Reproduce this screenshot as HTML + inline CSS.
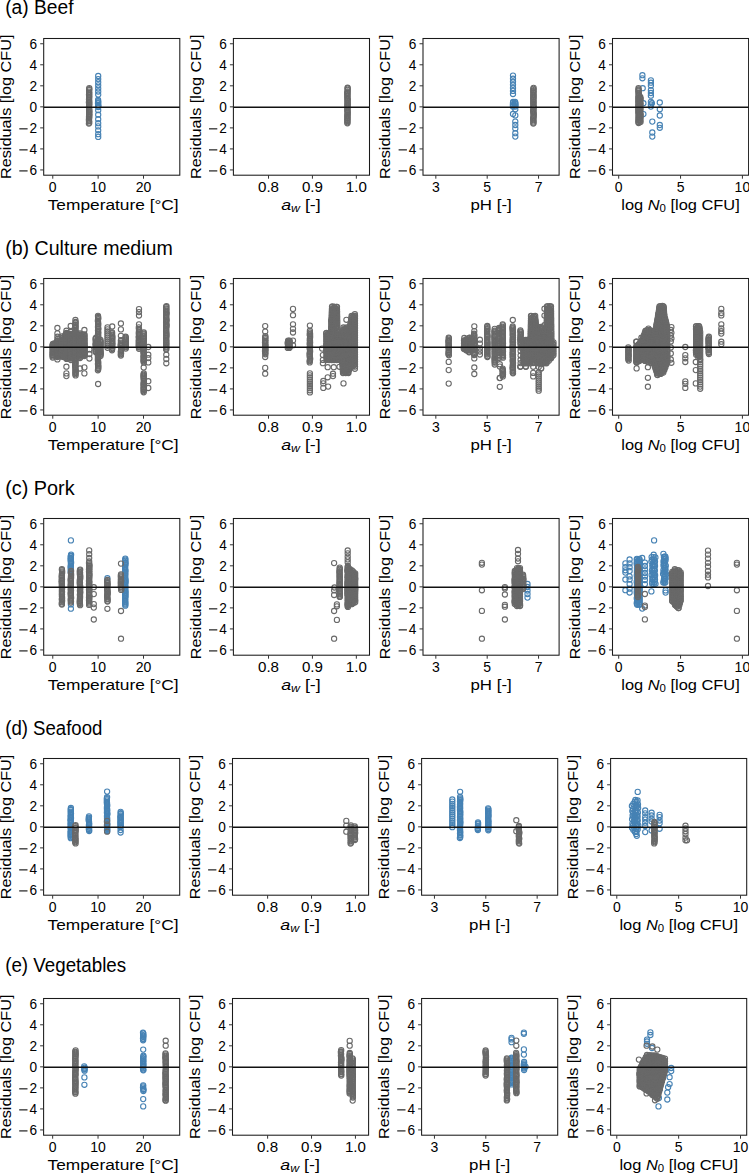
<!DOCTYPE html><html><head><meta charset="utf-8"><style>html,body{margin:0;padding:0;background:#fff;}svg{display:block;}text{font-family:"Liberation Sans",sans-serif;fill:#000;}circle{r:2.6px;stroke-width:1.1px;}</style></head><body>
<svg width="749" height="1173" viewBox="0 0 749 1173">
<rect x="0" y="0" width="749" height="1173" fill="#fff"/>
<text x="5.2" y="14.4" font-size="20" textLength="68.3" lengthAdjust="spacingAndGlyphs">(a) Beef</text>
<text x="5.2" y="254.6" font-size="20" textLength="167.6" lengthAdjust="spacingAndGlyphs">(b) Culture medium</text>
<text x="5.2" y="494.6" font-size="20" textLength="69.4" lengthAdjust="spacingAndGlyphs">(c) Pork</text>
<text x="5.2" y="734.6" font-size="20" textLength="97.2" lengthAdjust="spacingAndGlyphs">(d) Seafood</text>
<text x="5.2" y="972.0" font-size="20" textLength="121.0" lengthAdjust="spacingAndGlyphs">(e) Vegetables</text>
<g fill="none" stroke="#4682b4" stroke-width="1.1">
<circle r="2.6" cx="98.1" cy="100.0"/>
<circle r="2.6" cx="98.1" cy="101.2"/>
<circle r="2.6" cx="98.3" cy="102.4"/>
<circle r="2.6" cx="98.0" cy="103.2"/>
<circle r="2.6" cx="98.1" cy="104.9"/>
<circle r="2.6" cx="98.4" cy="105.7"/>
<circle r="2.6" cx="98.2" cy="107.0"/>
<circle r="2.6" cx="98.2" cy="76.0"/>
<circle r="2.6" cx="98.2" cy="79.1"/>
<circle r="2.6" cx="98.2" cy="82.2"/>
<circle r="2.6" cx="98.2" cy="85.3"/>
<circle r="2.6" cx="98.2" cy="88.4"/>
<circle r="2.6" cx="98.2" cy="91.5"/>
<circle r="2.6" cx="98.2" cy="94.6"/>
<circle r="2.6" cx="98.2" cy="110.2"/>
<circle r="2.6" cx="98.2" cy="114.7"/>
<circle r="2.6" cx="98.2" cy="119.2"/>
<circle r="2.6" cx="98.2" cy="123.2"/>
<circle r="2.6" cx="98.2" cy="126.4"/>
<circle r="2.6" cx="98.2" cy="130.3"/>
<circle r="2.6" cx="98.2" cy="134.2"/>
<circle r="2.6" cx="98.2" cy="136.9"/>
</g>
<g fill="none" stroke="#696969" stroke-width="1.1">
<circle r="2.6" cx="89.3" cy="88.1"/>
<circle r="2.6" cx="89.2" cy="89.2"/>
<circle r="2.6" cx="89.2" cy="90.1"/>
<circle r="2.6" cx="89.1" cy="91.6"/>
<circle r="2.6" cx="89.2" cy="92.7"/>
<circle r="2.6" cx="89.2" cy="93.4"/>
<circle r="2.6" cx="89.0" cy="94.8"/>
<circle r="2.6" cx="89.3" cy="95.6"/>
<circle r="2.6" cx="89.2" cy="97.0"/>
<circle r="2.6" cx="89.2" cy="98.3"/>
<circle r="2.6" cx="89.0" cy="99.4"/>
<circle r="2.6" cx="89.1" cy="100.5"/>
<circle r="2.6" cx="89.3" cy="101.7"/>
<circle r="2.6" cx="88.9" cy="102.3"/>
<circle r="2.6" cx="89.3" cy="103.5"/>
<circle r="2.6" cx="89.2" cy="104.7"/>
<circle r="2.6" cx="89.1" cy="105.7"/>
<circle r="2.6" cx="89.0" cy="106.9"/>
<circle r="2.6" cx="89.1" cy="108.1"/>
<circle r="2.6" cx="89.2" cy="109.4"/>
<circle r="2.6" cx="89.3" cy="110.5"/>
<circle r="2.6" cx="89.2" cy="111.7"/>
<circle r="2.6" cx="89.3" cy="112.3"/>
<circle r="2.6" cx="89.3" cy="113.9"/>
<circle r="2.6" cx="89.2" cy="114.8"/>
<circle r="2.6" cx="89.3" cy="115.7"/>
<circle r="2.6" cx="89.0" cy="117.0"/>
<circle r="2.6" cx="89.3" cy="117.8"/>
<circle r="2.6" cx="88.9" cy="119.5"/>
<circle r="2.6" cx="89.1" cy="120.5"/>
<circle r="2.6" cx="89.0" cy="121.2"/>
<circle r="2.6" cx="89.3" cy="122.7"/>
<circle r="2.6" cx="88.9" cy="123.6"/>
</g>
<line x1="43.7" y1="107.25" x2="179.8" y2="107.25" stroke="#111" stroke-width="1.6"/>
<rect x="43.7" y="38.5" width="136.1" height="136.7" fill="none" stroke="#1a1a1a" stroke-width="1.05"/>
<line x1="40.2" y1="169.94" x2="43.7" y2="169.94" stroke="#333" stroke-width="1.0"/>
<text x="37.1" y="174.74" font-size="14" text-anchor="end" textLength="7.6" lengthAdjust="spacingAndGlyphs">6</text>
<rect x="19.3" y="170.39" width="8.3" height="1.05" fill="#000"/>
<line x1="40.2" y1="148.91" x2="43.7" y2="148.91" stroke="#333" stroke-width="1.0"/>
<text x="37.1" y="153.71" font-size="14" text-anchor="end" textLength="7.6" lengthAdjust="spacingAndGlyphs">4</text>
<rect x="19.3" y="149.36" width="8.3" height="1.05" fill="#000"/>
<line x1="40.2" y1="127.88" x2="43.7" y2="127.88" stroke="#333" stroke-width="1.0"/>
<text x="37.1" y="132.68" font-size="14" text-anchor="end" textLength="7.6" lengthAdjust="spacingAndGlyphs">2</text>
<rect x="19.3" y="128.33" width="8.3" height="1.05" fill="#000"/>
<line x1="40.2" y1="106.85" x2="43.7" y2="106.85" stroke="#333" stroke-width="1.0"/>
<text x="37.1" y="111.65" font-size="14" text-anchor="end" textLength="7.6" lengthAdjust="spacingAndGlyphs">0</text>
<line x1="40.2" y1="85.82" x2="43.7" y2="85.82" stroke="#333" stroke-width="1.0"/>
<text x="37.1" y="90.62" font-size="14" text-anchor="end" textLength="7.6" lengthAdjust="spacingAndGlyphs">2</text>
<line x1="40.2" y1="64.79" x2="43.7" y2="64.79" stroke="#333" stroke-width="1.0"/>
<text x="37.1" y="69.59" font-size="14" text-anchor="end" textLength="7.6" lengthAdjust="spacingAndGlyphs">4</text>
<line x1="40.2" y1="43.76" x2="43.7" y2="43.76" stroke="#333" stroke-width="1.0"/>
<text x="37.1" y="48.56" font-size="14" text-anchor="end" textLength="7.6" lengthAdjust="spacingAndGlyphs">6</text>
<line x1="52.77" y1="175.2" x2="52.77" y2="178.7" stroke="#333" stroke-width="1.0"/>
<text x="52.77" y="192.0" font-size="14" text-anchor="middle" textLength="7.8" lengthAdjust="spacingAndGlyphs">0</text>
<line x1="98.14" y1="175.2" x2="98.14" y2="178.7" stroke="#333" stroke-width="1.0"/>
<text x="98.14" y="192.0" font-size="14" text-anchor="middle" textLength="15.6" lengthAdjust="spacingAndGlyphs">10</text>
<line x1="143.51" y1="175.2" x2="143.51" y2="178.7" stroke="#333" stroke-width="1.0"/>
<text x="143.51" y="192.0" font-size="14" text-anchor="middle" textLength="15.6" lengthAdjust="spacingAndGlyphs">20</text>
<text transform="translate(11.0,106.8) rotate(-90)" font-size="15.2" text-anchor="middle" textLength="144.5" lengthAdjust="spacingAndGlyphs">Residuals [log CFU]</text>
<text x="113.2" y="209.8" font-size="15.2" text-anchor="middle" textLength="131" lengthAdjust="spacingAndGlyphs">Temperature [°C]</text>
<g fill="none" stroke="#696969" stroke-width="1.1">
<circle r="2.6" cx="347.6" cy="87.7"/>
<circle r="2.6" cx="347.6" cy="88.5"/>
<circle r="2.6" cx="347.7" cy="89.8"/>
<circle r="2.6" cx="347.5" cy="91.3"/>
<circle r="2.6" cx="347.4" cy="92.4"/>
<circle r="2.6" cx="347.5" cy="93.0"/>
<circle r="2.6" cx="347.3" cy="94.1"/>
<circle r="2.6" cx="347.6" cy="95.4"/>
<circle r="2.6" cx="347.3" cy="96.4"/>
<circle r="2.6" cx="347.4" cy="97.9"/>
<circle r="2.6" cx="347.7" cy="99.1"/>
<circle r="2.6" cx="347.5" cy="99.9"/>
<circle r="2.6" cx="347.6" cy="101.1"/>
<circle r="2.6" cx="347.5" cy="102.2"/>
<circle r="2.6" cx="347.7" cy="103.3"/>
<circle r="2.6" cx="347.5" cy="104.4"/>
<circle r="2.6" cx="347.4" cy="105.6"/>
<circle r="2.6" cx="347.7" cy="106.5"/>
<circle r="2.6" cx="347.5" cy="107.7"/>
<circle r="2.6" cx="347.5" cy="108.5"/>
<circle r="2.6" cx="347.3" cy="110.0"/>
<circle r="2.6" cx="347.6" cy="111.1"/>
<circle r="2.6" cx="347.6" cy="111.9"/>
<circle r="2.6" cx="347.6" cy="113.3"/>
<circle r="2.6" cx="347.6" cy="114.3"/>
<circle r="2.6" cx="347.3" cy="115.7"/>
<circle r="2.6" cx="347.6" cy="116.4"/>
<circle r="2.6" cx="347.4" cy="118.0"/>
<circle r="2.6" cx="347.5" cy="118.8"/>
<circle r="2.6" cx="347.4" cy="119.9"/>
<circle r="2.6" cx="347.4" cy="121.0"/>
<circle r="2.6" cx="347.4" cy="122.2"/>
<circle r="2.6" cx="347.4" cy="123.3"/>
</g>
<line x1="233.4" y1="107.25" x2="369.5" y2="107.25" stroke="#111" stroke-width="1.6"/>
<rect x="233.4" y="38.5" width="136.1" height="136.7" fill="none" stroke="#1a1a1a" stroke-width="1.05"/>
<line x1="229.9" y1="169.94" x2="233.4" y2="169.94" stroke="#333" stroke-width="1.0"/>
<text x="226.8" y="174.74" font-size="14" text-anchor="end" textLength="7.6" lengthAdjust="spacingAndGlyphs">6</text>
<rect x="209.0" y="170.39" width="8.3" height="1.05" fill="#000"/>
<line x1="229.9" y1="148.91" x2="233.4" y2="148.91" stroke="#333" stroke-width="1.0"/>
<text x="226.8" y="153.71" font-size="14" text-anchor="end" textLength="7.6" lengthAdjust="spacingAndGlyphs">4</text>
<rect x="209.0" y="149.36" width="8.3" height="1.05" fill="#000"/>
<line x1="229.9" y1="127.88" x2="233.4" y2="127.88" stroke="#333" stroke-width="1.0"/>
<text x="226.8" y="132.68" font-size="14" text-anchor="end" textLength="7.6" lengthAdjust="spacingAndGlyphs">2</text>
<rect x="209.0" y="128.33" width="8.3" height="1.05" fill="#000"/>
<line x1="229.9" y1="106.85" x2="233.4" y2="106.85" stroke="#333" stroke-width="1.0"/>
<text x="226.8" y="111.65" font-size="14" text-anchor="end" textLength="7.6" lengthAdjust="spacingAndGlyphs">0</text>
<line x1="229.9" y1="85.82" x2="233.4" y2="85.82" stroke="#333" stroke-width="1.0"/>
<text x="226.8" y="90.62" font-size="14" text-anchor="end" textLength="7.6" lengthAdjust="spacingAndGlyphs">2</text>
<line x1="229.9" y1="64.79" x2="233.4" y2="64.79" stroke="#333" stroke-width="1.0"/>
<text x="226.8" y="69.59" font-size="14" text-anchor="end" textLength="7.6" lengthAdjust="spacingAndGlyphs">4</text>
<line x1="229.9" y1="43.76" x2="233.4" y2="43.76" stroke="#333" stroke-width="1.0"/>
<text x="226.8" y="48.56" font-size="14" text-anchor="end" textLength="7.6" lengthAdjust="spacingAndGlyphs">6</text>
<line x1="268.52" y1="175.2" x2="268.52" y2="178.7" stroke="#333" stroke-width="1.0"/>
<text x="268.52" y="192.0" font-size="14" text-anchor="middle" textLength="21.0" lengthAdjust="spacingAndGlyphs">0.8</text>
<line x1="312.43" y1="175.2" x2="312.43" y2="178.7" stroke="#333" stroke-width="1.0"/>
<text x="312.43" y="192.0" font-size="14" text-anchor="middle" textLength="21.0" lengthAdjust="spacingAndGlyphs">0.9</text>
<line x1="356.33" y1="175.2" x2="356.33" y2="178.7" stroke="#333" stroke-width="1.0"/>
<text x="356.33" y="192.0" font-size="14" text-anchor="middle" textLength="21.0" lengthAdjust="spacingAndGlyphs">1.0</text>
<text transform="translate(200.7,106.8) rotate(-90)" font-size="15.2" text-anchor="middle" textLength="144.5" lengthAdjust="spacingAndGlyphs">Residuals [log CFU]</text>
<text x="300.9" y="209.8" font-size="15.2" text-anchor="middle" textLength="39.5" lengthAdjust="spacingAndGlyphs"><tspan font-style="italic">a</tspan><tspan font-style="italic" font-size="10.6" dy="2.6">w</tspan><tspan dy="-2.6"> [-]</tspan></text>
<g fill="none" stroke="#4682b4" stroke-width="1.1">
<circle r="2.6" cx="513.1" cy="102.0"/>
<circle r="2.6" cx="513.0" cy="102.8"/>
<circle r="2.6" cx="512.9" cy="104.4"/>
<circle r="2.6" cx="513.2" cy="105.2"/>
<circle r="2.6" cx="512.9" cy="106.5"/>
<circle r="2.6" cx="515.1" cy="102.0"/>
<circle r="2.6" cx="515.4" cy="103.1"/>
<circle r="2.6" cx="515.2" cy="104.0"/>
<circle r="2.6" cx="515.5" cy="105.3"/>
<circle r="2.6" cx="515.3" cy="106.5"/>
<circle r="2.6" cx="513.0" cy="75.6"/>
<circle r="2.6" cx="513.0" cy="78.7"/>
<circle r="2.6" cx="513.0" cy="81.7"/>
<circle r="2.6" cx="513.0" cy="84.8"/>
<circle r="2.6" cx="513.0" cy="87.9"/>
<circle r="2.6" cx="513.0" cy="90.9"/>
<circle r="2.6" cx="513.0" cy="94.0"/>
<circle r="2.6" cx="513.0" cy="114.0"/>
<circle r="2.6" cx="515.3" cy="109.3"/>
<circle r="2.6" cx="515.3" cy="115.4"/>
<circle r="2.6" cx="515.3" cy="121.6"/>
<circle r="2.6" cx="515.3" cy="125.0"/>
<circle r="2.6" cx="515.3" cy="128.4"/>
<circle r="2.6" cx="515.3" cy="133.2"/>
<circle r="2.6" cx="515.3" cy="136.6"/>
</g>
<g fill="none" stroke="#696969" stroke-width="1.1">
<circle r="2.6" cx="533.6" cy="87.9"/>
<circle r="2.6" cx="533.3" cy="88.8"/>
<circle r="2.6" cx="533.6" cy="90.2"/>
<circle r="2.6" cx="533.3" cy="91.2"/>
<circle r="2.6" cx="533.4" cy="92.1"/>
<circle r="2.6" cx="533.6" cy="93.3"/>
<circle r="2.6" cx="533.2" cy="94.8"/>
<circle r="2.6" cx="533.6" cy="95.6"/>
<circle r="2.6" cx="533.6" cy="96.9"/>
<circle r="2.6" cx="533.2" cy="97.8"/>
<circle r="2.6" cx="533.5" cy="98.9"/>
<circle r="2.6" cx="533.3" cy="100.0"/>
<circle r="2.6" cx="533.4" cy="101.2"/>
<circle r="2.6" cx="533.6" cy="102.3"/>
<circle r="2.6" cx="533.2" cy="103.3"/>
<circle r="2.6" cx="533.6" cy="104.9"/>
<circle r="2.6" cx="533.4" cy="106.0"/>
<circle r="2.6" cx="533.6" cy="107.1"/>
<circle r="2.6" cx="533.5" cy="107.8"/>
<circle r="2.6" cx="533.5" cy="109.3"/>
<circle r="2.6" cx="533.3" cy="110.2"/>
<circle r="2.6" cx="533.3" cy="111.2"/>
<circle r="2.6" cx="533.4" cy="112.2"/>
<circle r="2.6" cx="533.6" cy="113.4"/>
<circle r="2.6" cx="533.6" cy="114.4"/>
<circle r="2.6" cx="533.6" cy="115.9"/>
<circle r="2.6" cx="533.6" cy="117.1"/>
<circle r="2.6" cx="533.2" cy="118.1"/>
<circle r="2.6" cx="533.2" cy="119.3"/>
<circle r="2.6" cx="533.5" cy="120.1"/>
<circle r="2.6" cx="533.4" cy="121.4"/>
<circle r="2.6" cx="533.5" cy="122.7"/>
<circle r="2.6" cx="533.3" cy="123.6"/>
</g>
<line x1="423.0" y1="107.25" x2="559.1" y2="107.25" stroke="#111" stroke-width="1.6"/>
<rect x="423.0" y="38.5" width="136.1" height="136.7" fill="none" stroke="#1a1a1a" stroke-width="1.05"/>
<line x1="419.5" y1="169.94" x2="423.0" y2="169.94" stroke="#333" stroke-width="1.0"/>
<text x="416.4" y="174.74" font-size="14" text-anchor="end" textLength="7.6" lengthAdjust="spacingAndGlyphs">6</text>
<rect x="398.6" y="170.39" width="8.3" height="1.05" fill="#000"/>
<line x1="419.5" y1="148.91" x2="423.0" y2="148.91" stroke="#333" stroke-width="1.0"/>
<text x="416.4" y="153.71" font-size="14" text-anchor="end" textLength="7.6" lengthAdjust="spacingAndGlyphs">4</text>
<rect x="398.6" y="149.36" width="8.3" height="1.05" fill="#000"/>
<line x1="419.5" y1="127.88" x2="423.0" y2="127.88" stroke="#333" stroke-width="1.0"/>
<text x="416.4" y="132.68" font-size="14" text-anchor="end" textLength="7.6" lengthAdjust="spacingAndGlyphs">2</text>
<rect x="398.6" y="128.33" width="8.3" height="1.05" fill="#000"/>
<line x1="419.5" y1="106.85" x2="423.0" y2="106.85" stroke="#333" stroke-width="1.0"/>
<text x="416.4" y="111.65" font-size="14" text-anchor="end" textLength="7.6" lengthAdjust="spacingAndGlyphs">0</text>
<line x1="419.5" y1="85.82" x2="423.0" y2="85.82" stroke="#333" stroke-width="1.0"/>
<text x="416.4" y="90.62" font-size="14" text-anchor="end" textLength="7.6" lengthAdjust="spacingAndGlyphs">2</text>
<line x1="419.5" y1="64.79" x2="423.0" y2="64.79" stroke="#333" stroke-width="1.0"/>
<text x="416.4" y="69.59" font-size="14" text-anchor="end" textLength="7.6" lengthAdjust="spacingAndGlyphs">4</text>
<line x1="419.5" y1="43.76" x2="423.0" y2="43.76" stroke="#333" stroke-width="1.0"/>
<text x="416.4" y="48.56" font-size="14" text-anchor="end" textLength="7.6" lengthAdjust="spacingAndGlyphs">6</text>
<line x1="435.84" y1="175.2" x2="435.84" y2="178.7" stroke="#333" stroke-width="1.0"/>
<text x="435.84" y="192.0" font-size="14" text-anchor="middle" textLength="7.8" lengthAdjust="spacingAndGlyphs">3</text>
<line x1="487.20" y1="175.2" x2="487.20" y2="178.7" stroke="#333" stroke-width="1.0"/>
<text x="487.20" y="192.0" font-size="14" text-anchor="middle" textLength="7.8" lengthAdjust="spacingAndGlyphs">5</text>
<line x1="538.56" y1="175.2" x2="538.56" y2="178.7" stroke="#333" stroke-width="1.0"/>
<text x="538.56" y="192.0" font-size="14" text-anchor="middle" textLength="7.8" lengthAdjust="spacingAndGlyphs">7</text>
<text transform="translate(390.3,106.8) rotate(-90)" font-size="15.2" text-anchor="middle" textLength="144.5" lengthAdjust="spacingAndGlyphs">Residuals [log CFU]</text>
<text x="491.1" y="209.8" font-size="15.2" text-anchor="middle" textLength="41.2" lengthAdjust="spacingAndGlyphs">pH [-]</text>
<g fill="none" stroke="#4682b4" stroke-width="1.1">
<circle r="2.6" cx="642.4" cy="75.2"/>
<circle r="2.6" cx="642.4" cy="78.3"/>
<circle r="2.6" cx="642.7" cy="88.2"/>
<circle r="2.6" cx="643.4" cy="103.2"/>
<circle r="2.6" cx="643.4" cy="114.1"/>
<circle r="2.6" cx="650.9" cy="80.3"/>
<circle r="2.6" cx="650.9" cy="82.7"/>
<circle r="2.6" cx="650.9" cy="85.5"/>
<circle r="2.6" cx="650.9" cy="90.2"/>
<circle r="2.6" cx="650.9" cy="93.0"/>
<circle r="2.6" cx="650.9" cy="95.7"/>
<circle r="2.6" cx="650.9" cy="101.8"/>
<circle r="2.6" cx="650.9" cy="104.6"/>
<circle r="2.6" cx="651.9" cy="103.2"/>
<circle r="2.6" cx="650.9" cy="106.6"/>
<circle r="2.6" cx="659.8" cy="102.5"/>
<circle r="2.6" cx="659.8" cy="109.3"/>
<circle r="2.6" cx="659.8" cy="115.5"/>
<circle r="2.6" cx="652.3" cy="121.6"/>
<circle r="2.6" cx="659.8" cy="125.0"/>
<circle r="2.6" cx="659.8" cy="127.8"/>
<circle r="2.6" cx="652.3" cy="132.5"/>
<circle r="2.6" cx="652.3" cy="136.6"/>
</g>
<g fill="none" stroke="#696969" stroke-width="1.1">
<circle r="2.6" cx="638.5" cy="88.2"/>
<circle r="2.6" cx="638.6" cy="89.5"/>
<circle r="2.6" cx="638.5" cy="90.5"/>
<circle r="2.6" cx="638.6" cy="91.3"/>
<circle r="2.6" cx="638.4" cy="92.7"/>
<circle r="2.6" cx="638.8" cy="93.8"/>
<circle r="2.6" cx="638.8" cy="94.9"/>
<circle r="2.6" cx="638.7" cy="95.5"/>
<circle r="2.6" cx="638.4" cy="97.1"/>
<circle r="2.6" cx="638.5" cy="97.9"/>
<circle r="2.6" cx="638.6" cy="99.1"/>
<circle r="2.6" cx="638.7" cy="100.1"/>
<circle r="2.6" cx="638.4" cy="101.0"/>
<circle r="2.6" cx="638.4" cy="102.1"/>
<circle r="2.6" cx="638.8" cy="103.2"/>
<circle r="2.6" cx="638.4" cy="104.7"/>
<circle r="2.6" cx="638.5" cy="105.6"/>
<circle r="2.6" cx="638.5" cy="106.6"/>
<circle r="2.6" cx="638.6" cy="107.9"/>
<circle r="2.6" cx="638.4" cy="108.8"/>
<circle r="2.6" cx="638.4" cy="109.8"/>
<circle r="2.6" cx="638.7" cy="111.1"/>
<circle r="2.6" cx="638.4" cy="112.1"/>
<circle r="2.6" cx="638.5" cy="113.0"/>
<circle r="2.6" cx="638.7" cy="114.4"/>
<circle r="2.6" cx="638.8" cy="115.3"/>
<circle r="2.6" cx="638.6" cy="116.5"/>
<circle r="2.6" cx="638.6" cy="117.5"/>
<circle r="2.6" cx="638.6" cy="118.8"/>
<circle r="2.6" cx="638.6" cy="119.9"/>
<circle r="2.6" cx="638.6" cy="120.7"/>
<circle r="2.6" cx="638.4" cy="122.0"/>
<circle r="2.6" cx="638.6" cy="123.0"/>
<circle r="2.6" cx="640.3" cy="97.0"/>
<circle r="2.6" cx="640.5" cy="98.3"/>
<circle r="2.6" cx="640.5" cy="99.1"/>
<circle r="2.6" cx="640.2" cy="100.4"/>
<circle r="2.6" cx="640.1" cy="101.3"/>
<circle r="2.6" cx="640.4" cy="102.6"/>
<circle r="2.6" cx="640.4" cy="103.8"/>
<circle r="2.6" cx="640.4" cy="104.7"/>
<circle r="2.6" cx="640.1" cy="105.7"/>
<circle r="2.6" cx="640.1" cy="106.8"/>
<circle r="2.6" cx="640.4" cy="107.7"/>
<circle r="2.6" cx="640.1" cy="108.7"/>
<circle r="2.6" cx="640.5" cy="109.8"/>
<circle r="2.6" cx="640.1" cy="110.9"/>
<circle r="2.6" cx="640.1" cy="112.4"/>
<circle r="2.6" cx="640.4" cy="113.5"/>
<circle r="2.6" cx="640.5" cy="114.6"/>
<circle r="2.6" cx="640.4" cy="115.5"/>
<circle r="2.6" cx="640.4" cy="116.3"/>
<circle r="2.6" cx="640.4" cy="117.7"/>
<circle r="2.6" cx="640.4" cy="118.5"/>
<circle r="2.6" cx="640.1" cy="120.1"/>
<circle r="2.6" cx="640.3" cy="120.8"/>
<circle r="2.6" cx="640.5" cy="122.0"/>
</g>
<line x1="612.5" y1="107.25" x2="748.6" y2="107.25" stroke="#111" stroke-width="1.6"/>
<rect x="612.5" y="38.5" width="136.1" height="136.7" fill="none" stroke="#1a1a1a" stroke-width="1.05"/>
<line x1="609.0" y1="169.94" x2="612.5" y2="169.94" stroke="#333" stroke-width="1.0"/>
<text x="605.9" y="174.74" font-size="14" text-anchor="end" textLength="7.6" lengthAdjust="spacingAndGlyphs">6</text>
<rect x="588.1" y="170.39" width="8.3" height="1.05" fill="#000"/>
<line x1="609.0" y1="148.91" x2="612.5" y2="148.91" stroke="#333" stroke-width="1.0"/>
<text x="605.9" y="153.71" font-size="14" text-anchor="end" textLength="7.6" lengthAdjust="spacingAndGlyphs">4</text>
<rect x="588.1" y="149.36" width="8.3" height="1.05" fill="#000"/>
<line x1="609.0" y1="127.88" x2="612.5" y2="127.88" stroke="#333" stroke-width="1.0"/>
<text x="605.9" y="132.68" font-size="14" text-anchor="end" textLength="7.6" lengthAdjust="spacingAndGlyphs">2</text>
<rect x="588.1" y="128.33" width="8.3" height="1.05" fill="#000"/>
<line x1="609.0" y1="106.85" x2="612.5" y2="106.85" stroke="#333" stroke-width="1.0"/>
<text x="605.9" y="111.65" font-size="14" text-anchor="end" textLength="7.6" lengthAdjust="spacingAndGlyphs">0</text>
<line x1="609.0" y1="85.82" x2="612.5" y2="85.82" stroke="#333" stroke-width="1.0"/>
<text x="605.9" y="90.62" font-size="14" text-anchor="end" textLength="7.6" lengthAdjust="spacingAndGlyphs">2</text>
<line x1="609.0" y1="64.79" x2="612.5" y2="64.79" stroke="#333" stroke-width="1.0"/>
<text x="605.9" y="69.59" font-size="14" text-anchor="end" textLength="7.6" lengthAdjust="spacingAndGlyphs">4</text>
<line x1="609.0" y1="43.76" x2="612.5" y2="43.76" stroke="#333" stroke-width="1.0"/>
<text x="605.9" y="48.56" font-size="14" text-anchor="end" textLength="7.6" lengthAdjust="spacingAndGlyphs">6</text>
<line x1="618.69" y1="175.2" x2="618.69" y2="178.7" stroke="#333" stroke-width="1.0"/>
<text x="618.69" y="192.0" font-size="14" text-anchor="middle" textLength="7.8" lengthAdjust="spacingAndGlyphs">0</text>
<line x1="680.55" y1="175.2" x2="680.55" y2="178.7" stroke="#333" stroke-width="1.0"/>
<text x="680.55" y="192.0" font-size="14" text-anchor="middle" textLength="7.8" lengthAdjust="spacingAndGlyphs">5</text>
<line x1="742.41" y1="175.2" x2="742.41" y2="178.7" stroke="#333" stroke-width="1.0"/>
<text x="742.41" y="192.0" font-size="14" text-anchor="middle" textLength="15.6" lengthAdjust="spacingAndGlyphs">10</text>
<text transform="translate(579.8,106.8) rotate(-90)" font-size="15.2" text-anchor="middle" textLength="144.5" lengthAdjust="spacingAndGlyphs">Residuals [log CFU]</text>
<text x="680.5" y="209.8" font-size="15.2" text-anchor="middle" textLength="118.5" lengthAdjust="spacingAndGlyphs">log <tspan font-style="italic">N</tspan><tspan font-size="10.6" dy="2.6">0</tspan><tspan dy="-2.6"> [log CFU]</tspan></text>
<g fill="none" stroke="#696969" stroke-width="1.1">
<circle r="2.6" cx="65.3" cy="334.9"/>
<circle r="2.6" cx="67.3" cy="335.3"/>
<circle r="2.6" cx="69.7" cy="335.1"/>
<circle r="2.6" cx="71.4" cy="335.1"/>
<circle r="2.6" cx="73.4" cy="335.1"/>
<circle r="2.6" cx="75.2" cy="335.2"/>
<circle r="2.6" cx="77.9" cy="335.1"/>
<circle r="2.6" cx="79.7" cy="334.9"/>
<circle r="2.6" cx="81.7" cy="335.4"/>
<circle r="2.6" cx="83.6" cy="335.2"/>
<circle r="2.6" cx="66.5" cy="336.5"/>
<circle r="2.6" cx="68.8" cy="336.1"/>
<circle r="2.6" cx="70.2" cy="336.6"/>
<circle r="2.6" cx="72.8" cy="336.4"/>
<circle r="2.6" cx="74.5" cy="336.6"/>
<circle r="2.6" cx="76.2" cy="336.2"/>
<circle r="2.6" cx="78.3" cy="336.5"/>
<circle r="2.6" cx="80.4" cy="336.2"/>
<circle r="2.6" cx="82.7" cy="336.8"/>
<circle r="2.6" cx="65.3" cy="337.8"/>
<circle r="2.6" cx="67.4" cy="337.9"/>
<circle r="2.6" cx="69.6" cy="337.4"/>
<circle r="2.6" cx="71.3" cy="337.2"/>
<circle r="2.6" cx="73.5" cy="337.5"/>
<circle r="2.6" cx="75.2" cy="337.5"/>
<circle r="2.6" cx="77.4" cy="337.8"/>
<circle r="2.6" cx="79.2" cy="338.0"/>
<circle r="2.6" cx="81.5" cy="337.7"/>
<circle r="2.6" cx="83.5" cy="337.9"/>
<circle r="2.6" cx="64.8" cy="338.8"/>
<circle r="2.6" cx="66.5" cy="339.0"/>
<circle r="2.6" cx="68.8" cy="338.7"/>
<circle r="2.6" cx="70.7" cy="339.2"/>
<circle r="2.6" cx="72.5" cy="338.6"/>
<circle r="2.6" cx="74.3" cy="339.0"/>
<circle r="2.6" cx="76.6" cy="339.2"/>
<circle r="2.6" cx="78.8" cy="338.6"/>
<circle r="2.6" cx="80.3" cy="338.6"/>
<circle r="2.6" cx="82.2" cy="339.0"/>
<circle r="2.6" cx="63.8" cy="340.3"/>
<circle r="2.6" cx="65.3" cy="340.3"/>
<circle r="2.6" cx="67.4" cy="339.9"/>
<circle r="2.6" cx="69.7" cy="339.7"/>
<circle r="2.6" cx="71.2" cy="340.3"/>
<circle r="2.6" cx="73.3" cy="339.9"/>
<circle r="2.6" cx="75.6" cy="340.1"/>
<circle r="2.6" cx="77.1" cy="339.9"/>
<circle r="2.6" cx="79.4" cy="340.0"/>
<circle r="2.6" cx="81.3" cy="340.1"/>
<circle r="2.6" cx="83.9" cy="339.9"/>
<circle r="2.6" cx="62.5" cy="340.9"/>
<circle r="2.6" cx="64.3" cy="341.3"/>
<circle r="2.6" cx="66.2" cy="341.5"/>
<circle r="2.6" cx="68.8" cy="340.9"/>
<circle r="2.6" cx="70.9" cy="341.1"/>
<circle r="2.6" cx="72.7" cy="341.4"/>
<circle r="2.6" cx="74.3" cy="341.3"/>
<circle r="2.6" cx="76.6" cy="341.4"/>
<circle r="2.6" cx="78.3" cy="341.4"/>
<circle r="2.6" cx="80.9" cy="341.3"/>
<circle r="2.6" cx="82.5" cy="340.9"/>
<circle r="2.6" cx="61.5" cy="342.3"/>
<circle r="2.6" cx="63.7" cy="342.5"/>
<circle r="2.6" cx="65.6" cy="342.1"/>
<circle r="2.6" cx="67.6" cy="342.5"/>
<circle r="2.6" cx="69.2" cy="342.7"/>
<circle r="2.6" cx="71.6" cy="342.1"/>
<circle r="2.6" cx="73.8" cy="342.1"/>
<circle r="2.6" cx="75.4" cy="342.6"/>
<circle r="2.6" cx="77.6" cy="342.4"/>
<circle r="2.6" cx="79.6" cy="342.4"/>
<circle r="2.6" cx="81.3" cy="342.1"/>
<circle r="2.6" cx="83.2" cy="342.6"/>
<circle r="2.6" cx="54.7" cy="343.6"/>
<circle r="2.6" cx="56.7" cy="343.5"/>
<circle r="2.6" cx="58.3" cy="343.5"/>
<circle r="2.6" cx="60.8" cy="343.2"/>
<circle r="2.6" cx="62.5" cy="343.4"/>
<circle r="2.6" cx="64.7" cy="343.5"/>
<circle r="2.6" cx="66.4" cy="343.5"/>
<circle r="2.6" cx="68.5" cy="343.8"/>
<circle r="2.6" cx="70.4" cy="343.9"/>
<circle r="2.6" cx="72.2" cy="343.4"/>
<circle r="2.6" cx="74.2" cy="343.3"/>
<circle r="2.6" cx="76.7" cy="343.8"/>
<circle r="2.6" cx="78.2" cy="343.4"/>
<circle r="2.6" cx="80.4" cy="343.8"/>
<circle r="2.6" cx="82.8" cy="343.8"/>
<circle r="2.6" cx="55.6" cy="344.5"/>
<circle r="2.6" cx="57.4" cy="344.6"/>
<circle r="2.6" cx="59.5" cy="344.9"/>
<circle r="2.6" cx="61.3" cy="344.6"/>
<circle r="2.6" cx="63.7" cy="344.4"/>
<circle r="2.6" cx="65.7" cy="345.1"/>
<circle r="2.6" cx="67.9" cy="344.7"/>
<circle r="2.6" cx="69.5" cy="344.9"/>
<circle r="2.6" cx="71.6" cy="345.2"/>
<circle r="2.6" cx="73.6" cy="344.6"/>
<circle r="2.6" cx="75.8" cy="344.8"/>
<circle r="2.6" cx="77.6" cy="345.0"/>
<circle r="2.6" cx="79.1" cy="345.0"/>
<circle r="2.6" cx="81.6" cy="344.8"/>
<circle r="2.6" cx="83.5" cy="344.8"/>
<circle r="2.6" cx="54.3" cy="346.0"/>
<circle r="2.6" cx="56.1" cy="346.0"/>
<circle r="2.6" cx="58.6" cy="346.0"/>
<circle r="2.6" cx="60.6" cy="346.4"/>
<circle r="2.6" cx="62.8" cy="345.7"/>
<circle r="2.6" cx="64.7" cy="346.1"/>
<circle r="2.6" cx="66.1" cy="345.9"/>
<circle r="2.6" cx="68.3" cy="345.7"/>
<circle r="2.6" cx="70.5" cy="346.3"/>
<circle r="2.6" cx="72.4" cy="346.3"/>
<circle r="2.6" cx="74.7" cy="345.7"/>
<circle r="2.6" cx="76.8" cy="346.1"/>
<circle r="2.6" cx="78.8" cy="346.2"/>
<circle r="2.6" cx="80.7" cy="345.9"/>
<circle r="2.6" cx="82.7" cy="346.3"/>
<circle r="2.6" cx="55.8" cy="347.1"/>
<circle r="2.6" cx="57.7" cy="347.2"/>
<circle r="2.6" cx="59.2" cy="346.8"/>
<circle r="2.6" cx="61.2" cy="347.0"/>
<circle r="2.6" cx="63.2" cy="347.2"/>
<circle r="2.6" cx="65.7" cy="347.2"/>
<circle r="2.6" cx="67.4" cy="347.3"/>
<circle r="2.6" cx="69.3" cy="347.2"/>
<circle r="2.6" cx="71.7" cy="347.1"/>
<circle r="2.6" cx="73.2" cy="347.5"/>
<circle r="2.6" cx="75.7" cy="347.1"/>
<circle r="2.6" cx="77.4" cy="347.2"/>
<circle r="2.6" cx="79.6" cy="347.0"/>
<circle r="2.6" cx="81.1" cy="347.0"/>
<circle r="2.6" cx="83.7" cy="346.9"/>
<circle r="2.6" cx="54.5" cy="348.2"/>
<circle r="2.6" cx="56.3" cy="348.1"/>
<circle r="2.6" cx="58.4" cy="348.1"/>
<circle r="2.6" cx="60.1" cy="348.1"/>
<circle r="2.6" cx="62.2" cy="348.4"/>
<circle r="2.6" cx="64.1" cy="348.0"/>
<circle r="2.6" cx="66.5" cy="348.3"/>
<circle r="2.6" cx="68.7" cy="348.0"/>
<circle r="2.6" cx="70.4" cy="348.3"/>
<circle r="2.6" cx="72.1" cy="348.8"/>
<circle r="2.6" cx="74.3" cy="348.1"/>
<circle r="2.6" cx="76.5" cy="348.1"/>
<circle r="2.6" cx="78.6" cy="348.3"/>
<circle r="2.6" cx="80.2" cy="348.0"/>
<circle r="2.6" cx="82.7" cy="348.2"/>
<circle r="2.6" cx="55.7" cy="349.6"/>
<circle r="2.6" cx="57.8" cy="349.4"/>
<circle r="2.6" cx="59.3" cy="349.4"/>
<circle r="2.6" cx="61.8" cy="349.7"/>
<circle r="2.6" cx="63.4" cy="349.3"/>
<circle r="2.6" cx="65.6" cy="350.0"/>
<circle r="2.6" cx="67.6" cy="349.2"/>
<circle r="2.6" cx="69.1" cy="349.3"/>
<circle r="2.6" cx="71.2" cy="349.2"/>
<circle r="2.6" cx="73.1" cy="349.7"/>
<circle r="2.6" cx="75.8" cy="349.4"/>
<circle r="2.6" cx="77.9" cy="349.6"/>
<circle r="2.6" cx="79.7" cy="349.9"/>
<circle r="2.6" cx="81.9" cy="349.2"/>
<circle r="2.6" cx="83.3" cy="349.7"/>
<circle r="2.6" cx="54.9" cy="350.5"/>
<circle r="2.6" cx="56.3" cy="351.1"/>
<circle r="2.6" cx="58.2" cy="350.7"/>
<circle r="2.6" cx="60.4" cy="350.9"/>
<circle r="2.6" cx="62.8" cy="350.5"/>
<circle r="2.6" cx="64.7" cy="351.0"/>
<circle r="2.6" cx="66.8" cy="350.8"/>
<circle r="2.6" cx="68.8" cy="350.7"/>
<circle r="2.6" cx="70.4" cy="350.6"/>
<circle r="2.6" cx="72.7" cy="350.8"/>
<circle r="2.6" cx="74.3" cy="350.5"/>
<circle r="2.6" cx="76.7" cy="350.9"/>
<circle r="2.6" cx="78.7" cy="350.7"/>
<circle r="2.6" cx="80.5" cy="350.5"/>
<circle r="2.6" cx="82.7" cy="350.4"/>
<circle r="2.6" cx="55.5" cy="352.2"/>
<circle r="2.6" cx="57.6" cy="351.7"/>
<circle r="2.6" cx="59.3" cy="352.3"/>
<circle r="2.6" cx="61.6" cy="352.3"/>
<circle r="2.6" cx="63.8" cy="352.0"/>
<circle r="2.6" cx="65.8" cy="352.2"/>
<circle r="2.6" cx="67.4" cy="351.9"/>
<circle r="2.6" cx="69.2" cy="351.9"/>
<circle r="2.6" cx="71.9" cy="351.7"/>
<circle r="2.6" cx="73.6" cy="351.7"/>
<circle r="2.6" cx="75.2" cy="352.1"/>
<circle r="2.6" cx="77.3" cy="351.6"/>
<circle r="2.6" cx="79.2" cy="352.1"/>
<circle r="2.6" cx="81.6" cy="351.6"/>
<circle r="2.6" cx="83.3" cy="352.4"/>
<circle r="2.6" cx="54.3" cy="353.2"/>
<circle r="2.6" cx="56.4" cy="353.4"/>
<circle r="2.6" cx="58.6" cy="353.4"/>
<circle r="2.6" cx="60.5" cy="353.0"/>
<circle r="2.6" cx="62.2" cy="352.9"/>
<circle r="2.6" cx="64.8" cy="352.9"/>
<circle r="2.6" cx="66.1" cy="353.6"/>
<circle r="2.6" cx="68.3" cy="353.5"/>
<circle r="2.6" cx="70.2" cy="353.2"/>
<circle r="2.6" cx="72.3" cy="353.5"/>
<circle r="2.6" cx="74.6" cy="353.3"/>
<circle r="2.6" cx="76.7" cy="353.5"/>
<circle r="2.6" cx="78.4" cy="353.3"/>
<circle r="2.6" cx="80.5" cy="352.9"/>
<circle r="2.6" cx="82.8" cy="353.3"/>
<circle r="2.6" cx="55.8" cy="354.2"/>
<circle r="2.6" cx="57.5" cy="354.4"/>
<circle r="2.6" cx="59.7" cy="354.1"/>
<circle r="2.6" cx="61.4" cy="354.4"/>
<circle r="2.6" cx="63.2" cy="354.4"/>
<circle r="2.6" cx="65.7" cy="354.3"/>
<circle r="2.6" cx="67.6" cy="354.5"/>
<circle r="2.6" cx="69.3" cy="354.3"/>
<circle r="2.6" cx="71.9" cy="354.3"/>
<circle r="2.6" cx="73.4" cy="354.1"/>
<circle r="2.6" cx="75.3" cy="354.1"/>
<circle r="2.6" cx="77.8" cy="354.6"/>
<circle r="2.6" cx="79.8" cy="354.8"/>
<circle r="2.6" cx="81.6" cy="354.7"/>
<circle r="2.6" cx="83.5" cy="354.3"/>
<circle r="2.6" cx="56.9" cy="355.9"/>
<circle r="2.6" cx="58.9" cy="355.6"/>
<circle r="2.6" cx="60.7" cy="355.5"/>
<circle r="2.6" cx="62.9" cy="355.9"/>
<circle r="2.6" cx="64.3" cy="355.9"/>
<circle r="2.6" cx="66.2" cy="355.3"/>
<circle r="2.6" cx="68.7" cy="355.4"/>
<circle r="2.6" cx="70.5" cy="355.7"/>
<circle r="2.6" cx="72.1" cy="355.8"/>
<circle r="2.6" cx="74.3" cy="355.5"/>
<circle r="2.6" cx="76.4" cy="355.8"/>
<circle r="2.6" cx="78.7" cy="355.4"/>
<circle r="2.6" cx="63.2" cy="356.6"/>
<circle r="2.6" cx="65.4" cy="356.5"/>
<circle r="2.6" cx="67.2" cy="357.0"/>
<circle r="2.6" cx="69.7" cy="357.2"/>
<circle r="2.6" cx="54.5" cy="343.5"/>
<circle r="2.6" cx="57.0" cy="343.0"/>
<circle r="2.6" cx="59.5" cy="342.5"/>
<circle r="2.6" cx="62.0" cy="342.0"/>
<circle r="2.6" cx="63.3" cy="339.3"/>
<circle r="2.6" cx="64.7" cy="336.7"/>
<circle r="2.6" cx="66.0" cy="334.0"/>
<circle r="2.6" cx="68.3" cy="334.1"/>
<circle r="2.6" cx="70.6" cy="334.1"/>
<circle r="2.6" cx="72.9" cy="334.2"/>
<circle r="2.6" cx="75.2" cy="334.2"/>
<circle r="2.6" cx="77.6" cy="334.3"/>
<circle r="2.6" cx="79.9" cy="334.4"/>
<circle r="2.6" cx="82.2" cy="334.4"/>
<circle r="2.6" cx="84.5" cy="334.5"/>
<circle r="2.6" cx="84.5" cy="337.1"/>
<circle r="2.6" cx="84.5" cy="339.6"/>
<circle r="2.6" cx="84.5" cy="342.2"/>
<circle r="2.6" cx="84.5" cy="344.8"/>
<circle r="2.6" cx="84.5" cy="347.3"/>
<circle r="2.6" cx="84.5" cy="349.9"/>
<circle r="2.6" cx="84.5" cy="352.4"/>
<circle r="2.6" cx="84.5" cy="355.0"/>
<circle r="2.6" cx="82.2" cy="355.3"/>
<circle r="2.6" cx="79.9" cy="355.6"/>
<circle r="2.6" cx="77.6" cy="355.9"/>
<circle r="2.6" cx="75.2" cy="356.2"/>
<circle r="2.6" cx="72.9" cy="356.6"/>
<circle r="2.6" cx="70.6" cy="356.9"/>
<circle r="2.6" cx="68.3" cy="357.2"/>
<circle r="2.6" cx="66.0" cy="357.5"/>
<circle r="2.6" cx="63.7" cy="357.1"/>
<circle r="2.6" cx="61.4" cy="356.7"/>
<circle r="2.6" cx="59.1" cy="356.3"/>
<circle r="2.6" cx="56.8" cy="355.9"/>
<circle r="2.6" cx="54.5" cy="355.5"/>
<circle r="2.6" cx="54.5" cy="353.1"/>
<circle r="2.6" cx="54.5" cy="350.7"/>
<circle r="2.6" cx="54.5" cy="348.3"/>
<circle r="2.6" cx="54.5" cy="345.9"/>
<circle r="2.6" cx="52.9" cy="343.8"/>
<circle r="2.6" cx="52.6" cy="345.1"/>
<circle r="2.6" cx="52.6" cy="345.7"/>
<circle r="2.6" cx="52.7" cy="347.0"/>
<circle r="2.6" cx="52.6" cy="348.1"/>
<circle r="2.6" cx="52.6" cy="349.3"/>
<circle r="2.6" cx="52.9" cy="350.1"/>
<circle r="2.6" cx="52.6" cy="351.4"/>
<circle r="2.6" cx="52.9" cy="352.1"/>
<circle r="2.6" cx="52.5" cy="353.1"/>
<circle r="2.6" cx="52.7" cy="354.4"/>
<circle r="2.6" cx="52.5" cy="355.3"/>
<circle r="2.6" cx="52.8" cy="356.4"/>
<circle r="2.6" cx="52.7" cy="357.6"/>
<circle r="2.6" cx="57.6" cy="339.0"/>
<circle r="2.6" cx="57.6" cy="340.3"/>
<circle r="2.6" cx="57.2" cy="341.0"/>
<circle r="2.6" cx="57.4" cy="342.1"/>
<circle r="2.6" cx="57.2" cy="343.4"/>
<circle r="2.6" cx="57.2" cy="344.7"/>
<circle r="2.6" cx="57.3" cy="345.6"/>
<circle r="2.6" cx="57.4" cy="347.1"/>
<circle r="2.6" cx="57.2" cy="347.9"/>
<circle r="2.6" cx="57.5" cy="349.1"/>
<circle r="2.6" cx="57.6" cy="350.4"/>
<circle r="2.6" cx="57.3" cy="351.6"/>
<circle r="2.6" cx="57.5" cy="352.3"/>
<circle r="2.6" cx="57.4" cy="353.8"/>
<circle r="2.6" cx="57.4" cy="354.9"/>
<circle r="2.6" cx="57.2" cy="355.7"/>
<circle r="2.6" cx="57.2" cy="357.0"/>
<circle r="2.6" cx="62.0" cy="336.5"/>
<circle r="2.6" cx="62.1" cy="337.8"/>
<circle r="2.6" cx="62.0" cy="338.6"/>
<circle r="2.6" cx="62.1" cy="340.0"/>
<circle r="2.6" cx="61.9" cy="340.8"/>
<circle r="2.6" cx="61.7" cy="341.9"/>
<circle r="2.6" cx="62.0" cy="342.7"/>
<circle r="2.6" cx="61.9" cy="344.3"/>
<circle r="2.6" cx="61.8" cy="345.0"/>
<circle r="2.6" cx="62.1" cy="346.1"/>
<circle r="2.6" cx="62.1" cy="347.2"/>
<circle r="2.6" cx="61.8" cy="348.0"/>
<circle r="2.6" cx="61.9" cy="349.3"/>
<circle r="2.6" cx="62.1" cy="350.6"/>
<circle r="2.6" cx="62.0" cy="351.7"/>
<circle r="2.6" cx="61.9" cy="352.2"/>
<circle r="2.6" cx="61.9" cy="353.6"/>
<circle r="2.6" cx="66.4" cy="333.0"/>
<circle r="2.6" cx="66.5" cy="333.9"/>
<circle r="2.6" cx="66.2" cy="335.4"/>
<circle r="2.6" cx="66.3" cy="336.3"/>
<circle r="2.6" cx="66.6" cy="337.3"/>
<circle r="2.6" cx="66.5" cy="338.7"/>
<circle r="2.6" cx="66.6" cy="339.3"/>
<circle r="2.6" cx="66.3" cy="340.4"/>
<circle r="2.6" cx="66.3" cy="341.8"/>
<circle r="2.6" cx="66.6" cy="342.6"/>
<circle r="2.6" cx="66.3" cy="344.1"/>
<circle r="2.6" cx="66.3" cy="344.8"/>
<circle r="2.6" cx="66.3" cy="345.7"/>
<circle r="2.6" cx="66.2" cy="347.3"/>
<circle r="2.6" cx="66.2" cy="347.9"/>
<circle r="2.6" cx="66.4" cy="348.9"/>
<circle r="2.6" cx="66.6" cy="350.4"/>
<circle r="2.6" cx="66.6" cy="351.4"/>
<circle r="2.6" cx="66.3" cy="352.1"/>
<circle r="2.6" cx="66.2" cy="353.8"/>
<circle r="2.6" cx="66.4" cy="354.4"/>
<circle r="2.6" cx="66.4" cy="355.5"/>
<circle r="2.6" cx="66.3" cy="356.5"/>
<circle r="2.6" cx="66.2" cy="358.1"/>
<circle r="2.6" cx="66.6" cy="358.9"/>
<circle r="2.6" cx="70.5" cy="334.0"/>
<circle r="2.6" cx="70.8" cy="335.4"/>
<circle r="2.6" cx="70.5" cy="336.3"/>
<circle r="2.6" cx="70.8" cy="337.0"/>
<circle r="2.6" cx="70.5" cy="338.1"/>
<circle r="2.6" cx="70.9" cy="339.6"/>
<circle r="2.6" cx="70.9" cy="340.2"/>
<circle r="2.6" cx="70.6" cy="341.6"/>
<circle r="2.6" cx="70.6" cy="342.4"/>
<circle r="2.6" cx="70.6" cy="344.0"/>
<circle r="2.6" cx="70.5" cy="344.6"/>
<circle r="2.6" cx="70.6" cy="345.7"/>
<circle r="2.6" cx="70.5" cy="347.2"/>
<circle r="2.6" cx="70.9" cy="347.9"/>
<circle r="2.6" cx="70.9" cy="349.5"/>
<circle r="2.6" cx="70.6" cy="350.1"/>
<circle r="2.6" cx="70.7" cy="351.6"/>
<circle r="2.6" cx="70.6" cy="352.5"/>
<circle r="2.6" cx="70.6" cy="353.2"/>
<circle r="2.6" cx="70.8" cy="354.7"/>
<circle r="2.6" cx="70.7" cy="355.7"/>
<circle r="2.6" cx="70.7" cy="356.8"/>
<circle r="2.6" cx="70.9" cy="357.9"/>
<circle r="2.6" cx="70.7" cy="358.7"/>
<circle r="2.6" cx="70.9" cy="360.0"/>
<circle r="2.6" cx="75.6" cy="322.0"/>
<circle r="2.6" cx="75.6" cy="322.9"/>
<circle r="2.6" cx="75.2" cy="324.4"/>
<circle r="2.6" cx="75.3" cy="325.1"/>
<circle r="2.6" cx="75.6" cy="326.1"/>
<circle r="2.6" cx="75.6" cy="327.4"/>
<circle r="2.6" cx="75.2" cy="328.3"/>
<circle r="2.6" cx="75.5" cy="329.9"/>
<circle r="2.6" cx="75.5" cy="331.0"/>
<circle r="2.6" cx="75.5" cy="331.8"/>
<circle r="2.6" cx="75.4" cy="332.7"/>
<circle r="2.6" cx="75.2" cy="334.0"/>
<circle r="2.6" cx="75.3" cy="335.1"/>
<circle r="2.6" cx="75.3" cy="336.2"/>
<circle r="2.6" cx="75.3" cy="337.1"/>
<circle r="2.6" cx="75.6" cy="338.4"/>
<circle r="2.6" cx="75.6" cy="339.7"/>
<circle r="2.6" cx="75.3" cy="340.7"/>
<circle r="2.6" cx="75.3" cy="341.9"/>
<circle r="2.6" cx="75.4" cy="342.5"/>
<circle r="2.6" cx="75.3" cy="343.9"/>
<circle r="2.6" cx="75.3" cy="345.0"/>
<circle r="2.6" cx="75.4" cy="346.3"/>
<circle r="2.6" cx="75.4" cy="347.1"/>
<circle r="2.6" cx="75.6" cy="348.4"/>
<circle r="2.6" cx="75.4" cy="349.3"/>
<circle r="2.6" cx="75.2" cy="350.4"/>
<circle r="2.6" cx="75.6" cy="351.4"/>
<circle r="2.6" cx="75.2" cy="352.7"/>
<circle r="2.6" cx="75.3" cy="353.8"/>
<circle r="2.6" cx="75.3" cy="355.0"/>
<circle r="2.6" cx="75.4" cy="355.6"/>
<circle r="2.6" cx="75.4" cy="357.1"/>
<circle r="2.6" cx="75.5" cy="358.2"/>
<circle r="2.6" cx="75.3" cy="359.0"/>
<circle r="2.6" cx="75.3" cy="360.1"/>
<circle r="2.6" cx="75.5" cy="361.2"/>
<circle r="2.6" cx="75.4" cy="362.5"/>
<circle r="2.6" cx="75.3" cy="363.2"/>
<circle r="2.6" cx="75.5" cy="364.4"/>
<circle r="2.6" cx="75.2" cy="365.4"/>
<circle r="2.6" cx="75.3" cy="366.6"/>
<circle r="2.6" cx="75.4" cy="367.5"/>
<circle r="2.6" cx="75.4" cy="369.1"/>
<circle r="2.6" cx="75.6" cy="370.1"/>
<circle r="2.6" cx="75.6" cy="371.2"/>
<circle r="2.6" cx="75.5" cy="372.1"/>
<circle r="2.6" cx="75.6" cy="373.0"/>
<circle r="2.6" cx="75.4" cy="374.2"/>
<circle r="2.6" cx="75.6" cy="375.4"/>
<circle r="2.6" cx="79.9" cy="340.0"/>
<circle r="2.6" cx="80.2" cy="340.9"/>
<circle r="2.6" cx="79.8" cy="342.3"/>
<circle r="2.6" cx="79.9" cy="343.1"/>
<circle r="2.6" cx="80.2" cy="344.2"/>
<circle r="2.6" cx="79.9" cy="345.4"/>
<circle r="2.6" cx="80.0" cy="346.7"/>
<circle r="2.6" cx="80.1" cy="347.8"/>
<circle r="2.6" cx="80.0" cy="349.1"/>
<circle r="2.6" cx="80.2" cy="349.9"/>
<circle r="2.6" cx="79.8" cy="351.4"/>
<circle r="2.6" cx="80.1" cy="352.3"/>
<circle r="2.6" cx="79.8" cy="353.8"/>
<circle r="2.6" cx="80.0" cy="354.3"/>
<circle r="2.6" cx="80.2" cy="355.7"/>
<circle r="2.6" cx="79.9" cy="357.1"/>
<circle r="2.6" cx="80.0" cy="358.0"/>
<circle r="2.6" cx="84.4" cy="338.0"/>
<circle r="2.6" cx="84.3" cy="339.4"/>
<circle r="2.6" cx="84.2" cy="340.2"/>
<circle r="2.6" cx="84.2" cy="341.5"/>
<circle r="2.6" cx="84.4" cy="342.8"/>
<circle r="2.6" cx="84.2" cy="343.7"/>
<circle r="2.6" cx="84.4" cy="344.6"/>
<circle r="2.6" cx="84.4" cy="346.1"/>
<circle r="2.6" cx="84.6" cy="346.9"/>
<circle r="2.6" cx="84.4" cy="348.2"/>
<circle r="2.6" cx="84.3" cy="349.1"/>
<circle r="2.6" cx="84.2" cy="350.6"/>
<circle r="2.6" cx="84.5" cy="351.5"/>
<circle r="2.6" cx="84.5" cy="352.5"/>
<circle r="2.6" cx="84.6" cy="354.0"/>
<circle r="2.6" cx="84.3" cy="355.0"/>
<circle r="2.6" cx="84.2" cy="356.0"/>
<circle r="2.6" cx="95.8" cy="338.0"/>
<circle r="2.6" cx="95.6" cy="339.0"/>
<circle r="2.6" cx="95.7" cy="340.4"/>
<circle r="2.6" cx="96.0" cy="341.4"/>
<circle r="2.6" cx="96.0" cy="342.1"/>
<circle r="2.6" cx="95.7" cy="343.3"/>
<circle r="2.6" cx="95.6" cy="344.3"/>
<circle r="2.6" cx="95.7" cy="345.5"/>
<circle r="2.6" cx="96.0" cy="346.8"/>
<circle r="2.6" cx="95.8" cy="347.4"/>
<circle r="2.6" cx="95.6" cy="348.7"/>
<circle r="2.6" cx="95.7" cy="349.7"/>
<circle r="2.6" cx="95.7" cy="351.0"/>
<circle r="2.6" cx="95.6" cy="352.0"/>
<circle r="2.6" cx="98.0" cy="315.9"/>
<circle r="2.6" cx="98.1" cy="317.0"/>
<circle r="2.6" cx="98.2" cy="318.0"/>
<circle r="2.6" cx="98.2" cy="319.1"/>
<circle r="2.6" cx="97.9" cy="320.4"/>
<circle r="2.6" cx="98.0" cy="321.6"/>
<circle r="2.6" cx="98.1" cy="322.6"/>
<circle r="2.6" cx="98.1" cy="323.7"/>
<circle r="2.6" cx="98.2" cy="324.5"/>
<circle r="2.6" cx="98.1" cy="326.1"/>
<circle r="2.6" cx="98.0" cy="327.0"/>
<circle r="2.6" cx="98.2" cy="328.4"/>
<circle r="2.6" cx="98.3" cy="329.1"/>
<circle r="2.6" cx="98.0" cy="330.6"/>
<circle r="2.6" cx="98.1" cy="331.7"/>
<circle r="2.6" cx="98.2" cy="332.4"/>
<circle r="2.6" cx="98.2" cy="333.6"/>
<circle r="2.6" cx="97.9" cy="334.8"/>
<circle r="2.6" cx="98.3" cy="335.9"/>
<circle r="2.6" cx="98.1" cy="337.0"/>
<circle r="2.6" cx="98.1" cy="338.3"/>
<circle r="2.6" cx="98.1" cy="339.2"/>
<circle r="2.6" cx="98.0" cy="340.5"/>
<circle r="2.6" cx="98.2" cy="341.2"/>
<circle r="2.6" cx="98.0" cy="342.6"/>
<circle r="2.6" cx="98.3" cy="343.9"/>
<circle r="2.6" cx="98.3" cy="344.8"/>
<circle r="2.6" cx="98.2" cy="346.1"/>
<circle r="2.6" cx="97.9" cy="346.9"/>
<circle r="2.6" cx="98.2" cy="348.2"/>
<circle r="2.6" cx="98.1" cy="349.1"/>
<circle r="2.6" cx="98.0" cy="350.4"/>
<circle r="2.6" cx="98.1" cy="351.5"/>
<circle r="2.6" cx="97.9" cy="352.5"/>
<circle r="2.6" cx="98.0" cy="353.7"/>
<circle r="2.6" cx="97.9" cy="354.9"/>
<circle r="2.6" cx="97.9" cy="355.8"/>
<circle r="2.6" cx="98.1" cy="356.9"/>
<circle r="2.6" cx="97.9" cy="357.9"/>
<circle r="2.6" cx="98.0" cy="359.2"/>
<circle r="2.6" cx="97.9" cy="360.3"/>
<circle r="2.6" cx="98.1" cy="361.2"/>
<circle r="2.6" cx="98.3" cy="362.8"/>
<circle r="2.6" cx="98.0" cy="363.6"/>
<circle r="2.6" cx="98.0" cy="364.5"/>
<circle r="2.6" cx="98.3" cy="365.7"/>
<circle r="2.6" cx="98.3" cy="366.7"/>
<circle r="2.6" cx="98.1" cy="368.1"/>
<circle r="2.6" cx="98.3" cy="369.0"/>
<circle r="2.6" cx="97.9" cy="370.3"/>
<circle r="2.6" cx="100.5" cy="340.0"/>
<circle r="2.6" cx="100.3" cy="341.1"/>
<circle r="2.6" cx="100.7" cy="342.0"/>
<circle r="2.6" cx="100.6" cy="343.4"/>
<circle r="2.6" cx="100.3" cy="344.5"/>
<circle r="2.6" cx="100.6" cy="345.5"/>
<circle r="2.6" cx="100.5" cy="346.2"/>
<circle r="2.6" cx="100.4" cy="347.8"/>
<circle r="2.6" cx="100.3" cy="348.7"/>
<circle r="2.6" cx="100.4" cy="349.7"/>
<circle r="2.6" cx="100.4" cy="350.7"/>
<circle r="2.6" cx="100.6" cy="352.0"/>
<circle r="2.6" cx="100.6" cy="352.8"/>
<circle r="2.6" cx="100.7" cy="353.8"/>
<circle r="2.6" cx="100.5" cy="354.8"/>
<circle r="2.6" cx="100.5" cy="356.0"/>
<circle r="2.6" cx="112.1" cy="332.4"/>
<circle r="2.6" cx="112.0" cy="333.2"/>
<circle r="2.6" cx="112.1" cy="334.7"/>
<circle r="2.6" cx="112.2" cy="335.9"/>
<circle r="2.6" cx="112.4" cy="337.1"/>
<circle r="2.6" cx="112.1" cy="338.1"/>
<circle r="2.6" cx="112.2" cy="338.8"/>
<circle r="2.6" cx="112.4" cy="340.4"/>
<circle r="2.6" cx="112.0" cy="341.2"/>
<circle r="2.6" cx="112.3" cy="342.8"/>
<circle r="2.6" cx="112.3" cy="343.6"/>
<circle r="2.6" cx="112.2" cy="344.5"/>
<circle r="2.6" cx="112.3" cy="345.9"/>
<circle r="2.6" cx="112.0" cy="346.7"/>
<circle r="2.6" cx="112.4" cy="348.1"/>
<circle r="2.6" cx="112.0" cy="349.0"/>
<circle r="2.6" cx="112.0" cy="350.3"/>
<circle r="2.6" cx="121.0" cy="340.1"/>
<circle r="2.6" cx="120.9" cy="341.1"/>
<circle r="2.6" cx="121.0" cy="342.6"/>
<circle r="2.6" cx="121.0" cy="343.3"/>
<circle r="2.6" cx="120.8" cy="344.2"/>
<circle r="2.6" cx="120.7" cy="345.7"/>
<circle r="2.6" cx="120.9" cy="346.4"/>
<circle r="2.6" cx="121.1" cy="347.7"/>
<circle r="2.6" cx="121.1" cy="348.7"/>
<circle r="2.6" cx="121.1" cy="349.9"/>
<circle r="2.6" cx="121.0" cy="351.1"/>
<circle r="2.6" cx="120.8" cy="352.1"/>
<circle r="2.6" cx="121.1" cy="353.3"/>
<circle r="2.6" cx="120.8" cy="354.3"/>
<circle r="2.6" cx="120.9" cy="355.5"/>
<circle r="2.6" cx="125.6" cy="336.7"/>
<circle r="2.6" cx="125.8" cy="337.7"/>
<circle r="2.6" cx="125.8" cy="338.9"/>
<circle r="2.6" cx="125.6" cy="339.8"/>
<circle r="2.6" cx="125.7" cy="340.7"/>
<circle r="2.6" cx="125.8" cy="341.9"/>
<circle r="2.6" cx="125.9" cy="343.1"/>
<circle r="2.6" cx="125.9" cy="344.3"/>
<circle r="2.6" cx="125.8" cy="345.5"/>
<circle r="2.6" cx="125.7" cy="346.4"/>
<circle r="2.6" cx="125.9" cy="347.3"/>
<circle r="2.6" cx="125.8" cy="348.6"/>
<circle r="2.6" cx="138.8" cy="327.4"/>
<circle r="2.6" cx="139.0" cy="328.8"/>
<circle r="2.6" cx="139.0" cy="329.7"/>
<circle r="2.6" cx="139.2" cy="330.6"/>
<circle r="2.6" cx="138.9" cy="331.7"/>
<circle r="2.6" cx="138.8" cy="333.3"/>
<circle r="2.6" cx="139.0" cy="334.2"/>
<circle r="2.6" cx="139.2" cy="335.1"/>
<circle r="2.6" cx="138.8" cy="336.4"/>
<circle r="2.6" cx="138.8" cy="337.5"/>
<circle r="2.6" cx="139.2" cy="338.8"/>
<circle r="2.6" cx="138.8" cy="340.0"/>
<circle r="2.6" cx="138.9" cy="341.0"/>
<circle r="2.6" cx="138.9" cy="342.0"/>
<circle r="2.6" cx="138.8" cy="343.1"/>
<circle r="2.6" cx="138.8" cy="344.4"/>
<circle r="2.6" cx="138.8" cy="345.7"/>
<circle r="2.6" cx="138.8" cy="346.8"/>
<circle r="2.6" cx="139.1" cy="347.4"/>
<circle r="2.6" cx="139.0" cy="348.8"/>
<circle r="2.6" cx="143.8" cy="332.5"/>
<circle r="2.6" cx="143.8" cy="333.6"/>
<circle r="2.6" cx="143.8" cy="334.5"/>
<circle r="2.6" cx="143.9" cy="335.8"/>
<circle r="2.6" cx="143.5" cy="336.6"/>
<circle r="2.6" cx="143.9" cy="338.1"/>
<circle r="2.6" cx="143.8" cy="339.1"/>
<circle r="2.6" cx="143.6" cy="340.3"/>
<circle r="2.6" cx="143.8" cy="341.3"/>
<circle r="2.6" cx="143.6" cy="342.2"/>
<circle r="2.6" cx="143.6" cy="343.7"/>
<circle r="2.6" cx="143.6" cy="344.7"/>
<circle r="2.6" cx="143.8" cy="345.7"/>
<circle r="2.6" cx="143.9" cy="347.0"/>
<circle r="2.6" cx="143.6" cy="348.0"/>
<circle r="2.6" cx="143.5" cy="349.0"/>
<circle r="2.6" cx="143.7" cy="350.1"/>
<circle r="2.6" cx="143.6" cy="351.4"/>
<circle r="2.6" cx="143.5" cy="352.2"/>
<circle r="2.6" cx="143.7" cy="353.3"/>
<circle r="2.6" cx="143.9" cy="354.5"/>
<circle r="2.6" cx="143.6" cy="355.8"/>
<circle r="2.6" cx="143.5" cy="356.8"/>
<circle r="2.6" cx="143.8" cy="358.1"/>
<circle r="2.6" cx="143.8" cy="359.0"/>
<circle r="2.6" cx="143.6" cy="360.0"/>
<circle r="2.6" cx="143.5" cy="361.1"/>
<circle r="2.6" cx="143.8" cy="362.4"/>
<circle r="2.6" cx="143.8" cy="373.5"/>
<circle r="2.6" cx="143.5" cy="374.7"/>
<circle r="2.6" cx="143.7" cy="375.9"/>
<circle r="2.6" cx="143.7" cy="376.7"/>
<circle r="2.6" cx="143.6" cy="377.9"/>
<circle r="2.6" cx="143.8" cy="379.0"/>
<circle r="2.6" cx="143.9" cy="380.3"/>
<circle r="2.6" cx="143.9" cy="381.1"/>
<circle r="2.6" cx="143.8" cy="382.5"/>
<circle r="2.6" cx="143.5" cy="383.7"/>
<circle r="2.6" cx="143.9" cy="384.7"/>
<circle r="2.6" cx="143.7" cy="385.4"/>
<circle r="2.6" cx="143.6" cy="387.0"/>
<circle r="2.6" cx="143.9" cy="388.1"/>
<circle r="2.6" cx="143.5" cy="388.9"/>
<circle r="2.6" cx="143.9" cy="389.9"/>
<circle r="2.6" cx="143.6" cy="391.1"/>
<circle r="2.6" cx="143.7" cy="392.3"/>
<circle r="2.6" cx="166.5" cy="306.1"/>
<circle r="2.6" cx="166.1" cy="307.0"/>
<circle r="2.6" cx="166.2" cy="308.5"/>
<circle r="2.6" cx="166.5" cy="309.3"/>
<circle r="2.6" cx="166.1" cy="310.3"/>
<circle r="2.6" cx="166.2" cy="311.8"/>
<circle r="2.6" cx="166.5" cy="312.5"/>
<circle r="2.6" cx="166.5" cy="313.6"/>
<circle r="2.6" cx="166.2" cy="314.7"/>
<circle r="2.6" cx="166.3" cy="315.7"/>
<circle r="2.6" cx="166.2" cy="317.0"/>
<circle r="2.6" cx="166.2" cy="318.1"/>
<circle r="2.6" cx="166.5" cy="319.4"/>
<circle r="2.6" cx="166.5" cy="320.4"/>
<circle r="2.6" cx="166.2" cy="321.1"/>
<circle r="2.6" cx="166.1" cy="322.2"/>
<circle r="2.6" cx="166.5" cy="323.8"/>
<circle r="2.6" cx="166.3" cy="324.8"/>
<circle r="2.6" cx="166.3" cy="325.4"/>
<circle r="2.6" cx="166.5" cy="326.5"/>
<circle r="2.6" cx="166.2" cy="327.7"/>
<circle r="2.6" cx="166.2" cy="329.2"/>
<circle r="2.6" cx="166.2" cy="330.3"/>
<circle r="2.6" cx="166.1" cy="331.2"/>
<circle r="2.6" cx="166.2" cy="332.4"/>
<circle r="2.6" cx="166.4" cy="333.2"/>
<circle r="2.6" cx="166.2" cy="334.4"/>
<circle r="2.6" cx="166.3" cy="335.2"/>
<circle r="2.6" cx="166.5" cy="336.3"/>
<circle r="2.6" cx="166.1" cy="337.5"/>
<circle r="2.6" cx="166.1" cy="338.6"/>
<circle r="2.6" cx="166.3" cy="339.7"/>
<circle r="2.6" cx="166.2" cy="340.8"/>
<circle r="2.6" cx="166.3" cy="341.9"/>
<circle r="2.6" cx="166.3" cy="343.2"/>
<circle r="2.6" cx="166.3" cy="344.3"/>
<circle r="2.6" cx="166.1" cy="345.0"/>
<circle r="2.6" cx="166.3" cy="346.5"/>
<circle r="2.6" cx="166.3" cy="347.4"/>
<circle r="2.6" cx="166.2" cy="348.7"/>
<circle r="2.6" cx="166.2" cy="349.6"/>
<circle r="2.6" cx="57.4" cy="328.0"/>
<circle r="2.6" cx="57.4" cy="333.4"/>
<circle r="2.6" cx="57.4" cy="336.7"/>
<circle r="2.6" cx="57.4" cy="359.4"/>
<circle r="2.6" cx="66.4" cy="330.7"/>
<circle r="2.6" cx="66.4" cy="366.7"/>
<circle r="2.6" cx="66.4" cy="373.4"/>
<circle r="2.6" cx="66.4" cy="376.1"/>
<circle r="2.6" cx="70.7" cy="326.0"/>
<circle r="2.6" cx="70.7" cy="332.0"/>
<circle r="2.6" cx="75.4" cy="320.0"/>
<circle r="2.6" cx="80.0" cy="333.4"/>
<circle r="2.6" cx="80.0" cy="337.0"/>
<circle r="2.6" cx="80.0" cy="368.5"/>
<circle r="2.6" cx="84.4" cy="330.0"/>
<circle r="2.6" cx="84.4" cy="335.4"/>
<circle r="2.6" cx="84.4" cy="367.4"/>
<circle r="2.6" cx="84.4" cy="373.4"/>
<circle r="2.6" cx="89.4" cy="349.4"/>
<circle r="2.6" cx="89.4" cy="354.0"/>
<circle r="2.6" cx="89.4" cy="358.5"/>
<circle r="2.6" cx="98.1" cy="384.0"/>
<circle r="2.6" cx="107.5" cy="327.3"/>
<circle r="2.6" cx="107.5" cy="329.4"/>
<circle r="2.6" cx="107.5" cy="331.4"/>
<circle r="2.6" cx="107.5" cy="333.4"/>
<circle r="2.6" cx="107.5" cy="335.5"/>
<circle r="2.6" cx="107.5" cy="337.6"/>
<circle r="2.6" cx="107.5" cy="339.6"/>
<circle r="2.6" cx="107.5" cy="341.7"/>
<circle r="2.6" cx="107.5" cy="343.7"/>
<circle r="2.6" cx="107.5" cy="345.8"/>
<circle r="2.6" cx="107.5" cy="347.8"/>
<circle r="2.6" cx="112.2" cy="326.5"/>
<circle r="2.6" cx="120.9" cy="323.5"/>
<circle r="2.6" cx="120.9" cy="329.4"/>
<circle r="2.6" cx="120.9" cy="335.8"/>
<circle r="2.6" cx="139.0" cy="309.1"/>
<circle r="2.6" cx="139.0" cy="312.1"/>
<circle r="2.6" cx="139.0" cy="315.5"/>
<circle r="2.6" cx="139.0" cy="324.4"/>
<circle r="2.6" cx="143.7" cy="367.5"/>
<circle r="2.6" cx="148.3" cy="347.0"/>
<circle r="2.6" cx="148.3" cy="354.7"/>
<circle r="2.6" cx="148.3" cy="358.1"/>
<circle r="2.6" cx="148.3" cy="362.4"/>
<circle r="2.6" cx="148.3" cy="381.2"/>
<circle r="2.6" cx="148.3" cy="388.0"/>
<circle r="2.6" cx="166.3" cy="354.7"/>
<circle r="2.6" cx="166.3" cy="359.0"/>
<circle r="2.6" cx="166.3" cy="363.3"/>
</g>
<line x1="43.7" y1="347.25" x2="179.8" y2="347.25" stroke="#111" stroke-width="1.6"/>
<rect x="43.7" y="278.5" width="136.1" height="136.7" fill="none" stroke="#1a1a1a" stroke-width="1.05"/>
<line x1="40.2" y1="409.94" x2="43.7" y2="409.94" stroke="#333" stroke-width="1.0"/>
<text x="37.1" y="414.74" font-size="14" text-anchor="end" textLength="7.6" lengthAdjust="spacingAndGlyphs">6</text>
<rect x="19.3" y="410.39" width="8.3" height="1.05" fill="#000"/>
<line x1="40.2" y1="388.91" x2="43.7" y2="388.91" stroke="#333" stroke-width="1.0"/>
<text x="37.1" y="393.71" font-size="14" text-anchor="end" textLength="7.6" lengthAdjust="spacingAndGlyphs">4</text>
<rect x="19.3" y="389.36" width="8.3" height="1.05" fill="#000"/>
<line x1="40.2" y1="367.88" x2="43.7" y2="367.88" stroke="#333" stroke-width="1.0"/>
<text x="37.1" y="372.68" font-size="14" text-anchor="end" textLength="7.6" lengthAdjust="spacingAndGlyphs">2</text>
<rect x="19.3" y="368.33" width="8.3" height="1.05" fill="#000"/>
<line x1="40.2" y1="346.85" x2="43.7" y2="346.85" stroke="#333" stroke-width="1.0"/>
<text x="37.1" y="351.65" font-size="14" text-anchor="end" textLength="7.6" lengthAdjust="spacingAndGlyphs">0</text>
<line x1="40.2" y1="325.82" x2="43.7" y2="325.82" stroke="#333" stroke-width="1.0"/>
<text x="37.1" y="330.62" font-size="14" text-anchor="end" textLength="7.6" lengthAdjust="spacingAndGlyphs">2</text>
<line x1="40.2" y1="304.79" x2="43.7" y2="304.79" stroke="#333" stroke-width="1.0"/>
<text x="37.1" y="309.59" font-size="14" text-anchor="end" textLength="7.6" lengthAdjust="spacingAndGlyphs">4</text>
<line x1="40.2" y1="283.76" x2="43.7" y2="283.76" stroke="#333" stroke-width="1.0"/>
<text x="37.1" y="288.56" font-size="14" text-anchor="end" textLength="7.6" lengthAdjust="spacingAndGlyphs">6</text>
<line x1="52.77" y1="415.2" x2="52.77" y2="418.7" stroke="#333" stroke-width="1.0"/>
<text x="52.77" y="432.0" font-size="14" text-anchor="middle" textLength="7.8" lengthAdjust="spacingAndGlyphs">0</text>
<line x1="98.14" y1="415.2" x2="98.14" y2="418.7" stroke="#333" stroke-width="1.0"/>
<text x="98.14" y="432.0" font-size="14" text-anchor="middle" textLength="15.6" lengthAdjust="spacingAndGlyphs">10</text>
<line x1="143.51" y1="415.2" x2="143.51" y2="418.7" stroke="#333" stroke-width="1.0"/>
<text x="143.51" y="432.0" font-size="14" text-anchor="middle" textLength="15.6" lengthAdjust="spacingAndGlyphs">20</text>
<text transform="translate(11.0,346.9) rotate(-90)" font-size="15.2" text-anchor="middle" textLength="144.5" lengthAdjust="spacingAndGlyphs">Residuals [log CFU]</text>
<text x="113.2" y="449.8" font-size="15.2" text-anchor="middle" textLength="131" lengthAdjust="spacingAndGlyphs">Temperature [°C]</text>
<g fill="none" stroke="#696969" stroke-width="1.1">
<circle r="2.6" cx="332.4" cy="306.4"/>
<circle r="2.6" cx="334.5" cy="306.8"/>
<circle r="2.6" cx="336.5" cy="306.8"/>
<circle r="2.6" cx="333.5" cy="308.2"/>
<circle r="2.6" cx="335.2" cy="308.4"/>
<circle r="2.6" cx="332.2" cy="309.5"/>
<circle r="2.6" cx="334.2" cy="309.4"/>
<circle r="2.6" cx="336.3" cy="308.9"/>
<circle r="2.6" cx="333.5" cy="310.7"/>
<circle r="2.6" cx="335.8" cy="310.7"/>
<circle r="2.6" cx="332.9" cy="311.2"/>
<circle r="2.6" cx="334.4" cy="311.3"/>
<circle r="2.6" cx="336.7" cy="311.6"/>
<circle r="2.6" cx="333.7" cy="313.0"/>
<circle r="2.6" cx="335.9" cy="312.9"/>
<circle r="2.6" cx="332.8" cy="314.0"/>
<circle r="2.6" cx="334.2" cy="314.3"/>
<circle r="2.6" cx="336.2" cy="313.7"/>
<circle r="2.6" cx="333.8" cy="315.0"/>
<circle r="2.6" cx="335.6" cy="314.8"/>
<circle r="2.6" cx="332.3" cy="316.6"/>
<circle r="2.6" cx="334.1" cy="316.4"/>
<circle r="2.6" cx="336.8" cy="316.2"/>
<circle r="2.6" cx="352.7" cy="316.6"/>
<circle r="2.6" cx="354.6" cy="316.6"/>
<circle r="2.6" cx="333.7" cy="317.2"/>
<circle r="2.6" cx="335.3" cy="317.6"/>
<circle r="2.6" cx="351.9" cy="317.4"/>
<circle r="2.6" cx="353.6" cy="317.3"/>
<circle r="2.6" cx="332.8" cy="318.8"/>
<circle r="2.6" cx="334.5" cy="318.9"/>
<circle r="2.6" cx="336.2" cy="319.0"/>
<circle r="2.6" cx="352.7" cy="319.1"/>
<circle r="2.6" cx="354.3" cy="318.6"/>
<circle r="2.6" cx="331.2" cy="320.3"/>
<circle r="2.6" cx="333.5" cy="319.9"/>
<circle r="2.6" cx="335.5" cy="320.2"/>
<circle r="2.6" cx="351.4" cy="319.9"/>
<circle r="2.6" cx="353.7" cy="320.2"/>
<circle r="2.6" cx="332.3" cy="320.9"/>
<circle r="2.6" cx="334.8" cy="321.4"/>
<circle r="2.6" cx="336.6" cy="321.1"/>
<circle r="2.6" cx="352.9" cy="321.1"/>
<circle r="2.6" cx="354.3" cy="320.9"/>
<circle r="2.6" cx="331.4" cy="322.5"/>
<circle r="2.6" cx="333.4" cy="322.8"/>
<circle r="2.6" cx="335.6" cy="322.4"/>
<circle r="2.6" cx="351.6" cy="322.5"/>
<circle r="2.6" cx="353.6" cy="322.4"/>
<circle r="2.6" cx="332.5" cy="323.6"/>
<circle r="2.6" cx="334.8" cy="323.4"/>
<circle r="2.6" cx="336.7" cy="323.4"/>
<circle r="2.6" cx="352.8" cy="323.3"/>
<circle r="2.6" cx="354.5" cy="323.6"/>
<circle r="2.6" cx="331.7" cy="324.6"/>
<circle r="2.6" cx="333.3" cy="324.5"/>
<circle r="2.6" cx="335.5" cy="324.9"/>
<circle r="2.6" cx="351.1" cy="324.5"/>
<circle r="2.6" cx="353.3" cy="325.2"/>
<circle r="2.6" cx="332.5" cy="326.1"/>
<circle r="2.6" cx="334.3" cy="326.1"/>
<circle r="2.6" cx="336.8" cy="326.1"/>
<circle r="2.6" cx="350.1" cy="326.0"/>
<circle r="2.6" cx="352.5" cy="325.6"/>
<circle r="2.6" cx="354.7" cy="325.9"/>
<circle r="2.6" cx="331.3" cy="327.3"/>
<circle r="2.6" cx="333.6" cy="327.2"/>
<circle r="2.6" cx="335.8" cy="327.2"/>
<circle r="2.6" cx="351.4" cy="326.9"/>
<circle r="2.6" cx="353.5" cy="327.1"/>
<circle r="2.6" cx="332.5" cy="328.3"/>
<circle r="2.6" cx="334.1" cy="328.0"/>
<circle r="2.6" cx="336.2" cy="328.1"/>
<circle r="2.6" cx="344.8" cy="328.5"/>
<circle r="2.6" cx="346.3" cy="328.6"/>
<circle r="2.6" cx="348.6" cy="328.0"/>
<circle r="2.6" cx="350.7" cy="328.2"/>
<circle r="2.6" cx="352.9" cy="328.1"/>
<circle r="2.6" cx="354.3" cy="328.2"/>
<circle r="2.6" cx="331.8" cy="329.9"/>
<circle r="2.6" cx="333.6" cy="329.3"/>
<circle r="2.6" cx="335.4" cy="329.8"/>
<circle r="2.6" cx="343.1" cy="329.9"/>
<circle r="2.6" cx="345.8" cy="329.9"/>
<circle r="2.6" cx="347.7" cy="329.7"/>
<circle r="2.6" cx="349.9" cy="329.4"/>
<circle r="2.6" cx="351.3" cy="329.3"/>
<circle r="2.6" cx="353.2" cy="329.8"/>
<circle r="2.6" cx="332.2" cy="331.0"/>
<circle r="2.6" cx="334.4" cy="331.1"/>
<circle r="2.6" cx="336.7" cy="330.9"/>
<circle r="2.6" cx="344.8" cy="330.4"/>
<circle r="2.6" cx="346.3" cy="330.7"/>
<circle r="2.6" cx="348.4" cy="330.9"/>
<circle r="2.6" cx="350.8" cy="331.0"/>
<circle r="2.6" cx="352.8" cy="331.0"/>
<circle r="2.6" cx="354.4" cy="330.8"/>
<circle r="2.6" cx="331.7" cy="332.3"/>
<circle r="2.6" cx="333.4" cy="331.9"/>
<circle r="2.6" cx="335.6" cy="331.8"/>
<circle r="2.6" cx="343.8" cy="331.6"/>
<circle r="2.6" cx="345.6" cy="332.0"/>
<circle r="2.6" cx="347.3" cy="332.1"/>
<circle r="2.6" cx="349.5" cy="332.4"/>
<circle r="2.6" cx="351.8" cy="332.1"/>
<circle r="2.6" cx="353.8" cy="332.3"/>
<circle r="2.6" cx="326.2" cy="333.5"/>
<circle r="2.6" cx="328.8" cy="333.6"/>
<circle r="2.6" cx="330.7" cy="333.1"/>
<circle r="2.6" cx="332.3" cy="333.3"/>
<circle r="2.6" cx="334.3" cy="333.4"/>
<circle r="2.6" cx="336.6" cy="333.5"/>
<circle r="2.6" cx="344.4" cy="333.0"/>
<circle r="2.6" cx="346.8" cy="333.3"/>
<circle r="2.6" cx="348.4" cy="333.2"/>
<circle r="2.6" cx="350.4" cy="333.3"/>
<circle r="2.6" cx="352.5" cy="333.0"/>
<circle r="2.6" cx="354.9" cy="333.5"/>
<circle r="2.6" cx="327.7" cy="334.2"/>
<circle r="2.6" cx="329.3" cy="334.6"/>
<circle r="2.6" cx="331.8" cy="334.5"/>
<circle r="2.6" cx="333.3" cy="334.6"/>
<circle r="2.6" cx="335.5" cy="334.3"/>
<circle r="2.6" cx="337.6" cy="334.4"/>
<circle r="2.6" cx="339.6" cy="334.6"/>
<circle r="2.6" cx="341.9" cy="334.1"/>
<circle r="2.6" cx="343.6" cy="334.8"/>
<circle r="2.6" cx="345.6" cy="334.5"/>
<circle r="2.6" cx="347.8" cy="334.0"/>
<circle r="2.6" cx="349.7" cy="334.5"/>
<circle r="2.6" cx="351.6" cy="334.2"/>
<circle r="2.6" cx="353.6" cy="334.1"/>
<circle r="2.6" cx="326.5" cy="335.4"/>
<circle r="2.6" cx="328.8" cy="335.8"/>
<circle r="2.6" cx="330.5" cy="335.8"/>
<circle r="2.6" cx="332.4" cy="335.6"/>
<circle r="2.6" cx="334.2" cy="335.9"/>
<circle r="2.6" cx="336.7" cy="335.8"/>
<circle r="2.6" cx="338.2" cy="335.9"/>
<circle r="2.6" cx="340.1" cy="335.7"/>
<circle r="2.6" cx="342.5" cy="335.2"/>
<circle r="2.6" cx="344.4" cy="335.9"/>
<circle r="2.6" cx="346.6" cy="335.5"/>
<circle r="2.6" cx="348.8" cy="335.5"/>
<circle r="2.6" cx="350.8" cy="335.5"/>
<circle r="2.6" cx="352.2" cy="336.0"/>
<circle r="2.6" cx="354.2" cy="335.4"/>
<circle r="2.6" cx="327.7" cy="336.5"/>
<circle r="2.6" cx="329.5" cy="337.1"/>
<circle r="2.6" cx="331.6" cy="336.7"/>
<circle r="2.6" cx="333.7" cy="337.1"/>
<circle r="2.6" cx="335.6" cy="336.9"/>
<circle r="2.6" cx="337.4" cy="336.7"/>
<circle r="2.6" cx="339.9" cy="337.2"/>
<circle r="2.6" cx="341.1" cy="336.6"/>
<circle r="2.6" cx="343.3" cy="337.0"/>
<circle r="2.6" cx="345.3" cy="336.5"/>
<circle r="2.6" cx="347.7" cy="336.5"/>
<circle r="2.6" cx="349.9" cy="336.8"/>
<circle r="2.6" cx="351.8" cy="337.1"/>
<circle r="2.6" cx="353.3" cy="337.0"/>
<circle r="2.6" cx="326.4" cy="337.8"/>
<circle r="2.6" cx="328.1" cy="338.2"/>
<circle r="2.6" cx="330.5" cy="337.8"/>
<circle r="2.6" cx="332.8" cy="337.8"/>
<circle r="2.6" cx="334.5" cy="337.7"/>
<circle r="2.6" cx="336.4" cy="338.3"/>
<circle r="2.6" cx="338.5" cy="337.7"/>
<circle r="2.6" cx="340.3" cy="338.1"/>
<circle r="2.6" cx="342.3" cy="338.3"/>
<circle r="2.6" cx="344.1" cy="338.3"/>
<circle r="2.6" cx="346.6" cy="338.3"/>
<circle r="2.6" cx="348.4" cy="337.7"/>
<circle r="2.6" cx="350.2" cy="338.1"/>
<circle r="2.6" cx="352.1" cy="337.7"/>
<circle r="2.6" cx="354.7" cy="338.3"/>
<circle r="2.6" cx="327.8" cy="339.5"/>
<circle r="2.6" cx="329.5" cy="339.5"/>
<circle r="2.6" cx="331.7" cy="339.2"/>
<circle r="2.6" cx="333.4" cy="338.8"/>
<circle r="2.6" cx="335.2" cy="339.0"/>
<circle r="2.6" cx="337.5" cy="338.9"/>
<circle r="2.6" cx="339.9" cy="339.3"/>
<circle r="2.6" cx="341.7" cy="339.5"/>
<circle r="2.6" cx="343.3" cy="339.5"/>
<circle r="2.6" cx="345.9" cy="339.0"/>
<circle r="2.6" cx="347.2" cy="339.4"/>
<circle r="2.6" cx="349.8" cy="339.4"/>
<circle r="2.6" cx="351.4" cy="339.3"/>
<circle r="2.6" cx="353.2" cy="339.0"/>
<circle r="2.6" cx="326.4" cy="340.6"/>
<circle r="2.6" cx="328.2" cy="340.7"/>
<circle r="2.6" cx="330.1" cy="340.8"/>
<circle r="2.6" cx="332.3" cy="340.7"/>
<circle r="2.6" cx="334.8" cy="340.8"/>
<circle r="2.6" cx="336.5" cy="340.6"/>
<circle r="2.6" cx="338.3" cy="340.7"/>
<circle r="2.6" cx="340.2" cy="340.7"/>
<circle r="2.6" cx="342.6" cy="340.0"/>
<circle r="2.6" cx="344.9" cy="340.3"/>
<circle r="2.6" cx="346.2" cy="340.2"/>
<circle r="2.6" cx="348.1" cy="340.2"/>
<circle r="2.6" cx="350.7" cy="340.8"/>
<circle r="2.6" cx="352.6" cy="340.7"/>
<circle r="2.6" cx="354.8" cy="340.6"/>
<circle r="2.6" cx="327.4" cy="341.4"/>
<circle r="2.6" cx="329.2" cy="341.6"/>
<circle r="2.6" cx="331.3" cy="341.8"/>
<circle r="2.6" cx="333.4" cy="341.7"/>
<circle r="2.6" cx="335.5" cy="341.7"/>
<circle r="2.6" cx="337.2" cy="341.4"/>
<circle r="2.6" cx="339.7" cy="341.4"/>
<circle r="2.6" cx="341.6" cy="342.0"/>
<circle r="2.6" cx="343.4" cy="342.0"/>
<circle r="2.6" cx="345.6" cy="342.0"/>
<circle r="2.6" cx="347.5" cy="341.8"/>
<circle r="2.6" cx="349.6" cy="341.4"/>
<circle r="2.6" cx="351.5" cy="341.7"/>
<circle r="2.6" cx="353.5" cy="341.7"/>
<circle r="2.6" cx="326.8" cy="343.0"/>
<circle r="2.6" cx="328.7" cy="342.5"/>
<circle r="2.6" cx="330.7" cy="342.9"/>
<circle r="2.6" cx="332.9" cy="342.4"/>
<circle r="2.6" cx="334.2" cy="343.2"/>
<circle r="2.6" cx="336.4" cy="343.0"/>
<circle r="2.6" cx="338.6" cy="342.7"/>
<circle r="2.6" cx="340.5" cy="342.8"/>
<circle r="2.6" cx="342.9" cy="342.8"/>
<circle r="2.6" cx="344.7" cy="342.6"/>
<circle r="2.6" cx="346.7" cy="342.9"/>
<circle r="2.6" cx="348.7" cy="343.1"/>
<circle r="2.6" cx="350.2" cy="343.2"/>
<circle r="2.6" cx="352.6" cy="342.6"/>
<circle r="2.6" cx="354.5" cy="342.5"/>
<circle r="2.6" cx="327.3" cy="344.3"/>
<circle r="2.6" cx="329.7" cy="344.3"/>
<circle r="2.6" cx="331.2" cy="343.7"/>
<circle r="2.6" cx="333.4" cy="344.0"/>
<circle r="2.6" cx="335.7" cy="343.8"/>
<circle r="2.6" cx="337.7" cy="344.1"/>
<circle r="2.6" cx="339.3" cy="344.2"/>
<circle r="2.6" cx="341.2" cy="344.1"/>
<circle r="2.6" cx="343.3" cy="343.6"/>
<circle r="2.6" cx="345.5" cy="344.0"/>
<circle r="2.6" cx="347.6" cy="343.9"/>
<circle r="2.6" cx="349.8" cy="344.2"/>
<circle r="2.6" cx="351.2" cy="343.6"/>
<circle r="2.6" cx="353.9" cy="343.9"/>
<circle r="2.6" cx="326.2" cy="344.9"/>
<circle r="2.6" cx="328.7" cy="344.9"/>
<circle r="2.6" cx="330.4" cy="345.3"/>
<circle r="2.6" cx="332.4" cy="345.3"/>
<circle r="2.6" cx="334.9" cy="345.4"/>
<circle r="2.6" cx="336.6" cy="345.3"/>
<circle r="2.6" cx="338.3" cy="345.3"/>
<circle r="2.6" cx="340.6" cy="345.3"/>
<circle r="2.6" cx="342.5" cy="345.4"/>
<circle r="2.6" cx="344.3" cy="345.4"/>
<circle r="2.6" cx="346.9" cy="344.8"/>
<circle r="2.6" cx="348.3" cy="345.6"/>
<circle r="2.6" cx="350.2" cy="345.5"/>
<circle r="2.6" cx="352.6" cy="344.9"/>
<circle r="2.6" cx="354.6" cy="344.8"/>
<circle r="2.6" cx="327.8" cy="346.2"/>
<circle r="2.6" cx="329.8" cy="346.7"/>
<circle r="2.6" cx="331.2" cy="346.3"/>
<circle r="2.6" cx="333.2" cy="346.6"/>
<circle r="2.6" cx="335.2" cy="346.1"/>
<circle r="2.6" cx="337.2" cy="346.7"/>
<circle r="2.6" cx="339.3" cy="346.3"/>
<circle r="2.6" cx="341.5" cy="346.4"/>
<circle r="2.6" cx="343.4" cy="346.8"/>
<circle r="2.6" cx="345.4" cy="346.4"/>
<circle r="2.6" cx="347.8" cy="346.2"/>
<circle r="2.6" cx="349.2" cy="346.7"/>
<circle r="2.6" cx="351.4" cy="346.7"/>
<circle r="2.6" cx="353.8" cy="346.3"/>
<circle r="2.6" cx="326.4" cy="347.3"/>
<circle r="2.6" cx="328.8" cy="347.6"/>
<circle r="2.6" cx="330.4" cy="347.3"/>
<circle r="2.6" cx="332.3" cy="347.9"/>
<circle r="2.6" cx="334.2" cy="347.6"/>
<circle r="2.6" cx="336.6" cy="347.6"/>
<circle r="2.6" cx="338.5" cy="347.5"/>
<circle r="2.6" cx="340.3" cy="347.9"/>
<circle r="2.6" cx="342.8" cy="347.7"/>
<circle r="2.6" cx="344.3" cy="347.9"/>
<circle r="2.6" cx="346.3" cy="347.3"/>
<circle r="2.6" cx="348.6" cy="347.9"/>
<circle r="2.6" cx="350.6" cy="347.3"/>
<circle r="2.6" cx="352.9" cy="347.3"/>
<circle r="2.6" cx="354.4" cy="348.0"/>
<circle r="2.6" cx="327.7" cy="349.0"/>
<circle r="2.6" cx="329.2" cy="349.1"/>
<circle r="2.6" cx="331.4" cy="348.4"/>
<circle r="2.6" cx="333.7" cy="349.1"/>
<circle r="2.6" cx="335.1" cy="348.8"/>
<circle r="2.6" cx="337.8" cy="348.7"/>
<circle r="2.6" cx="339.3" cy="349.0"/>
<circle r="2.6" cx="341.5" cy="349.2"/>
<circle r="2.6" cx="343.8" cy="349.1"/>
<circle r="2.6" cx="345.7" cy="348.6"/>
<circle r="2.6" cx="347.6" cy="348.9"/>
<circle r="2.6" cx="349.5" cy="348.9"/>
<circle r="2.6" cx="351.3" cy="348.6"/>
<circle r="2.6" cx="353.8" cy="348.7"/>
<circle r="2.6" cx="326.2" cy="350.4"/>
<circle r="2.6" cx="328.5" cy="350.1"/>
<circle r="2.6" cx="330.4" cy="349.7"/>
<circle r="2.6" cx="332.4" cy="350.3"/>
<circle r="2.6" cx="334.3" cy="350.3"/>
<circle r="2.6" cx="336.3" cy="350.3"/>
<circle r="2.6" cx="338.2" cy="350.0"/>
<circle r="2.6" cx="340.2" cy="349.7"/>
<circle r="2.6" cx="342.5" cy="349.9"/>
<circle r="2.6" cx="344.5" cy="349.8"/>
<circle r="2.6" cx="346.3" cy="349.9"/>
<circle r="2.6" cx="348.8" cy="349.7"/>
<circle r="2.6" cx="350.4" cy="350.3"/>
<circle r="2.6" cx="352.6" cy="349.8"/>
<circle r="2.6" cx="354.9" cy="349.7"/>
<circle r="2.6" cx="327.2" cy="350.8"/>
<circle r="2.6" cx="329.5" cy="351.5"/>
<circle r="2.6" cx="331.3" cy="351.0"/>
<circle r="2.6" cx="333.7" cy="350.9"/>
<circle r="2.6" cx="335.1" cy="351.3"/>
<circle r="2.6" cx="337.2" cy="351.2"/>
<circle r="2.6" cx="339.2" cy="351.3"/>
<circle r="2.6" cx="341.8" cy="351.2"/>
<circle r="2.6" cx="343.3" cy="351.3"/>
<circle r="2.6" cx="345.7" cy="350.8"/>
<circle r="2.6" cx="347.3" cy="351.1"/>
<circle r="2.6" cx="349.5" cy="351.0"/>
<circle r="2.6" cx="351.6" cy="351.0"/>
<circle r="2.6" cx="353.8" cy="351.1"/>
<circle r="2.6" cx="326.3" cy="352.1"/>
<circle r="2.6" cx="328.2" cy="352.2"/>
<circle r="2.6" cx="330.8" cy="352.3"/>
<circle r="2.6" cx="332.5" cy="352.8"/>
<circle r="2.6" cx="334.9" cy="352.6"/>
<circle r="2.6" cx="336.3" cy="352.3"/>
<circle r="2.6" cx="338.5" cy="352.2"/>
<circle r="2.6" cx="340.4" cy="352.2"/>
<circle r="2.6" cx="342.3" cy="352.6"/>
<circle r="2.6" cx="344.6" cy="352.4"/>
<circle r="2.6" cx="346.5" cy="352.5"/>
<circle r="2.6" cx="348.6" cy="352.0"/>
<circle r="2.6" cx="350.8" cy="352.4"/>
<circle r="2.6" cx="352.4" cy="352.8"/>
<circle r="2.6" cx="354.7" cy="352.3"/>
<circle r="2.6" cx="327.1" cy="353.5"/>
<circle r="2.6" cx="329.5" cy="353.5"/>
<circle r="2.6" cx="331.2" cy="353.7"/>
<circle r="2.6" cx="333.3" cy="353.8"/>
<circle r="2.6" cx="335.5" cy="353.4"/>
<circle r="2.6" cx="337.8" cy="353.6"/>
<circle r="2.6" cx="339.2" cy="353.4"/>
<circle r="2.6" cx="341.1" cy="353.5"/>
<circle r="2.6" cx="343.8" cy="354.0"/>
<circle r="2.6" cx="345.6" cy="353.3"/>
<circle r="2.6" cx="347.3" cy="353.4"/>
<circle r="2.6" cx="349.4" cy="353.7"/>
<circle r="2.6" cx="351.1" cy="353.6"/>
<circle r="2.6" cx="353.4" cy="353.7"/>
<circle r="2.6" cx="326.8" cy="354.7"/>
<circle r="2.6" cx="328.6" cy="354.6"/>
<circle r="2.6" cx="330.5" cy="354.9"/>
<circle r="2.6" cx="332.1" cy="354.8"/>
<circle r="2.6" cx="334.5" cy="354.5"/>
<circle r="2.6" cx="336.3" cy="355.1"/>
<circle r="2.6" cx="338.4" cy="354.6"/>
<circle r="2.6" cx="340.3" cy="354.8"/>
<circle r="2.6" cx="342.4" cy="354.7"/>
<circle r="2.6" cx="344.4" cy="354.6"/>
<circle r="2.6" cx="346.5" cy="354.9"/>
<circle r="2.6" cx="348.2" cy="354.9"/>
<circle r="2.6" cx="350.3" cy="355.2"/>
<circle r="2.6" cx="352.9" cy="354.5"/>
<circle r="2.6" cx="354.7" cy="354.7"/>
<circle r="2.6" cx="327.2" cy="356.3"/>
<circle r="2.6" cx="329.8" cy="356.2"/>
<circle r="2.6" cx="331.6" cy="356.4"/>
<circle r="2.6" cx="333.5" cy="356.1"/>
<circle r="2.6" cx="335.6" cy="356.3"/>
<circle r="2.6" cx="337.8" cy="355.8"/>
<circle r="2.6" cx="339.3" cy="356.0"/>
<circle r="2.6" cx="341.6" cy="355.9"/>
<circle r="2.6" cx="343.8" cy="356.3"/>
<circle r="2.6" cx="345.6" cy="356.0"/>
<circle r="2.6" cx="347.7" cy="355.8"/>
<circle r="2.6" cx="349.7" cy="355.7"/>
<circle r="2.6" cx="351.8" cy="356.1"/>
<circle r="2.6" cx="353.3" cy="355.8"/>
<circle r="2.6" cx="326.6" cy="357.2"/>
<circle r="2.6" cx="328.7" cy="356.9"/>
<circle r="2.6" cx="330.8" cy="357.1"/>
<circle r="2.6" cx="332.5" cy="357.4"/>
<circle r="2.6" cx="334.6" cy="357.2"/>
<circle r="2.6" cx="336.3" cy="357.2"/>
<circle r="2.6" cx="338.1" cy="357.0"/>
<circle r="2.6" cx="340.8" cy="356.9"/>
<circle r="2.6" cx="342.2" cy="357.5"/>
<circle r="2.6" cx="344.4" cy="357.2"/>
<circle r="2.6" cx="346.6" cy="357.4"/>
<circle r="2.6" cx="348.4" cy="357.4"/>
<circle r="2.6" cx="350.1" cy="357.5"/>
<circle r="2.6" cx="352.3" cy="357.3"/>
<circle r="2.6" cx="354.3" cy="357.4"/>
<circle r="2.6" cx="327.4" cy="358.5"/>
<circle r="2.6" cx="329.4" cy="358.7"/>
<circle r="2.6" cx="331.7" cy="358.2"/>
<circle r="2.6" cx="333.7" cy="358.8"/>
<circle r="2.6" cx="335.3" cy="358.2"/>
<circle r="2.6" cx="337.8" cy="358.8"/>
<circle r="2.6" cx="339.2" cy="358.6"/>
<circle r="2.6" cx="341.8" cy="358.2"/>
<circle r="2.6" cx="343.7" cy="358.2"/>
<circle r="2.6" cx="345.7" cy="358.4"/>
<circle r="2.6" cx="347.5" cy="358.1"/>
<circle r="2.6" cx="349.6" cy="358.6"/>
<circle r="2.6" cx="351.3" cy="358.0"/>
<circle r="2.6" cx="353.2" cy="358.2"/>
<circle r="2.6" cx="326.9" cy="359.8"/>
<circle r="2.6" cx="328.8" cy="359.8"/>
<circle r="2.6" cx="330.2" cy="359.5"/>
<circle r="2.6" cx="332.9" cy="359.9"/>
<circle r="2.6" cx="334.9" cy="359.9"/>
<circle r="2.6" cx="336.7" cy="359.8"/>
<circle r="2.6" cx="338.8" cy="359.5"/>
<circle r="2.6" cx="340.1" cy="359.4"/>
<circle r="2.6" cx="342.1" cy="359.4"/>
<circle r="2.6" cx="344.6" cy="359.4"/>
<circle r="2.6" cx="346.3" cy="359.3"/>
<circle r="2.6" cx="348.4" cy="359.6"/>
<circle r="2.6" cx="350.6" cy="360.0"/>
<circle r="2.6" cx="352.2" cy="359.4"/>
<circle r="2.6" cx="354.2" cy="359.9"/>
<circle r="2.6" cx="343.6" cy="360.9"/>
<circle r="2.6" cx="345.8" cy="360.4"/>
<circle r="2.6" cx="347.8" cy="360.7"/>
<circle r="2.6" cx="349.6" cy="360.7"/>
<circle r="2.6" cx="351.7" cy="360.6"/>
<circle r="2.6" cx="353.3" cy="360.6"/>
<circle r="2.6" cx="342.7" cy="362.0"/>
<circle r="2.6" cx="344.2" cy="361.9"/>
<circle r="2.6" cx="346.6" cy="361.9"/>
<circle r="2.6" cx="348.6" cy="362.3"/>
<circle r="2.6" cx="350.6" cy="362.2"/>
<circle r="2.6" cx="352.3" cy="362.3"/>
<circle r="2.6" cx="354.9" cy="362.0"/>
<circle r="2.6" cx="343.1" cy="362.9"/>
<circle r="2.6" cx="345.7" cy="363.5"/>
<circle r="2.6" cx="347.7" cy="363.2"/>
<circle r="2.6" cx="349.5" cy="362.9"/>
<circle r="2.6" cx="351.6" cy="363.6"/>
<circle r="2.6" cx="353.3" cy="363.3"/>
<circle r="2.6" cx="342.8" cy="364.5"/>
<circle r="2.6" cx="344.4" cy="364.2"/>
<circle r="2.6" cx="346.7" cy="364.7"/>
<circle r="2.6" cx="348.8" cy="364.3"/>
<circle r="2.6" cx="350.7" cy="364.6"/>
<circle r="2.6" cx="352.4" cy="364.6"/>
<circle r="2.6" cx="354.4" cy="364.2"/>
<circle r="2.6" cx="343.1" cy="365.8"/>
<circle r="2.6" cx="345.7" cy="365.2"/>
<circle r="2.6" cx="347.1" cy="365.5"/>
<circle r="2.6" cx="349.3" cy="365.8"/>
<circle r="2.6" cx="351.3" cy="365.7"/>
<circle r="2.6" cx="353.5" cy="365.5"/>
<circle r="2.6" cx="344.8" cy="366.7"/>
<circle r="2.6" cx="346.5" cy="366.9"/>
<circle r="2.6" cx="348.4" cy="366.5"/>
<circle r="2.6" cx="343.9" cy="368.2"/>
<circle r="2.6" cx="345.5" cy="368.0"/>
<circle r="2.6" cx="347.6" cy="367.8"/>
<circle r="2.6" cx="349.2" cy="368.0"/>
<circle r="2.6" cx="344.8" cy="368.9"/>
<circle r="2.6" cx="346.9" cy="369.1"/>
<circle r="2.6" cx="348.9" cy="369.4"/>
<circle r="2.6" cx="343.3" cy="370.2"/>
<circle r="2.6" cx="345.8" cy="370.8"/>
<circle r="2.6" cx="347.7" cy="370.5"/>
<circle r="2.6" cx="344.5" cy="371.8"/>
<circle r="2.6" cx="346.8" cy="371.9"/>
<circle r="2.6" cx="348.3" cy="371.9"/>
<circle r="2.6" cx="343.9" cy="372.9"/>
<circle r="2.6" cx="345.1" cy="372.6"/>
<circle r="2.6" cx="347.6" cy="372.7"/>
<circle r="2.6" cx="326.5" cy="333.0"/>
<circle r="2.6" cx="331.0" cy="333.0"/>
<circle r="2.6" cx="331.1" cy="330.6"/>
<circle r="2.6" cx="331.2" cy="328.2"/>
<circle r="2.6" cx="331.3" cy="325.9"/>
<circle r="2.6" cx="331.4" cy="323.5"/>
<circle r="2.6" cx="331.5" cy="321.1"/>
<circle r="2.6" cx="331.5" cy="318.7"/>
<circle r="2.6" cx="331.6" cy="316.3"/>
<circle r="2.6" cx="331.7" cy="313.9"/>
<circle r="2.6" cx="331.8" cy="311.6"/>
<circle r="2.6" cx="331.9" cy="309.2"/>
<circle r="2.6" cx="332.0" cy="306.8"/>
<circle r="2.6" cx="334.5" cy="306.8"/>
<circle r="2.6" cx="337.0" cy="306.8"/>
<circle r="2.6" cx="337.0" cy="309.3"/>
<circle r="2.6" cx="337.1" cy="311.7"/>
<circle r="2.6" cx="337.1" cy="314.2"/>
<circle r="2.6" cx="337.2" cy="316.7"/>
<circle r="2.6" cx="337.2" cy="319.2"/>
<circle r="2.6" cx="337.3" cy="321.6"/>
<circle r="2.6" cx="337.3" cy="324.1"/>
<circle r="2.6" cx="337.4" cy="326.6"/>
<circle r="2.6" cx="337.4" cy="329.1"/>
<circle r="2.6" cx="337.5" cy="331.5"/>
<circle r="2.6" cx="337.5" cy="334.0"/>
<circle r="2.6" cx="340.1" cy="334.0"/>
<circle r="2.6" cx="342.7" cy="334.0"/>
<circle r="2.6" cx="343.1" cy="330.8"/>
<circle r="2.6" cx="343.5" cy="327.5"/>
<circle r="2.6" cx="346.8" cy="327.5"/>
<circle r="2.6" cx="350.0" cy="327.5"/>
<circle r="2.6" cx="350.3" cy="325.2"/>
<circle r="2.6" cx="350.6" cy="322.9"/>
<circle r="2.6" cx="351.0" cy="320.6"/>
<circle r="2.6" cx="351.3" cy="318.3"/>
<circle r="2.6" cx="351.6" cy="316.0"/>
<circle r="2.6" cx="355.0" cy="316.0"/>
<circle r="2.6" cx="355.0" cy="318.4"/>
<circle r="2.6" cx="355.0" cy="320.8"/>
<circle r="2.6" cx="355.0" cy="323.2"/>
<circle r="2.6" cx="355.0" cy="325.6"/>
<circle r="2.6" cx="355.0" cy="328.0"/>
<circle r="2.6" cx="355.0" cy="330.4"/>
<circle r="2.6" cx="355.0" cy="332.8"/>
<circle r="2.6" cx="355.0" cy="335.2"/>
<circle r="2.6" cx="355.0" cy="337.6"/>
<circle r="2.6" cx="355.0" cy="340.0"/>
<circle r="2.6" cx="355.0" cy="342.5"/>
<circle r="2.6" cx="355.0" cy="344.9"/>
<circle r="2.6" cx="355.0" cy="347.3"/>
<circle r="2.6" cx="355.0" cy="349.7"/>
<circle r="2.6" cx="355.0" cy="352.1"/>
<circle r="2.6" cx="355.0" cy="354.5"/>
<circle r="2.6" cx="355.0" cy="356.9"/>
<circle r="2.6" cx="355.0" cy="359.3"/>
<circle r="2.6" cx="355.0" cy="361.7"/>
<circle r="2.6" cx="355.0" cy="364.1"/>
<circle r="2.6" cx="355.0" cy="366.5"/>
<circle r="2.6" cx="352.5" cy="366.5"/>
<circle r="2.6" cx="350.0" cy="366.5"/>
<circle r="2.6" cx="349.2" cy="369.8"/>
<circle r="2.6" cx="348.4" cy="373.0"/>
<circle r="2.6" cx="345.7" cy="373.0"/>
<circle r="2.6" cx="343.0" cy="373.0"/>
<circle r="2.6" cx="342.8" cy="370.4"/>
<circle r="2.6" cx="342.6" cy="367.8"/>
<circle r="2.6" cx="342.4" cy="365.2"/>
<circle r="2.6" cx="342.2" cy="362.6"/>
<circle r="2.6" cx="342.0" cy="360.0"/>
<circle r="2.6" cx="339.4" cy="360.0"/>
<circle r="2.6" cx="336.8" cy="360.0"/>
<circle r="2.6" cx="334.2" cy="360.0"/>
<circle r="2.6" cx="331.7" cy="360.0"/>
<circle r="2.6" cx="329.1" cy="360.0"/>
<circle r="2.6" cx="326.5" cy="360.0"/>
<circle r="2.6" cx="326.5" cy="357.5"/>
<circle r="2.6" cx="326.5" cy="355.1"/>
<circle r="2.6" cx="326.5" cy="352.6"/>
<circle r="2.6" cx="326.5" cy="350.2"/>
<circle r="2.6" cx="326.5" cy="347.7"/>
<circle r="2.6" cx="326.5" cy="345.3"/>
<circle r="2.6" cx="326.5" cy="342.8"/>
<circle r="2.6" cx="326.5" cy="340.4"/>
<circle r="2.6" cx="326.5" cy="337.9"/>
<circle r="2.6" cx="326.5" cy="335.5"/>
<circle r="2.6" cx="265.4" cy="336.1"/>
<circle r="2.6" cx="265.3" cy="337.3"/>
<circle r="2.6" cx="265.2" cy="338.0"/>
<circle r="2.6" cx="265.4" cy="339.4"/>
<circle r="2.6" cx="265.1" cy="340.6"/>
<circle r="2.6" cx="265.4" cy="341.5"/>
<circle r="2.6" cx="265.0" cy="342.3"/>
<circle r="2.6" cx="265.3" cy="343.4"/>
<circle r="2.6" cx="265.3" cy="344.6"/>
<circle r="2.6" cx="265.4" cy="345.9"/>
<circle r="2.6" cx="265.3" cy="346.5"/>
<circle r="2.6" cx="265.3" cy="348.1"/>
<circle r="2.6" cx="265.4" cy="349.2"/>
<circle r="2.6" cx="265.4" cy="350.1"/>
<circle r="2.6" cx="265.0" cy="351.1"/>
<circle r="2.6" cx="265.4" cy="352.0"/>
<circle r="2.6" cx="265.2" cy="353.1"/>
<circle r="2.6" cx="265.4" cy="354.3"/>
<circle r="2.6" cx="288.1" cy="340.6"/>
<circle r="2.6" cx="288.0" cy="341.8"/>
<circle r="2.6" cx="287.8" cy="342.7"/>
<circle r="2.6" cx="287.8" cy="343.5"/>
<circle r="2.6" cx="288.0" cy="344.8"/>
<circle r="2.6" cx="288.1" cy="345.6"/>
<circle r="2.6" cx="287.9" cy="346.6"/>
<circle r="2.6" cx="287.8" cy="347.9"/>
<circle r="2.6" cx="289.5" cy="340.6"/>
<circle r="2.6" cx="289.7" cy="341.4"/>
<circle r="2.6" cx="289.7" cy="342.6"/>
<circle r="2.6" cx="289.4" cy="343.7"/>
<circle r="2.6" cx="289.4" cy="345.0"/>
<circle r="2.6" cx="289.6" cy="345.8"/>
<circle r="2.6" cx="289.6" cy="347.2"/>
<circle r="2.6" cx="289.3" cy="347.9"/>
<circle r="2.6" cx="309.9" cy="332.5"/>
<circle r="2.6" cx="310.1" cy="333.9"/>
<circle r="2.6" cx="309.7" cy="334.6"/>
<circle r="2.6" cx="310.0" cy="335.7"/>
<circle r="2.6" cx="310.1" cy="336.7"/>
<circle r="2.6" cx="310.0" cy="337.9"/>
<circle r="2.6" cx="309.8" cy="339.3"/>
<circle r="2.6" cx="310.0" cy="340.3"/>
<circle r="2.6" cx="309.9" cy="341.2"/>
<circle r="2.6" cx="310.1" cy="342.5"/>
<circle r="2.6" cx="309.7" cy="343.4"/>
<circle r="2.6" cx="309.9" cy="344.7"/>
<circle r="2.6" cx="310.1" cy="345.8"/>
<circle r="2.6" cx="309.9" cy="346.7"/>
<circle r="2.6" cx="309.7" cy="348.0"/>
<circle r="2.6" cx="309.9" cy="349.1"/>
<circle r="2.6" cx="310.0" cy="350.1"/>
<circle r="2.6" cx="310.1" cy="351.6"/>
<circle r="2.6" cx="309.8" cy="352.3"/>
<circle r="2.6" cx="309.7" cy="353.8"/>
<circle r="2.6" cx="309.7" cy="354.4"/>
<circle r="2.6" cx="309.9" cy="356.0"/>
<circle r="2.6" cx="309.7" cy="356.8"/>
<circle r="2.6" cx="310.1" cy="358.2"/>
<circle r="2.6" cx="310.1" cy="359.2"/>
<circle r="2.6" cx="309.8" cy="360.2"/>
<circle r="2.6" cx="309.8" cy="361.1"/>
<circle r="2.6" cx="309.7" cy="362.4"/>
<circle r="2.6" cx="265.2" cy="326.1"/>
<circle r="2.6" cx="265.2" cy="331.6"/>
<circle r="2.6" cx="265.2" cy="357.0"/>
<circle r="2.6" cx="265.2" cy="367.9"/>
<circle r="2.6" cx="265.2" cy="373.7"/>
<circle r="2.6" cx="293.0" cy="308.9"/>
<circle r="2.6" cx="293.0" cy="315.2"/>
<circle r="2.6" cx="293.0" cy="324.3"/>
<circle r="2.6" cx="293.0" cy="328.8"/>
<circle r="2.6" cx="293.0" cy="332.5"/>
<circle r="2.6" cx="293.0" cy="340.6"/>
<circle r="2.6" cx="293.0" cy="345.2"/>
<circle r="2.6" cx="309.9" cy="325.6"/>
<circle r="2.6" cx="309.9" cy="330.7"/>
<circle r="2.6" cx="309.9" cy="373.3"/>
<circle r="2.6" cx="309.9" cy="375.4"/>
<circle r="2.6" cx="309.9" cy="377.5"/>
<circle r="2.6" cx="309.9" cy="379.7"/>
<circle r="2.6" cx="309.9" cy="381.8"/>
<circle r="2.6" cx="309.9" cy="383.9"/>
<circle r="2.6" cx="309.9" cy="386.0"/>
<circle r="2.6" cx="309.9" cy="388.2"/>
<circle r="2.6" cx="309.9" cy="390.3"/>
<circle r="2.6" cx="309.9" cy="392.4"/>
<circle r="2.6" cx="322.1" cy="348.6"/>
<circle r="2.6" cx="322.9" cy="355.1"/>
<circle r="2.6" cx="322.9" cy="359.9"/>
<circle r="2.6" cx="322.9" cy="363.2"/>
<circle r="2.6" cx="327.7" cy="367.2"/>
<circle r="2.6" cx="333.8" cy="367.2"/>
<circle r="2.6" cx="339.5" cy="366.8"/>
<circle r="2.6" cx="333.0" cy="373.7"/>
<circle r="2.6" cx="333.0" cy="376.1"/>
<circle r="2.6" cx="327.7" cy="377.3"/>
<circle r="2.6" cx="323.3" cy="381.0"/>
<circle r="2.6" cx="323.3" cy="383.4"/>
<circle r="2.6" cx="323.3" cy="387.9"/>
<circle r="2.6" cx="328.1" cy="386.6"/>
<circle r="2.6" cx="343.5" cy="383.4"/>
<circle r="2.6" cx="346.4" cy="319.8"/>
<circle r="2.6" cx="354.9" cy="368.8"/>
<circle r="2.6" cx="354.9" cy="314.2"/>
<circle r="2.6" cx="354.9" cy="317.5"/>
<circle r="2.6" cx="354.9" cy="321.0"/>
</g>
<line x1="233.4" y1="347.25" x2="369.5" y2="347.25" stroke="#111" stroke-width="1.6"/>
<rect x="233.4" y="278.5" width="136.1" height="136.7" fill="none" stroke="#1a1a1a" stroke-width="1.05"/>
<line x1="229.9" y1="409.94" x2="233.4" y2="409.94" stroke="#333" stroke-width="1.0"/>
<text x="226.8" y="414.74" font-size="14" text-anchor="end" textLength="7.6" lengthAdjust="spacingAndGlyphs">6</text>
<rect x="209.0" y="410.39" width="8.3" height="1.05" fill="#000"/>
<line x1="229.9" y1="388.91" x2="233.4" y2="388.91" stroke="#333" stroke-width="1.0"/>
<text x="226.8" y="393.71" font-size="14" text-anchor="end" textLength="7.6" lengthAdjust="spacingAndGlyphs">4</text>
<rect x="209.0" y="389.36" width="8.3" height="1.05" fill="#000"/>
<line x1="229.9" y1="367.88" x2="233.4" y2="367.88" stroke="#333" stroke-width="1.0"/>
<text x="226.8" y="372.68" font-size="14" text-anchor="end" textLength="7.6" lengthAdjust="spacingAndGlyphs">2</text>
<rect x="209.0" y="368.33" width="8.3" height="1.05" fill="#000"/>
<line x1="229.9" y1="346.85" x2="233.4" y2="346.85" stroke="#333" stroke-width="1.0"/>
<text x="226.8" y="351.65" font-size="14" text-anchor="end" textLength="7.6" lengthAdjust="spacingAndGlyphs">0</text>
<line x1="229.9" y1="325.82" x2="233.4" y2="325.82" stroke="#333" stroke-width="1.0"/>
<text x="226.8" y="330.62" font-size="14" text-anchor="end" textLength="7.6" lengthAdjust="spacingAndGlyphs">2</text>
<line x1="229.9" y1="304.79" x2="233.4" y2="304.79" stroke="#333" stroke-width="1.0"/>
<text x="226.8" y="309.59" font-size="14" text-anchor="end" textLength="7.6" lengthAdjust="spacingAndGlyphs">4</text>
<line x1="229.9" y1="283.76" x2="233.4" y2="283.76" stroke="#333" stroke-width="1.0"/>
<text x="226.8" y="288.56" font-size="14" text-anchor="end" textLength="7.6" lengthAdjust="spacingAndGlyphs">6</text>
<line x1="268.52" y1="415.2" x2="268.52" y2="418.7" stroke="#333" stroke-width="1.0"/>
<text x="268.52" y="432.0" font-size="14" text-anchor="middle" textLength="21.0" lengthAdjust="spacingAndGlyphs">0.8</text>
<line x1="312.43" y1="415.2" x2="312.43" y2="418.7" stroke="#333" stroke-width="1.0"/>
<text x="312.43" y="432.0" font-size="14" text-anchor="middle" textLength="21.0" lengthAdjust="spacingAndGlyphs">0.9</text>
<line x1="356.33" y1="415.2" x2="356.33" y2="418.7" stroke="#333" stroke-width="1.0"/>
<text x="356.33" y="432.0" font-size="14" text-anchor="middle" textLength="21.0" lengthAdjust="spacingAndGlyphs">1.0</text>
<text transform="translate(200.7,346.9) rotate(-90)" font-size="15.2" text-anchor="middle" textLength="144.5" lengthAdjust="spacingAndGlyphs">Residuals [log CFU]</text>
<text x="300.9" y="449.8" font-size="15.2" text-anchor="middle" textLength="39.5" lengthAdjust="spacingAndGlyphs"><tspan font-style="italic">a</tspan><tspan font-style="italic" font-size="10.6" dy="2.6">w</tspan><tspan dy="-2.6"> [-]</tspan></text>
<g fill="none" stroke="#696969" stroke-width="1.1">
<circle r="2.6" cx="469.9" cy="337.6"/>
<circle r="2.6" cx="466.6" cy="339.5"/>
<circle r="2.6" cx="469.3" cy="339.5"/>
<circle r="2.6" cx="470.9" cy="339.2"/>
<circle r="2.6" cx="466.0" cy="340.6"/>
<circle r="2.6" cx="467.8" cy="340.4"/>
<circle r="2.6" cx="470.0" cy="340.7"/>
<circle r="2.6" cx="464.9" cy="341.2"/>
<circle r="2.6" cx="466.9" cy="341.9"/>
<circle r="2.6" cx="468.7" cy="341.7"/>
<circle r="2.6" cx="470.7" cy="341.4"/>
<circle r="2.6" cx="464.1" cy="342.5"/>
<circle r="2.6" cx="466.0" cy="342.9"/>
<circle r="2.6" cx="467.9" cy="343.0"/>
<circle r="2.6" cx="470.3" cy="342.6"/>
<circle r="2.6" cx="465.2" cy="344.2"/>
<circle r="2.6" cx="467.1" cy="344.1"/>
<circle r="2.6" cx="469.1" cy="344.2"/>
<circle r="2.6" cx="471.2" cy="343.8"/>
<circle r="2.6" cx="464.1" cy="345.4"/>
<circle r="2.6" cx="466.0" cy="345.5"/>
<circle r="2.6" cx="467.9" cy="345.2"/>
<circle r="2.6" cx="470.1" cy="345.3"/>
<circle r="2.6" cx="464.7" cy="346.5"/>
<circle r="2.6" cx="466.7" cy="346.4"/>
<circle r="2.6" cx="469.0" cy="346.6"/>
<circle r="2.6" cx="471.3" cy="346.8"/>
<circle r="2.6" cx="463.8" cy="347.9"/>
<circle r="2.6" cx="466.0" cy="347.6"/>
<circle r="2.6" cx="467.6" cy="347.9"/>
<circle r="2.6" cx="469.8" cy="347.4"/>
<circle r="2.6" cx="464.8" cy="348.6"/>
<circle r="2.6" cx="466.8" cy="348.6"/>
<circle r="2.6" cx="469.0" cy="348.7"/>
<circle r="2.6" cx="471.2" cy="349.1"/>
<circle r="2.6" cx="466.3" cy="349.9"/>
<circle r="2.6" cx="468.1" cy="350.2"/>
<circle r="2.6" cx="470.2" cy="349.9"/>
<circle r="2.6" cx="468.8" cy="351.4"/>
<circle r="2.6" cx="464.0" cy="340.5"/>
<circle r="2.6" cx="466.6" cy="339.2"/>
<circle r="2.6" cx="469.1" cy="338.0"/>
<circle r="2.6" cx="472.0" cy="338.0"/>
<circle r="2.6" cx="472.0" cy="340.4"/>
<circle r="2.6" cx="472.0" cy="342.8"/>
<circle r="2.6" cx="472.0" cy="345.2"/>
<circle r="2.6" cx="472.0" cy="347.6"/>
<circle r="2.6" cx="472.0" cy="350.0"/>
<circle r="2.6" cx="469.1" cy="352.3"/>
<circle r="2.6" cx="466.6" cy="350.6"/>
<circle r="2.6" cx="464.0" cy="349.0"/>
<circle r="2.6" cx="464.0" cy="346.2"/>
<circle r="2.6" cx="464.0" cy="343.3"/>
<circle r="2.6" cx="547.6" cy="306.4"/>
<circle r="2.6" cx="549.6" cy="306.2"/>
<circle r="2.6" cx="548.7" cy="308.0"/>
<circle r="2.6" cx="550.9" cy="307.4"/>
<circle r="2.6" cx="547.7" cy="309.1"/>
<circle r="2.6" cx="549.2" cy="309.0"/>
<circle r="2.6" cx="548.3" cy="309.9"/>
<circle r="2.6" cx="550.1" cy="309.9"/>
<circle r="2.6" cx="547.8" cy="311.4"/>
<circle r="2.6" cx="549.7" cy="311.7"/>
<circle r="2.6" cx="548.2" cy="312.8"/>
<circle r="2.6" cx="550.8" cy="312.6"/>
<circle r="2.6" cx="547.4" cy="313.4"/>
<circle r="2.6" cx="549.5" cy="313.6"/>
<circle r="2.6" cx="548.3" cy="315.0"/>
<circle r="2.6" cx="550.6" cy="314.7"/>
<circle r="2.6" cx="531.2" cy="316.1"/>
<circle r="2.6" cx="533.7" cy="316.2"/>
<circle r="2.6" cx="547.6" cy="316.4"/>
<circle r="2.6" cx="549.7" cy="316.1"/>
<circle r="2.6" cx="532.7" cy="317.4"/>
<circle r="2.6" cx="534.4" cy="317.0"/>
<circle r="2.6" cx="548.4" cy="317.5"/>
<circle r="2.6" cx="550.7" cy="317.1"/>
<circle r="2.6" cx="531.5" cy="318.2"/>
<circle r="2.6" cx="533.6" cy="318.5"/>
<circle r="2.6" cx="547.7" cy="318.8"/>
<circle r="2.6" cx="549.1" cy="318.9"/>
<circle r="2.6" cx="532.2" cy="320.1"/>
<circle r="2.6" cx="534.9" cy="319.5"/>
<circle r="2.6" cx="548.3" cy="319.4"/>
<circle r="2.6" cx="550.8" cy="319.9"/>
<circle r="2.6" cx="531.9" cy="321.1"/>
<circle r="2.6" cx="533.4" cy="321.1"/>
<circle r="2.6" cx="535.4" cy="320.8"/>
<circle r="2.6" cx="547.4" cy="321.1"/>
<circle r="2.6" cx="549.4" cy="320.9"/>
<circle r="2.6" cx="532.6" cy="322.3"/>
<circle r="2.6" cx="534.5" cy="322.0"/>
<circle r="2.6" cx="548.5" cy="322.1"/>
<circle r="2.6" cx="550.7" cy="321.8"/>
<circle r="2.6" cx="531.2" cy="322.9"/>
<circle r="2.6" cx="533.4" cy="323.6"/>
<circle r="2.6" cx="535.6" cy="323.4"/>
<circle r="2.6" cx="547.8" cy="323.6"/>
<circle r="2.6" cx="549.3" cy="323.1"/>
<circle r="2.6" cx="532.5" cy="324.3"/>
<circle r="2.6" cx="534.6" cy="324.2"/>
<circle r="2.6" cx="548.4" cy="324.7"/>
<circle r="2.6" cx="550.3" cy="324.2"/>
<circle r="2.6" cx="531.7" cy="325.5"/>
<circle r="2.6" cx="533.8" cy="325.8"/>
<circle r="2.6" cx="535.8" cy="325.7"/>
<circle r="2.6" cx="547.5" cy="325.5"/>
<circle r="2.6" cx="549.1" cy="326.1"/>
<circle r="2.6" cx="532.3" cy="326.6"/>
<circle r="2.6" cx="534.8" cy="326.9"/>
<circle r="2.6" cx="548.6" cy="327.2"/>
<circle r="2.6" cx="550.7" cy="326.7"/>
<circle r="2.6" cx="531.3" cy="328.2"/>
<circle r="2.6" cx="533.6" cy="327.9"/>
<circle r="2.6" cx="535.3" cy="328.1"/>
<circle r="2.6" cx="537.1" cy="328.3"/>
<circle r="2.6" cx="539.6" cy="327.8"/>
<circle r="2.6" cx="541.6" cy="328.2"/>
<circle r="2.6" cx="547.2" cy="328.0"/>
<circle r="2.6" cx="549.7" cy="328.1"/>
<circle r="2.6" cx="532.7" cy="329.1"/>
<circle r="2.6" cx="534.9" cy="329.4"/>
<circle r="2.6" cx="536.5" cy="328.9"/>
<circle r="2.6" cx="538.4" cy="328.9"/>
<circle r="2.6" cx="540.5" cy="329.0"/>
<circle r="2.6" cx="548.3" cy="329.1"/>
<circle r="2.6" cx="550.2" cy="329.1"/>
<circle r="2.6" cx="531.5" cy="330.2"/>
<circle r="2.6" cx="533.5" cy="330.9"/>
<circle r="2.6" cx="535.7" cy="330.9"/>
<circle r="2.6" cx="537.2" cy="330.6"/>
<circle r="2.6" cx="539.3" cy="330.8"/>
<circle r="2.6" cx="541.5" cy="330.7"/>
<circle r="2.6" cx="547.7" cy="330.2"/>
<circle r="2.6" cx="549.2" cy="330.7"/>
<circle r="2.6" cx="532.8" cy="331.6"/>
<circle r="2.6" cx="534.1" cy="331.3"/>
<circle r="2.6" cx="536.7" cy="331.9"/>
<circle r="2.6" cx="538.4" cy="331.8"/>
<circle r="2.6" cx="540.7" cy="331.3"/>
<circle r="2.6" cx="542.7" cy="332.1"/>
<circle r="2.6" cx="544.8" cy="332.0"/>
<circle r="2.6" cx="546.5" cy="331.8"/>
<circle r="2.6" cx="548.2" cy="331.9"/>
<circle r="2.6" cx="550.6" cy="331.6"/>
<circle r="2.6" cx="531.1" cy="332.6"/>
<circle r="2.6" cx="533.4" cy="333.2"/>
<circle r="2.6" cx="535.5" cy="333.2"/>
<circle r="2.6" cx="537.2" cy="332.7"/>
<circle r="2.6" cx="539.3" cy="332.7"/>
<circle r="2.6" cx="541.7" cy="332.8"/>
<circle r="2.6" cx="543.4" cy="333.0"/>
<circle r="2.6" cx="545.5" cy="333.2"/>
<circle r="2.6" cx="547.7" cy="333.2"/>
<circle r="2.6" cx="549.4" cy="332.8"/>
<circle r="2.6" cx="532.5" cy="334.5"/>
<circle r="2.6" cx="534.9" cy="334.2"/>
<circle r="2.6" cx="536.5" cy="333.8"/>
<circle r="2.6" cx="538.8" cy="334.2"/>
<circle r="2.6" cx="540.4" cy="333.8"/>
<circle r="2.6" cx="542.5" cy="334.3"/>
<circle r="2.6" cx="544.3" cy="333.9"/>
<circle r="2.6" cx="546.5" cy="334.1"/>
<circle r="2.6" cx="548.1" cy="333.8"/>
<circle r="2.6" cx="550.4" cy="334.3"/>
<circle r="2.6" cx="531.4" cy="334.9"/>
<circle r="2.6" cx="533.3" cy="335.1"/>
<circle r="2.6" cx="535.7" cy="335.1"/>
<circle r="2.6" cx="537.9" cy="335.1"/>
<circle r="2.6" cx="539.2" cy="334.9"/>
<circle r="2.6" cx="541.5" cy="335.3"/>
<circle r="2.6" cx="543.7" cy="335.4"/>
<circle r="2.6" cx="545.5" cy="334.9"/>
<circle r="2.6" cx="547.8" cy="335.1"/>
<circle r="2.6" cx="549.3" cy="335.0"/>
<circle r="2.6" cx="532.6" cy="336.6"/>
<circle r="2.6" cx="534.4" cy="336.3"/>
<circle r="2.6" cx="536.1" cy="336.6"/>
<circle r="2.6" cx="538.7" cy="336.2"/>
<circle r="2.6" cx="540.3" cy="336.7"/>
<circle r="2.6" cx="542.7" cy="336.2"/>
<circle r="2.6" cx="544.9" cy="336.7"/>
<circle r="2.6" cx="546.7" cy="336.4"/>
<circle r="2.6" cx="548.9" cy="336.5"/>
<circle r="2.6" cx="550.6" cy="336.9"/>
<circle r="2.6" cx="531.8" cy="337.4"/>
<circle r="2.6" cx="533.2" cy="337.5"/>
<circle r="2.6" cx="535.2" cy="338.0"/>
<circle r="2.6" cx="537.5" cy="337.7"/>
<circle r="2.6" cx="539.4" cy="337.7"/>
<circle r="2.6" cx="541.4" cy="337.9"/>
<circle r="2.6" cx="543.4" cy="338.0"/>
<circle r="2.6" cx="545.8" cy="338.0"/>
<circle r="2.6" cx="547.7" cy="337.4"/>
<circle r="2.6" cx="549.4" cy="338.0"/>
<circle r="2.6" cx="532.4" cy="339.0"/>
<circle r="2.6" cx="534.3" cy="339.2"/>
<circle r="2.6" cx="536.4" cy="338.8"/>
<circle r="2.6" cx="538.8" cy="338.6"/>
<circle r="2.6" cx="540.1" cy="338.8"/>
<circle r="2.6" cx="542.5" cy="338.6"/>
<circle r="2.6" cx="544.4" cy="339.1"/>
<circle r="2.6" cx="546.8" cy="339.2"/>
<circle r="2.6" cx="548.7" cy="338.6"/>
<circle r="2.6" cx="550.4" cy="338.9"/>
<circle r="2.6" cx="523.1" cy="340.3"/>
<circle r="2.6" cx="525.3" cy="340.3"/>
<circle r="2.6" cx="527.6" cy="339.9"/>
<circle r="2.6" cx="529.4" cy="340.1"/>
<circle r="2.6" cx="531.3" cy="339.7"/>
<circle r="2.6" cx="533.4" cy="339.9"/>
<circle r="2.6" cx="535.3" cy="340.3"/>
<circle r="2.6" cx="537.7" cy="340.0"/>
<circle r="2.6" cx="539.1" cy="340.3"/>
<circle r="2.6" cx="541.3" cy="339.8"/>
<circle r="2.6" cx="543.7" cy="340.4"/>
<circle r="2.6" cx="545.3" cy="340.1"/>
<circle r="2.6" cx="547.8" cy="340.1"/>
<circle r="2.6" cx="549.4" cy="339.8"/>
<circle r="2.6" cx="524.1" cy="341.6"/>
<circle r="2.6" cx="526.7" cy="341.0"/>
<circle r="2.6" cx="528.6" cy="341.1"/>
<circle r="2.6" cx="530.7" cy="341.2"/>
<circle r="2.6" cx="532.7" cy="341.3"/>
<circle r="2.6" cx="534.2" cy="341.4"/>
<circle r="2.6" cx="536.6" cy="340.9"/>
<circle r="2.6" cx="538.1" cy="341.1"/>
<circle r="2.6" cx="540.7" cy="341.7"/>
<circle r="2.6" cx="542.5" cy="341.6"/>
<circle r="2.6" cx="544.7" cy="341.1"/>
<circle r="2.6" cx="546.5" cy="341.6"/>
<circle r="2.6" cx="548.5" cy="341.3"/>
<circle r="2.6" cx="550.7" cy="341.0"/>
<circle r="2.6" cx="523.5" cy="342.5"/>
<circle r="2.6" cx="525.6" cy="342.7"/>
<circle r="2.6" cx="527.3" cy="342.5"/>
<circle r="2.6" cx="529.5" cy="342.2"/>
<circle r="2.6" cx="531.7" cy="342.9"/>
<circle r="2.6" cx="533.5" cy="342.4"/>
<circle r="2.6" cx="535.4" cy="342.5"/>
<circle r="2.6" cx="537.4" cy="342.3"/>
<circle r="2.6" cx="539.9" cy="342.4"/>
<circle r="2.6" cx="541.3" cy="342.6"/>
<circle r="2.6" cx="543.1" cy="342.4"/>
<circle r="2.6" cx="545.5" cy="342.8"/>
<circle r="2.6" cx="547.3" cy="342.1"/>
<circle r="2.6" cx="549.9" cy="342.1"/>
<circle r="2.6" cx="551.4" cy="342.5"/>
<circle r="2.6" cx="524.9" cy="343.6"/>
<circle r="2.6" cx="526.3" cy="343.5"/>
<circle r="2.6" cx="528.4" cy="343.4"/>
<circle r="2.6" cx="530.8" cy="343.7"/>
<circle r="2.6" cx="532.7" cy="343.5"/>
<circle r="2.6" cx="534.6" cy="344.0"/>
<circle r="2.6" cx="536.3" cy="344.1"/>
<circle r="2.6" cx="538.3" cy="343.9"/>
<circle r="2.6" cx="540.9" cy="343.7"/>
<circle r="2.6" cx="542.8" cy="343.6"/>
<circle r="2.6" cx="544.4" cy="344.0"/>
<circle r="2.6" cx="546.6" cy="343.3"/>
<circle r="2.6" cx="548.2" cy="343.7"/>
<circle r="2.6" cx="550.4" cy="343.3"/>
<circle r="2.6" cx="552.8" cy="343.6"/>
<circle r="2.6" cx="523.8" cy="344.8"/>
<circle r="2.6" cx="525.2" cy="344.8"/>
<circle r="2.6" cx="527.8" cy="345.2"/>
<circle r="2.6" cx="529.6" cy="344.7"/>
<circle r="2.6" cx="531.5" cy="344.7"/>
<circle r="2.6" cx="533.4" cy="344.5"/>
<circle r="2.6" cx="535.1" cy="345.2"/>
<circle r="2.6" cx="537.7" cy="344.7"/>
<circle r="2.6" cx="539.6" cy="344.5"/>
<circle r="2.6" cx="541.8" cy="345.0"/>
<circle r="2.6" cx="543.7" cy="344.8"/>
<circle r="2.6" cx="545.4" cy="345.2"/>
<circle r="2.6" cx="547.4" cy="344.6"/>
<circle r="2.6" cx="549.2" cy="345.2"/>
<circle r="2.6" cx="551.3" cy="344.6"/>
<circle r="2.6" cx="524.6" cy="345.8"/>
<circle r="2.6" cx="526.4" cy="346.3"/>
<circle r="2.6" cx="528.3" cy="346.0"/>
<circle r="2.6" cx="530.8" cy="346.4"/>
<circle r="2.6" cx="532.8" cy="345.7"/>
<circle r="2.6" cx="534.9" cy="346.1"/>
<circle r="2.6" cx="536.2" cy="346.5"/>
<circle r="2.6" cx="538.2" cy="346.5"/>
<circle r="2.6" cx="540.1" cy="345.8"/>
<circle r="2.6" cx="542.5" cy="346.2"/>
<circle r="2.6" cx="544.6" cy="346.4"/>
<circle r="2.6" cx="546.2" cy="346.3"/>
<circle r="2.6" cx="548.4" cy="346.5"/>
<circle r="2.6" cx="550.6" cy="346.3"/>
<circle r="2.6" cx="552.2" cy="346.4"/>
<circle r="2.6" cx="523.3" cy="347.1"/>
<circle r="2.6" cx="525.4" cy="347.5"/>
<circle r="2.6" cx="527.4" cy="347.3"/>
<circle r="2.6" cx="529.6" cy="347.1"/>
<circle r="2.6" cx="531.2" cy="347.2"/>
<circle r="2.6" cx="533.7" cy="347.4"/>
<circle r="2.6" cx="535.3" cy="347.4"/>
<circle r="2.6" cx="537.8" cy="347.5"/>
<circle r="2.6" cx="539.2" cy="346.9"/>
<circle r="2.6" cx="541.9" cy="347.5"/>
<circle r="2.6" cx="543.3" cy="347.5"/>
<circle r="2.6" cx="545.6" cy="347.4"/>
<circle r="2.6" cx="547.4" cy="347.4"/>
<circle r="2.6" cx="549.4" cy="347.2"/>
<circle r="2.6" cx="551.4" cy="347.5"/>
<circle r="2.6" cx="524.8" cy="348.3"/>
<circle r="2.6" cx="526.2" cy="348.3"/>
<circle r="2.6" cx="528.7" cy="348.4"/>
<circle r="2.6" cx="530.1" cy="348.8"/>
<circle r="2.6" cx="532.4" cy="348.2"/>
<circle r="2.6" cx="534.7" cy="348.5"/>
<circle r="2.6" cx="536.8" cy="348.8"/>
<circle r="2.6" cx="538.8" cy="348.8"/>
<circle r="2.6" cx="540.4" cy="348.7"/>
<circle r="2.6" cx="542.5" cy="348.6"/>
<circle r="2.6" cx="544.3" cy="348.6"/>
<circle r="2.6" cx="546.2" cy="348.8"/>
<circle r="2.6" cx="548.2" cy="348.6"/>
<circle r="2.6" cx="550.8" cy="348.8"/>
<circle r="2.6" cx="552.8" cy="348.4"/>
<circle r="2.6" cx="523.2" cy="350.1"/>
<circle r="2.6" cx="525.3" cy="350.0"/>
<circle r="2.6" cx="527.4" cy="349.7"/>
<circle r="2.6" cx="529.5" cy="349.7"/>
<circle r="2.6" cx="531.7" cy="349.8"/>
<circle r="2.6" cx="533.2" cy="349.7"/>
<circle r="2.6" cx="535.2" cy="350.0"/>
<circle r="2.6" cx="537.2" cy="349.6"/>
<circle r="2.6" cx="539.6" cy="349.6"/>
<circle r="2.6" cx="541.8" cy="349.9"/>
<circle r="2.6" cx="543.4" cy="349.6"/>
<circle r="2.6" cx="545.7" cy="349.7"/>
<circle r="2.6" cx="547.6" cy="349.6"/>
<circle r="2.6" cx="549.6" cy="349.8"/>
<circle r="2.6" cx="551.8" cy="349.6"/>
<circle r="2.6" cx="524.7" cy="350.7"/>
<circle r="2.6" cx="526.3" cy="350.7"/>
<circle r="2.6" cx="528.8" cy="350.6"/>
<circle r="2.6" cx="530.3" cy="350.9"/>
<circle r="2.6" cx="532.7" cy="351.0"/>
<circle r="2.6" cx="534.2" cy="350.8"/>
<circle r="2.6" cx="536.7" cy="350.6"/>
<circle r="2.6" cx="538.2" cy="351.2"/>
<circle r="2.6" cx="540.1" cy="350.6"/>
<circle r="2.6" cx="542.3" cy="351.2"/>
<circle r="2.6" cx="544.4" cy="350.8"/>
<circle r="2.6" cx="546.5" cy="351.2"/>
<circle r="2.6" cx="548.1" cy="350.7"/>
<circle r="2.6" cx="550.4" cy="351.0"/>
<circle r="2.6" cx="552.2" cy="350.8"/>
<circle r="2.6" cx="523.6" cy="351.8"/>
<circle r="2.6" cx="525.4" cy="351.7"/>
<circle r="2.6" cx="527.8" cy="351.7"/>
<circle r="2.6" cx="529.2" cy="352.2"/>
<circle r="2.6" cx="531.3" cy="352.2"/>
<circle r="2.6" cx="533.4" cy="352.5"/>
<circle r="2.6" cx="535.6" cy="352.0"/>
<circle r="2.6" cx="537.2" cy="352.1"/>
<circle r="2.6" cx="539.7" cy="352.3"/>
<circle r="2.6" cx="541.7" cy="352.1"/>
<circle r="2.6" cx="543.8" cy="352.0"/>
<circle r="2.6" cx="545.5" cy="352.5"/>
<circle r="2.6" cx="547.7" cy="352.1"/>
<circle r="2.6" cx="549.7" cy="352.3"/>
<circle r="2.6" cx="551.3" cy="352.0"/>
<circle r="2.6" cx="524.7" cy="353.2"/>
<circle r="2.6" cx="526.4" cy="353.3"/>
<circle r="2.6" cx="528.2" cy="353.1"/>
<circle r="2.6" cx="536.9" cy="353.1"/>
<circle r="2.6" cx="538.7" cy="352.9"/>
<circle r="2.6" cx="540.3" cy="353.3"/>
<circle r="2.6" cx="542.4" cy="353.7"/>
<circle r="2.6" cx="544.9" cy="353.1"/>
<circle r="2.6" cx="546.2" cy="353.6"/>
<circle r="2.6" cx="548.7" cy="353.3"/>
<circle r="2.6" cx="550.1" cy="352.9"/>
<circle r="2.6" cx="552.7" cy="353.4"/>
<circle r="2.6" cx="523.5" cy="354.4"/>
<circle r="2.6" cx="525.3" cy="354.4"/>
<circle r="2.6" cx="527.4" cy="354.6"/>
<circle r="2.6" cx="529.4" cy="354.4"/>
<circle r="2.6" cx="537.3" cy="354.6"/>
<circle r="2.6" cx="539.8" cy="354.2"/>
<circle r="2.6" cx="541.7" cy="354.6"/>
<circle r="2.6" cx="543.3" cy="354.2"/>
<circle r="2.6" cx="545.8" cy="354.2"/>
<circle r="2.6" cx="547.2" cy="354.2"/>
<circle r="2.6" cx="549.8" cy="354.4"/>
<circle r="2.6" cx="551.1" cy="354.3"/>
<circle r="2.6" cx="524.5" cy="355.7"/>
<circle r="2.6" cx="526.2" cy="356.0"/>
<circle r="2.6" cx="528.7" cy="355.5"/>
<circle r="2.6" cx="536.4" cy="355.5"/>
<circle r="2.6" cx="538.1" cy="355.8"/>
<circle r="2.6" cx="540.3" cy="355.8"/>
<circle r="2.6" cx="542.8" cy="355.6"/>
<circle r="2.6" cx="544.3" cy="355.6"/>
<circle r="2.6" cx="546.5" cy="355.3"/>
<circle r="2.6" cx="548.4" cy="355.6"/>
<circle r="2.6" cx="550.2" cy="356.0"/>
<circle r="2.6" cx="552.7" cy="355.7"/>
<circle r="2.6" cx="523.2" cy="357.1"/>
<circle r="2.6" cx="525.4" cy="357.2"/>
<circle r="2.6" cx="527.6" cy="356.7"/>
<circle r="2.6" cx="529.7" cy="357.0"/>
<circle r="2.6" cx="537.4" cy="357.1"/>
<circle r="2.6" cx="539.4" cy="356.6"/>
<circle r="2.6" cx="541.1" cy="357.0"/>
<circle r="2.6" cx="543.3" cy="356.6"/>
<circle r="2.6" cx="545.1" cy="357.1"/>
<circle r="2.6" cx="547.3" cy="357.2"/>
<circle r="2.6" cx="549.8" cy="357.2"/>
<circle r="2.6" cx="551.3" cy="357.3"/>
<circle r="2.6" cx="524.6" cy="358.4"/>
<circle r="2.6" cx="526.8" cy="358.0"/>
<circle r="2.6" cx="528.4" cy="358.4"/>
<circle r="2.6" cx="536.3" cy="357.8"/>
<circle r="2.6" cx="538.1" cy="358.1"/>
<circle r="2.6" cx="540.3" cy="358.5"/>
<circle r="2.6" cx="542.1" cy="358.0"/>
<circle r="2.6" cx="544.7" cy="358.2"/>
<circle r="2.6" cx="546.8" cy="358.2"/>
<circle r="2.6" cx="548.8" cy="358.5"/>
<circle r="2.6" cx="550.8" cy="358.2"/>
<circle r="2.6" cx="523.4" cy="359.3"/>
<circle r="2.6" cx="525.3" cy="359.1"/>
<circle r="2.6" cx="527.5" cy="359.3"/>
<circle r="2.6" cx="529.4" cy="359.0"/>
<circle r="2.6" cx="537.9" cy="359.2"/>
<circle r="2.6" cx="539.5" cy="359.2"/>
<circle r="2.6" cx="541.5" cy="359.5"/>
<circle r="2.6" cx="543.9" cy="359.4"/>
<circle r="2.6" cx="545.9" cy="359.2"/>
<circle r="2.6" cx="524.5" cy="360.4"/>
<circle r="2.6" cx="526.9" cy="360.2"/>
<circle r="2.6" cx="528.3" cy="360.7"/>
<circle r="2.6" cx="536.3" cy="360.2"/>
<circle r="2.6" cx="538.4" cy="360.5"/>
<circle r="2.6" cx="540.5" cy="360.3"/>
<circle r="2.6" cx="542.4" cy="360.3"/>
<circle r="2.6" cx="544.2" cy="360.5"/>
<circle r="2.6" cx="546.3" cy="360.3"/>
<circle r="2.6" cx="523.8" cy="362.0"/>
<circle r="2.6" cx="525.4" cy="361.7"/>
<circle r="2.6" cx="527.2" cy="361.3"/>
<circle r="2.6" cx="529.5" cy="362.1"/>
<circle r="2.6" cx="537.2" cy="361.7"/>
<circle r="2.6" cx="539.7" cy="361.3"/>
<circle r="2.6" cx="541.6" cy="361.5"/>
<circle r="2.6" cx="543.7" cy="362.0"/>
<circle r="2.6" cx="545.8" cy="361.9"/>
<circle r="2.6" cx="524.2" cy="363.0"/>
<circle r="2.6" cx="526.5" cy="362.7"/>
<circle r="2.6" cx="528.3" cy="362.9"/>
<circle r="2.6" cx="536.4" cy="362.8"/>
<circle r="2.6" cx="538.9" cy="362.7"/>
<circle r="2.6" cx="540.8" cy="362.6"/>
<circle r="2.6" cx="542.7" cy="362.9"/>
<circle r="2.6" cx="544.4" cy="362.9"/>
<circle r="2.6" cx="546.2" cy="362.7"/>
<circle r="2.6" cx="523.5" cy="340.0"/>
<circle r="2.6" cx="525.8" cy="339.9"/>
<circle r="2.6" cx="528.2" cy="339.9"/>
<circle r="2.6" cx="530.5" cy="339.8"/>
<circle r="2.6" cx="530.5" cy="337.4"/>
<circle r="2.6" cx="530.6" cy="335.0"/>
<circle r="2.6" cx="530.6" cy="332.7"/>
<circle r="2.6" cx="530.7" cy="330.3"/>
<circle r="2.6" cx="530.8" cy="327.9"/>
<circle r="2.6" cx="530.8" cy="325.5"/>
<circle r="2.6" cx="530.9" cy="323.1"/>
<circle r="2.6" cx="530.9" cy="320.8"/>
<circle r="2.6" cx="531.0" cy="318.4"/>
<circle r="2.6" cx="531.0" cy="316.0"/>
<circle r="2.6" cx="535.2" cy="316.0"/>
<circle r="2.6" cx="535.4" cy="318.8"/>
<circle r="2.6" cx="535.6" cy="321.5"/>
<circle r="2.6" cx="535.8" cy="324.2"/>
<circle r="2.6" cx="536.0" cy="327.0"/>
<circle r="2.6" cx="538.5" cy="327.0"/>
<circle r="2.6" cx="541.0" cy="327.0"/>
<circle r="2.6" cx="543.0" cy="331.0"/>
<circle r="2.6" cx="546.5" cy="331.0"/>
<circle r="2.6" cx="546.5" cy="328.6"/>
<circle r="2.6" cx="546.6" cy="326.1"/>
<circle r="2.6" cx="546.6" cy="323.6"/>
<circle r="2.6" cx="546.7" cy="321.2"/>
<circle r="2.6" cx="546.8" cy="318.8"/>
<circle r="2.6" cx="546.8" cy="316.3"/>
<circle r="2.6" cx="546.9" cy="313.9"/>
<circle r="2.6" cx="546.9" cy="311.4"/>
<circle r="2.6" cx="547.0" cy="308.9"/>
<circle r="2.6" cx="547.0" cy="306.5"/>
<circle r="2.6" cx="551.0" cy="306.5"/>
<circle r="2.6" cx="551.0" cy="308.9"/>
<circle r="2.6" cx="551.1" cy="311.3"/>
<circle r="2.6" cx="551.1" cy="313.7"/>
<circle r="2.6" cx="551.1" cy="316.0"/>
<circle r="2.6" cx="551.2" cy="318.4"/>
<circle r="2.6" cx="551.2" cy="320.8"/>
<circle r="2.6" cx="551.2" cy="323.2"/>
<circle r="2.6" cx="551.3" cy="325.6"/>
<circle r="2.6" cx="551.3" cy="328.0"/>
<circle r="2.6" cx="551.3" cy="330.4"/>
<circle r="2.6" cx="551.4" cy="332.8"/>
<circle r="2.6" cx="551.4" cy="335.1"/>
<circle r="2.6" cx="551.4" cy="337.5"/>
<circle r="2.6" cx="551.5" cy="339.9"/>
<circle r="2.6" cx="551.5" cy="342.3"/>
<circle r="2.6" cx="553.5" cy="342.3"/>
<circle r="2.6" cx="553.5" cy="344.8"/>
<circle r="2.6" cx="553.5" cy="347.4"/>
<circle r="2.6" cx="553.5" cy="349.9"/>
<circle r="2.6" cx="553.5" cy="352.5"/>
<circle r="2.6" cx="553.5" cy="355.0"/>
<circle r="2.6" cx="551.0" cy="358.3"/>
<circle r="2.6" cx="547.2" cy="358.3"/>
<circle r="2.6" cx="546.9" cy="360.8"/>
<circle r="2.6" cx="546.5" cy="363.3"/>
<circle r="2.6" cx="544.0" cy="363.3"/>
<circle r="2.6" cx="541.5" cy="363.3"/>
<circle r="2.6" cx="539.0" cy="363.3"/>
<circle r="2.6" cx="536.5" cy="363.3"/>
<circle r="2.6" cx="536.2" cy="360.7"/>
<circle r="2.6" cx="536.0" cy="358.1"/>
<circle r="2.6" cx="535.8" cy="355.5"/>
<circle r="2.6" cx="535.5" cy="352.9"/>
<circle r="2.6" cx="533.0" cy="352.9"/>
<circle r="2.6" cx="530.5" cy="352.9"/>
<circle r="2.6" cx="530.4" cy="355.5"/>
<circle r="2.6" cx="530.2" cy="358.1"/>
<circle r="2.6" cx="530.1" cy="360.8"/>
<circle r="2.6" cx="530.0" cy="363.4"/>
<circle r="2.6" cx="526.8" cy="363.4"/>
<circle r="2.6" cx="523.5" cy="363.4"/>
<circle r="2.6" cx="523.5" cy="361.1"/>
<circle r="2.6" cx="523.5" cy="358.7"/>
<circle r="2.6" cx="523.5" cy="356.4"/>
<circle r="2.6" cx="523.5" cy="354.0"/>
<circle r="2.6" cx="523.5" cy="351.7"/>
<circle r="2.6" cx="523.5" cy="349.4"/>
<circle r="2.6" cx="523.5" cy="347.0"/>
<circle r="2.6" cx="523.5" cy="344.7"/>
<circle r="2.6" cx="523.5" cy="342.3"/>
<circle r="2.6" cx="448.7" cy="337.6"/>
<circle r="2.6" cx="448.9" cy="338.5"/>
<circle r="2.6" cx="448.8" cy="339.9"/>
<circle r="2.6" cx="448.5" cy="341.0"/>
<circle r="2.6" cx="448.5" cy="341.7"/>
<circle r="2.6" cx="448.7" cy="343.4"/>
<circle r="2.6" cx="448.6" cy="344.5"/>
<circle r="2.6" cx="448.8" cy="345.3"/>
<circle r="2.6" cx="448.7" cy="346.7"/>
<circle r="2.6" cx="448.6" cy="347.5"/>
<circle r="2.6" cx="448.9" cy="348.5"/>
<circle r="2.6" cx="448.7" cy="350.0"/>
<circle r="2.6" cx="448.9" cy="350.7"/>
<circle r="2.6" cx="448.8" cy="352.0"/>
<circle r="2.6" cx="448.5" cy="353.0"/>
<circle r="2.6" cx="448.5" cy="354.3"/>
<circle r="2.6" cx="448.9" cy="355.3"/>
<circle r="2.6" cx="474.1" cy="333.7"/>
<circle r="2.6" cx="474.1" cy="334.7"/>
<circle r="2.6" cx="474.4" cy="335.8"/>
<circle r="2.6" cx="474.1" cy="336.8"/>
<circle r="2.6" cx="474.1" cy="337.9"/>
<circle r="2.6" cx="474.2" cy="339.3"/>
<circle r="2.6" cx="474.4" cy="340.6"/>
<circle r="2.6" cx="474.5" cy="341.6"/>
<circle r="2.6" cx="474.2" cy="343.0"/>
<circle r="2.6" cx="474.4" cy="344.0"/>
<circle r="2.6" cx="474.4" cy="344.7"/>
<circle r="2.6" cx="474.4" cy="345.8"/>
<circle r="2.6" cx="474.4" cy="347.4"/>
<circle r="2.6" cx="474.4" cy="348.4"/>
<circle r="2.6" cx="474.1" cy="349.3"/>
<circle r="2.6" cx="474.2" cy="350.4"/>
<circle r="2.6" cx="474.5" cy="351.8"/>
<circle r="2.6" cx="474.2" cy="353.0"/>
<circle r="2.6" cx="474.5" cy="354.1"/>
<circle r="2.6" cx="474.1" cy="355.0"/>
<circle r="2.6" cx="487.3" cy="326.0"/>
<circle r="2.6" cx="487.1" cy="326.9"/>
<circle r="2.6" cx="487.4" cy="328.2"/>
<circle r="2.6" cx="487.2" cy="329.1"/>
<circle r="2.6" cx="487.3" cy="330.4"/>
<circle r="2.6" cx="487.1" cy="331.3"/>
<circle r="2.6" cx="487.2" cy="332.4"/>
<circle r="2.6" cx="487.1" cy="334.0"/>
<circle r="2.6" cx="487.4" cy="335.0"/>
<circle r="2.6" cx="487.5" cy="336.2"/>
<circle r="2.6" cx="487.2" cy="336.8"/>
<circle r="2.6" cx="487.4" cy="338.4"/>
<circle r="2.6" cx="487.1" cy="339.5"/>
<circle r="2.6" cx="487.2" cy="340.6"/>
<circle r="2.6" cx="487.3" cy="341.7"/>
<circle r="2.6" cx="487.3" cy="342.5"/>
<circle r="2.6" cx="487.5" cy="343.4"/>
<circle r="2.6" cx="487.4" cy="345.0"/>
<circle r="2.6" cx="487.4" cy="346.0"/>
<circle r="2.6" cx="487.2" cy="347.0"/>
<circle r="2.6" cx="487.5" cy="348.2"/>
<circle r="2.6" cx="487.4" cy="349.5"/>
<circle r="2.6" cx="487.2" cy="350.2"/>
<circle r="2.6" cx="487.3" cy="351.3"/>
<circle r="2.6" cx="487.4" cy="352.8"/>
<circle r="2.6" cx="487.3" cy="353.7"/>
<circle r="2.6" cx="487.2" cy="354.6"/>
<circle r="2.6" cx="487.5" cy="356.2"/>
<circle r="2.6" cx="487.4" cy="357.0"/>
<circle r="2.6" cx="494.8" cy="330.6"/>
<circle r="2.6" cx="494.5" cy="331.5"/>
<circle r="2.6" cx="494.5" cy="332.5"/>
<circle r="2.6" cx="494.9" cy="333.7"/>
<circle r="2.6" cx="494.6" cy="335.1"/>
<circle r="2.6" cx="494.5" cy="335.9"/>
<circle r="2.6" cx="494.5" cy="336.9"/>
<circle r="2.6" cx="494.5" cy="338.3"/>
<circle r="2.6" cx="494.8" cy="339.3"/>
<circle r="2.6" cx="494.5" cy="340.3"/>
<circle r="2.6" cx="494.6" cy="341.8"/>
<circle r="2.6" cx="494.6" cy="342.9"/>
<circle r="2.6" cx="494.5" cy="344.0"/>
<circle r="2.6" cx="494.9" cy="344.9"/>
<circle r="2.6" cx="494.8" cy="346.0"/>
<circle r="2.6" cx="494.5" cy="347.0"/>
<circle r="2.6" cx="494.7" cy="348.3"/>
<circle r="2.6" cx="494.7" cy="349.1"/>
<circle r="2.6" cx="494.6" cy="350.5"/>
<circle r="2.6" cx="494.9" cy="351.8"/>
<circle r="2.6" cx="494.6" cy="352.7"/>
<circle r="2.6" cx="494.8" cy="354.0"/>
<circle r="2.6" cx="494.8" cy="355.0"/>
<circle r="2.6" cx="494.8" cy="356.0"/>
<circle r="2.6" cx="494.9" cy="357.2"/>
<circle r="2.6" cx="494.5" cy="358.2"/>
<circle r="2.6" cx="494.7" cy="359.6"/>
<circle r="2.6" cx="494.8" cy="360.7"/>
<circle r="2.6" cx="494.6" cy="361.8"/>
<circle r="2.6" cx="494.9" cy="362.7"/>
<circle r="2.6" cx="499.1" cy="328.0"/>
<circle r="2.6" cx="498.8" cy="329.1"/>
<circle r="2.6" cx="498.9" cy="330.0"/>
<circle r="2.6" cx="498.9" cy="331.2"/>
<circle r="2.6" cx="499.2" cy="332.5"/>
<circle r="2.6" cx="499.1" cy="333.6"/>
<circle r="2.6" cx="499.1" cy="334.4"/>
<circle r="2.6" cx="499.1" cy="335.8"/>
<circle r="2.6" cx="499.1" cy="336.8"/>
<circle r="2.6" cx="499.1" cy="338.0"/>
<circle r="2.6" cx="499.2" cy="339.1"/>
<circle r="2.6" cx="499.0" cy="340.4"/>
<circle r="2.6" cx="499.1" cy="341.3"/>
<circle r="2.6" cx="499.2" cy="342.5"/>
<circle r="2.6" cx="499.0" cy="343.8"/>
<circle r="2.6" cx="498.8" cy="344.8"/>
<circle r="2.6" cx="499.1" cy="346.0"/>
<circle r="2.6" cx="498.8" cy="346.6"/>
<circle r="2.6" cx="499.1" cy="348.2"/>
<circle r="2.6" cx="499.0" cy="349.2"/>
<circle r="2.6" cx="499.0" cy="350.1"/>
<circle r="2.6" cx="499.1" cy="351.6"/>
<circle r="2.6" cx="498.9" cy="352.2"/>
<circle r="2.6" cx="499.2" cy="353.3"/>
<circle r="2.6" cx="499.2" cy="354.9"/>
<circle r="2.6" cx="498.9" cy="355.7"/>
<circle r="2.6" cx="498.9" cy="356.6"/>
<circle r="2.6" cx="498.9" cy="358.0"/>
<circle r="2.6" cx="502.7" cy="324.4"/>
<circle r="2.6" cx="502.9" cy="325.4"/>
<circle r="2.6" cx="502.7" cy="326.8"/>
<circle r="2.6" cx="502.7" cy="327.9"/>
<circle r="2.6" cx="502.9" cy="328.7"/>
<circle r="2.6" cx="502.6" cy="329.7"/>
<circle r="2.6" cx="502.8" cy="331.4"/>
<circle r="2.6" cx="502.9" cy="332.1"/>
<circle r="2.6" cx="502.7" cy="333.5"/>
<circle r="2.6" cx="502.6" cy="334.6"/>
<circle r="2.6" cx="502.8" cy="335.7"/>
<circle r="2.6" cx="502.6" cy="336.5"/>
<circle r="2.6" cx="502.7" cy="337.5"/>
<circle r="2.6" cx="502.9" cy="338.6"/>
<circle r="2.6" cx="502.7" cy="340.2"/>
<circle r="2.6" cx="502.8" cy="341.2"/>
<circle r="2.6" cx="502.9" cy="342.2"/>
<circle r="2.6" cx="503.0" cy="343.3"/>
<circle r="2.6" cx="502.9" cy="344.2"/>
<circle r="2.6" cx="502.6" cy="345.5"/>
<circle r="2.6" cx="503.0" cy="346.4"/>
<circle r="2.6" cx="502.8" cy="347.8"/>
<circle r="2.6" cx="503.0" cy="348.8"/>
<circle r="2.6" cx="502.7" cy="350.0"/>
<circle r="2.6" cx="503.0" cy="351.3"/>
<circle r="2.6" cx="502.9" cy="352.3"/>
<circle r="2.6" cx="502.7" cy="353.4"/>
<circle r="2.6" cx="502.9" cy="354.7"/>
<circle r="2.6" cx="503.0" cy="355.3"/>
<circle r="2.6" cx="502.6" cy="356.5"/>
<circle r="2.6" cx="503.0" cy="357.7"/>
<circle r="2.6" cx="502.7" cy="368.6"/>
<circle r="2.6" cx="502.6" cy="369.7"/>
<circle r="2.6" cx="502.8" cy="370.8"/>
<circle r="2.6" cx="503.0" cy="372.1"/>
<circle r="2.6" cx="502.9" cy="373.3"/>
<circle r="2.6" cx="503.0" cy="374.1"/>
<circle r="2.6" cx="502.7" cy="375.1"/>
<circle r="2.6" cx="502.8" cy="376.4"/>
<circle r="2.6" cx="512.7" cy="326.5"/>
<circle r="2.6" cx="512.6" cy="327.6"/>
<circle r="2.6" cx="512.6" cy="328.5"/>
<circle r="2.6" cx="512.7" cy="329.7"/>
<circle r="2.6" cx="512.7" cy="331.0"/>
<circle r="2.6" cx="512.9" cy="331.8"/>
<circle r="2.6" cx="513.0" cy="332.8"/>
<circle r="2.6" cx="512.6" cy="334.1"/>
<circle r="2.6" cx="513.0" cy="335.3"/>
<circle r="2.6" cx="512.8" cy="336.2"/>
<circle r="2.6" cx="513.0" cy="337.4"/>
<circle r="2.6" cx="512.6" cy="338.8"/>
<circle r="2.6" cx="513.0" cy="339.5"/>
<circle r="2.6" cx="512.8" cy="340.6"/>
<circle r="2.6" cx="512.6" cy="341.8"/>
<circle r="2.6" cx="513.0" cy="342.5"/>
<circle r="2.6" cx="512.8" cy="343.9"/>
<circle r="2.6" cx="512.9" cy="345.0"/>
<circle r="2.6" cx="512.6" cy="346.3"/>
<circle r="2.6" cx="512.6" cy="347.3"/>
<circle r="2.6" cx="513.0" cy="348.3"/>
<circle r="2.6" cx="512.7" cy="349.3"/>
<circle r="2.6" cx="512.9" cy="350.7"/>
<circle r="2.6" cx="512.8" cy="351.8"/>
<circle r="2.6" cx="512.9" cy="352.5"/>
<circle r="2.6" cx="512.6" cy="353.7"/>
<circle r="2.6" cx="513.0" cy="354.6"/>
<circle r="2.6" cx="512.6" cy="356.0"/>
<circle r="2.6" cx="512.9" cy="357.1"/>
<circle r="2.6" cx="513.0" cy="357.8"/>
<circle r="2.6" cx="512.8" cy="359.0"/>
<circle r="2.6" cx="512.8" cy="360.4"/>
<circle r="2.6" cx="512.8" cy="361.2"/>
<circle r="2.6" cx="513.0" cy="362.5"/>
<circle r="2.6" cx="513.0" cy="363.7"/>
<circle r="2.6" cx="512.8" cy="364.8"/>
<circle r="2.6" cx="513.0" cy="365.6"/>
<circle r="2.6" cx="512.7" cy="367.0"/>
<circle r="2.6" cx="512.7" cy="368.0"/>
<circle r="2.6" cx="512.8" cy="368.7"/>
<circle r="2.6" cx="512.8" cy="370.3"/>
<circle r="2.6" cx="513.0" cy="371.3"/>
<circle r="2.6" cx="512.7" cy="372.4"/>
<circle r="2.6" cx="513.0" cy="373.3"/>
<circle r="2.6" cx="520.4" cy="330.4"/>
<circle r="2.6" cx="520.4" cy="331.5"/>
<circle r="2.6" cx="520.8" cy="332.5"/>
<circle r="2.6" cx="520.8" cy="333.8"/>
<circle r="2.6" cx="520.6" cy="334.7"/>
<circle r="2.6" cx="520.6" cy="335.5"/>
<circle r="2.6" cx="520.5" cy="337.1"/>
<circle r="2.6" cx="520.5" cy="338.1"/>
<circle r="2.6" cx="520.4" cy="339.1"/>
<circle r="2.6" cx="520.4" cy="340.3"/>
<circle r="2.6" cx="520.6" cy="340.8"/>
<circle r="2.6" cx="520.7" cy="342.3"/>
<circle r="2.6" cx="520.7" cy="343.2"/>
<circle r="2.6" cx="520.5" cy="344.3"/>
<circle r="2.6" cx="448.7" cy="361.9"/>
<circle r="2.6" cx="448.7" cy="370.1"/>
<circle r="2.6" cx="448.7" cy="383.6"/>
<circle r="2.6" cx="464.3" cy="338.0"/>
<circle r="2.6" cx="474.3" cy="326.3"/>
<circle r="2.6" cx="474.3" cy="331.1"/>
<circle r="2.6" cx="474.3" cy="358.4"/>
<circle r="2.6" cx="474.3" cy="367.5"/>
<circle r="2.6" cx="474.3" cy="374.0"/>
<circle r="2.6" cx="479.9" cy="339.7"/>
<circle r="2.6" cx="479.9" cy="343.6"/>
<circle r="2.6" cx="479.9" cy="348.4"/>
<circle r="2.6" cx="479.9" cy="351.5"/>
<circle r="2.6" cx="479.9" cy="354.5"/>
<circle r="2.6" cx="494.7" cy="328.9"/>
<circle r="2.6" cx="494.7" cy="364.5"/>
<circle r="2.6" cx="499.8" cy="364.2"/>
<circle r="2.6" cx="499.8" cy="378.1"/>
<circle r="2.6" cx="499.8" cy="386.8"/>
<circle r="2.6" cx="499.8" cy="366.6"/>
<circle r="2.6" cx="499.8" cy="377.9"/>
<circle r="2.6" cx="502.5" cy="370.6"/>
<circle r="2.6" cx="502.5" cy="374.0"/>
<circle r="2.6" cx="512.8" cy="320.0"/>
<circle r="2.6" cx="520.6" cy="347.5"/>
<circle r="2.6" cx="520.6" cy="351.0"/>
<circle r="2.6" cx="520.6" cy="355.4"/>
<circle r="2.6" cx="520.6" cy="359.7"/>
<circle r="2.6" cx="520.6" cy="363.1"/>
<circle r="2.6" cx="520.6" cy="366.5"/>
<circle r="2.6" cx="533.1" cy="355.4"/>
<circle r="2.6" cx="533.1" cy="359.7"/>
<circle r="2.6" cx="533.1" cy="363.0"/>
<circle r="2.6" cx="525.9" cy="366.5"/>
<circle r="2.6" cx="541.2" cy="368.2"/>
<circle r="2.6" cx="538.7" cy="372.5"/>
<circle r="2.6" cx="538.7" cy="374.5"/>
<circle r="2.6" cx="538.7" cy="376.5"/>
<circle r="2.6" cx="538.7" cy="378.6"/>
<circle r="2.6" cx="538.7" cy="380.6"/>
<circle r="2.6" cx="538.7" cy="382.6"/>
<circle r="2.6" cx="538.7" cy="384.6"/>
<circle r="2.6" cx="538.7" cy="386.7"/>
<circle r="2.6" cx="538.7" cy="388.7"/>
<circle r="2.6" cx="538.7" cy="390.7"/>
<circle r="2.6" cx="538.7" cy="367.0"/>
<circle r="2.6" cx="520.2" cy="366.8"/>
<circle r="2.6" cx="525.8" cy="366.8"/>
<circle r="2.6" cx="533.2" cy="366.8"/>
<circle r="2.6" cx="533.2" cy="372.9"/>
<circle r="2.6" cx="533.2" cy="376.4"/>
<circle r="2.6" cx="541.0" cy="368.6"/>
<circle r="2.6" cx="548.8" cy="360.8"/>
<circle r="2.6" cx="544.5" cy="308.7"/>
<circle r="2.6" cx="544.5" cy="315.6"/>
<circle r="2.6" cx="544.5" cy="325.2"/>
</g>
<line x1="423.0" y1="347.25" x2="559.1" y2="347.25" stroke="#111" stroke-width="1.6"/>
<rect x="423.0" y="278.5" width="136.1" height="136.7" fill="none" stroke="#1a1a1a" stroke-width="1.05"/>
<line x1="419.5" y1="409.94" x2="423.0" y2="409.94" stroke="#333" stroke-width="1.0"/>
<text x="416.4" y="414.74" font-size="14" text-anchor="end" textLength="7.6" lengthAdjust="spacingAndGlyphs">6</text>
<rect x="398.6" y="410.39" width="8.3" height="1.05" fill="#000"/>
<line x1="419.5" y1="388.91" x2="423.0" y2="388.91" stroke="#333" stroke-width="1.0"/>
<text x="416.4" y="393.71" font-size="14" text-anchor="end" textLength="7.6" lengthAdjust="spacingAndGlyphs">4</text>
<rect x="398.6" y="389.36" width="8.3" height="1.05" fill="#000"/>
<line x1="419.5" y1="367.88" x2="423.0" y2="367.88" stroke="#333" stroke-width="1.0"/>
<text x="416.4" y="372.68" font-size="14" text-anchor="end" textLength="7.6" lengthAdjust="spacingAndGlyphs">2</text>
<rect x="398.6" y="368.33" width="8.3" height="1.05" fill="#000"/>
<line x1="419.5" y1="346.85" x2="423.0" y2="346.85" stroke="#333" stroke-width="1.0"/>
<text x="416.4" y="351.65" font-size="14" text-anchor="end" textLength="7.6" lengthAdjust="spacingAndGlyphs">0</text>
<line x1="419.5" y1="325.82" x2="423.0" y2="325.82" stroke="#333" stroke-width="1.0"/>
<text x="416.4" y="330.62" font-size="14" text-anchor="end" textLength="7.6" lengthAdjust="spacingAndGlyphs">2</text>
<line x1="419.5" y1="304.79" x2="423.0" y2="304.79" stroke="#333" stroke-width="1.0"/>
<text x="416.4" y="309.59" font-size="14" text-anchor="end" textLength="7.6" lengthAdjust="spacingAndGlyphs">4</text>
<line x1="419.5" y1="283.76" x2="423.0" y2="283.76" stroke="#333" stroke-width="1.0"/>
<text x="416.4" y="288.56" font-size="14" text-anchor="end" textLength="7.6" lengthAdjust="spacingAndGlyphs">6</text>
<line x1="435.84" y1="415.2" x2="435.84" y2="418.7" stroke="#333" stroke-width="1.0"/>
<text x="435.84" y="432.0" font-size="14" text-anchor="middle" textLength="7.8" lengthAdjust="spacingAndGlyphs">3</text>
<line x1="487.20" y1="415.2" x2="487.20" y2="418.7" stroke="#333" stroke-width="1.0"/>
<text x="487.20" y="432.0" font-size="14" text-anchor="middle" textLength="7.8" lengthAdjust="spacingAndGlyphs">5</text>
<line x1="538.56" y1="415.2" x2="538.56" y2="418.7" stroke="#333" stroke-width="1.0"/>
<text x="538.56" y="432.0" font-size="14" text-anchor="middle" textLength="7.8" lengthAdjust="spacingAndGlyphs">7</text>
<text transform="translate(390.3,346.9) rotate(-90)" font-size="15.2" text-anchor="middle" textLength="144.5" lengthAdjust="spacingAndGlyphs">Residuals [log CFU]</text>
<text x="491.1" y="449.8" font-size="15.2" text-anchor="middle" textLength="41.2" lengthAdjust="spacingAndGlyphs">pH [-]</text>
<g fill="none" stroke="#696969" stroke-width="1.1">
<circle r="2.6" cx="660.5" cy="306.2"/>
<circle r="2.6" cx="662.4" cy="306.0"/>
<circle r="2.6" cx="659.4" cy="307.6"/>
<circle r="2.6" cx="661.7" cy="307.5"/>
<circle r="2.6" cx="663.7" cy="307.5"/>
<circle r="2.6" cx="660.8" cy="308.4"/>
<circle r="2.6" cx="662.8" cy="309.1"/>
<circle r="2.6" cx="659.7" cy="310.1"/>
<circle r="2.6" cx="662.0" cy="309.7"/>
<circle r="2.6" cx="663.3" cy="310.0"/>
<circle r="2.6" cx="660.8" cy="311.2"/>
<circle r="2.6" cx="662.6" cy="311.1"/>
<circle r="2.6" cx="659.6" cy="312.7"/>
<circle r="2.6" cx="661.3" cy="312.5"/>
<circle r="2.6" cx="663.3" cy="312.7"/>
<circle r="2.6" cx="658.4" cy="313.8"/>
<circle r="2.6" cx="660.5" cy="313.7"/>
<circle r="2.6" cx="662.6" cy="314.0"/>
<circle r="2.6" cx="659.6" cy="314.8"/>
<circle r="2.6" cx="661.6" cy="314.6"/>
<circle r="2.6" cx="664.0" cy="314.7"/>
<circle r="2.6" cx="658.3" cy="315.8"/>
<circle r="2.6" cx="660.8" cy="316.3"/>
<circle r="2.6" cx="662.7" cy="316.4"/>
<circle r="2.6" cx="659.4" cy="317.5"/>
<circle r="2.6" cx="661.8" cy="317.0"/>
<circle r="2.6" cx="663.3" cy="317.1"/>
<circle r="2.6" cx="658.5" cy="318.4"/>
<circle r="2.6" cx="660.8" cy="318.2"/>
<circle r="2.6" cx="662.4" cy="318.3"/>
<circle r="2.6" cx="664.3" cy="318.4"/>
<circle r="2.6" cx="657.7" cy="319.4"/>
<circle r="2.6" cx="659.3" cy="319.8"/>
<circle r="2.6" cx="661.3" cy="319.9"/>
<circle r="2.6" cx="663.7" cy="319.4"/>
<circle r="2.6" cx="658.2" cy="321.1"/>
<circle r="2.6" cx="660.2" cy="321.0"/>
<circle r="2.6" cx="662.6" cy="321.0"/>
<circle r="2.6" cx="664.4" cy="321.0"/>
<circle r="2.6" cx="657.4" cy="322.1"/>
<circle r="2.6" cx="660.0" cy="322.1"/>
<circle r="2.6" cx="661.3" cy="321.8"/>
<circle r="2.6" cx="663.5" cy="322.3"/>
<circle r="2.6" cx="665.8" cy="321.9"/>
<circle r="2.6" cx="658.7" cy="323.1"/>
<circle r="2.6" cx="660.6" cy="323.1"/>
<circle r="2.6" cx="663.0" cy="323.1"/>
<circle r="2.6" cx="664.5" cy="323.3"/>
<circle r="2.6" cx="657.4" cy="324.1"/>
<circle r="2.6" cx="659.6" cy="324.7"/>
<circle r="2.6" cx="661.5" cy="324.2"/>
<circle r="2.6" cx="663.4" cy="324.5"/>
<circle r="2.6" cx="665.4" cy="324.4"/>
<circle r="2.6" cx="656.6" cy="325.2"/>
<circle r="2.6" cx="658.5" cy="325.9"/>
<circle r="2.6" cx="660.4" cy="325.8"/>
<circle r="2.6" cx="662.3" cy="325.6"/>
<circle r="2.6" cx="664.5" cy="325.7"/>
<circle r="2.6" cx="666.2" cy="325.3"/>
<circle r="2.6" cx="657.5" cy="327.1"/>
<circle r="2.6" cx="659.6" cy="327.1"/>
<circle r="2.6" cx="661.6" cy="327.2"/>
<circle r="2.6" cx="663.3" cy="327.1"/>
<circle r="2.6" cx="665.4" cy="326.6"/>
<circle r="2.6" cx="656.6" cy="327.9"/>
<circle r="2.6" cx="659.0" cy="328.3"/>
<circle r="2.6" cx="660.8" cy="327.8"/>
<circle r="2.6" cx="662.4" cy="328.0"/>
<circle r="2.6" cx="664.5" cy="327.8"/>
<circle r="2.6" cx="666.4" cy="327.8"/>
<circle r="2.6" cx="657.4" cy="328.9"/>
<circle r="2.6" cx="659.4" cy="329.6"/>
<circle r="2.6" cx="661.9" cy="329.3"/>
<circle r="2.6" cx="664.0" cy="329.6"/>
<circle r="2.6" cx="665.3" cy="328.8"/>
<circle r="2.6" cx="646.5" cy="330.4"/>
<circle r="2.6" cx="649.0" cy="330.0"/>
<circle r="2.6" cx="650.8" cy="330.6"/>
<circle r="2.6" cx="656.4" cy="330.6"/>
<circle r="2.6" cx="658.9" cy="330.1"/>
<circle r="2.6" cx="660.7" cy="330.4"/>
<circle r="2.6" cx="662.8" cy="330.1"/>
<circle r="2.6" cx="664.7" cy="330.0"/>
<circle r="2.6" cx="666.2" cy="330.3"/>
<circle r="2.6" cx="645.5" cy="331.5"/>
<circle r="2.6" cx="647.4" cy="332.0"/>
<circle r="2.6" cx="649.5" cy="331.6"/>
<circle r="2.6" cx="651.5" cy="331.9"/>
<circle r="2.6" cx="655.3" cy="331.9"/>
<circle r="2.6" cx="657.4" cy="331.9"/>
<circle r="2.6" cx="659.5" cy="331.7"/>
<circle r="2.6" cx="661.4" cy="331.9"/>
<circle r="2.6" cx="663.4" cy="331.8"/>
<circle r="2.6" cx="665.7" cy="331.9"/>
<circle r="2.6" cx="647.0" cy="333.0"/>
<circle r="2.6" cx="648.3" cy="333.1"/>
<circle r="2.6" cx="650.3" cy="333.0"/>
<circle r="2.6" cx="652.9" cy="332.5"/>
<circle r="2.6" cx="654.2" cy="333.0"/>
<circle r="2.6" cx="656.5" cy="332.9"/>
<circle r="2.6" cx="658.9" cy="333.2"/>
<circle r="2.6" cx="660.6" cy="333.1"/>
<circle r="2.6" cx="662.9" cy="333.0"/>
<circle r="2.6" cx="664.5" cy="333.1"/>
<circle r="2.6" cx="666.5" cy="333.1"/>
<circle r="2.6" cx="645.5" cy="334.0"/>
<circle r="2.6" cx="647.2" cy="333.7"/>
<circle r="2.6" cx="649.9" cy="334.0"/>
<circle r="2.6" cx="651.8" cy="334.0"/>
<circle r="2.6" cx="653.8" cy="334.0"/>
<circle r="2.6" cx="655.3" cy="333.9"/>
<circle r="2.6" cx="657.7" cy="333.7"/>
<circle r="2.6" cx="660.0" cy="333.6"/>
<circle r="2.6" cx="661.7" cy="334.3"/>
<circle r="2.6" cx="663.8" cy="333.7"/>
<circle r="2.6" cx="665.3" cy="334.2"/>
<circle r="2.6" cx="644.5" cy="334.9"/>
<circle r="2.6" cx="646.3" cy="335.3"/>
<circle r="2.6" cx="648.2" cy="335.0"/>
<circle r="2.6" cx="651.0" cy="335.0"/>
<circle r="2.6" cx="652.9" cy="334.8"/>
<circle r="2.6" cx="654.4" cy="334.8"/>
<circle r="2.6" cx="656.8" cy="335.3"/>
<circle r="2.6" cx="658.8" cy="335.5"/>
<circle r="2.6" cx="660.8" cy="334.9"/>
<circle r="2.6" cx="662.6" cy="334.8"/>
<circle r="2.6" cx="664.8" cy="335.1"/>
<circle r="2.6" cx="666.6" cy="335.5"/>
<circle r="2.6" cx="644.0" cy="336.5"/>
<circle r="2.6" cx="645.5" cy="336.7"/>
<circle r="2.6" cx="647.9" cy="336.2"/>
<circle r="2.6" cx="649.6" cy="336.8"/>
<circle r="2.6" cx="652.0" cy="336.7"/>
<circle r="2.6" cx="653.6" cy="336.1"/>
<circle r="2.6" cx="655.9" cy="336.2"/>
<circle r="2.6" cx="657.7" cy="336.3"/>
<circle r="2.6" cx="659.9" cy="336.3"/>
<circle r="2.6" cx="661.5" cy="336.7"/>
<circle r="2.6" cx="663.8" cy="336.8"/>
<circle r="2.6" cx="665.3" cy="336.1"/>
<circle r="2.6" cx="644.7" cy="337.6"/>
<circle r="2.6" cx="646.9" cy="337.6"/>
<circle r="2.6" cx="648.2" cy="337.6"/>
<circle r="2.6" cx="650.4" cy="337.8"/>
<circle r="2.6" cx="652.8" cy="337.9"/>
<circle r="2.6" cx="654.3" cy="337.7"/>
<circle r="2.6" cx="656.4" cy="338.0"/>
<circle r="2.6" cx="658.3" cy="337.7"/>
<circle r="2.6" cx="660.8" cy="337.4"/>
<circle r="2.6" cx="662.7" cy="337.3"/>
<circle r="2.6" cx="664.2" cy="337.4"/>
<circle r="2.6" cx="666.3" cy="337.6"/>
<circle r="2.6" cx="643.7" cy="339.1"/>
<circle r="2.6" cx="645.4" cy="338.8"/>
<circle r="2.6" cx="647.8" cy="338.7"/>
<circle r="2.6" cx="649.4" cy="338.7"/>
<circle r="2.6" cx="651.9" cy="338.7"/>
<circle r="2.6" cx="653.8" cy="338.5"/>
<circle r="2.6" cx="655.4" cy="338.6"/>
<circle r="2.6" cx="657.4" cy="338.5"/>
<circle r="2.6" cx="659.5" cy="339.1"/>
<circle r="2.6" cx="661.7" cy="339.2"/>
<circle r="2.6" cx="663.5" cy="338.6"/>
<circle r="2.6" cx="665.4" cy="338.8"/>
<circle r="2.6" cx="642.3" cy="340.2"/>
<circle r="2.6" cx="644.5" cy="339.6"/>
<circle r="2.6" cx="646.6" cy="339.9"/>
<circle r="2.6" cx="648.4" cy="339.8"/>
<circle r="2.6" cx="650.7" cy="340.4"/>
<circle r="2.6" cx="652.7" cy="339.8"/>
<circle r="2.6" cx="654.2" cy="339.9"/>
<circle r="2.6" cx="656.4" cy="339.9"/>
<circle r="2.6" cx="658.6" cy="339.8"/>
<circle r="2.6" cx="660.3" cy="340.3"/>
<circle r="2.6" cx="663.0" cy="340.2"/>
<circle r="2.6" cx="664.9" cy="340.1"/>
<circle r="2.6" cx="666.8" cy="340.0"/>
<circle r="2.6" cx="641.7" cy="341.5"/>
<circle r="2.6" cx="643.8" cy="341.4"/>
<circle r="2.6" cx="645.7" cy="341.1"/>
<circle r="2.6" cx="647.8" cy="341.5"/>
<circle r="2.6" cx="649.4" cy="340.9"/>
<circle r="2.6" cx="651.2" cy="341.0"/>
<circle r="2.6" cx="653.3" cy="341.0"/>
<circle r="2.6" cx="655.3" cy="341.1"/>
<circle r="2.6" cx="657.3" cy="341.6"/>
<circle r="2.6" cx="659.3" cy="340.8"/>
<circle r="2.6" cx="661.9" cy="341.1"/>
<circle r="2.6" cx="663.8" cy="341.1"/>
<circle r="2.6" cx="665.2" cy="340.8"/>
<circle r="2.6" cx="640.9" cy="342.0"/>
<circle r="2.6" cx="642.6" cy="342.2"/>
<circle r="2.6" cx="644.7" cy="342.3"/>
<circle r="2.6" cx="646.8" cy="342.2"/>
<circle r="2.6" cx="648.6" cy="342.8"/>
<circle r="2.6" cx="650.6" cy="342.8"/>
<circle r="2.6" cx="652.2" cy="342.7"/>
<circle r="2.6" cx="654.5" cy="342.8"/>
<circle r="2.6" cx="656.8" cy="342.2"/>
<circle r="2.6" cx="658.8" cy="342.1"/>
<circle r="2.6" cx="660.6" cy="342.6"/>
<circle r="2.6" cx="662.3" cy="342.0"/>
<circle r="2.6" cx="664.9" cy="342.2"/>
<circle r="2.6" cx="666.8" cy="342.4"/>
<circle r="2.6" cx="639.4" cy="343.9"/>
<circle r="2.6" cx="641.5" cy="343.4"/>
<circle r="2.6" cx="643.9" cy="344.0"/>
<circle r="2.6" cx="645.5" cy="344.0"/>
<circle r="2.6" cx="647.3" cy="343.8"/>
<circle r="2.6" cx="649.7" cy="343.4"/>
<circle r="2.6" cx="651.5" cy="343.5"/>
<circle r="2.6" cx="653.7" cy="343.5"/>
<circle r="2.6" cx="655.5" cy="343.7"/>
<circle r="2.6" cx="657.5" cy="343.3"/>
<circle r="2.6" cx="659.6" cy="343.9"/>
<circle r="2.6" cx="661.4" cy="343.4"/>
<circle r="2.6" cx="663.9" cy="343.3"/>
<circle r="2.6" cx="666.0" cy="343.4"/>
<circle r="2.6" cx="638.4" cy="345.0"/>
<circle r="2.6" cx="640.9" cy="344.8"/>
<circle r="2.6" cx="642.4" cy="344.5"/>
<circle r="2.6" cx="644.2" cy="345.0"/>
<circle r="2.6" cx="646.8" cy="344.7"/>
<circle r="2.6" cx="648.6" cy="345.0"/>
<circle r="2.6" cx="650.8" cy="344.9"/>
<circle r="2.6" cx="652.9" cy="344.6"/>
<circle r="2.6" cx="655.0" cy="344.9"/>
<circle r="2.6" cx="656.5" cy="344.9"/>
<circle r="2.6" cx="658.4" cy="344.7"/>
<circle r="2.6" cx="660.9" cy="345.0"/>
<circle r="2.6" cx="662.7" cy="345.0"/>
<circle r="2.6" cx="664.9" cy="344.7"/>
<circle r="2.6" cx="666.3" cy="345.2"/>
<circle r="2.6" cx="637.2" cy="346.0"/>
<circle r="2.6" cx="639.3" cy="346.0"/>
<circle r="2.6" cx="641.8" cy="345.6"/>
<circle r="2.6" cx="643.6" cy="345.9"/>
<circle r="2.6" cx="645.7" cy="346.3"/>
<circle r="2.6" cx="647.7" cy="345.6"/>
<circle r="2.6" cx="649.5" cy="346.0"/>
<circle r="2.6" cx="651.3" cy="346.3"/>
<circle r="2.6" cx="653.5" cy="345.9"/>
<circle r="2.6" cx="655.4" cy="346.0"/>
<circle r="2.6" cx="657.8" cy="345.7"/>
<circle r="2.6" cx="659.6" cy="345.8"/>
<circle r="2.6" cx="661.2" cy="345.9"/>
<circle r="2.6" cx="663.7" cy="346.1"/>
<circle r="2.6" cx="666.0" cy="346.2"/>
<circle r="2.6" cx="636.9" cy="347.4"/>
<circle r="2.6" cx="638.7" cy="347.5"/>
<circle r="2.6" cx="640.9" cy="347.4"/>
<circle r="2.6" cx="642.5" cy="347.0"/>
<circle r="2.6" cx="644.9" cy="346.8"/>
<circle r="2.6" cx="646.5" cy="347.5"/>
<circle r="2.6" cx="648.4" cy="347.2"/>
<circle r="2.6" cx="650.5" cy="347.3"/>
<circle r="2.6" cx="652.9" cy="346.8"/>
<circle r="2.6" cx="654.5" cy="347.5"/>
<circle r="2.6" cx="656.5" cy="347.6"/>
<circle r="2.6" cx="658.4" cy="347.2"/>
<circle r="2.6" cx="660.3" cy="347.5"/>
<circle r="2.6" cx="662.6" cy="347.5"/>
<circle r="2.6" cx="664.8" cy="347.0"/>
<circle r="2.6" cx="666.9" cy="346.9"/>
<circle r="2.6" cx="637.9" cy="348.6"/>
<circle r="2.6" cx="639.4" cy="348.5"/>
<circle r="2.6" cx="641.5" cy="348.4"/>
<circle r="2.6" cx="644.0" cy="348.4"/>
<circle r="2.6" cx="645.7" cy="348.0"/>
<circle r="2.6" cx="647.2" cy="348.4"/>
<circle r="2.6" cx="649.5" cy="348.7"/>
<circle r="2.6" cx="651.7" cy="348.7"/>
<circle r="2.6" cx="653.7" cy="348.7"/>
<circle r="2.6" cx="655.5" cy="348.0"/>
<circle r="2.6" cx="657.8" cy="348.5"/>
<circle r="2.6" cx="659.4" cy="348.2"/>
<circle r="2.6" cx="661.6" cy="348.7"/>
<circle r="2.6" cx="663.7" cy="348.3"/>
<circle r="2.6" cx="665.7" cy="348.3"/>
<circle r="2.6" cx="636.5" cy="349.3"/>
<circle r="2.6" cx="638.8" cy="349.2"/>
<circle r="2.6" cx="640.6" cy="349.3"/>
<circle r="2.6" cx="642.3" cy="349.8"/>
<circle r="2.6" cx="644.9" cy="349.6"/>
<circle r="2.6" cx="647.0" cy="349.8"/>
<circle r="2.6" cx="648.6" cy="349.7"/>
<circle r="2.6" cx="650.2" cy="349.3"/>
<circle r="2.6" cx="652.8" cy="349.5"/>
<circle r="2.6" cx="655.0" cy="349.4"/>
<circle r="2.6" cx="656.4" cy="349.4"/>
<circle r="2.6" cx="658.9" cy="349.6"/>
<circle r="2.6" cx="660.4" cy="349.3"/>
<circle r="2.6" cx="662.7" cy="349.2"/>
<circle r="2.6" cx="664.9" cy="349.3"/>
<circle r="2.6" cx="666.8" cy="349.9"/>
<circle r="2.6" cx="637.4" cy="350.9"/>
<circle r="2.6" cx="639.7" cy="350.8"/>
<circle r="2.6" cx="641.5" cy="351.1"/>
<circle r="2.6" cx="643.4" cy="350.9"/>
<circle r="2.6" cx="645.2" cy="350.9"/>
<circle r="2.6" cx="648.0" cy="350.7"/>
<circle r="2.6" cx="649.8" cy="350.7"/>
<circle r="2.6" cx="651.5" cy="350.7"/>
<circle r="2.6" cx="653.9" cy="350.7"/>
<circle r="2.6" cx="655.2" cy="350.8"/>
<circle r="2.6" cx="657.7" cy="350.9"/>
<circle r="2.6" cx="659.6" cy="350.6"/>
<circle r="2.6" cx="661.8" cy="350.6"/>
<circle r="2.6" cx="663.4" cy="350.5"/>
<circle r="2.6" cx="665.2" cy="350.6"/>
<circle r="2.6" cx="636.7" cy="351.9"/>
<circle r="2.6" cx="638.6" cy="351.8"/>
<circle r="2.6" cx="640.4" cy="352.1"/>
<circle r="2.6" cx="643.0" cy="351.7"/>
<circle r="2.6" cx="644.8" cy="352.4"/>
<circle r="2.6" cx="646.6" cy="352.3"/>
<circle r="2.6" cx="648.3" cy="352.2"/>
<circle r="2.6" cx="650.3" cy="351.8"/>
<circle r="2.6" cx="652.3" cy="351.6"/>
<circle r="2.6" cx="654.8" cy="351.9"/>
<circle r="2.6" cx="656.5" cy="352.2"/>
<circle r="2.6" cx="658.4" cy="352.3"/>
<circle r="2.6" cx="660.3" cy="352.4"/>
<circle r="2.6" cx="662.9" cy="352.0"/>
<circle r="2.6" cx="664.9" cy="352.3"/>
<circle r="2.6" cx="667.0" cy="351.8"/>
<circle r="2.6" cx="637.5" cy="353.0"/>
<circle r="2.6" cx="639.6" cy="353.2"/>
<circle r="2.6" cx="641.9" cy="353.1"/>
<circle r="2.6" cx="643.6" cy="353.0"/>
<circle r="2.6" cx="645.6" cy="352.8"/>
<circle r="2.6" cx="647.6" cy="353.3"/>
<circle r="2.6" cx="649.7" cy="353.5"/>
<circle r="2.6" cx="651.6" cy="353.0"/>
<circle r="2.6" cx="654.0" cy="353.1"/>
<circle r="2.6" cx="655.4" cy="353.2"/>
<circle r="2.6" cx="657.8" cy="353.0"/>
<circle r="2.6" cx="659.4" cy="352.9"/>
<circle r="2.6" cx="661.6" cy="353.1"/>
<circle r="2.6" cx="663.8" cy="352.9"/>
<circle r="2.6" cx="665.7" cy="352.9"/>
<circle r="2.6" cx="636.4" cy="354.1"/>
<circle r="2.6" cx="638.7" cy="354.6"/>
<circle r="2.6" cx="640.5" cy="354.7"/>
<circle r="2.6" cx="642.8" cy="354.7"/>
<circle r="2.6" cx="644.7" cy="354.4"/>
<circle r="2.6" cx="646.5" cy="354.6"/>
<circle r="2.6" cx="648.4" cy="354.2"/>
<circle r="2.6" cx="651.0" cy="354.7"/>
<circle r="2.6" cx="652.7" cy="354.7"/>
<circle r="2.6" cx="654.2" cy="354.6"/>
<circle r="2.6" cx="656.7" cy="354.2"/>
<circle r="2.6" cx="658.4" cy="354.5"/>
<circle r="2.6" cx="660.9" cy="354.6"/>
<circle r="2.6" cx="662.2" cy="354.5"/>
<circle r="2.6" cx="664.5" cy="354.2"/>
<circle r="2.6" cx="666.2" cy="354.5"/>
<circle r="2.6" cx="637.4" cy="355.5"/>
<circle r="2.6" cx="639.6" cy="355.9"/>
<circle r="2.6" cx="641.4" cy="355.7"/>
<circle r="2.6" cx="643.7" cy="355.8"/>
<circle r="2.6" cx="645.9" cy="355.4"/>
<circle r="2.6" cx="647.9" cy="355.3"/>
<circle r="2.6" cx="649.6" cy="355.8"/>
<circle r="2.6" cx="651.9" cy="355.5"/>
<circle r="2.6" cx="653.7" cy="355.8"/>
<circle r="2.6" cx="655.2" cy="355.8"/>
<circle r="2.6" cx="657.9" cy="355.3"/>
<circle r="2.6" cx="659.5" cy="355.5"/>
<circle r="2.6" cx="662.0" cy="356.0"/>
<circle r="2.6" cx="663.3" cy="355.5"/>
<circle r="2.6" cx="665.3" cy="355.2"/>
<circle r="2.6" cx="636.4" cy="357.1"/>
<circle r="2.6" cx="638.9" cy="356.6"/>
<circle r="2.6" cx="640.7" cy="356.9"/>
<circle r="2.6" cx="642.6" cy="357.1"/>
<circle r="2.6" cx="644.3" cy="356.6"/>
<circle r="2.6" cx="646.3" cy="357.1"/>
<circle r="2.6" cx="648.8" cy="356.8"/>
<circle r="2.6" cx="650.3" cy="357.1"/>
<circle r="2.6" cx="652.8" cy="357.1"/>
<circle r="2.6" cx="655.0" cy="356.9"/>
<circle r="2.6" cx="656.6" cy="357.0"/>
<circle r="2.6" cx="658.3" cy="357.1"/>
<circle r="2.6" cx="660.4" cy="356.8"/>
<circle r="2.6" cx="662.9" cy="356.4"/>
<circle r="2.6" cx="664.5" cy="357.1"/>
<circle r="2.6" cx="666.5" cy="357.1"/>
<circle r="2.6" cx="637.8" cy="357.8"/>
<circle r="2.6" cx="639.6" cy="357.9"/>
<circle r="2.6" cx="641.7" cy="358.2"/>
<circle r="2.6" cx="643.6" cy="357.7"/>
<circle r="2.6" cx="645.9" cy="357.7"/>
<circle r="2.6" cx="647.7" cy="358.3"/>
<circle r="2.6" cx="649.6" cy="357.6"/>
<circle r="2.6" cx="651.6" cy="357.7"/>
<circle r="2.6" cx="653.3" cy="357.8"/>
<circle r="2.6" cx="655.3" cy="358.1"/>
<circle r="2.6" cx="657.8" cy="358.0"/>
<circle r="2.6" cx="660.0" cy="357.7"/>
<circle r="2.6" cx="661.5" cy="357.9"/>
<circle r="2.6" cx="663.6" cy="358.1"/>
<circle r="2.6" cx="665.4" cy="357.9"/>
<circle r="2.6" cx="636.5" cy="359.1"/>
<circle r="2.6" cx="638.2" cy="359.4"/>
<circle r="2.6" cx="640.2" cy="359.1"/>
<circle r="2.6" cx="642.4" cy="359.1"/>
<circle r="2.6" cx="644.8" cy="359.4"/>
<circle r="2.6" cx="646.9" cy="359.3"/>
<circle r="2.6" cx="648.4" cy="358.8"/>
<circle r="2.6" cx="650.3" cy="359.5"/>
<circle r="2.6" cx="652.5" cy="359.1"/>
<circle r="2.6" cx="654.5" cy="359.1"/>
<circle r="2.6" cx="656.4" cy="359.0"/>
<circle r="2.6" cx="658.6" cy="359.2"/>
<circle r="2.6" cx="660.2" cy="358.9"/>
<circle r="2.6" cx="662.2" cy="359.2"/>
<circle r="2.6" cx="664.7" cy="359.5"/>
<circle r="2.6" cx="666.5" cy="359.3"/>
<circle r="2.6" cx="637.8" cy="360.4"/>
<circle r="2.6" cx="639.6" cy="360.1"/>
<circle r="2.6" cx="645.7" cy="360.6"/>
<circle r="2.6" cx="647.4" cy="360.5"/>
<circle r="2.6" cx="649.4" cy="360.1"/>
<circle r="2.6" cx="651.5" cy="360.4"/>
<circle r="2.6" cx="653.5" cy="360.2"/>
<circle r="2.6" cx="656.0" cy="360.6"/>
<circle r="2.6" cx="657.4" cy="360.1"/>
<circle r="2.6" cx="659.8" cy="360.7"/>
<circle r="2.6" cx="661.8" cy="360.5"/>
<circle r="2.6" cx="664.0" cy="360.6"/>
<circle r="2.6" cx="665.3" cy="360.4"/>
<circle r="2.6" cx="636.5" cy="361.7"/>
<circle r="2.6" cx="648.3" cy="361.7"/>
<circle r="2.6" cx="650.8" cy="361.4"/>
<circle r="2.6" cx="652.7" cy="361.5"/>
<circle r="2.6" cx="654.7" cy="361.6"/>
<circle r="2.6" cx="657.0" cy="361.6"/>
<circle r="2.6" cx="658.2" cy="361.3"/>
<circle r="2.6" cx="660.8" cy="361.3"/>
<circle r="2.6" cx="662.8" cy="361.6"/>
<circle r="2.6" cx="664.5" cy="361.5"/>
<circle r="2.6" cx="666.9" cy="361.6"/>
<circle r="2.6" cx="651.5" cy="362.8"/>
<circle r="2.6" cx="653.7" cy="362.8"/>
<circle r="2.6" cx="655.8" cy="362.7"/>
<circle r="2.6" cx="657.4" cy="362.5"/>
<circle r="2.6" cx="659.6" cy="362.5"/>
<circle r="2.6" cx="661.4" cy="362.5"/>
<circle r="2.6" cx="663.5" cy="363.1"/>
<circle r="2.6" cx="665.6" cy="362.6"/>
<circle r="2.6" cx="654.6" cy="364.0"/>
<circle r="2.6" cx="656.2" cy="364.2"/>
<circle r="2.6" cx="658.6" cy="364.4"/>
<circle r="2.6" cx="660.7" cy="363.8"/>
<circle r="2.6" cx="663.0" cy="363.7"/>
<circle r="2.6" cx="664.3" cy="363.7"/>
<circle r="2.6" cx="666.3" cy="363.7"/>
<circle r="2.6" cx="655.9" cy="364.9"/>
<circle r="2.6" cx="657.6" cy="364.9"/>
<circle r="2.6" cx="659.4" cy="364.9"/>
<circle r="2.6" cx="661.5" cy="365.0"/>
<circle r="2.6" cx="663.8" cy="365.6"/>
<circle r="2.6" cx="665.4" cy="365.2"/>
<circle r="2.6" cx="656.7" cy="366.8"/>
<circle r="2.6" cx="658.3" cy="366.5"/>
<circle r="2.6" cx="660.5" cy="366.4"/>
<circle r="2.6" cx="662.8" cy="366.6"/>
<circle r="2.6" cx="664.5" cy="366.7"/>
<circle r="2.6" cx="655.7" cy="367.4"/>
<circle r="2.6" cx="657.4" cy="367.4"/>
<circle r="2.6" cx="659.8" cy="367.9"/>
<circle r="2.6" cx="661.3" cy="367.7"/>
<circle r="2.6" cx="663.3" cy="367.2"/>
<circle r="2.6" cx="656.7" cy="368.8"/>
<circle r="2.6" cx="658.5" cy="368.7"/>
<circle r="2.6" cx="660.6" cy="368.7"/>
<circle r="2.6" cx="662.4" cy="369.1"/>
<circle r="2.6" cx="664.3" cy="368.9"/>
<circle r="2.6" cx="657.3" cy="369.9"/>
<circle r="2.6" cx="659.2" cy="369.7"/>
<circle r="2.6" cx="661.7" cy="369.6"/>
<circle r="2.6" cx="663.5" cy="370.1"/>
<circle r="2.6" cx="656.7" cy="370.9"/>
<circle r="2.6" cx="658.5" cy="371.1"/>
<circle r="2.6" cx="660.8" cy="371.5"/>
<circle r="2.6" cx="662.7" cy="371.4"/>
<circle r="2.6" cx="657.5" cy="372.8"/>
<circle r="2.6" cx="659.8" cy="372.7"/>
<circle r="2.6" cx="661.3" cy="372.6"/>
<circle r="2.6" cx="658.7" cy="373.8"/>
<circle r="2.6" cx="660.9" cy="373.4"/>
<circle r="2.6" cx="657.3" cy="374.8"/>
<circle r="2.6" cx="636.6" cy="346.4"/>
<circle r="2.6" cx="638.5" cy="344.3"/>
<circle r="2.6" cx="640.3" cy="342.1"/>
<circle r="2.6" cx="642.2" cy="340.0"/>
<circle r="2.6" cx="643.0" cy="337.8"/>
<circle r="2.6" cx="643.9" cy="335.5"/>
<circle r="2.6" cx="644.7" cy="333.2"/>
<circle r="2.6" cx="645.5" cy="331.0"/>
<circle r="2.6" cx="648.5" cy="328.6"/>
<circle r="2.6" cx="651.5" cy="331.0"/>
<circle r="2.6" cx="655.0" cy="333.0"/>
<circle r="2.6" cx="655.4" cy="330.6"/>
<circle r="2.6" cx="655.9" cy="328.1"/>
<circle r="2.6" cx="656.3" cy="325.7"/>
<circle r="2.6" cx="656.7" cy="323.3"/>
<circle r="2.6" cx="657.1" cy="320.9"/>
<circle r="2.6" cx="657.6" cy="318.4"/>
<circle r="2.6" cx="658.0" cy="316.0"/>
<circle r="2.6" cx="658.4" cy="313.6"/>
<circle r="2.6" cx="658.8" cy="311.2"/>
<circle r="2.6" cx="659.1" cy="308.8"/>
<circle r="2.6" cx="659.5" cy="306.4"/>
<circle r="2.6" cx="663.5" cy="306.4"/>
<circle r="2.6" cx="663.8" cy="308.8"/>
<circle r="2.6" cx="664.0" cy="311.2"/>
<circle r="2.6" cx="664.2" cy="313.6"/>
<circle r="2.6" cx="664.5" cy="316.0"/>
<circle r="2.6" cx="665.1" cy="318.5"/>
<circle r="2.6" cx="665.8" cy="321.0"/>
<circle r="2.6" cx="666.4" cy="323.5"/>
<circle r="2.6" cx="667.0" cy="326.0"/>
<circle r="2.6" cx="667.0" cy="328.4"/>
<circle r="2.6" cx="667.1" cy="330.8"/>
<circle r="2.6" cx="667.1" cy="333.2"/>
<circle r="2.6" cx="667.1" cy="335.6"/>
<circle r="2.6" cx="667.2" cy="338.0"/>
<circle r="2.6" cx="667.2" cy="340.4"/>
<circle r="2.6" cx="667.2" cy="342.8"/>
<circle r="2.6" cx="667.3" cy="345.2"/>
<circle r="2.6" cx="667.3" cy="347.6"/>
<circle r="2.6" cx="667.3" cy="350.0"/>
<circle r="2.6" cx="667.4" cy="352.4"/>
<circle r="2.6" cx="667.4" cy="354.8"/>
<circle r="2.6" cx="667.4" cy="357.2"/>
<circle r="2.6" cx="667.5" cy="359.6"/>
<circle r="2.6" cx="667.5" cy="362.0"/>
<circle r="2.6" cx="666.5" cy="364.6"/>
<circle r="2.6" cx="665.4" cy="367.3"/>
<circle r="2.6" cx="664.3" cy="370.0"/>
<circle r="2.6" cx="663.3" cy="372.6"/>
<circle r="2.6" cx="660.5" cy="373.9"/>
<circle r="2.6" cx="657.6" cy="375.1"/>
<circle r="2.6" cx="656.9" cy="372.9"/>
<circle r="2.6" cx="656.2" cy="370.7"/>
<circle r="2.6" cx="655.4" cy="368.4"/>
<circle r="2.6" cx="654.7" cy="366.2"/>
<circle r="2.6" cx="654.0" cy="364.0"/>
<circle r="2.6" cx="651.0" cy="363.0"/>
<circle r="2.6" cx="647.9" cy="362.0"/>
<circle r="2.6" cx="645.0" cy="360.9"/>
<circle r="2.6" cx="642.2" cy="359.7"/>
<circle r="2.6" cx="639.4" cy="360.9"/>
<circle r="2.6" cx="636.6" cy="362.0"/>
<circle r="2.6" cx="636.6" cy="359.4"/>
<circle r="2.6" cx="636.6" cy="356.8"/>
<circle r="2.6" cx="636.6" cy="354.2"/>
<circle r="2.6" cx="636.6" cy="351.6"/>
<circle r="2.6" cx="636.6" cy="349.0"/>
<circle r="2.6" cx="696.0" cy="326.6"/>
<circle r="2.6" cx="698.5" cy="326.2"/>
<circle r="2.6" cx="697.4" cy="327.5"/>
<circle r="2.6" cx="699.5" cy="327.4"/>
<circle r="2.6" cx="696.0" cy="329.0"/>
<circle r="2.6" cx="698.0" cy="328.3"/>
<circle r="2.6" cx="697.4" cy="329.9"/>
<circle r="2.6" cx="699.5" cy="329.6"/>
<circle r="2.6" cx="696.5" cy="331.3"/>
<circle r="2.6" cx="698.3" cy="330.6"/>
<circle r="2.6" cx="697.4" cy="332.1"/>
<circle r="2.6" cx="698.9" cy="332.1"/>
<circle r="2.6" cx="696.6" cy="333.3"/>
<circle r="2.6" cx="698.2" cy="333.7"/>
<circle r="2.6" cx="697.4" cy="334.5"/>
<circle r="2.6" cx="699.1" cy="334.6"/>
<circle r="2.6" cx="696.2" cy="336.0"/>
<circle r="2.6" cx="698.3" cy="335.5"/>
<circle r="2.6" cx="697.5" cy="337.2"/>
<circle r="2.6" cx="699.2" cy="336.7"/>
<circle r="2.6" cx="696.2" cy="338.5"/>
<circle r="2.6" cx="698.0" cy="338.1"/>
<circle r="2.6" cx="697.4" cy="339.6"/>
<circle r="2.6" cx="699.5" cy="339.3"/>
<circle r="2.6" cx="696.4" cy="340.4"/>
<circle r="2.6" cx="697.8" cy="340.8"/>
<circle r="2.6" cx="697.0" cy="342.1"/>
<circle r="2.6" cx="699.1" cy="341.7"/>
<circle r="2.6" cx="696.5" cy="342.6"/>
<circle r="2.6" cx="698.6" cy="342.9"/>
<circle r="2.6" cx="696.8" cy="344.1"/>
<circle r="2.6" cx="698.9" cy="344.0"/>
<circle r="2.6" cx="696.2" cy="345.4"/>
<circle r="2.6" cx="698.0" cy="345.8"/>
<circle r="2.6" cx="696.9" cy="346.3"/>
<circle r="2.6" cx="699.0" cy="346.2"/>
<circle r="2.6" cx="696.5" cy="347.5"/>
<circle r="2.6" cx="697.8" cy="347.9"/>
<circle r="2.6" cx="697.1" cy="348.7"/>
<circle r="2.6" cx="699.2" cy="348.7"/>
<circle r="2.6" cx="695.9" cy="350.2"/>
<circle r="2.6" cx="698.0" cy="350.1"/>
<circle r="2.6" cx="697.2" cy="351.8"/>
<circle r="2.6" cx="699.3" cy="351.5"/>
<circle r="2.6" cx="696.0" cy="352.6"/>
<circle r="2.6" cx="698.0" cy="352.9"/>
<circle r="2.6" cx="697.5" cy="354.1"/>
<circle r="2.6" cx="699.1" cy="354.0"/>
<circle r="2.6" cx="698.0" cy="355.2"/>
<circle r="2.6" cx="699.6" cy="355.9"/>
<circle r="2.6" cx="696.2" cy="326.2"/>
<circle r="2.6" cx="699.0" cy="326.2"/>
<circle r="2.6" cx="699.6" cy="329.1"/>
<circle r="2.6" cx="700.2" cy="332.0"/>
<circle r="2.6" cx="700.2" cy="334.5"/>
<circle r="2.6" cx="700.2" cy="336.9"/>
<circle r="2.6" cx="700.2" cy="339.4"/>
<circle r="2.6" cx="700.2" cy="341.8"/>
<circle r="2.6" cx="700.2" cy="344.3"/>
<circle r="2.6" cx="700.2" cy="346.7"/>
<circle r="2.6" cx="700.2" cy="349.2"/>
<circle r="2.6" cx="700.2" cy="351.6"/>
<circle r="2.6" cx="700.2" cy="354.1"/>
<circle r="2.6" cx="700.2" cy="356.5"/>
<circle r="2.6" cx="700.2" cy="359.0"/>
<circle r="2.6" cx="698.2" cy="356.9"/>
<circle r="2.6" cx="696.2" cy="354.8"/>
<circle r="2.6" cx="696.2" cy="352.4"/>
<circle r="2.6" cx="696.2" cy="350.0"/>
<circle r="2.6" cx="696.2" cy="347.6"/>
<circle r="2.6" cx="696.2" cy="345.3"/>
<circle r="2.6" cx="696.2" cy="342.9"/>
<circle r="2.6" cx="696.2" cy="340.5"/>
<circle r="2.6" cx="696.2" cy="338.1"/>
<circle r="2.6" cx="696.2" cy="335.7"/>
<circle r="2.6" cx="696.2" cy="333.4"/>
<circle r="2.6" cx="696.2" cy="331.0"/>
<circle r="2.6" cx="696.2" cy="328.6"/>
<circle r="2.6" cx="628.3" cy="347.3"/>
<circle r="2.6" cx="628.5" cy="348.7"/>
<circle r="2.6" cx="628.7" cy="349.7"/>
<circle r="2.6" cx="628.3" cy="350.8"/>
<circle r="2.6" cx="628.4" cy="351.6"/>
<circle r="2.6" cx="628.6" cy="353.0"/>
<circle r="2.6" cx="628.3" cy="353.7"/>
<circle r="2.6" cx="628.7" cy="355.2"/>
<circle r="2.6" cx="628.4" cy="355.8"/>
<circle r="2.6" cx="628.5" cy="357.0"/>
<circle r="2.6" cx="628.4" cy="358.0"/>
<circle r="2.6" cx="628.3" cy="359.2"/>
<circle r="2.6" cx="628.7" cy="360.5"/>
<circle r="2.6" cx="636.4" cy="345.8"/>
<circle r="2.6" cx="636.7" cy="347.2"/>
<circle r="2.6" cx="636.5" cy="348.0"/>
<circle r="2.6" cx="636.5" cy="349.1"/>
<circle r="2.6" cx="636.4" cy="350.4"/>
<circle r="2.6" cx="636.6" cy="351.5"/>
<circle r="2.6" cx="636.8" cy="352.4"/>
<circle r="2.6" cx="636.7" cy="353.6"/>
<circle r="2.6" cx="636.7" cy="355.0"/>
<circle r="2.6" cx="636.6" cy="356.0"/>
<circle r="2.6" cx="636.7" cy="357.1"/>
<circle r="2.6" cx="636.6" cy="358.0"/>
<circle r="2.6" cx="636.6" cy="359.6"/>
<circle r="2.6" cx="636.7" cy="360.5"/>
<circle r="2.6" cx="636.5" cy="361.8"/>
<circle r="2.6" cx="636.7" cy="362.8"/>
<circle r="2.6" cx="708.9" cy="336.7"/>
<circle r="2.6" cx="708.6" cy="337.9"/>
<circle r="2.6" cx="708.6" cy="339.2"/>
<circle r="2.6" cx="708.5" cy="340.0"/>
<circle r="2.6" cx="708.7" cy="341.1"/>
<circle r="2.6" cx="708.6" cy="342.4"/>
<circle r="2.6" cx="708.6" cy="342.9"/>
<circle r="2.6" cx="708.8" cy="344.2"/>
<circle r="2.6" cx="708.8" cy="345.2"/>
<circle r="2.6" cx="708.5" cy="346.6"/>
<circle r="2.6" cx="708.5" cy="347.8"/>
<circle r="2.6" cx="708.5" cy="348.4"/>
<circle r="2.6" cx="708.9" cy="349.9"/>
<circle r="2.6" cx="708.7" cy="350.6"/>
<circle r="2.6" cx="708.8" cy="352.1"/>
<circle r="2.6" cx="708.7" cy="352.8"/>
<circle r="2.6" cx="708.9" cy="354.0"/>
<circle r="2.6" cx="636.6" cy="341.7"/>
<circle r="2.6" cx="636.6" cy="368.4"/>
<circle r="2.6" cx="670.8" cy="330.0"/>
<circle r="2.6" cx="670.8" cy="335.6"/>
<circle r="2.6" cx="670.8" cy="341.5"/>
<circle r="2.6" cx="670.8" cy="347.5"/>
<circle r="2.6" cx="670.8" cy="353.5"/>
<circle r="2.6" cx="670.8" cy="359.5"/>
<circle r="2.6" cx="647.9" cy="367.2"/>
<circle r="2.6" cx="647.9" cy="377.8"/>
<circle r="2.6" cx="647.9" cy="386.7"/>
<circle r="2.6" cx="671.4" cy="327.1"/>
<circle r="2.6" cx="671.4" cy="332.8"/>
<circle r="2.6" cx="671.4" cy="338.5"/>
<circle r="2.6" cx="671.4" cy="362.8"/>
<circle r="2.6" cx="641.4" cy="337.7"/>
<circle r="2.6" cx="636.2" cy="341.7"/>
<circle r="2.6" cx="685.3" cy="347.0"/>
<circle r="2.6" cx="685.3" cy="355.1"/>
<circle r="2.6" cx="685.3" cy="358.3"/>
<circle r="2.6" cx="685.3" cy="362.0"/>
<circle r="2.6" cx="685.3" cy="381.4"/>
<circle r="2.6" cx="685.3" cy="383.8"/>
<circle r="2.6" cx="685.3" cy="387.9"/>
<circle r="2.6" cx="700.2" cy="360.0"/>
<circle r="2.6" cx="700.2" cy="362.2"/>
<circle r="2.6" cx="700.2" cy="364.4"/>
<circle r="2.6" cx="700.2" cy="366.6"/>
<circle r="2.6" cx="700.2" cy="368.9"/>
<circle r="2.6" cx="700.2" cy="371.1"/>
<circle r="2.6" cx="700.2" cy="373.3"/>
<circle r="2.6" cx="700.2" cy="375.5"/>
<circle r="2.6" cx="700.2" cy="377.7"/>
<circle r="2.6" cx="700.2" cy="379.9"/>
<circle r="2.6" cx="700.2" cy="382.2"/>
<circle r="2.6" cx="700.2" cy="384.4"/>
<circle r="2.6" cx="700.2" cy="386.6"/>
<circle r="2.6" cx="700.2" cy="388.8"/>
<circle r="2.6" cx="695.8" cy="362.0"/>
<circle r="2.6" cx="695.8" cy="370.1"/>
<circle r="2.6" cx="695.8" cy="383.4"/>
<circle r="2.6" cx="721.3" cy="308.9"/>
<circle r="2.6" cx="721.3" cy="313.0"/>
<circle r="2.6" cx="721.3" cy="315.4"/>
<circle r="2.6" cx="721.3" cy="324.3"/>
<circle r="2.6" cx="721.3" cy="328.4"/>
<circle r="2.6" cx="721.3" cy="331.2"/>
<circle r="2.6" cx="721.3" cy="333.6"/>
<circle r="2.6" cx="721.3" cy="341.7"/>
<circle r="2.6" cx="721.3" cy="344.2"/>
</g>
<line x1="612.5" y1="347.25" x2="748.6" y2="347.25" stroke="#111" stroke-width="1.6"/>
<rect x="612.5" y="278.5" width="136.1" height="136.7" fill="none" stroke="#1a1a1a" stroke-width="1.05"/>
<line x1="609.0" y1="409.94" x2="612.5" y2="409.94" stroke="#333" stroke-width="1.0"/>
<text x="605.9" y="414.74" font-size="14" text-anchor="end" textLength="7.6" lengthAdjust="spacingAndGlyphs">6</text>
<rect x="588.1" y="410.39" width="8.3" height="1.05" fill="#000"/>
<line x1="609.0" y1="388.91" x2="612.5" y2="388.91" stroke="#333" stroke-width="1.0"/>
<text x="605.9" y="393.71" font-size="14" text-anchor="end" textLength="7.6" lengthAdjust="spacingAndGlyphs">4</text>
<rect x="588.1" y="389.36" width="8.3" height="1.05" fill="#000"/>
<line x1="609.0" y1="367.88" x2="612.5" y2="367.88" stroke="#333" stroke-width="1.0"/>
<text x="605.9" y="372.68" font-size="14" text-anchor="end" textLength="7.6" lengthAdjust="spacingAndGlyphs">2</text>
<rect x="588.1" y="368.33" width="8.3" height="1.05" fill="#000"/>
<line x1="609.0" y1="346.85" x2="612.5" y2="346.85" stroke="#333" stroke-width="1.0"/>
<text x="605.9" y="351.65" font-size="14" text-anchor="end" textLength="7.6" lengthAdjust="spacingAndGlyphs">0</text>
<line x1="609.0" y1="325.82" x2="612.5" y2="325.82" stroke="#333" stroke-width="1.0"/>
<text x="605.9" y="330.62" font-size="14" text-anchor="end" textLength="7.6" lengthAdjust="spacingAndGlyphs">2</text>
<line x1="609.0" y1="304.79" x2="612.5" y2="304.79" stroke="#333" stroke-width="1.0"/>
<text x="605.9" y="309.59" font-size="14" text-anchor="end" textLength="7.6" lengthAdjust="spacingAndGlyphs">4</text>
<line x1="609.0" y1="283.76" x2="612.5" y2="283.76" stroke="#333" stroke-width="1.0"/>
<text x="605.9" y="288.56" font-size="14" text-anchor="end" textLength="7.6" lengthAdjust="spacingAndGlyphs">6</text>
<line x1="618.69" y1="415.2" x2="618.69" y2="418.7" stroke="#333" stroke-width="1.0"/>
<text x="618.69" y="432.0" font-size="14" text-anchor="middle" textLength="7.8" lengthAdjust="spacingAndGlyphs">0</text>
<line x1="680.55" y1="415.2" x2="680.55" y2="418.7" stroke="#333" stroke-width="1.0"/>
<text x="680.55" y="432.0" font-size="14" text-anchor="middle" textLength="7.8" lengthAdjust="spacingAndGlyphs">5</text>
<line x1="742.41" y1="415.2" x2="742.41" y2="418.7" stroke="#333" stroke-width="1.0"/>
<text x="742.41" y="432.0" font-size="14" text-anchor="middle" textLength="15.6" lengthAdjust="spacingAndGlyphs">10</text>
<text transform="translate(579.8,346.9) rotate(-90)" font-size="15.2" text-anchor="middle" textLength="144.5" lengthAdjust="spacingAndGlyphs">Residuals [log CFU]</text>
<text x="680.5" y="449.8" font-size="15.2" text-anchor="middle" textLength="118.5" lengthAdjust="spacingAndGlyphs">log <tspan font-style="italic">N</tspan><tspan font-size="10.6" dy="2.6">0</tspan><tspan dy="-2.6"> [log CFU]</tspan></text>
<g fill="none" stroke="#4682b4" stroke-width="1.1">
<circle r="2.6" cx="71.1" cy="554.6"/>
<circle r="2.6" cx="70.9" cy="555.7"/>
<circle r="2.6" cx="70.8" cy="556.5"/>
<circle r="2.6" cx="70.7" cy="558.0"/>
<circle r="2.6" cx="70.9" cy="558.8"/>
<circle r="2.6" cx="70.7" cy="559.7"/>
<circle r="2.6" cx="70.7" cy="561.3"/>
<circle r="2.6" cx="71.1" cy="562.2"/>
<circle r="2.6" cx="71.0" cy="563.3"/>
<circle r="2.6" cx="70.9" cy="564.1"/>
<circle r="2.6" cx="70.9" cy="565.5"/>
<circle r="2.6" cx="70.7" cy="566.6"/>
<circle r="2.6" cx="70.8" cy="567.7"/>
<circle r="2.6" cx="70.8" cy="568.9"/>
<circle r="2.6" cx="70.9" cy="570.1"/>
<circle r="2.6" cx="70.9" cy="571.1"/>
<circle r="2.6" cx="70.8" cy="572.0"/>
<circle r="2.6" cx="125.3" cy="558.6"/>
<circle r="2.6" cx="125.3" cy="559.6"/>
<circle r="2.6" cx="125.2" cy="560.7"/>
<circle r="2.6" cx="125.5" cy="562.2"/>
<circle r="2.6" cx="125.3" cy="563.0"/>
<circle r="2.6" cx="125.4" cy="564.3"/>
<circle r="2.6" cx="125.3" cy="565.1"/>
<circle r="2.6" cx="125.1" cy="566.4"/>
<circle r="2.6" cx="125.1" cy="567.3"/>
<circle r="2.6" cx="125.1" cy="568.5"/>
<circle r="2.6" cx="125.1" cy="569.5"/>
<circle r="2.6" cx="125.5" cy="570.6"/>
<circle r="2.6" cx="125.2" cy="571.6"/>
<circle r="2.6" cx="125.2" cy="573.0"/>
<circle r="2.6" cx="125.3" cy="573.8"/>
<circle r="2.6" cx="125.2" cy="575.1"/>
<circle r="2.6" cx="125.1" cy="576.0"/>
<circle r="2.6" cx="125.2" cy="577.1"/>
<circle r="2.6" cx="125.2" cy="578.4"/>
<circle r="2.6" cx="125.4" cy="579.4"/>
<circle r="2.6" cx="125.4" cy="580.4"/>
<circle r="2.6" cx="125.5" cy="581.8"/>
<circle r="2.6" cx="125.4" cy="582.8"/>
<circle r="2.6" cx="125.2" cy="583.9"/>
<circle r="2.6" cx="125.1" cy="585.1"/>
<circle r="2.6" cx="125.1" cy="585.9"/>
<circle r="2.6" cx="125.5" cy="587.1"/>
<circle r="2.6" cx="125.1" cy="588.3"/>
<circle r="2.6" cx="125.1" cy="589.5"/>
<circle r="2.6" cx="125.3" cy="590.2"/>
<circle r="2.6" cx="125.4" cy="591.2"/>
<circle r="2.6" cx="125.5" cy="592.7"/>
<circle r="2.6" cx="125.3" cy="593.7"/>
<circle r="2.6" cx="125.2" cy="594.6"/>
<circle r="2.6" cx="125.5" cy="595.9"/>
<circle r="2.6" cx="125.3" cy="596.7"/>
<circle r="2.6" cx="125.2" cy="598.1"/>
<circle r="2.6" cx="125.2" cy="599.3"/>
<circle r="2.6" cx="125.2" cy="600.1"/>
<circle r="2.6" cx="125.1" cy="601.6"/>
<circle r="2.6" cx="125.4" cy="602.3"/>
<circle r="2.6" cx="125.2" cy="603.5"/>
<circle r="2.6" cx="125.3" cy="604.6"/>
<circle r="2.6" cx="125.3" cy="605.7"/>
<circle r="2.6" cx="70.9" cy="540.4"/>
<circle r="2.6" cx="70.9" cy="604.4"/>
<circle r="2.6" cx="70.9" cy="608.7"/>
<circle r="2.6" cx="107.4" cy="578.2"/>
</g>
<g fill="none" stroke="#696969" stroke-width="1.1">
<circle r="2.6" cx="61.9" cy="569.2"/>
<circle r="2.6" cx="62.0" cy="570.1"/>
<circle r="2.6" cx="62.1" cy="571.3"/>
<circle r="2.6" cx="62.1" cy="572.4"/>
<circle r="2.6" cx="62.0" cy="573.5"/>
<circle r="2.6" cx="61.8" cy="575.0"/>
<circle r="2.6" cx="61.9" cy="576.0"/>
<circle r="2.6" cx="61.9" cy="576.6"/>
<circle r="2.6" cx="61.7" cy="578.0"/>
<circle r="2.6" cx="62.0" cy="579.3"/>
<circle r="2.6" cx="61.7" cy="580.5"/>
<circle r="2.6" cx="61.9" cy="581.3"/>
<circle r="2.6" cx="61.7" cy="582.3"/>
<circle r="2.6" cx="61.9" cy="583.5"/>
<circle r="2.6" cx="61.9" cy="584.6"/>
<circle r="2.6" cx="61.9" cy="585.7"/>
<circle r="2.6" cx="61.8" cy="587.0"/>
<circle r="2.6" cx="62.1" cy="587.9"/>
<circle r="2.6" cx="62.0" cy="589.2"/>
<circle r="2.6" cx="61.9" cy="590.4"/>
<circle r="2.6" cx="62.0" cy="591.5"/>
<circle r="2.6" cx="62.0" cy="592.3"/>
<circle r="2.6" cx="61.9" cy="593.5"/>
<circle r="2.6" cx="62.0" cy="594.4"/>
<circle r="2.6" cx="61.9" cy="595.6"/>
<circle r="2.6" cx="62.0" cy="596.8"/>
<circle r="2.6" cx="62.1" cy="598.2"/>
<circle r="2.6" cx="61.8" cy="599.1"/>
<circle r="2.6" cx="62.0" cy="600.1"/>
<circle r="2.6" cx="62.1" cy="601.1"/>
<circle r="2.6" cx="61.9" cy="602.2"/>
<circle r="2.6" cx="61.8" cy="603.7"/>
<circle r="2.6" cx="61.9" cy="604.5"/>
<circle r="2.6" cx="71.1" cy="571.0"/>
<circle r="2.6" cx="70.9" cy="572.4"/>
<circle r="2.6" cx="70.9" cy="573.3"/>
<circle r="2.6" cx="71.1" cy="574.0"/>
<circle r="2.6" cx="71.1" cy="575.6"/>
<circle r="2.6" cx="70.9" cy="576.3"/>
<circle r="2.6" cx="71.1" cy="577.7"/>
<circle r="2.6" cx="70.7" cy="578.8"/>
<circle r="2.6" cx="70.8" cy="579.8"/>
<circle r="2.6" cx="70.9" cy="580.6"/>
<circle r="2.6" cx="70.8" cy="581.6"/>
<circle r="2.6" cx="70.9" cy="582.9"/>
<circle r="2.6" cx="70.9" cy="584.0"/>
<circle r="2.6" cx="70.7" cy="585.2"/>
<circle r="2.6" cx="70.8" cy="586.1"/>
<circle r="2.6" cx="70.9" cy="587.1"/>
<circle r="2.6" cx="70.8" cy="588.7"/>
<circle r="2.6" cx="70.8" cy="589.8"/>
<circle r="2.6" cx="71.0" cy="590.6"/>
<circle r="2.6" cx="70.9" cy="591.7"/>
<circle r="2.6" cx="70.7" cy="593.0"/>
<circle r="2.6" cx="70.8" cy="593.8"/>
<circle r="2.6" cx="70.9" cy="595.0"/>
<circle r="2.6" cx="70.8" cy="596.2"/>
<circle r="2.6" cx="71.1" cy="597.4"/>
<circle r="2.6" cx="71.0" cy="598.4"/>
<circle r="2.6" cx="70.7" cy="599.5"/>
<circle r="2.6" cx="70.9" cy="600.5"/>
<circle r="2.6" cx="71.0" cy="601.4"/>
<circle r="2.6" cx="70.8" cy="602.6"/>
<circle r="2.6" cx="80.2" cy="569.6"/>
<circle r="2.6" cx="79.9" cy="570.5"/>
<circle r="2.6" cx="79.8" cy="571.8"/>
<circle r="2.6" cx="80.1" cy="572.7"/>
<circle r="2.6" cx="79.8" cy="573.9"/>
<circle r="2.6" cx="80.2" cy="575.3"/>
<circle r="2.6" cx="80.1" cy="576.3"/>
<circle r="2.6" cx="80.2" cy="577.3"/>
<circle r="2.6" cx="80.2" cy="578.7"/>
<circle r="2.6" cx="79.9" cy="579.6"/>
<circle r="2.6" cx="79.9" cy="580.7"/>
<circle r="2.6" cx="79.8" cy="581.9"/>
<circle r="2.6" cx="80.0" cy="582.8"/>
<circle r="2.6" cx="79.8" cy="583.8"/>
<circle r="2.6" cx="80.0" cy="585.2"/>
<circle r="2.6" cx="80.2" cy="586.5"/>
<circle r="2.6" cx="80.1" cy="587.4"/>
<circle r="2.6" cx="80.1" cy="588.5"/>
<circle r="2.6" cx="80.2" cy="589.6"/>
<circle r="2.6" cx="79.9" cy="590.7"/>
<circle r="2.6" cx="80.2" cy="591.8"/>
<circle r="2.6" cx="80.2" cy="592.7"/>
<circle r="2.6" cx="80.0" cy="594.2"/>
<circle r="2.6" cx="79.9" cy="595.1"/>
<circle r="2.6" cx="80.1" cy="596.2"/>
<circle r="2.6" cx="80.0" cy="597.5"/>
<circle r="2.6" cx="80.0" cy="598.5"/>
<circle r="2.6" cx="79.9" cy="599.4"/>
<circle r="2.6" cx="79.8" cy="600.9"/>
<circle r="2.6" cx="79.8" cy="602.1"/>
<circle r="2.6" cx="79.9" cy="602.9"/>
<circle r="2.6" cx="79.9" cy="604.1"/>
<circle r="2.6" cx="80.1" cy="605.2"/>
<circle r="2.6" cx="89.0" cy="563.0"/>
<circle r="2.6" cx="89.4" cy="564.3"/>
<circle r="2.6" cx="89.3" cy="565.4"/>
<circle r="2.6" cx="89.3" cy="566.1"/>
<circle r="2.6" cx="89.3" cy="567.5"/>
<circle r="2.6" cx="89.3" cy="568.5"/>
<circle r="2.6" cx="89.0" cy="569.5"/>
<circle r="2.6" cx="89.4" cy="570.5"/>
<circle r="2.6" cx="89.0" cy="571.7"/>
<circle r="2.6" cx="89.4" cy="572.7"/>
<circle r="2.6" cx="89.2" cy="574.2"/>
<circle r="2.6" cx="89.4" cy="574.9"/>
<circle r="2.6" cx="89.3" cy="575.9"/>
<circle r="2.6" cx="89.1" cy="577.3"/>
<circle r="2.6" cx="89.3" cy="578.1"/>
<circle r="2.6" cx="89.2" cy="579.8"/>
<circle r="2.6" cx="89.0" cy="580.9"/>
<circle r="2.6" cx="89.2" cy="581.6"/>
<circle r="2.6" cx="89.4" cy="582.7"/>
<circle r="2.6" cx="89.0" cy="584.0"/>
<circle r="2.6" cx="89.0" cy="585.1"/>
<circle r="2.6" cx="89.4" cy="586.1"/>
<circle r="2.6" cx="89.1" cy="587.2"/>
<circle r="2.6" cx="89.1" cy="588.6"/>
<circle r="2.6" cx="89.0" cy="589.7"/>
<circle r="2.6" cx="89.4" cy="590.3"/>
<circle r="2.6" cx="89.2" cy="591.7"/>
<circle r="2.6" cx="89.1" cy="592.9"/>
<circle r="2.6" cx="89.1" cy="594.1"/>
<circle r="2.6" cx="89.2" cy="595.2"/>
<circle r="2.6" cx="89.4" cy="596.3"/>
<circle r="2.6" cx="89.0" cy="597.4"/>
<circle r="2.6" cx="89.4" cy="598.3"/>
<circle r="2.6" cx="89.1" cy="599.4"/>
<circle r="2.6" cx="89.0" cy="600.5"/>
<circle r="2.6" cx="89.2" cy="601.3"/>
<circle r="2.6" cx="89.2" cy="602.4"/>
<circle r="2.6" cx="89.3" cy="603.7"/>
<circle r="2.6" cx="89.1" cy="604.9"/>
<circle r="2.6" cx="107.4" cy="580.0"/>
<circle r="2.6" cx="107.2" cy="581.2"/>
<circle r="2.6" cx="107.2" cy="582.1"/>
<circle r="2.6" cx="107.6" cy="583.2"/>
<circle r="2.6" cx="107.6" cy="584.6"/>
<circle r="2.6" cx="107.2" cy="585.6"/>
<circle r="2.6" cx="107.3" cy="586.4"/>
<circle r="2.6" cx="107.4" cy="587.5"/>
<circle r="2.6" cx="107.2" cy="588.7"/>
<circle r="2.6" cx="107.2" cy="589.7"/>
<circle r="2.6" cx="107.6" cy="590.9"/>
<circle r="2.6" cx="107.5" cy="591.9"/>
<circle r="2.6" cx="107.6" cy="593.2"/>
<circle r="2.6" cx="107.5" cy="593.8"/>
<circle r="2.6" cx="107.4" cy="595.0"/>
<circle r="2.6" cx="107.2" cy="596.1"/>
<circle r="2.6" cx="107.2" cy="597.1"/>
<circle r="2.6" cx="107.5" cy="598.5"/>
<circle r="2.6" cx="107.5" cy="599.1"/>
<circle r="2.6" cx="107.5" cy="600.7"/>
<circle r="2.6" cx="107.5" cy="601.5"/>
<circle r="2.6" cx="121.0" cy="574.4"/>
<circle r="2.6" cx="120.9" cy="575.4"/>
<circle r="2.6" cx="120.9" cy="576.4"/>
<circle r="2.6" cx="121.0" cy="577.5"/>
<circle r="2.6" cx="120.9" cy="578.8"/>
<circle r="2.6" cx="120.9" cy="580.2"/>
<circle r="2.6" cx="121.2" cy="581.0"/>
<circle r="2.6" cx="120.8" cy="582.1"/>
<circle r="2.6" cx="120.9" cy="583.3"/>
<circle r="2.6" cx="120.9" cy="584.5"/>
<circle r="2.6" cx="121.0" cy="585.4"/>
<circle r="2.6" cx="120.8" cy="586.7"/>
<circle r="2.6" cx="121.1" cy="587.4"/>
<circle r="2.6" cx="121.2" cy="588.6"/>
<circle r="2.6" cx="121.2" cy="589.9"/>
<circle r="2.6" cx="89.2" cy="550.4"/>
<circle r="2.6" cx="89.2" cy="554.2"/>
<circle r="2.6" cx="89.2" cy="558.0"/>
<circle r="2.6" cx="89.2" cy="561.5"/>
<circle r="2.6" cx="93.8" cy="587.2"/>
<circle r="2.6" cx="93.8" cy="594.1"/>
<circle r="2.6" cx="93.8" cy="604.1"/>
<circle r="2.6" cx="93.8" cy="607.6"/>
<circle r="2.6" cx="93.8" cy="619.5"/>
<circle r="2.6" cx="107.4" cy="608.8"/>
<circle r="2.6" cx="121.0" cy="563.6"/>
<circle r="2.6" cx="121.0" cy="611.0"/>
<circle r="2.6" cx="121.0" cy="638.7"/>
</g>
<line x1="43.7" y1="587.25" x2="179.8" y2="587.25" stroke="#111" stroke-width="1.6"/>
<rect x="43.7" y="518.5" width="136.1" height="136.7" fill="none" stroke="#1a1a1a" stroke-width="1.05"/>
<line x1="40.2" y1="649.94" x2="43.7" y2="649.94" stroke="#333" stroke-width="1.0"/>
<text x="37.1" y="654.74" font-size="14" text-anchor="end" textLength="7.6" lengthAdjust="spacingAndGlyphs">6</text>
<rect x="19.3" y="650.39" width="8.3" height="1.05" fill="#000"/>
<line x1="40.2" y1="628.91" x2="43.7" y2="628.91" stroke="#333" stroke-width="1.0"/>
<text x="37.1" y="633.71" font-size="14" text-anchor="end" textLength="7.6" lengthAdjust="spacingAndGlyphs">4</text>
<rect x="19.3" y="629.36" width="8.3" height="1.05" fill="#000"/>
<line x1="40.2" y1="607.88" x2="43.7" y2="607.88" stroke="#333" stroke-width="1.0"/>
<text x="37.1" y="612.68" font-size="14" text-anchor="end" textLength="7.6" lengthAdjust="spacingAndGlyphs">2</text>
<rect x="19.3" y="608.33" width="8.3" height="1.05" fill="#000"/>
<line x1="40.2" y1="586.85" x2="43.7" y2="586.85" stroke="#333" stroke-width="1.0"/>
<text x="37.1" y="591.65" font-size="14" text-anchor="end" textLength="7.6" lengthAdjust="spacingAndGlyphs">0</text>
<line x1="40.2" y1="565.82" x2="43.7" y2="565.82" stroke="#333" stroke-width="1.0"/>
<text x="37.1" y="570.62" font-size="14" text-anchor="end" textLength="7.6" lengthAdjust="spacingAndGlyphs">2</text>
<line x1="40.2" y1="544.79" x2="43.7" y2="544.79" stroke="#333" stroke-width="1.0"/>
<text x="37.1" y="549.59" font-size="14" text-anchor="end" textLength="7.6" lengthAdjust="spacingAndGlyphs">4</text>
<line x1="40.2" y1="523.76" x2="43.7" y2="523.76" stroke="#333" stroke-width="1.0"/>
<text x="37.1" y="528.56" font-size="14" text-anchor="end" textLength="7.6" lengthAdjust="spacingAndGlyphs">6</text>
<line x1="52.77" y1="655.2" x2="52.77" y2="658.7" stroke="#333" stroke-width="1.0"/>
<text x="52.77" y="672.0" font-size="14" text-anchor="middle" textLength="7.8" lengthAdjust="spacingAndGlyphs">0</text>
<line x1="98.14" y1="655.2" x2="98.14" y2="658.7" stroke="#333" stroke-width="1.0"/>
<text x="98.14" y="672.0" font-size="14" text-anchor="middle" textLength="15.6" lengthAdjust="spacingAndGlyphs">10</text>
<line x1="143.51" y1="655.2" x2="143.51" y2="658.7" stroke="#333" stroke-width="1.0"/>
<text x="143.51" y="672.0" font-size="14" text-anchor="middle" textLength="15.6" lengthAdjust="spacingAndGlyphs">20</text>
<text transform="translate(11.0,586.9) rotate(-90)" font-size="15.2" text-anchor="middle" textLength="144.5" lengthAdjust="spacingAndGlyphs">Residuals [log CFU]</text>
<text x="113.2" y="689.8" font-size="15.2" text-anchor="middle" textLength="131" lengthAdjust="spacingAndGlyphs">Temperature [°C]</text>
<g fill="none" stroke="#696969" stroke-width="1.1">
<circle r="2.6" cx="349.0" cy="568.9"/>
<circle r="2.6" cx="347.8" cy="570.0"/>
<circle r="2.6" cx="350.1" cy="570.4"/>
<circle r="2.6" cx="349.2" cy="571.5"/>
<circle r="2.6" cx="351.3" cy="571.9"/>
<circle r="2.6" cx="353.2" cy="571.6"/>
<circle r="2.6" cx="348.3" cy="572.8"/>
<circle r="2.6" cx="349.6" cy="573.1"/>
<circle r="2.6" cx="351.7" cy="572.7"/>
<circle r="2.6" cx="353.9" cy="573.1"/>
<circle r="2.6" cx="349.1" cy="574.0"/>
<circle r="2.6" cx="351.4" cy="574.3"/>
<circle r="2.6" cx="353.1" cy="573.9"/>
<circle r="2.6" cx="354.8" cy="574.3"/>
<circle r="2.6" cx="348.2" cy="575.5"/>
<circle r="2.6" cx="349.9" cy="575.6"/>
<circle r="2.6" cx="351.7" cy="575.0"/>
<circle r="2.6" cx="354.4" cy="575.4"/>
<circle r="2.6" cx="348.7" cy="576.3"/>
<circle r="2.6" cx="350.8" cy="576.5"/>
<circle r="2.6" cx="353.2" cy="576.5"/>
<circle r="2.6" cx="354.9" cy="576.1"/>
<circle r="2.6" cx="347.9" cy="577.9"/>
<circle r="2.6" cx="350.2" cy="577.7"/>
<circle r="2.6" cx="352.1" cy="577.5"/>
<circle r="2.6" cx="353.6" cy="577.4"/>
<circle r="2.6" cx="348.8" cy="578.4"/>
<circle r="2.6" cx="350.9" cy="578.7"/>
<circle r="2.6" cx="352.9" cy="578.7"/>
<circle r="2.6" cx="355.2" cy="578.8"/>
<circle r="2.6" cx="348.3" cy="580.1"/>
<circle r="2.6" cx="349.9" cy="580.0"/>
<circle r="2.6" cx="352.1" cy="579.7"/>
<circle r="2.6" cx="354.2" cy="580.4"/>
<circle r="2.6" cx="349.2" cy="581.4"/>
<circle r="2.6" cx="351.3" cy="580.8"/>
<circle r="2.6" cx="353.0" cy="581.1"/>
<circle r="2.6" cx="354.7" cy="581.1"/>
<circle r="2.6" cx="347.6" cy="582.6"/>
<circle r="2.6" cx="349.7" cy="582.3"/>
<circle r="2.6" cx="351.7" cy="582.8"/>
<circle r="2.6" cx="353.8" cy="582.4"/>
<circle r="2.6" cx="348.6" cy="583.4"/>
<circle r="2.6" cx="350.9" cy="583.2"/>
<circle r="2.6" cx="353.3" cy="583.7"/>
<circle r="2.6" cx="354.6" cy="583.6"/>
<circle r="2.6" cx="347.7" cy="584.7"/>
<circle r="2.6" cx="350.2" cy="584.6"/>
<circle r="2.6" cx="352.3" cy="584.8"/>
<circle r="2.6" cx="354.1" cy="585.2"/>
<circle r="2.6" cx="348.7" cy="586.2"/>
<circle r="2.6" cx="351.3" cy="586.0"/>
<circle r="2.6" cx="352.8" cy="586.2"/>
<circle r="2.6" cx="355.0" cy="585.6"/>
<circle r="2.6" cx="348.3" cy="586.9"/>
<circle r="2.6" cx="350.2" cy="586.9"/>
<circle r="2.6" cx="352.0" cy="587.2"/>
<circle r="2.6" cx="353.8" cy="587.3"/>
<circle r="2.6" cx="349.4" cy="588.3"/>
<circle r="2.6" cx="351.1" cy="588.8"/>
<circle r="2.6" cx="352.7" cy="588.7"/>
<circle r="2.6" cx="355.3" cy="588.5"/>
<circle r="2.6" cx="347.6" cy="589.4"/>
<circle r="2.6" cx="349.8" cy="589.6"/>
<circle r="2.6" cx="351.8" cy="589.9"/>
<circle r="2.6" cx="354.4" cy="589.3"/>
<circle r="2.6" cx="349.3" cy="590.7"/>
<circle r="2.6" cx="351.0" cy="590.8"/>
<circle r="2.6" cx="352.9" cy="590.8"/>
<circle r="2.6" cx="355.1" cy="590.7"/>
<circle r="2.6" cx="347.8" cy="591.9"/>
<circle r="2.6" cx="349.7" cy="592.1"/>
<circle r="2.6" cx="352.0" cy="592.2"/>
<circle r="2.6" cx="354.1" cy="592.1"/>
<circle r="2.6" cx="348.8" cy="593.1"/>
<circle r="2.6" cx="350.7" cy="593.4"/>
<circle r="2.6" cx="353.3" cy="593.3"/>
<circle r="2.6" cx="355.0" cy="593.1"/>
<circle r="2.6" cx="348.0" cy="594.6"/>
<circle r="2.6" cx="350.0" cy="594.5"/>
<circle r="2.6" cx="351.7" cy="594.2"/>
<circle r="2.6" cx="354.0" cy="594.7"/>
<circle r="2.6" cx="348.8" cy="595.6"/>
<circle r="2.6" cx="350.9" cy="595.3"/>
<circle r="2.6" cx="352.8" cy="595.7"/>
<circle r="2.6" cx="354.9" cy="595.6"/>
<circle r="2.6" cx="348.0" cy="596.9"/>
<circle r="2.6" cx="350.1" cy="597.0"/>
<circle r="2.6" cx="352.3" cy="596.9"/>
<circle r="2.6" cx="354.1" cy="597.1"/>
<circle r="2.6" cx="349.0" cy="598.0"/>
<circle r="2.6" cx="350.7" cy="598.1"/>
<circle r="2.6" cx="353.1" cy="598.3"/>
<circle r="2.6" cx="354.7" cy="597.8"/>
<circle r="2.6" cx="348.2" cy="599.4"/>
<circle r="2.6" cx="350.1" cy="599.0"/>
<circle r="2.6" cx="352.3" cy="599.2"/>
<circle r="2.6" cx="354.3" cy="599.5"/>
<circle r="2.6" cx="349.1" cy="600.4"/>
<circle r="2.6" cx="351.1" cy="600.1"/>
<circle r="2.6" cx="353.2" cy="600.7"/>
<circle r="2.6" cx="355.1" cy="600.5"/>
<circle r="2.6" cx="348.2" cy="601.7"/>
<circle r="2.6" cx="349.7" cy="601.9"/>
<circle r="2.6" cx="352.2" cy="601.4"/>
<circle r="2.6" cx="354.0" cy="601.3"/>
<circle r="2.6" cx="348.8" cy="602.7"/>
<circle r="2.6" cx="351.0" cy="603.0"/>
<circle r="2.6" cx="353.4" cy="603.0"/>
<circle r="2.6" cx="347.9" cy="603.9"/>
<circle r="2.6" cx="349.7" cy="604.0"/>
<circle r="2.6" cx="351.9" cy="604.1"/>
<circle r="2.6" cx="348.0" cy="568.0"/>
<circle r="2.6" cx="349.9" cy="569.2"/>
<circle r="2.6" cx="351.9" cy="570.5"/>
<circle r="2.6" cx="355.2" cy="573.3"/>
<circle r="2.6" cx="355.2" cy="575.7"/>
<circle r="2.6" cx="355.2" cy="578.1"/>
<circle r="2.6" cx="355.2" cy="580.5"/>
<circle r="2.6" cx="355.2" cy="583.0"/>
<circle r="2.6" cx="355.2" cy="585.4"/>
<circle r="2.6" cx="355.2" cy="587.8"/>
<circle r="2.6" cx="355.2" cy="590.2"/>
<circle r="2.6" cx="355.2" cy="592.6"/>
<circle r="2.6" cx="355.2" cy="595.0"/>
<circle r="2.6" cx="355.2" cy="597.5"/>
<circle r="2.6" cx="355.2" cy="599.9"/>
<circle r="2.6" cx="355.2" cy="602.3"/>
<circle r="2.6" cx="351.9" cy="604.1"/>
<circle r="2.6" cx="348.0" cy="605.0"/>
<circle r="2.6" cx="348.0" cy="602.7"/>
<circle r="2.6" cx="348.0" cy="600.4"/>
<circle r="2.6" cx="348.0" cy="598.1"/>
<circle r="2.6" cx="348.0" cy="595.8"/>
<circle r="2.6" cx="348.0" cy="593.4"/>
<circle r="2.6" cx="348.0" cy="591.1"/>
<circle r="2.6" cx="348.0" cy="588.8"/>
<circle r="2.6" cx="348.0" cy="586.5"/>
<circle r="2.6" cx="348.0" cy="584.2"/>
<circle r="2.6" cx="348.0" cy="581.9"/>
<circle r="2.6" cx="348.0" cy="579.6"/>
<circle r="2.6" cx="348.0" cy="577.2"/>
<circle r="2.6" cx="348.0" cy="574.9"/>
<circle r="2.6" cx="348.0" cy="572.6"/>
<circle r="2.6" cx="348.0" cy="570.3"/>
<circle r="2.6" cx="339.7" cy="567.6"/>
<circle r="2.6" cx="339.8" cy="568.8"/>
<circle r="2.6" cx="339.7" cy="569.8"/>
<circle r="2.6" cx="339.5" cy="571.1"/>
<circle r="2.6" cx="339.5" cy="572.1"/>
<circle r="2.6" cx="339.7" cy="573.1"/>
<circle r="2.6" cx="339.6" cy="574.3"/>
<circle r="2.6" cx="339.6" cy="575.6"/>
<circle r="2.6" cx="339.8" cy="576.7"/>
<circle r="2.6" cx="339.6" cy="577.5"/>
<circle r="2.6" cx="339.7" cy="578.9"/>
<circle r="2.6" cx="339.9" cy="579.9"/>
<circle r="2.6" cx="339.5" cy="580.8"/>
<circle r="2.6" cx="339.6" cy="582.4"/>
<circle r="2.6" cx="339.6" cy="583.3"/>
<circle r="2.6" cx="339.9" cy="584.1"/>
<circle r="2.6" cx="339.6" cy="585.6"/>
<circle r="2.6" cx="339.8" cy="586.3"/>
<circle r="2.6" cx="339.8" cy="587.5"/>
<circle r="2.6" cx="339.9" cy="588.6"/>
<circle r="2.6" cx="339.6" cy="589.7"/>
<circle r="2.6" cx="339.8" cy="590.9"/>
<circle r="2.6" cx="339.5" cy="592.3"/>
<circle r="2.6" cx="339.9" cy="593.3"/>
<circle r="2.6" cx="339.8" cy="594.3"/>
<circle r="2.6" cx="339.6" cy="595.6"/>
<circle r="2.6" cx="339.9" cy="596.6"/>
<circle r="2.6" cx="347.9" cy="566.0"/>
<circle r="2.6" cx="347.6" cy="567.1"/>
<circle r="2.6" cx="347.9" cy="568.0"/>
<circle r="2.6" cx="347.7" cy="569.4"/>
<circle r="2.6" cx="347.5" cy="570.4"/>
<circle r="2.6" cx="347.5" cy="571.3"/>
<circle r="2.6" cx="347.9" cy="572.9"/>
<circle r="2.6" cx="347.8" cy="573.7"/>
<circle r="2.6" cx="347.9" cy="574.9"/>
<circle r="2.6" cx="347.5" cy="576.2"/>
<circle r="2.6" cx="347.8" cy="577.3"/>
<circle r="2.6" cx="347.8" cy="578.1"/>
<circle r="2.6" cx="347.9" cy="579.0"/>
<circle r="2.6" cx="347.5" cy="580.6"/>
<circle r="2.6" cx="347.9" cy="581.3"/>
<circle r="2.6" cx="347.8" cy="582.8"/>
<circle r="2.6" cx="347.5" cy="584.0"/>
<circle r="2.6" cx="347.9" cy="584.7"/>
<circle r="2.6" cx="347.6" cy="585.6"/>
<circle r="2.6" cx="347.7" cy="586.8"/>
<circle r="2.6" cx="347.7" cy="588.4"/>
<circle r="2.6" cx="347.5" cy="589.4"/>
<circle r="2.6" cx="347.9" cy="590.3"/>
<circle r="2.6" cx="347.6" cy="591.7"/>
<circle r="2.6" cx="347.6" cy="592.3"/>
<circle r="2.6" cx="347.5" cy="593.9"/>
<circle r="2.6" cx="347.6" cy="594.6"/>
<circle r="2.6" cx="347.8" cy="595.8"/>
<circle r="2.6" cx="347.8" cy="597.0"/>
<circle r="2.6" cx="347.9" cy="598.0"/>
<circle r="2.6" cx="347.8" cy="599.1"/>
<circle r="2.6" cx="347.7" cy="600.2"/>
<circle r="2.6" cx="347.9" cy="601.2"/>
<circle r="2.6" cx="347.9" cy="602.4"/>
<circle r="2.6" cx="347.5" cy="603.7"/>
<circle r="2.6" cx="347.9" cy="604.9"/>
<circle r="2.6" cx="347.6" cy="605.9"/>
<circle r="2.6" cx="347.9" cy="606.9"/>
<circle r="2.6" cx="334.1" cy="563.1"/>
<circle r="2.6" cx="334.1" cy="590.3"/>
<circle r="2.6" cx="334.1" cy="595.0"/>
<circle r="2.6" cx="334.1" cy="611.0"/>
<circle r="2.6" cx="334.1" cy="638.7"/>
<circle r="2.6" cx="336.9" cy="604.4"/>
<circle r="2.6" cx="336.9" cy="606.3"/>
<circle r="2.6" cx="336.9" cy="619.9"/>
<circle r="2.6" cx="334.5" cy="587.5"/>
<circle r="2.6" cx="339.7" cy="583.8"/>
<circle r="2.6" cx="339.7" cy="596.9"/>
<circle r="2.6" cx="347.7" cy="550.5"/>
<circle r="2.6" cx="347.7" cy="553.3"/>
<circle r="2.6" cx="347.7" cy="556.6"/>
<circle r="2.6" cx="347.7" cy="559.4"/>
<circle r="2.6" cx="347.7" cy="562.2"/>
</g>
<line x1="233.4" y1="587.25" x2="369.5" y2="587.25" stroke="#111" stroke-width="1.6"/>
<rect x="233.4" y="518.5" width="136.1" height="136.7" fill="none" stroke="#1a1a1a" stroke-width="1.05"/>
<line x1="229.9" y1="649.94" x2="233.4" y2="649.94" stroke="#333" stroke-width="1.0"/>
<text x="226.8" y="654.74" font-size="14" text-anchor="end" textLength="7.6" lengthAdjust="spacingAndGlyphs">6</text>
<rect x="209.0" y="650.39" width="8.3" height="1.05" fill="#000"/>
<line x1="229.9" y1="628.91" x2="233.4" y2="628.91" stroke="#333" stroke-width="1.0"/>
<text x="226.8" y="633.71" font-size="14" text-anchor="end" textLength="7.6" lengthAdjust="spacingAndGlyphs">4</text>
<rect x="209.0" y="629.36" width="8.3" height="1.05" fill="#000"/>
<line x1="229.9" y1="607.88" x2="233.4" y2="607.88" stroke="#333" stroke-width="1.0"/>
<text x="226.8" y="612.68" font-size="14" text-anchor="end" textLength="7.6" lengthAdjust="spacingAndGlyphs">2</text>
<rect x="209.0" y="608.33" width="8.3" height="1.05" fill="#000"/>
<line x1="229.9" y1="586.85" x2="233.4" y2="586.85" stroke="#333" stroke-width="1.0"/>
<text x="226.8" y="591.65" font-size="14" text-anchor="end" textLength="7.6" lengthAdjust="spacingAndGlyphs">0</text>
<line x1="229.9" y1="565.82" x2="233.4" y2="565.82" stroke="#333" stroke-width="1.0"/>
<text x="226.8" y="570.62" font-size="14" text-anchor="end" textLength="7.6" lengthAdjust="spacingAndGlyphs">2</text>
<line x1="229.9" y1="544.79" x2="233.4" y2="544.79" stroke="#333" stroke-width="1.0"/>
<text x="226.8" y="549.59" font-size="14" text-anchor="end" textLength="7.6" lengthAdjust="spacingAndGlyphs">4</text>
<line x1="229.9" y1="523.76" x2="233.4" y2="523.76" stroke="#333" stroke-width="1.0"/>
<text x="226.8" y="528.56" font-size="14" text-anchor="end" textLength="7.6" lengthAdjust="spacingAndGlyphs">6</text>
<line x1="268.52" y1="655.2" x2="268.52" y2="658.7" stroke="#333" stroke-width="1.0"/>
<text x="268.52" y="672.0" font-size="14" text-anchor="middle" textLength="21.0" lengthAdjust="spacingAndGlyphs">0.8</text>
<line x1="312.43" y1="655.2" x2="312.43" y2="658.7" stroke="#333" stroke-width="1.0"/>
<text x="312.43" y="672.0" font-size="14" text-anchor="middle" textLength="21.0" lengthAdjust="spacingAndGlyphs">0.9</text>
<line x1="356.33" y1="655.2" x2="356.33" y2="658.7" stroke="#333" stroke-width="1.0"/>
<text x="356.33" y="672.0" font-size="14" text-anchor="middle" textLength="21.0" lengthAdjust="spacingAndGlyphs">1.0</text>
<text transform="translate(200.7,586.9) rotate(-90)" font-size="15.2" text-anchor="middle" textLength="144.5" lengthAdjust="spacingAndGlyphs">Residuals [log CFU]</text>
<text x="300.9" y="689.8" font-size="15.2" text-anchor="middle" textLength="39.5" lengthAdjust="spacingAndGlyphs"><tspan font-style="italic">a</tspan><tspan font-style="italic" font-size="10.6" dy="2.6">w</tspan><tspan dy="-2.6"> [-]</tspan></text>
<g fill="none" stroke="#4682b4" stroke-width="1.1">
<circle r="2.6" cx="527.5" cy="584.0"/>
<circle r="2.6" cx="527.5" cy="587.0"/>
<circle r="2.6" cx="527.5" cy="590.5"/>
<circle r="2.6" cx="527.5" cy="594.0"/>
<circle r="2.6" cx="527.5" cy="597.6"/>
</g>
<g fill="none" stroke="#696969" stroke-width="1.1">
<circle r="2.6" cx="518.6" cy="568.4"/>
<circle r="2.6" cx="518.1" cy="569.0"/>
<circle r="2.6" cx="519.7" cy="569.7"/>
<circle r="2.6" cx="517.0" cy="570.3"/>
<circle r="2.6" cx="518.7" cy="570.8"/>
<circle r="2.6" cx="515.4" cy="571.4"/>
<circle r="2.6" cx="518.0" cy="571.6"/>
<circle r="2.6" cx="519.9" cy="571.6"/>
<circle r="2.6" cx="514.8" cy="573.0"/>
<circle r="2.6" cx="517.0" cy="572.6"/>
<circle r="2.6" cx="518.9" cy="573.3"/>
<circle r="2.6" cx="516.2" cy="573.8"/>
<circle r="2.6" cx="517.8" cy="573.9"/>
<circle r="2.6" cx="520.2" cy="573.9"/>
<circle r="2.6" cx="515.1" cy="575.2"/>
<circle r="2.6" cx="517.1" cy="575.0"/>
<circle r="2.6" cx="518.8" cy="575.4"/>
<circle r="2.6" cx="515.7" cy="576.3"/>
<circle r="2.6" cx="518.1" cy="576.2"/>
<circle r="2.6" cx="520.1" cy="576.8"/>
<circle r="2.6" cx="515.1" cy="577.8"/>
<circle r="2.6" cx="516.7" cy="577.7"/>
<circle r="2.6" cx="518.6" cy="577.5"/>
<circle r="2.6" cx="515.8" cy="578.5"/>
<circle r="2.6" cx="517.4" cy="579.0"/>
<circle r="2.6" cx="520.2" cy="579.1"/>
<circle r="2.6" cx="514.5" cy="579.8"/>
<circle r="2.6" cx="516.4" cy="580.2"/>
<circle r="2.6" cx="519.0" cy="580.1"/>
<circle r="2.6" cx="515.4" cy="581.7"/>
<circle r="2.6" cx="518.0" cy="581.0"/>
<circle r="2.6" cx="520.1" cy="581.6"/>
<circle r="2.6" cx="514.6" cy="582.5"/>
<circle r="2.6" cx="516.4" cy="582.4"/>
<circle r="2.6" cx="518.6" cy="582.9"/>
<circle r="2.6" cx="516.0" cy="583.5"/>
<circle r="2.6" cx="518.0" cy="583.4"/>
<circle r="2.6" cx="519.5" cy="583.6"/>
<circle r="2.6" cx="515.1" cy="585.2"/>
<circle r="2.6" cx="516.6" cy="584.7"/>
<circle r="2.6" cx="518.8" cy="584.8"/>
<circle r="2.6" cx="516.0" cy="586.1"/>
<circle r="2.6" cx="517.6" cy="585.9"/>
<circle r="2.6" cx="519.8" cy="585.8"/>
<circle r="2.6" cx="514.5" cy="587.1"/>
<circle r="2.6" cx="516.6" cy="586.9"/>
<circle r="2.6" cx="518.8" cy="587.4"/>
<circle r="2.6" cx="515.6" cy="588.9"/>
<circle r="2.6" cx="517.6" cy="588.5"/>
<circle r="2.6" cx="519.9" cy="588.6"/>
<circle r="2.6" cx="515.1" cy="589.3"/>
<circle r="2.6" cx="516.5" cy="589.4"/>
<circle r="2.6" cx="518.5" cy="589.6"/>
<circle r="2.6" cx="515.8" cy="591.1"/>
<circle r="2.6" cx="518.1" cy="591.0"/>
<circle r="2.6" cx="519.8" cy="590.9"/>
<circle r="2.6" cx="514.6" cy="591.9"/>
<circle r="2.6" cx="516.7" cy="591.8"/>
<circle r="2.6" cx="518.9" cy="591.9"/>
<circle r="2.6" cx="516.2" cy="593.2"/>
<circle r="2.6" cx="518.0" cy="593.1"/>
<circle r="2.6" cx="519.6" cy="593.3"/>
<circle r="2.6" cx="514.8" cy="594.9"/>
<circle r="2.6" cx="516.5" cy="594.1"/>
<circle r="2.6" cx="518.5" cy="594.8"/>
<circle r="2.6" cx="515.5" cy="596.1"/>
<circle r="2.6" cx="517.5" cy="596.0"/>
<circle r="2.6" cx="519.7" cy="596.0"/>
<circle r="2.6" cx="514.8" cy="596.8"/>
<circle r="2.6" cx="516.4" cy="596.8"/>
<circle r="2.6" cx="518.8" cy="597.2"/>
<circle r="2.6" cx="515.8" cy="598.4"/>
<circle r="2.6" cx="517.8" cy="598.2"/>
<circle r="2.6" cx="519.9" cy="597.8"/>
<circle r="2.6" cx="514.9" cy="599.5"/>
<circle r="2.6" cx="516.7" cy="599.0"/>
<circle r="2.6" cx="518.5" cy="599.2"/>
<circle r="2.6" cx="516.2" cy="600.5"/>
<circle r="2.6" cx="517.6" cy="600.5"/>
<circle r="2.6" cx="520.0" cy="600.8"/>
<circle r="2.6" cx="514.5" cy="601.7"/>
<circle r="2.6" cx="516.4" cy="601.5"/>
<circle r="2.6" cx="518.8" cy="601.4"/>
<circle r="2.6" cx="515.5" cy="603.1"/>
<circle r="2.6" cx="517.6" cy="603.1"/>
<circle r="2.6" cx="519.5" cy="602.6"/>
<circle r="2.6" cx="516.6" cy="604.3"/>
<circle r="2.6" cx="518.5" cy="603.9"/>
<circle r="2.6" cx="517.9" cy="605.3"/>
<circle r="2.6" cx="520.1" cy="605.1"/>
<circle r="2.6" cx="514.8" cy="571.0"/>
<circle r="2.6" cx="517.0" cy="568.1"/>
<circle r="2.6" cx="520.0" cy="568.1"/>
<circle r="2.6" cx="520.0" cy="570.5"/>
<circle r="2.6" cx="520.0" cy="572.8"/>
<circle r="2.6" cx="520.0" cy="575.2"/>
<circle r="2.6" cx="520.0" cy="577.6"/>
<circle r="2.6" cx="520.0" cy="579.9"/>
<circle r="2.6" cx="520.0" cy="582.3"/>
<circle r="2.6" cx="520.0" cy="584.7"/>
<circle r="2.6" cx="520.0" cy="587.0"/>
<circle r="2.6" cx="520.0" cy="589.4"/>
<circle r="2.6" cx="520.0" cy="591.8"/>
<circle r="2.6" cx="520.0" cy="594.2"/>
<circle r="2.6" cx="520.0" cy="596.5"/>
<circle r="2.6" cx="520.0" cy="598.9"/>
<circle r="2.6" cx="520.0" cy="601.3"/>
<circle r="2.6" cx="520.0" cy="603.6"/>
<circle r="2.6" cx="520.0" cy="606.0"/>
<circle r="2.6" cx="517.0" cy="606.0"/>
<circle r="2.6" cx="514.8" cy="604.0"/>
<circle r="2.6" cx="514.8" cy="601.6"/>
<circle r="2.6" cx="514.8" cy="599.3"/>
<circle r="2.6" cx="514.8" cy="596.9"/>
<circle r="2.6" cx="514.8" cy="594.6"/>
<circle r="2.6" cx="514.8" cy="592.2"/>
<circle r="2.6" cx="514.8" cy="589.9"/>
<circle r="2.6" cx="514.8" cy="587.5"/>
<circle r="2.6" cx="514.8" cy="585.1"/>
<circle r="2.6" cx="514.8" cy="582.8"/>
<circle r="2.6" cx="514.8" cy="580.4"/>
<circle r="2.6" cx="514.8" cy="578.1"/>
<circle r="2.6" cx="514.8" cy="575.7"/>
<circle r="2.6" cx="514.8" cy="573.4"/>
<circle r="2.6" cx="523.0" cy="574.7"/>
<circle r="2.6" cx="523.2" cy="575.9"/>
<circle r="2.6" cx="523.0" cy="576.9"/>
<circle r="2.6" cx="523.3" cy="578.3"/>
<circle r="2.6" cx="523.1" cy="579.0"/>
<circle r="2.6" cx="523.4" cy="580.0"/>
<circle r="2.6" cx="523.2" cy="581.1"/>
<circle r="2.6" cx="523.2" cy="582.3"/>
<circle r="2.6" cx="523.1" cy="583.6"/>
<circle r="2.6" cx="523.3" cy="584.7"/>
<circle r="2.6" cx="523.4" cy="585.6"/>
<circle r="2.6" cx="523.2" cy="586.8"/>
<circle r="2.6" cx="523.1" cy="588.3"/>
<circle r="2.6" cx="523.0" cy="589.1"/>
<circle r="2.6" cx="481.9" cy="562.8"/>
<circle r="2.6" cx="481.9" cy="564.6"/>
<circle r="2.6" cx="481.9" cy="590.3"/>
<circle r="2.6" cx="481.9" cy="610.9"/>
<circle r="2.6" cx="481.9" cy="638.7"/>
<circle r="2.6" cx="504.9" cy="587.1"/>
<circle r="2.6" cx="504.9" cy="588.4"/>
<circle r="2.6" cx="504.9" cy="594.5"/>
<circle r="2.6" cx="504.9" cy="604.9"/>
<circle r="2.6" cx="504.9" cy="606.7"/>
<circle r="2.6" cx="504.9" cy="619.5"/>
<circle r="2.6" cx="518.0" cy="550.0"/>
<circle r="2.6" cx="518.0" cy="553.8"/>
<circle r="2.6" cx="518.0" cy="558.5"/>
<circle r="2.6" cx="518.0" cy="561.3"/>
</g>
<line x1="423.0" y1="587.25" x2="559.1" y2="587.25" stroke="#111" stroke-width="1.6"/>
<rect x="423.0" y="518.5" width="136.1" height="136.7" fill="none" stroke="#1a1a1a" stroke-width="1.05"/>
<line x1="419.5" y1="649.94" x2="423.0" y2="649.94" stroke="#333" stroke-width="1.0"/>
<text x="416.4" y="654.74" font-size="14" text-anchor="end" textLength="7.6" lengthAdjust="spacingAndGlyphs">6</text>
<rect x="398.6" y="650.39" width="8.3" height="1.05" fill="#000"/>
<line x1="419.5" y1="628.91" x2="423.0" y2="628.91" stroke="#333" stroke-width="1.0"/>
<text x="416.4" y="633.71" font-size="14" text-anchor="end" textLength="7.6" lengthAdjust="spacingAndGlyphs">4</text>
<rect x="398.6" y="629.36" width="8.3" height="1.05" fill="#000"/>
<line x1="419.5" y1="607.88" x2="423.0" y2="607.88" stroke="#333" stroke-width="1.0"/>
<text x="416.4" y="612.68" font-size="14" text-anchor="end" textLength="7.6" lengthAdjust="spacingAndGlyphs">2</text>
<rect x="398.6" y="608.33" width="8.3" height="1.05" fill="#000"/>
<line x1="419.5" y1="586.85" x2="423.0" y2="586.85" stroke="#333" stroke-width="1.0"/>
<text x="416.4" y="591.65" font-size="14" text-anchor="end" textLength="7.6" lengthAdjust="spacingAndGlyphs">0</text>
<line x1="419.5" y1="565.82" x2="423.0" y2="565.82" stroke="#333" stroke-width="1.0"/>
<text x="416.4" y="570.62" font-size="14" text-anchor="end" textLength="7.6" lengthAdjust="spacingAndGlyphs">2</text>
<line x1="419.5" y1="544.79" x2="423.0" y2="544.79" stroke="#333" stroke-width="1.0"/>
<text x="416.4" y="549.59" font-size="14" text-anchor="end" textLength="7.6" lengthAdjust="spacingAndGlyphs">4</text>
<line x1="419.5" y1="523.76" x2="423.0" y2="523.76" stroke="#333" stroke-width="1.0"/>
<text x="416.4" y="528.56" font-size="14" text-anchor="end" textLength="7.6" lengthAdjust="spacingAndGlyphs">6</text>
<line x1="435.84" y1="655.2" x2="435.84" y2="658.7" stroke="#333" stroke-width="1.0"/>
<text x="435.84" y="672.0" font-size="14" text-anchor="middle" textLength="7.8" lengthAdjust="spacingAndGlyphs">3</text>
<line x1="487.20" y1="655.2" x2="487.20" y2="658.7" stroke="#333" stroke-width="1.0"/>
<text x="487.20" y="672.0" font-size="14" text-anchor="middle" textLength="7.8" lengthAdjust="spacingAndGlyphs">5</text>
<line x1="538.56" y1="655.2" x2="538.56" y2="658.7" stroke="#333" stroke-width="1.0"/>
<text x="538.56" y="672.0" font-size="14" text-anchor="middle" textLength="7.8" lengthAdjust="spacingAndGlyphs">7</text>
<text transform="translate(390.3,586.9) rotate(-90)" font-size="15.2" text-anchor="middle" textLength="144.5" lengthAdjust="spacingAndGlyphs">Residuals [log CFU]</text>
<text x="491.1" y="689.8" font-size="15.2" text-anchor="middle" textLength="41.2" lengthAdjust="spacingAndGlyphs">pH [-]</text>
<g fill="none" stroke="#4682b4" stroke-width="1.1">
<circle r="2.6" cx="636.9" cy="558.8"/>
<circle r="2.6" cx="636.8" cy="559.7"/>
<circle r="2.6" cx="637.1" cy="561.2"/>
<circle r="2.6" cx="636.9" cy="561.9"/>
<circle r="2.6" cx="636.8" cy="563.1"/>
<circle r="2.6" cx="636.8" cy="564.1"/>
<circle r="2.6" cx="637.0" cy="565.6"/>
<circle r="2.6" cx="637.2" cy="566.5"/>
<circle r="2.6" cx="637.0" cy="567.6"/>
<circle r="2.6" cx="637.0" cy="568.8"/>
<circle r="2.6" cx="637.1" cy="569.6"/>
<circle r="2.6" cx="637.0" cy="570.6"/>
<circle r="2.6" cx="637.0" cy="571.7"/>
<circle r="2.6" cx="637.0" cy="572.8"/>
<circle r="2.6" cx="637.1" cy="574.0"/>
<circle r="2.6" cx="636.8" cy="575.1"/>
<circle r="2.6" cx="637.0" cy="576.4"/>
<circle r="2.6" cx="637.1" cy="577.6"/>
<circle r="2.6" cx="637.0" cy="578.2"/>
<circle r="2.6" cx="637.2" cy="579.3"/>
<circle r="2.6" cx="637.0" cy="580.7"/>
<circle r="2.6" cx="636.8" cy="581.7"/>
<circle r="2.6" cx="636.9" cy="582.8"/>
<circle r="2.6" cx="637.2" cy="583.8"/>
<circle r="2.6" cx="637.0" cy="584.9"/>
<circle r="2.6" cx="637.2" cy="586.0"/>
<circle r="2.6" cx="637.2" cy="587.0"/>
<circle r="2.6" cx="636.9" cy="588.2"/>
<circle r="2.6" cx="636.9" cy="589.4"/>
<circle r="2.6" cx="637.1" cy="590.3"/>
<circle r="2.6" cx="636.9" cy="591.4"/>
<circle r="2.6" cx="636.8" cy="592.5"/>
<circle r="2.6" cx="637.0" cy="593.8"/>
<circle r="2.6" cx="637.0" cy="594.6"/>
<circle r="2.6" cx="637.2" cy="595.9"/>
<circle r="2.6" cx="637.0" cy="597.4"/>
<circle r="2.6" cx="636.8" cy="598.4"/>
<circle r="2.6" cx="637.2" cy="599.3"/>
<circle r="2.6" cx="637.1" cy="600.6"/>
<circle r="2.6" cx="637.2" cy="601.7"/>
<circle r="2.6" cx="636.8" cy="602.7"/>
<circle r="2.6" cx="636.9" cy="603.8"/>
<circle r="2.6" cx="637.2" cy="604.8"/>
<circle r="2.6" cx="639.4" cy="558.8"/>
<circle r="2.6" cx="639.6" cy="560.1"/>
<circle r="2.6" cx="639.4" cy="561.1"/>
<circle r="2.6" cx="639.5" cy="562.1"/>
<circle r="2.6" cx="639.6" cy="563.5"/>
<circle r="2.6" cx="639.7" cy="564.4"/>
<circle r="2.6" cx="639.6" cy="565.3"/>
<circle r="2.6" cx="639.5" cy="566.5"/>
<circle r="2.6" cx="639.4" cy="567.5"/>
<circle r="2.6" cx="639.7" cy="568.4"/>
<circle r="2.6" cx="639.7" cy="569.6"/>
<circle r="2.6" cx="639.4" cy="570.8"/>
<circle r="2.6" cx="639.5" cy="571.7"/>
<circle r="2.6" cx="639.4" cy="572.9"/>
<circle r="2.6" cx="639.7" cy="574.3"/>
<circle r="2.6" cx="639.6" cy="575.0"/>
<circle r="2.6" cx="639.7" cy="576.6"/>
<circle r="2.6" cx="639.6" cy="577.6"/>
<circle r="2.6" cx="639.3" cy="578.5"/>
<circle r="2.6" cx="639.6" cy="579.4"/>
<circle r="2.6" cx="639.5" cy="580.6"/>
<circle r="2.6" cx="639.5" cy="581.9"/>
<circle r="2.6" cx="639.4" cy="582.8"/>
<circle r="2.6" cx="639.5" cy="584.2"/>
<circle r="2.6" cx="639.6" cy="585.2"/>
<circle r="2.6" cx="639.5" cy="586.1"/>
<circle r="2.6" cx="639.5" cy="587.3"/>
<circle r="2.6" cx="639.4" cy="588.4"/>
<circle r="2.6" cx="639.6" cy="589.4"/>
<circle r="2.6" cx="639.5" cy="590.4"/>
<circle r="2.6" cx="639.6" cy="591.8"/>
<circle r="2.6" cx="639.3" cy="592.8"/>
<circle r="2.6" cx="639.6" cy="594.0"/>
<circle r="2.6" cx="639.3" cy="594.7"/>
<circle r="2.6" cx="639.5" cy="596.3"/>
<circle r="2.6" cx="639.3" cy="597.3"/>
<circle r="2.6" cx="639.5" cy="598.5"/>
<circle r="2.6" cx="639.6" cy="599.2"/>
<circle r="2.6" cx="639.4" cy="600.4"/>
<circle r="2.6" cx="639.3" cy="601.8"/>
<circle r="2.6" cx="639.7" cy="602.5"/>
<circle r="2.6" cx="639.3" cy="603.9"/>
<circle r="2.6" cx="639.7" cy="604.8"/>
<circle r="2.6" cx="625.4" cy="563.4"/>
<circle r="2.6" cx="625.4" cy="567.2"/>
<circle r="2.6" cx="625.4" cy="570.3"/>
<circle r="2.6" cx="625.4" cy="572.6"/>
<circle r="2.6" cx="625.4" cy="579.5"/>
<circle r="2.6" cx="625.4" cy="590.2"/>
<circle r="2.6" cx="629.6" cy="559.5"/>
<circle r="2.6" cx="629.6" cy="563.4"/>
<circle r="2.6" cx="629.6" cy="567.2"/>
<circle r="2.6" cx="629.6" cy="571.0"/>
<circle r="2.6" cx="629.6" cy="576.4"/>
<circle r="2.6" cx="629.6" cy="579.5"/>
<circle r="2.6" cx="629.6" cy="584.1"/>
<circle r="2.6" cx="629.6" cy="588.7"/>
<circle r="2.6" cx="629.6" cy="592.5"/>
<circle r="2.6" cx="642.2" cy="558.0"/>
<circle r="2.6" cx="642.2" cy="608.6"/>
<circle r="2.6" cx="644.9" cy="562.6"/>
<circle r="2.6" cx="644.9" cy="566.0"/>
<circle r="2.6" cx="644.9" cy="569.5"/>
<circle r="2.6" cx="644.9" cy="573.0"/>
<circle r="2.6" cx="644.9" cy="576.5"/>
<circle r="2.6" cx="644.9" cy="580.0"/>
<circle r="2.6" cx="644.9" cy="584.1"/>
<circle r="2.6" cx="654.1" cy="540.4"/>
<circle r="2.6" cx="653.7" cy="554.7"/>
<circle r="2.6" cx="651.6" cy="557.1"/>
<circle r="2.6" cx="653.7" cy="557.1"/>
<circle r="2.6" cx="655.4" cy="557.4"/>
<circle r="2.6" cx="652.2" cy="559.7"/>
<circle r="2.6" cx="654.0" cy="559.6"/>
<circle r="2.6" cx="651.4" cy="561.5"/>
<circle r="2.6" cx="653.5" cy="562.2"/>
<circle r="2.6" cx="655.0" cy="561.6"/>
<circle r="2.6" cx="652.8" cy="564.5"/>
<circle r="2.6" cx="654.6" cy="564.0"/>
<circle r="2.6" cx="652.3" cy="565.8"/>
<circle r="2.6" cx="653.9" cy="566.1"/>
<circle r="2.6" cx="655.0" cy="565.9"/>
<circle r="2.6" cx="652.5" cy="568.8"/>
<circle r="2.6" cx="654.2" cy="568.6"/>
<circle r="2.6" cx="651.9" cy="570.6"/>
<circle r="2.6" cx="653.6" cy="570.3"/>
<circle r="2.6" cx="654.9" cy="570.4"/>
<circle r="2.6" cx="652.9" cy="572.8"/>
<circle r="2.6" cx="654.3" cy="573.0"/>
<circle r="2.6" cx="651.7" cy="574.9"/>
<circle r="2.6" cx="653.9" cy="575.3"/>
<circle r="2.6" cx="655.1" cy="575.2"/>
<circle r="2.6" cx="652.7" cy="577.7"/>
<circle r="2.6" cx="654.7" cy="577.1"/>
<circle r="2.6" cx="652.3" cy="579.1"/>
<circle r="2.6" cx="653.5" cy="579.7"/>
<circle r="2.6" cx="655.0" cy="579.5"/>
<circle r="2.6" cx="652.2" cy="581.9"/>
<circle r="2.6" cx="654.8" cy="581.8"/>
<circle r="2.6" cx="652.2" cy="583.7"/>
<circle r="2.6" cx="653.8" cy="584.0"/>
<circle r="2.6" cx="655.5" cy="583.8"/>
<circle r="2.6" cx="651.4" cy="591.4"/>
<circle r="2.6" cx="663.4" cy="553.8"/>
<circle r="2.6" cx="663.9" cy="556.9"/>
<circle r="2.6" cx="664.7" cy="556.7"/>
<circle r="2.6" cx="665.4" cy="556.7"/>
<circle r="2.6" cx="664.3" cy="559.2"/>
<circle r="2.6" cx="665.6" cy="558.5"/>
<circle r="2.6" cx="663.5" cy="561.1"/>
<circle r="2.6" cx="664.2" cy="560.9"/>
<circle r="2.6" cx="665.5" cy="560.5"/>
<circle r="2.6" cx="663.7" cy="563.4"/>
<circle r="2.6" cx="664.9" cy="562.8"/>
<circle r="2.6" cx="663.5" cy="565.7"/>
<circle r="2.6" cx="664.3" cy="565.2"/>
<circle r="2.6" cx="665.8" cy="565.7"/>
<circle r="2.6" cx="664.5" cy="567.9"/>
<circle r="2.6" cx="665.0" cy="567.4"/>
<circle r="2.6" cx="663.4" cy="570.1"/>
<circle r="2.6" cx="665.1" cy="569.3"/>
<circle r="2.6" cx="665.5" cy="569.4"/>
<circle r="2.6" cx="663.9" cy="571.9"/>
<circle r="2.6" cx="665.3" cy="571.7"/>
<circle r="2.6" cx="663.1" cy="574.0"/>
<circle r="2.6" cx="664.6" cy="574.2"/>
<circle r="2.6" cx="666.2" cy="574.3"/>
<circle r="2.6" cx="664.2" cy="576.4"/>
<circle r="2.6" cx="665.4" cy="575.8"/>
<circle r="2.6" cx="664.0" cy="578.8"/>
<circle r="2.6" cx="665.1" cy="578.8"/>
<circle r="2.6" cx="665.7" cy="578.4"/>
<circle r="2.6" cx="663.7" cy="580.8"/>
<circle r="2.6" cx="664.8" cy="580.3"/>
<circle r="2.6" cx="663.3" cy="582.6"/>
<circle r="2.6" cx="664.5" cy="582.4"/>
<circle r="2.6" cx="665.3" cy="582.5"/>
<circle r="2.6" cx="665.6" cy="590.4"/>
<circle r="2.6" cx="665.6" cy="592.6"/>
</g>
<g fill="none" stroke="#696969" stroke-width="1.1">
<circle r="2.6" cx="675.0" cy="570.3"/>
<circle r="2.6" cx="677.5" cy="570.1"/>
<circle r="2.6" cx="674.2" cy="571.5"/>
<circle r="2.6" cx="676.3" cy="571.5"/>
<circle r="2.6" cx="678.1" cy="571.6"/>
<circle r="2.6" cx="673.3" cy="572.9"/>
<circle r="2.6" cx="675.0" cy="572.4"/>
<circle r="2.6" cx="677.5" cy="572.9"/>
<circle r="2.6" cx="679.5" cy="572.9"/>
<circle r="2.6" cx="671.9" cy="573.7"/>
<circle r="2.6" cx="674.6" cy="574.0"/>
<circle r="2.6" cx="676.2" cy="574.2"/>
<circle r="2.6" cx="678.1" cy="574.4"/>
<circle r="2.6" cx="680.5" cy="573.8"/>
<circle r="2.6" cx="673.5" cy="575.2"/>
<circle r="2.6" cx="675.1" cy="574.9"/>
<circle r="2.6" cx="677.0" cy="575.2"/>
<circle r="2.6" cx="679.2" cy="575.5"/>
<circle r="2.6" cx="672.2" cy="576.5"/>
<circle r="2.6" cx="674.6" cy="576.6"/>
<circle r="2.6" cx="676.4" cy="576.7"/>
<circle r="2.6" cx="678.4" cy="576.7"/>
<circle r="2.6" cx="680.4" cy="576.2"/>
<circle r="2.6" cx="673.4" cy="577.8"/>
<circle r="2.6" cx="675.5" cy="577.5"/>
<circle r="2.6" cx="676.9" cy="577.7"/>
<circle r="2.6" cx="679.6" cy="577.9"/>
<circle r="2.6" cx="672.4" cy="578.8"/>
<circle r="2.6" cx="674.1" cy="578.6"/>
<circle r="2.6" cx="676.6" cy="578.4"/>
<circle r="2.6" cx="678.2" cy="578.6"/>
<circle r="2.6" cx="680.2" cy="579.2"/>
<circle r="2.6" cx="673.0" cy="580.2"/>
<circle r="2.6" cx="675.5" cy="579.6"/>
<circle r="2.6" cx="677.1" cy="579.8"/>
<circle r="2.6" cx="679.0" cy="579.9"/>
<circle r="2.6" cx="672.5" cy="581.6"/>
<circle r="2.6" cx="674.4" cy="581.2"/>
<circle r="2.6" cx="676.4" cy="581.0"/>
<circle r="2.6" cx="678.3" cy="581.0"/>
<circle r="2.6" cx="680.3" cy="581.1"/>
<circle r="2.6" cx="673.3" cy="582.5"/>
<circle r="2.6" cx="675.4" cy="582.3"/>
<circle r="2.6" cx="677.2" cy="582.3"/>
<circle r="2.6" cx="679.3" cy="582.0"/>
<circle r="2.6" cx="672.4" cy="583.7"/>
<circle r="2.6" cx="674.1" cy="583.9"/>
<circle r="2.6" cx="676.4" cy="583.9"/>
<circle r="2.6" cx="678.2" cy="584.0"/>
<circle r="2.6" cx="680.1" cy="583.6"/>
<circle r="2.6" cx="673.3" cy="584.6"/>
<circle r="2.6" cx="675.3" cy="585.2"/>
<circle r="2.6" cx="676.9" cy="585.0"/>
<circle r="2.6" cx="679.0" cy="584.8"/>
<circle r="2.6" cx="672.5" cy="586.0"/>
<circle r="2.6" cx="674.6" cy="586.2"/>
<circle r="2.6" cx="675.9" cy="585.8"/>
<circle r="2.6" cx="678.5" cy="586.2"/>
<circle r="2.6" cx="680.3" cy="585.6"/>
<circle r="2.6" cx="673.0" cy="587.1"/>
<circle r="2.6" cx="675.3" cy="587.4"/>
<circle r="2.6" cx="677.1" cy="587.3"/>
<circle r="2.6" cx="679.4" cy="587.1"/>
<circle r="2.6" cx="672.6" cy="588.2"/>
<circle r="2.6" cx="674.5" cy="588.2"/>
<circle r="2.6" cx="676.5" cy="588.4"/>
<circle r="2.6" cx="678.2" cy="588.7"/>
<circle r="2.6" cx="680.2" cy="588.6"/>
<circle r="2.6" cx="673.3" cy="589.3"/>
<circle r="2.6" cx="675.1" cy="589.4"/>
<circle r="2.6" cx="677.0" cy="589.2"/>
<circle r="2.6" cx="679.4" cy="589.6"/>
<circle r="2.6" cx="672.5" cy="590.7"/>
<circle r="2.6" cx="673.9" cy="591.1"/>
<circle r="2.6" cx="676.5" cy="591.1"/>
<circle r="2.6" cx="678.2" cy="590.6"/>
<circle r="2.6" cx="680.6" cy="590.5"/>
<circle r="2.6" cx="673.3" cy="591.7"/>
<circle r="2.6" cx="675.1" cy="592.3"/>
<circle r="2.6" cx="677.6" cy="592.0"/>
<circle r="2.6" cx="679.0" cy="592.0"/>
<circle r="2.6" cx="672.6" cy="593.5"/>
<circle r="2.6" cx="673.9" cy="593.0"/>
<circle r="2.6" cx="676.3" cy="592.8"/>
<circle r="2.6" cx="678.2" cy="593.3"/>
<circle r="2.6" cx="680.1" cy="593.4"/>
<circle r="2.6" cx="673.7" cy="594.2"/>
<circle r="2.6" cx="675.3" cy="594.6"/>
<circle r="2.6" cx="677.0" cy="594.4"/>
<circle r="2.6" cx="679.4" cy="594.7"/>
<circle r="2.6" cx="672.4" cy="595.9"/>
<circle r="2.6" cx="674.5" cy="595.3"/>
<circle r="2.6" cx="676.5" cy="595.6"/>
<circle r="2.6" cx="678.3" cy="595.6"/>
<circle r="2.6" cx="680.4" cy="595.5"/>
<circle r="2.6" cx="673.2" cy="597.1"/>
<circle r="2.6" cx="675.1" cy="596.7"/>
<circle r="2.6" cx="677.2" cy="596.4"/>
<circle r="2.6" cx="679.0" cy="596.8"/>
<circle r="2.6" cx="672.7" cy="598.1"/>
<circle r="2.6" cx="674.1" cy="597.6"/>
<circle r="2.6" cx="676.1" cy="598.4"/>
<circle r="2.6" cx="678.1" cy="598.3"/>
<circle r="2.6" cx="680.4" cy="597.7"/>
<circle r="2.6" cx="673.6" cy="599.2"/>
<circle r="2.6" cx="674.9" cy="599.5"/>
<circle r="2.6" cx="677.4" cy="598.9"/>
<circle r="2.6" cx="679.2" cy="599.1"/>
<circle r="2.6" cx="672.1" cy="600.5"/>
<circle r="2.6" cx="674.6" cy="600.5"/>
<circle r="2.6" cx="676.1" cy="600.8"/>
<circle r="2.6" cx="678.4" cy="600.1"/>
<circle r="2.6" cx="680.6" cy="600.8"/>
<circle r="2.6" cx="673.6" cy="602.0"/>
<circle r="2.6" cx="675.3" cy="601.2"/>
<circle r="2.6" cx="677.6" cy="601.7"/>
<circle r="2.6" cx="679.7" cy="602.0"/>
<circle r="2.6" cx="674.4" cy="602.5"/>
<circle r="2.6" cx="676.6" cy="602.5"/>
<circle r="2.6" cx="678.2" cy="602.7"/>
<circle r="2.6" cx="675.0" cy="603.9"/>
<circle r="2.6" cx="677.5" cy="603.7"/>
<circle r="2.6" cx="679.4" cy="603.8"/>
<circle r="2.6" cx="676.0" cy="605.5"/>
<circle r="2.6" cx="678.1" cy="604.8"/>
<circle r="2.6" cx="677.4" cy="606.4"/>
<circle r="2.6" cx="678.4" cy="608.0"/>
<circle r="2.6" cx="672.3" cy="572.0"/>
<circle r="2.6" cx="674.8" cy="569.2"/>
<circle r="2.6" cx="679.0" cy="570.5"/>
<circle r="2.6" cx="680.7" cy="572.4"/>
<circle r="2.6" cx="680.7" cy="574.7"/>
<circle r="2.6" cx="680.7" cy="577.0"/>
<circle r="2.6" cx="680.7" cy="579.3"/>
<circle r="2.6" cx="680.7" cy="581.6"/>
<circle r="2.6" cx="680.7" cy="583.9"/>
<circle r="2.6" cx="680.7" cy="586.2"/>
<circle r="2.6" cx="680.7" cy="588.5"/>
<circle r="2.6" cx="680.7" cy="590.8"/>
<circle r="2.6" cx="680.7" cy="593.1"/>
<circle r="2.6" cx="680.7" cy="595.4"/>
<circle r="2.6" cx="680.7" cy="597.7"/>
<circle r="2.6" cx="680.7" cy="600.0"/>
<circle r="2.6" cx="680.0" cy="602.7"/>
<circle r="2.6" cx="679.3" cy="605.3"/>
<circle r="2.6" cx="678.6" cy="608.0"/>
<circle r="2.6" cx="676.8" cy="606.5"/>
<circle r="2.6" cx="675.0" cy="605.0"/>
<circle r="2.6" cx="672.3" cy="601.3"/>
<circle r="2.6" cx="672.3" cy="598.9"/>
<circle r="2.6" cx="672.3" cy="596.4"/>
<circle r="2.6" cx="672.3" cy="594.0"/>
<circle r="2.6" cx="672.3" cy="591.5"/>
<circle r="2.6" cx="672.3" cy="589.1"/>
<circle r="2.6" cx="672.3" cy="586.6"/>
<circle r="2.6" cx="672.3" cy="584.2"/>
<circle r="2.6" cx="672.3" cy="581.8"/>
<circle r="2.6" cx="672.3" cy="579.3"/>
<circle r="2.6" cx="672.3" cy="576.9"/>
<circle r="2.6" cx="672.3" cy="574.4"/>
<circle r="2.6" cx="637.9" cy="567.0"/>
<circle r="2.6" cx="638.2" cy="568.1"/>
<circle r="2.6" cx="638.1" cy="569.0"/>
<circle r="2.6" cx="638.2" cy="570.2"/>
<circle r="2.6" cx="637.8" cy="571.2"/>
<circle r="2.6" cx="637.8" cy="572.7"/>
<circle r="2.6" cx="637.9" cy="573.8"/>
<circle r="2.6" cx="638.1" cy="574.9"/>
<circle r="2.6" cx="638.2" cy="576.0"/>
<circle r="2.6" cx="637.8" cy="576.8"/>
<circle r="2.6" cx="637.8" cy="578.0"/>
<circle r="2.6" cx="638.2" cy="579.1"/>
<circle r="2.6" cx="637.9" cy="580.2"/>
<circle r="2.6" cx="638.1" cy="581.2"/>
<circle r="2.6" cx="638.0" cy="582.5"/>
<circle r="2.6" cx="637.9" cy="583.9"/>
<circle r="2.6" cx="637.9" cy="584.9"/>
<circle r="2.6" cx="638.2" cy="586.1"/>
<circle r="2.6" cx="638.2" cy="586.9"/>
<circle r="2.6" cx="637.8" cy="587.9"/>
<circle r="2.6" cx="637.9" cy="589.2"/>
<circle r="2.6" cx="637.9" cy="590.2"/>
<circle r="2.6" cx="637.9" cy="591.3"/>
<circle r="2.6" cx="637.9" cy="592.7"/>
<circle r="2.6" cx="638.2" cy="593.7"/>
<circle r="2.6" cx="637.8" cy="594.8"/>
<circle r="2.6" cx="637.8" cy="595.7"/>
<circle r="2.6" cx="637.9" cy="597.0"/>
<circle r="2.6" cx="644.9" cy="594.0"/>
<circle r="2.6" cx="644.9" cy="605.6"/>
<circle r="2.6" cx="644.9" cy="607.1"/>
<circle r="2.6" cx="644.9" cy="619.4"/>
<circle r="2.6" cx="708.0" cy="550.6"/>
<circle r="2.6" cx="708.0" cy="554.6"/>
<circle r="2.6" cx="708.0" cy="558.6"/>
<circle r="2.6" cx="708.0" cy="562.8"/>
<circle r="2.6" cx="708.0" cy="566.5"/>
<circle r="2.6" cx="708.0" cy="571.0"/>
<circle r="2.6" cx="708.0" cy="574.7"/>
<circle r="2.6" cx="708.0" cy="577.4"/>
<circle r="2.6" cx="708.0" cy="586.0"/>
<circle r="2.6" cx="736.9" cy="562.8"/>
<circle r="2.6" cx="736.9" cy="564.6"/>
<circle r="2.6" cx="736.9" cy="590.3"/>
<circle r="2.6" cx="736.9" cy="610.9"/>
<circle r="2.6" cx="736.9" cy="638.7"/>
</g>
<line x1="612.5" y1="587.25" x2="748.6" y2="587.25" stroke="#111" stroke-width="1.6"/>
<rect x="612.5" y="518.5" width="136.1" height="136.7" fill="none" stroke="#1a1a1a" stroke-width="1.05"/>
<line x1="609.0" y1="649.94" x2="612.5" y2="649.94" stroke="#333" stroke-width="1.0"/>
<text x="605.9" y="654.74" font-size="14" text-anchor="end" textLength="7.6" lengthAdjust="spacingAndGlyphs">6</text>
<rect x="588.1" y="650.39" width="8.3" height="1.05" fill="#000"/>
<line x1="609.0" y1="628.91" x2="612.5" y2="628.91" stroke="#333" stroke-width="1.0"/>
<text x="605.9" y="633.71" font-size="14" text-anchor="end" textLength="7.6" lengthAdjust="spacingAndGlyphs">4</text>
<rect x="588.1" y="629.36" width="8.3" height="1.05" fill="#000"/>
<line x1="609.0" y1="607.88" x2="612.5" y2="607.88" stroke="#333" stroke-width="1.0"/>
<text x="605.9" y="612.68" font-size="14" text-anchor="end" textLength="7.6" lengthAdjust="spacingAndGlyphs">2</text>
<rect x="588.1" y="608.33" width="8.3" height="1.05" fill="#000"/>
<line x1="609.0" y1="586.85" x2="612.5" y2="586.85" stroke="#333" stroke-width="1.0"/>
<text x="605.9" y="591.65" font-size="14" text-anchor="end" textLength="7.6" lengthAdjust="spacingAndGlyphs">0</text>
<line x1="609.0" y1="565.82" x2="612.5" y2="565.82" stroke="#333" stroke-width="1.0"/>
<text x="605.9" y="570.62" font-size="14" text-anchor="end" textLength="7.6" lengthAdjust="spacingAndGlyphs">2</text>
<line x1="609.0" y1="544.79" x2="612.5" y2="544.79" stroke="#333" stroke-width="1.0"/>
<text x="605.9" y="549.59" font-size="14" text-anchor="end" textLength="7.6" lengthAdjust="spacingAndGlyphs">4</text>
<line x1="609.0" y1="523.76" x2="612.5" y2="523.76" stroke="#333" stroke-width="1.0"/>
<text x="605.9" y="528.56" font-size="14" text-anchor="end" textLength="7.6" lengthAdjust="spacingAndGlyphs">6</text>
<line x1="618.69" y1="655.2" x2="618.69" y2="658.7" stroke="#333" stroke-width="1.0"/>
<text x="618.69" y="672.0" font-size="14" text-anchor="middle" textLength="7.8" lengthAdjust="spacingAndGlyphs">0</text>
<line x1="680.55" y1="655.2" x2="680.55" y2="658.7" stroke="#333" stroke-width="1.0"/>
<text x="680.55" y="672.0" font-size="14" text-anchor="middle" textLength="7.8" lengthAdjust="spacingAndGlyphs">5</text>
<line x1="742.41" y1="655.2" x2="742.41" y2="658.7" stroke="#333" stroke-width="1.0"/>
<text x="742.41" y="672.0" font-size="14" text-anchor="middle" textLength="15.6" lengthAdjust="spacingAndGlyphs">10</text>
<text transform="translate(579.8,586.9) rotate(-90)" font-size="15.2" text-anchor="middle" textLength="144.5" lengthAdjust="spacingAndGlyphs">Residuals [log CFU]</text>
<text x="680.5" y="689.8" font-size="15.2" text-anchor="middle" textLength="118.5" lengthAdjust="spacingAndGlyphs">log <tspan font-style="italic">N</tspan><tspan font-size="10.6" dy="2.6">0</tspan><tspan dy="-2.6"> [log CFU]</tspan></text>
<g fill="none" stroke="#4682b4" stroke-width="1.1">
<circle r="2.6" cx="70.9" cy="808.0"/>
<circle r="2.6" cx="70.8" cy="809.2"/>
<circle r="2.6" cx="70.8" cy="810.0"/>
<circle r="2.6" cx="70.8" cy="811.6"/>
<circle r="2.6" cx="70.8" cy="812.5"/>
<circle r="2.6" cx="71.0" cy="813.6"/>
<circle r="2.6" cx="70.8" cy="814.5"/>
<circle r="2.6" cx="70.6" cy="816.1"/>
<circle r="2.6" cx="70.8" cy="817.2"/>
<circle r="2.6" cx="71.0" cy="818.0"/>
<circle r="2.6" cx="70.6" cy="819.5"/>
<circle r="2.6" cx="70.6" cy="820.1"/>
<circle r="2.6" cx="70.8" cy="821.3"/>
<circle r="2.6" cx="70.9" cy="822.4"/>
<circle r="2.6" cx="70.6" cy="823.4"/>
<circle r="2.6" cx="70.7" cy="824.7"/>
<circle r="2.6" cx="70.9" cy="825.8"/>
<circle r="2.6" cx="70.6" cy="827.1"/>
<circle r="2.6" cx="70.6" cy="827.9"/>
<circle r="2.6" cx="71.0" cy="829.4"/>
<circle r="2.6" cx="70.8" cy="830.6"/>
<circle r="2.6" cx="70.8" cy="831.7"/>
<circle r="2.6" cx="70.6" cy="832.4"/>
<circle r="2.6" cx="70.8" cy="833.9"/>
<circle r="2.6" cx="70.7" cy="834.9"/>
<circle r="2.6" cx="70.7" cy="835.8"/>
<circle r="2.6" cx="70.8" cy="837.1"/>
<circle r="2.6" cx="70.8" cy="838.2"/>
<circle r="2.6" cx="89.0" cy="816.4"/>
<circle r="2.6" cx="88.8" cy="817.7"/>
<circle r="2.6" cx="88.8" cy="818.9"/>
<circle r="2.6" cx="88.9" cy="819.7"/>
<circle r="2.6" cx="88.8" cy="820.6"/>
<circle r="2.6" cx="89.0" cy="821.7"/>
<circle r="2.6" cx="89.1" cy="822.9"/>
<circle r="2.6" cx="89.2" cy="824.3"/>
<circle r="2.6" cx="88.9" cy="825.2"/>
<circle r="2.6" cx="89.1" cy="826.6"/>
<circle r="2.6" cx="89.2" cy="827.8"/>
<circle r="2.6" cx="88.8" cy="829.0"/>
<circle r="2.6" cx="89.1" cy="829.9"/>
<circle r="2.6" cx="89.2" cy="831.0"/>
<circle r="2.6" cx="107.1" cy="797.1"/>
<circle r="2.6" cx="106.9" cy="798.1"/>
<circle r="2.6" cx="106.9" cy="799.1"/>
<circle r="2.6" cx="106.9" cy="800.4"/>
<circle r="2.6" cx="106.9" cy="801.7"/>
<circle r="2.6" cx="107.0" cy="802.6"/>
<circle r="2.6" cx="106.9" cy="803.5"/>
<circle r="2.6" cx="107.2" cy="804.7"/>
<circle r="2.6" cx="107.1" cy="805.9"/>
<circle r="2.6" cx="107.0" cy="806.8"/>
<circle r="2.6" cx="106.9" cy="808.2"/>
<circle r="2.6" cx="107.2" cy="809.2"/>
<circle r="2.6" cx="107.0" cy="810.2"/>
<circle r="2.6" cx="107.2" cy="811.2"/>
<circle r="2.6" cx="106.9" cy="812.5"/>
<circle r="2.6" cx="107.3" cy="813.4"/>
<circle r="2.6" cx="107.3" cy="814.3"/>
<circle r="2.6" cx="107.0" cy="815.8"/>
<circle r="2.6" cx="107.0" cy="817.0"/>
<circle r="2.6" cx="107.1" cy="818.0"/>
<circle r="2.6" cx="107.0" cy="818.8"/>
<circle r="2.6" cx="107.2" cy="819.9"/>
<circle r="2.6" cx="106.9" cy="821.4"/>
<circle r="2.6" cx="107.1" cy="822.1"/>
<circle r="2.6" cx="107.1" cy="823.4"/>
<circle r="2.6" cx="107.3" cy="824.5"/>
<circle r="2.6" cx="106.9" cy="825.3"/>
<circle r="2.6" cx="107.2" cy="826.6"/>
<circle r="2.6" cx="107.1" cy="827.9"/>
<circle r="2.6" cx="107.3" cy="829.0"/>
<circle r="2.6" cx="107.0" cy="830.1"/>
<circle r="2.6" cx="107.3" cy="831.0"/>
<circle r="2.6" cx="120.6" cy="811.9"/>
<circle r="2.6" cx="120.8" cy="813.2"/>
<circle r="2.6" cx="120.8" cy="813.8"/>
<circle r="2.6" cx="120.7" cy="815.3"/>
<circle r="2.6" cx="120.5" cy="816.3"/>
<circle r="2.6" cx="120.5" cy="817.3"/>
<circle r="2.6" cx="120.6" cy="818.2"/>
<circle r="2.6" cx="120.8" cy="819.4"/>
<circle r="2.6" cx="120.4" cy="820.5"/>
<circle r="2.6" cx="120.7" cy="821.8"/>
<circle r="2.6" cx="120.7" cy="822.9"/>
<circle r="2.6" cx="120.4" cy="823.5"/>
<circle r="2.6" cx="120.7" cy="825.1"/>
<circle r="2.6" cx="120.8" cy="825.9"/>
<circle r="2.6" cx="120.4" cy="827.0"/>
<circle r="2.6" cx="107.1" cy="791.6"/>
<circle r="2.6" cx="120.6" cy="830.0"/>
<circle r="2.6" cx="120.6" cy="832.5"/>
</g>
<g fill="none" stroke="#696969" stroke-width="1.1">
<circle r="2.6" cx="75.6" cy="825.2"/>
<circle r="2.6" cx="75.2" cy="826.1"/>
<circle r="2.6" cx="75.6" cy="827.5"/>
<circle r="2.6" cx="75.5" cy="828.1"/>
<circle r="2.6" cx="75.6" cy="829.8"/>
<circle r="2.6" cx="75.6" cy="830.6"/>
<circle r="2.6" cx="75.4" cy="831.8"/>
<circle r="2.6" cx="75.2" cy="832.9"/>
<circle r="2.6" cx="75.3" cy="833.6"/>
<circle r="2.6" cx="75.2" cy="835.1"/>
<circle r="2.6" cx="75.4" cy="835.8"/>
<circle r="2.6" cx="75.4" cy="837.3"/>
<circle r="2.6" cx="75.2" cy="838.3"/>
<circle r="2.6" cx="75.2" cy="839.0"/>
<circle r="2.6" cx="75.6" cy="840.0"/>
<circle r="2.6" cx="75.4" cy="841.2"/>
<circle r="2.6" cx="75.2" cy="842.3"/>
<circle r="2.6" cx="75.6" cy="843.4"/>
<circle r="2.6" cx="107.1" cy="820.9"/>
<circle r="2.6" cx="107.1" cy="824.5"/>
<circle r="2.6" cx="107.1" cy="831.7"/>
</g>
<line x1="43.6" y1="827.25" x2="179.7" y2="827.25" stroke="#111" stroke-width="1.6"/>
<rect x="43.6" y="758.5" width="136.1" height="136.7" fill="none" stroke="#1a1a1a" stroke-width="1.05"/>
<line x1="40.1" y1="889.94" x2="43.6" y2="889.94" stroke="#333" stroke-width="1.0"/>
<text x="37.0" y="894.74" font-size="14" text-anchor="end" textLength="7.6" lengthAdjust="spacingAndGlyphs">6</text>
<rect x="19.2" y="890.39" width="8.3" height="1.05" fill="#000"/>
<line x1="40.1" y1="868.91" x2="43.6" y2="868.91" stroke="#333" stroke-width="1.0"/>
<text x="37.0" y="873.71" font-size="14" text-anchor="end" textLength="7.6" lengthAdjust="spacingAndGlyphs">4</text>
<rect x="19.2" y="869.36" width="8.3" height="1.05" fill="#000"/>
<line x1="40.1" y1="847.88" x2="43.6" y2="847.88" stroke="#333" stroke-width="1.0"/>
<text x="37.0" y="852.68" font-size="14" text-anchor="end" textLength="7.6" lengthAdjust="spacingAndGlyphs">2</text>
<rect x="19.2" y="848.33" width="8.3" height="1.05" fill="#000"/>
<line x1="40.1" y1="826.85" x2="43.6" y2="826.85" stroke="#333" stroke-width="1.0"/>
<text x="37.0" y="831.65" font-size="14" text-anchor="end" textLength="7.6" lengthAdjust="spacingAndGlyphs">0</text>
<line x1="40.1" y1="805.82" x2="43.6" y2="805.82" stroke="#333" stroke-width="1.0"/>
<text x="37.0" y="810.62" font-size="14" text-anchor="end" textLength="7.6" lengthAdjust="spacingAndGlyphs">2</text>
<line x1="40.1" y1="784.79" x2="43.6" y2="784.79" stroke="#333" stroke-width="1.0"/>
<text x="37.0" y="789.59" font-size="14" text-anchor="end" textLength="7.6" lengthAdjust="spacingAndGlyphs">4</text>
<line x1="40.1" y1="763.76" x2="43.6" y2="763.76" stroke="#333" stroke-width="1.0"/>
<text x="37.0" y="768.56" font-size="14" text-anchor="end" textLength="7.6" lengthAdjust="spacingAndGlyphs">6</text>
<line x1="52.67" y1="895.2" x2="52.67" y2="898.7" stroke="#333" stroke-width="1.0"/>
<text x="52.67" y="912.0" font-size="14" text-anchor="middle" textLength="7.8" lengthAdjust="spacingAndGlyphs">0</text>
<line x1="98.04" y1="895.2" x2="98.04" y2="898.7" stroke="#333" stroke-width="1.0"/>
<text x="98.04" y="912.0" font-size="14" text-anchor="middle" textLength="15.6" lengthAdjust="spacingAndGlyphs">10</text>
<line x1="143.41" y1="895.2" x2="143.41" y2="898.7" stroke="#333" stroke-width="1.0"/>
<text x="143.41" y="912.0" font-size="14" text-anchor="middle" textLength="15.6" lengthAdjust="spacingAndGlyphs">20</text>
<text transform="translate(10.9,826.9) rotate(-90)" font-size="15.2" text-anchor="middle" textLength="144.5" lengthAdjust="spacingAndGlyphs">Residuals [log CFU]</text>
<text x="113.0" y="929.8" font-size="15.2" text-anchor="middle" textLength="131" lengthAdjust="spacingAndGlyphs">Temperature [°C]</text>
<g fill="none" stroke="#696969" stroke-width="1.1">
<circle r="2.6" cx="350.9" cy="825.3"/>
<circle r="2.6" cx="350.6" cy="826.6"/>
<circle r="2.6" cx="350.9" cy="827.5"/>
<circle r="2.6" cx="350.8" cy="828.7"/>
<circle r="2.6" cx="351.0" cy="829.8"/>
<circle r="2.6" cx="350.9" cy="830.8"/>
<circle r="2.6" cx="350.8" cy="831.6"/>
<circle r="2.6" cx="350.7" cy="832.9"/>
<circle r="2.6" cx="350.6" cy="834.0"/>
<circle r="2.6" cx="350.7" cy="835.1"/>
<circle r="2.6" cx="350.7" cy="835.8"/>
<circle r="2.6" cx="350.7" cy="837.3"/>
<circle r="2.6" cx="350.8" cy="838.2"/>
<circle r="2.6" cx="350.8" cy="839.0"/>
<circle r="2.6" cx="350.9" cy="840.3"/>
<circle r="2.6" cx="350.6" cy="841.3"/>
<circle r="2.6" cx="350.9" cy="842.7"/>
<circle r="2.6" cx="350.6" cy="843.6"/>
<circle r="2.6" cx="354.8" cy="826.5"/>
<circle r="2.6" cx="354.9" cy="827.8"/>
<circle r="2.6" cx="355.0" cy="828.6"/>
<circle r="2.6" cx="355.1" cy="830.1"/>
<circle r="2.6" cx="355.0" cy="830.7"/>
<circle r="2.6" cx="355.1" cy="832.4"/>
<circle r="2.6" cx="355.1" cy="833.3"/>
<circle r="2.6" cx="354.8" cy="834.5"/>
<circle r="2.6" cx="354.8" cy="835.7"/>
<circle r="2.6" cx="354.9" cy="836.6"/>
<circle r="2.6" cx="354.8" cy="837.5"/>
<circle r="2.6" cx="355.1" cy="838.9"/>
<circle r="2.6" cx="354.9" cy="840.0"/>
<circle r="2.6" cx="346.3" cy="820.9"/>
<circle r="2.6" cx="346.3" cy="825.6"/>
<circle r="2.6" cx="346.3" cy="831.7"/>
</g>
<line x1="232.5" y1="827.25" x2="368.6" y2="827.25" stroke="#111" stroke-width="1.6"/>
<rect x="232.5" y="758.5" width="136.1" height="136.7" fill="none" stroke="#1a1a1a" stroke-width="1.05"/>
<line x1="229.0" y1="889.94" x2="232.5" y2="889.94" stroke="#333" stroke-width="1.0"/>
<text x="225.9" y="894.74" font-size="14" text-anchor="end" textLength="7.6" lengthAdjust="spacingAndGlyphs">6</text>
<rect x="208.1" y="890.39" width="8.3" height="1.05" fill="#000"/>
<line x1="229.0" y1="868.91" x2="232.5" y2="868.91" stroke="#333" stroke-width="1.0"/>
<text x="225.9" y="873.71" font-size="14" text-anchor="end" textLength="7.6" lengthAdjust="spacingAndGlyphs">4</text>
<rect x="208.1" y="869.36" width="8.3" height="1.05" fill="#000"/>
<line x1="229.0" y1="847.88" x2="232.5" y2="847.88" stroke="#333" stroke-width="1.0"/>
<text x="225.9" y="852.68" font-size="14" text-anchor="end" textLength="7.6" lengthAdjust="spacingAndGlyphs">2</text>
<rect x="208.1" y="848.33" width="8.3" height="1.05" fill="#000"/>
<line x1="229.0" y1="826.85" x2="232.5" y2="826.85" stroke="#333" stroke-width="1.0"/>
<text x="225.9" y="831.65" font-size="14" text-anchor="end" textLength="7.6" lengthAdjust="spacingAndGlyphs">0</text>
<line x1="229.0" y1="805.82" x2="232.5" y2="805.82" stroke="#333" stroke-width="1.0"/>
<text x="225.9" y="810.62" font-size="14" text-anchor="end" textLength="7.6" lengthAdjust="spacingAndGlyphs">2</text>
<line x1="229.0" y1="784.79" x2="232.5" y2="784.79" stroke="#333" stroke-width="1.0"/>
<text x="225.9" y="789.59" font-size="14" text-anchor="end" textLength="7.6" lengthAdjust="spacingAndGlyphs">4</text>
<line x1="229.0" y1="763.76" x2="232.5" y2="763.76" stroke="#333" stroke-width="1.0"/>
<text x="225.9" y="768.56" font-size="14" text-anchor="end" textLength="7.6" lengthAdjust="spacingAndGlyphs">6</text>
<line x1="267.62" y1="895.2" x2="267.62" y2="898.7" stroke="#333" stroke-width="1.0"/>
<text x="267.62" y="912.0" font-size="14" text-anchor="middle" textLength="21.0" lengthAdjust="spacingAndGlyphs">0.8</text>
<line x1="311.53" y1="895.2" x2="311.53" y2="898.7" stroke="#333" stroke-width="1.0"/>
<text x="311.53" y="912.0" font-size="14" text-anchor="middle" textLength="21.0" lengthAdjust="spacingAndGlyphs">0.9</text>
<line x1="355.43" y1="895.2" x2="355.43" y2="898.7" stroke="#333" stroke-width="1.0"/>
<text x="355.43" y="912.0" font-size="14" text-anchor="middle" textLength="21.0" lengthAdjust="spacingAndGlyphs">1.0</text>
<text transform="translate(199.8,826.9) rotate(-90)" font-size="15.2" text-anchor="middle" textLength="144.5" lengthAdjust="spacingAndGlyphs">Residuals [log CFU]</text>
<text x="300.1" y="929.8" font-size="15.2" text-anchor="middle" textLength="39.5" lengthAdjust="spacingAndGlyphs"><tspan font-style="italic">a</tspan><tspan font-style="italic" font-size="10.6" dy="2.6">w</tspan><tspan dy="-2.6"> [-]</tspan></text>
<g fill="none" stroke="#4682b4" stroke-width="1.1">
<circle r="2.6" cx="460.1" cy="797.0"/>
<circle r="2.6" cx="460.2" cy="798.3"/>
<circle r="2.6" cx="460.2" cy="799.3"/>
<circle r="2.6" cx="460.3" cy="800.2"/>
<circle r="2.6" cx="460.0" cy="801.3"/>
<circle r="2.6" cx="460.1" cy="802.8"/>
<circle r="2.6" cx="460.1" cy="803.8"/>
<circle r="2.6" cx="460.0" cy="804.6"/>
<circle r="2.6" cx="460.1" cy="805.8"/>
<circle r="2.6" cx="459.9" cy="806.9"/>
<circle r="2.6" cx="460.2" cy="807.9"/>
<circle r="2.6" cx="460.0" cy="809.2"/>
<circle r="2.6" cx="460.0" cy="810.5"/>
<circle r="2.6" cx="460.3" cy="811.6"/>
<circle r="2.6" cx="460.1" cy="812.5"/>
<circle r="2.6" cx="460.2" cy="813.9"/>
<circle r="2.6" cx="460.1" cy="814.5"/>
<circle r="2.6" cx="460.2" cy="816.0"/>
<circle r="2.6" cx="460.0" cy="817.1"/>
<circle r="2.6" cx="460.2" cy="818.3"/>
<circle r="2.6" cx="460.2" cy="819.1"/>
<circle r="2.6" cx="460.0" cy="820.2"/>
<circle r="2.6" cx="460.3" cy="821.4"/>
<circle r="2.6" cx="460.3" cy="822.6"/>
<circle r="2.6" cx="460.2" cy="823.9"/>
<circle r="2.6" cx="460.1" cy="825.0"/>
<circle r="2.6" cx="460.0" cy="825.7"/>
<circle r="2.6" cx="460.0" cy="826.8"/>
<circle r="2.6" cx="459.9" cy="828.0"/>
<circle r="2.6" cx="460.1" cy="829.2"/>
<circle r="2.6" cx="460.0" cy="830.2"/>
<circle r="2.6" cx="460.2" cy="831.6"/>
<circle r="2.6" cx="460.2" cy="832.6"/>
<circle r="2.6" cx="460.0" cy="833.3"/>
<circle r="2.6" cx="460.2" cy="834.8"/>
<circle r="2.6" cx="460.1" cy="835.6"/>
<circle r="2.6" cx="460.3" cy="837.0"/>
<circle r="2.6" cx="459.9" cy="838.0"/>
<circle r="2.6" cx="478.0" cy="822.4"/>
<circle r="2.6" cx="478.1" cy="823.5"/>
<circle r="2.6" cx="478.0" cy="824.3"/>
<circle r="2.6" cx="478.1" cy="825.9"/>
<circle r="2.6" cx="477.9" cy="826.6"/>
<circle r="2.6" cx="477.9" cy="828.1"/>
<circle r="2.6" cx="477.8" cy="828.9"/>
<circle r="2.6" cx="477.9" cy="830.0"/>
<circle r="2.6" cx="488.1" cy="808.3"/>
<circle r="2.6" cx="488.5" cy="809.3"/>
<circle r="2.6" cx="488.1" cy="810.7"/>
<circle r="2.6" cx="488.5" cy="811.7"/>
<circle r="2.6" cx="488.2" cy="812.5"/>
<circle r="2.6" cx="488.2" cy="813.8"/>
<circle r="2.6" cx="488.4" cy="814.9"/>
<circle r="2.6" cx="488.5" cy="815.9"/>
<circle r="2.6" cx="488.2" cy="817.3"/>
<circle r="2.6" cx="488.1" cy="818.2"/>
<circle r="2.6" cx="488.1" cy="819.3"/>
<circle r="2.6" cx="488.4" cy="820.2"/>
<circle r="2.6" cx="488.2" cy="821.5"/>
<circle r="2.6" cx="488.5" cy="822.3"/>
<circle r="2.6" cx="488.2" cy="823.6"/>
<circle r="2.6" cx="488.4" cy="824.9"/>
<circle r="2.6" cx="488.3" cy="825.8"/>
<circle r="2.6" cx="488.1" cy="827.0"/>
<circle r="2.6" cx="488.4" cy="827.7"/>
<circle r="2.6" cx="488.3" cy="829.0"/>
<circle r="2.6" cx="452.3" cy="799.5"/>
<circle r="2.6" cx="452.3" cy="801.6"/>
<circle r="2.6" cx="452.3" cy="803.8"/>
<circle r="2.6" cx="452.3" cy="805.9"/>
<circle r="2.6" cx="452.3" cy="808.0"/>
<circle r="2.6" cx="452.3" cy="810.2"/>
<circle r="2.6" cx="452.3" cy="812.3"/>
<circle r="2.6" cx="452.3" cy="814.4"/>
<circle r="2.6" cx="452.3" cy="816.5"/>
<circle r="2.6" cx="452.3" cy="818.7"/>
<circle r="2.6" cx="452.3" cy="820.8"/>
<circle r="2.6" cx="452.3" cy="822.9"/>
<circle r="2.6" cx="452.3" cy="825.1"/>
<circle r="2.6" cx="452.3" cy="827.2"/>
<circle r="2.6" cx="460.1" cy="791.8"/>
<circle r="2.6" cx="488.3" cy="830.3"/>
</g>
<g fill="none" stroke="#696969" stroke-width="1.1">
<circle r="2.6" cx="518.9" cy="826.0"/>
<circle r="2.6" cx="518.9" cy="826.8"/>
<circle r="2.6" cx="518.8" cy="828.4"/>
<circle r="2.6" cx="518.9" cy="829.4"/>
<circle r="2.6" cx="518.9" cy="830.3"/>
<circle r="2.6" cx="519.2" cy="831.8"/>
<circle r="2.6" cx="519.2" cy="832.6"/>
<circle r="2.6" cx="519.2" cy="833.7"/>
<circle r="2.6" cx="518.9" cy="835.1"/>
<circle r="2.6" cx="518.9" cy="836.0"/>
<circle r="2.6" cx="518.9" cy="837.1"/>
<circle r="2.6" cx="519.2" cy="838.3"/>
<circle r="2.6" cx="519.1" cy="839.0"/>
<circle r="2.6" cx="518.8" cy="840.0"/>
<circle r="2.6" cx="519.0" cy="841.2"/>
<circle r="2.6" cx="518.8" cy="842.7"/>
<circle r="2.6" cx="519.2" cy="843.6"/>
<circle r="2.6" cx="516.3" cy="820.2"/>
<circle r="2.6" cx="516.3" cy="831.2"/>
</g>
<line x1="421.6" y1="827.25" x2="557.7" y2="827.25" stroke="#111" stroke-width="1.6"/>
<rect x="421.6" y="758.5" width="136.1" height="136.7" fill="none" stroke="#1a1a1a" stroke-width="1.05"/>
<line x1="418.1" y1="889.94" x2="421.6" y2="889.94" stroke="#333" stroke-width="1.0"/>
<text x="415.0" y="894.74" font-size="14" text-anchor="end" textLength="7.6" lengthAdjust="spacingAndGlyphs">6</text>
<rect x="397.2" y="890.39" width="8.3" height="1.05" fill="#000"/>
<line x1="418.1" y1="868.91" x2="421.6" y2="868.91" stroke="#333" stroke-width="1.0"/>
<text x="415.0" y="873.71" font-size="14" text-anchor="end" textLength="7.6" lengthAdjust="spacingAndGlyphs">4</text>
<rect x="397.2" y="869.36" width="8.3" height="1.05" fill="#000"/>
<line x1="418.1" y1="847.88" x2="421.6" y2="847.88" stroke="#333" stroke-width="1.0"/>
<text x="415.0" y="852.68" font-size="14" text-anchor="end" textLength="7.6" lengthAdjust="spacingAndGlyphs">2</text>
<rect x="397.2" y="848.33" width="8.3" height="1.05" fill="#000"/>
<line x1="418.1" y1="826.85" x2="421.6" y2="826.85" stroke="#333" stroke-width="1.0"/>
<text x="415.0" y="831.65" font-size="14" text-anchor="end" textLength="7.6" lengthAdjust="spacingAndGlyphs">0</text>
<line x1="418.1" y1="805.82" x2="421.6" y2="805.82" stroke="#333" stroke-width="1.0"/>
<text x="415.0" y="810.62" font-size="14" text-anchor="end" textLength="7.6" lengthAdjust="spacingAndGlyphs">2</text>
<line x1="418.1" y1="784.79" x2="421.6" y2="784.79" stroke="#333" stroke-width="1.0"/>
<text x="415.0" y="789.59" font-size="14" text-anchor="end" textLength="7.6" lengthAdjust="spacingAndGlyphs">4</text>
<line x1="418.1" y1="763.76" x2="421.6" y2="763.76" stroke="#333" stroke-width="1.0"/>
<text x="415.0" y="768.56" font-size="14" text-anchor="end" textLength="7.6" lengthAdjust="spacingAndGlyphs">6</text>
<line x1="434.44" y1="895.2" x2="434.44" y2="898.7" stroke="#333" stroke-width="1.0"/>
<text x="434.44" y="912.0" font-size="14" text-anchor="middle" textLength="7.8" lengthAdjust="spacingAndGlyphs">3</text>
<line x1="485.80" y1="895.2" x2="485.80" y2="898.7" stroke="#333" stroke-width="1.0"/>
<text x="485.80" y="912.0" font-size="14" text-anchor="middle" textLength="7.8" lengthAdjust="spacingAndGlyphs">5</text>
<line x1="537.16" y1="895.2" x2="537.16" y2="898.7" stroke="#333" stroke-width="1.0"/>
<text x="537.16" y="912.0" font-size="14" text-anchor="middle" textLength="7.8" lengthAdjust="spacingAndGlyphs">7</text>
<text transform="translate(388.9,826.9) rotate(-90)" font-size="15.2" text-anchor="middle" textLength="144.5" lengthAdjust="spacingAndGlyphs">Residuals [log CFU]</text>
<text x="489.7" y="929.8" font-size="15.2" text-anchor="middle" textLength="41.2" lengthAdjust="spacingAndGlyphs">pH [-]</text>
<g fill="none" stroke="#4682b4" stroke-width="1.1">
<circle r="2.6" cx="637.7" cy="791.9"/>
<circle r="2.6" cx="635.4" cy="800.0"/>
<circle r="2.6" cx="637.6" cy="800.5"/>
<circle r="2.6" cx="634.7" cy="801.8"/>
<circle r="2.6" cx="636.7" cy="802.0"/>
<circle r="2.6" cx="633.3" cy="803.9"/>
<circle r="2.6" cx="636.1" cy="804.8"/>
<circle r="2.6" cx="638.0" cy="804.3"/>
<circle r="2.6" cx="631.9" cy="806.0"/>
<circle r="2.6" cx="634.4" cy="806.2"/>
<circle r="2.6" cx="637.2" cy="806.1"/>
<circle r="2.6" cx="633.0" cy="809.0"/>
<circle r="2.6" cx="635.8" cy="808.1"/>
<circle r="2.6" cx="638.1" cy="808.0"/>
<circle r="2.6" cx="632.3" cy="811.1"/>
<circle r="2.6" cx="635.0" cy="810.8"/>
<circle r="2.6" cx="636.7" cy="810.5"/>
<circle r="2.6" cx="633.1" cy="813.0"/>
<circle r="2.6" cx="635.8" cy="813.0"/>
<circle r="2.6" cx="637.9" cy="812.4"/>
<circle r="2.6" cx="632.6" cy="815.3"/>
<circle r="2.6" cx="635.0" cy="815.1"/>
<circle r="2.6" cx="637.2" cy="815.0"/>
<circle r="2.6" cx="633.2" cy="816.9"/>
<circle r="2.6" cx="635.6" cy="816.4"/>
<circle r="2.6" cx="637.6" cy="816.7"/>
<circle r="2.6" cx="632.1" cy="819.2"/>
<circle r="2.6" cx="635.1" cy="818.9"/>
<circle r="2.6" cx="637.3" cy="819.5"/>
<circle r="2.6" cx="633.9" cy="821.0"/>
<circle r="2.6" cx="635.5" cy="820.8"/>
<circle r="2.6" cx="637.7" cy="820.8"/>
<circle r="2.6" cx="632.4" cy="823.6"/>
<circle r="2.6" cx="634.9" cy="823.2"/>
<circle r="2.6" cx="637.1" cy="823.5"/>
<circle r="2.6" cx="633.0" cy="825.5"/>
<circle r="2.6" cx="636.2" cy="825.6"/>
<circle r="2.6" cx="638.3" cy="825.3"/>
<circle r="2.6" cx="632.0" cy="827.7"/>
<circle r="2.6" cx="634.4" cy="827.7"/>
<circle r="2.6" cx="637.4" cy="827.3"/>
<circle r="2.6" cx="633.4" cy="829.9"/>
<circle r="2.6" cx="636.0" cy="829.2"/>
<circle r="2.6" cx="637.7" cy="829.2"/>
<circle r="2.6" cx="635.0" cy="831.9"/>
<circle r="2.6" cx="636.5" cy="831.9"/>
<circle r="2.6" cx="636.2" cy="833.9"/>
<circle r="2.6" cx="636.8" cy="835.8"/>
<circle r="2.6" cx="645.2" cy="810.5"/>
<circle r="2.6" cx="645.2" cy="813.3"/>
<circle r="2.6" cx="645.2" cy="817.1"/>
<circle r="2.6" cx="645.2" cy="819.6"/>
<circle r="2.6" cx="645.2" cy="822.7"/>
<circle r="2.6" cx="645.2" cy="826.0"/>
<circle r="2.6" cx="645.2" cy="832.1"/>
<circle r="2.6" cx="651.6" cy="812.7"/>
<circle r="2.6" cx="651.6" cy="815.5"/>
<circle r="2.6" cx="651.6" cy="818.8"/>
<circle r="2.6" cx="651.6" cy="821.5"/>
<circle r="2.6" cx="651.6" cy="830.4"/>
<circle r="2.6" cx="659.6" cy="814.9"/>
<circle r="2.6" cx="659.6" cy="817.1"/>
<circle r="2.6" cx="659.6" cy="820.5"/>
<circle r="2.6" cx="659.6" cy="823.2"/>
<circle r="2.6" cx="659.6" cy="828.8"/>
</g>
<g fill="none" stroke="#696969" stroke-width="1.1">
<circle r="2.6" cx="654.4" cy="821.9"/>
<circle r="2.6" cx="654.5" cy="822.8"/>
<circle r="2.6" cx="654.4" cy="824.2"/>
<circle r="2.6" cx="654.6" cy="825.1"/>
<circle r="2.6" cx="654.2" cy="826.4"/>
<circle r="2.6" cx="654.6" cy="827.3"/>
<circle r="2.6" cx="654.2" cy="828.6"/>
<circle r="2.6" cx="654.5" cy="829.7"/>
<circle r="2.6" cx="654.3" cy="830.7"/>
<circle r="2.6" cx="654.5" cy="831.9"/>
<circle r="2.6" cx="654.4" cy="832.5"/>
<circle r="2.6" cx="654.5" cy="833.4"/>
<circle r="2.6" cx="654.3" cy="834.8"/>
<circle r="2.6" cx="654.6" cy="835.9"/>
<circle r="2.6" cx="654.4" cy="836.8"/>
<circle r="2.6" cx="654.6" cy="837.9"/>
<circle r="2.6" cx="654.6" cy="838.9"/>
<circle r="2.6" cx="654.6" cy="840.3"/>
<circle r="2.6" cx="654.3" cy="841.1"/>
<circle r="2.6" cx="654.5" cy="842.2"/>
<circle r="2.6" cx="654.2" cy="843.4"/>
<circle r="2.6" cx="685.5" cy="825.7"/>
<circle r="2.6" cx="685.5" cy="828.5"/>
<circle r="2.6" cx="685.5" cy="831.2"/>
<circle r="2.6" cx="685.5" cy="834.0"/>
<circle r="2.6" cx="685.5" cy="837.6"/>
<circle r="2.6" cx="685.5" cy="840.3"/>
<circle r="2.6" cx="687.0" cy="840.3"/>
</g>
<line x1="610.6" y1="827.25" x2="746.7" y2="827.25" stroke="#111" stroke-width="1.6"/>
<rect x="610.6" y="758.5" width="136.1" height="136.7" fill="none" stroke="#1a1a1a" stroke-width="1.05"/>
<line x1="607.1" y1="889.94" x2="610.6" y2="889.94" stroke="#333" stroke-width="1.0"/>
<text x="604.0" y="894.74" font-size="14" text-anchor="end" textLength="7.6" lengthAdjust="spacingAndGlyphs">6</text>
<rect x="586.2" y="890.39" width="8.3" height="1.05" fill="#000"/>
<line x1="607.1" y1="868.91" x2="610.6" y2="868.91" stroke="#333" stroke-width="1.0"/>
<text x="604.0" y="873.71" font-size="14" text-anchor="end" textLength="7.6" lengthAdjust="spacingAndGlyphs">4</text>
<rect x="586.2" y="869.36" width="8.3" height="1.05" fill="#000"/>
<line x1="607.1" y1="847.88" x2="610.6" y2="847.88" stroke="#333" stroke-width="1.0"/>
<text x="604.0" y="852.68" font-size="14" text-anchor="end" textLength="7.6" lengthAdjust="spacingAndGlyphs">2</text>
<rect x="586.2" y="848.33" width="8.3" height="1.05" fill="#000"/>
<line x1="607.1" y1="826.85" x2="610.6" y2="826.85" stroke="#333" stroke-width="1.0"/>
<text x="604.0" y="831.65" font-size="14" text-anchor="end" textLength="7.6" lengthAdjust="spacingAndGlyphs">0</text>
<line x1="607.1" y1="805.82" x2="610.6" y2="805.82" stroke="#333" stroke-width="1.0"/>
<text x="604.0" y="810.62" font-size="14" text-anchor="end" textLength="7.6" lengthAdjust="spacingAndGlyphs">2</text>
<line x1="607.1" y1="784.79" x2="610.6" y2="784.79" stroke="#333" stroke-width="1.0"/>
<text x="604.0" y="789.59" font-size="14" text-anchor="end" textLength="7.6" lengthAdjust="spacingAndGlyphs">4</text>
<line x1="607.1" y1="763.76" x2="610.6" y2="763.76" stroke="#333" stroke-width="1.0"/>
<text x="604.0" y="768.56" font-size="14" text-anchor="end" textLength="7.6" lengthAdjust="spacingAndGlyphs">6</text>
<line x1="616.79" y1="895.2" x2="616.79" y2="898.7" stroke="#333" stroke-width="1.0"/>
<text x="616.79" y="912.0" font-size="14" text-anchor="middle" textLength="7.8" lengthAdjust="spacingAndGlyphs">0</text>
<line x1="678.65" y1="895.2" x2="678.65" y2="898.7" stroke="#333" stroke-width="1.0"/>
<text x="678.65" y="912.0" font-size="14" text-anchor="middle" textLength="7.8" lengthAdjust="spacingAndGlyphs">5</text>
<line x1="740.51" y1="895.2" x2="740.51" y2="898.7" stroke="#333" stroke-width="1.0"/>
<text x="740.51" y="912.0" font-size="14" text-anchor="middle" textLength="15.6" lengthAdjust="spacingAndGlyphs">10</text>
<text transform="translate(577.9,826.9) rotate(-90)" font-size="15.2" text-anchor="middle" textLength="144.5" lengthAdjust="spacingAndGlyphs">Residuals [log CFU]</text>
<text x="678.7" y="929.8" font-size="15.2" text-anchor="middle" textLength="118.5" lengthAdjust="spacingAndGlyphs">log <tspan font-style="italic">N</tspan><tspan font-size="10.6" dy="2.6">0</tspan><tspan dy="-2.6"> [log CFU]</tspan></text>
<g fill="none" stroke="#4682b4" stroke-width="1.1">
<circle r="2.6" cx="84.2" cy="1066.4"/>
<circle r="2.6" cx="84.6" cy="1067.7"/>
<circle r="2.6" cx="84.5" cy="1068.8"/>
<circle r="2.6" cx="84.3" cy="1069.5"/>
<circle r="2.6" cx="84.6" cy="1070.7"/>
<circle r="2.6" cx="143.0" cy="1032.7"/>
<circle r="2.6" cx="143.4" cy="1033.6"/>
<circle r="2.6" cx="143.1" cy="1035.1"/>
<circle r="2.6" cx="143.4" cy="1035.8"/>
<circle r="2.6" cx="143.3" cy="1036.9"/>
<circle r="2.6" cx="143.0" cy="1038.4"/>
<circle r="2.6" cx="143.2" cy="1039.0"/>
<circle r="2.6" cx="143.1" cy="1040.3"/>
<circle r="2.6" cx="143.4" cy="1055.7"/>
<circle r="2.6" cx="143.4" cy="1056.8"/>
<circle r="2.6" cx="143.1" cy="1058.1"/>
<circle r="2.6" cx="143.2" cy="1058.9"/>
<circle r="2.6" cx="143.4" cy="1060.2"/>
<circle r="2.6" cx="143.1" cy="1061.2"/>
<circle r="2.6" cx="143.3" cy="1062.3"/>
<circle r="2.6" cx="143.2" cy="1063.7"/>
<circle r="2.6" cx="143.3" cy="1064.5"/>
<circle r="2.6" cx="143.4" cy="1065.8"/>
<circle r="2.6" cx="143.1" cy="1066.8"/>
<circle r="2.6" cx="143.0" cy="1068.3"/>
<circle r="2.6" cx="143.3" cy="1069.4"/>
<circle r="2.6" cx="143.3" cy="1070.3"/>
<circle r="2.6" cx="143.2" cy="1085.3"/>
<circle r="2.6" cx="143.1" cy="1086.3"/>
<circle r="2.6" cx="143.0" cy="1087.6"/>
<circle r="2.6" cx="143.4" cy="1089.0"/>
<circle r="2.6" cx="143.4" cy="1089.8"/>
<circle r="2.6" cx="143.4" cy="1091.0"/>
<circle r="2.6" cx="84.4" cy="1077.4"/>
<circle r="2.6" cx="84.4" cy="1084.8"/>
<circle r="2.6" cx="143.2" cy="1049.6"/>
<circle r="2.6" cx="143.2" cy="1099.1"/>
<circle r="2.6" cx="143.2" cy="1106.4"/>
</g>
<g fill="none" stroke="#696969" stroke-width="1.1">
<circle r="2.6" cx="75.6" cy="1050.3"/>
<circle r="2.6" cx="75.2" cy="1051.7"/>
<circle r="2.6" cx="75.6" cy="1052.7"/>
<circle r="2.6" cx="75.5" cy="1053.9"/>
<circle r="2.6" cx="75.5" cy="1054.6"/>
<circle r="2.6" cx="75.3" cy="1055.9"/>
<circle r="2.6" cx="75.6" cy="1056.8"/>
<circle r="2.6" cx="75.2" cy="1058.2"/>
<circle r="2.6" cx="75.3" cy="1059.2"/>
<circle r="2.6" cx="75.5" cy="1060.6"/>
<circle r="2.6" cx="75.3" cy="1061.3"/>
<circle r="2.6" cx="75.4" cy="1062.8"/>
<circle r="2.6" cx="75.4" cy="1063.7"/>
<circle r="2.6" cx="75.2" cy="1064.6"/>
<circle r="2.6" cx="75.3" cy="1065.9"/>
<circle r="2.6" cx="75.4" cy="1067.2"/>
<circle r="2.6" cx="75.6" cy="1068.0"/>
<circle r="2.6" cx="75.6" cy="1069.3"/>
<circle r="2.6" cx="75.5" cy="1070.5"/>
<circle r="2.6" cx="75.3" cy="1071.6"/>
<circle r="2.6" cx="75.3" cy="1072.6"/>
<circle r="2.6" cx="75.4" cy="1073.9"/>
<circle r="2.6" cx="75.5" cy="1074.7"/>
<circle r="2.6" cx="75.2" cy="1075.6"/>
<circle r="2.6" cx="75.2" cy="1077.2"/>
<circle r="2.6" cx="75.3" cy="1078.2"/>
<circle r="2.6" cx="75.3" cy="1079.2"/>
<circle r="2.6" cx="75.2" cy="1080.4"/>
<circle r="2.6" cx="75.6" cy="1081.3"/>
<circle r="2.6" cx="75.4" cy="1082.7"/>
<circle r="2.6" cx="75.2" cy="1083.5"/>
<circle r="2.6" cx="75.6" cy="1084.6"/>
<circle r="2.6" cx="75.3" cy="1086.2"/>
<circle r="2.6" cx="75.4" cy="1087.1"/>
<circle r="2.6" cx="75.4" cy="1088.3"/>
<circle r="2.6" cx="75.2" cy="1089.5"/>
<circle r="2.6" cx="75.3" cy="1090.5"/>
<circle r="2.6" cx="75.3" cy="1091.8"/>
<circle r="2.6" cx="75.4" cy="1092.4"/>
<circle r="2.6" cx="75.4" cy="1093.7"/>
<circle r="2.6" cx="165.5" cy="1053.4"/>
<circle r="2.6" cx="165.6" cy="1054.3"/>
<circle r="2.6" cx="165.7" cy="1055.7"/>
<circle r="2.6" cx="165.5" cy="1056.8"/>
<circle r="2.6" cx="165.5" cy="1057.8"/>
<circle r="2.6" cx="165.5" cy="1058.5"/>
<circle r="2.6" cx="165.9" cy="1059.7"/>
<circle r="2.6" cx="165.7" cy="1061.3"/>
<circle r="2.6" cx="165.6" cy="1062.0"/>
<circle r="2.6" cx="165.8" cy="1063.4"/>
<circle r="2.6" cx="165.8" cy="1064.3"/>
<circle r="2.6" cx="165.9" cy="1065.4"/>
<circle r="2.6" cx="165.8" cy="1066.3"/>
<circle r="2.6" cx="165.9" cy="1067.3"/>
<circle r="2.6" cx="165.9" cy="1068.8"/>
<circle r="2.6" cx="165.8" cy="1069.5"/>
<circle r="2.6" cx="165.7" cy="1070.7"/>
<circle r="2.6" cx="165.6" cy="1072.0"/>
<circle r="2.6" cx="165.5" cy="1073.3"/>
<circle r="2.6" cx="165.5" cy="1074.0"/>
<circle r="2.6" cx="165.8" cy="1075.4"/>
<circle r="2.6" cx="165.7" cy="1076.3"/>
<circle r="2.6" cx="165.5" cy="1077.2"/>
<circle r="2.6" cx="165.6" cy="1078.4"/>
<circle r="2.6" cx="165.8" cy="1079.5"/>
<circle r="2.6" cx="165.6" cy="1080.5"/>
<circle r="2.6" cx="165.8" cy="1081.5"/>
<circle r="2.6" cx="165.5" cy="1083.1"/>
<circle r="2.6" cx="165.5" cy="1083.7"/>
<circle r="2.6" cx="165.7" cy="1084.9"/>
<circle r="2.6" cx="165.5" cy="1086.3"/>
<circle r="2.6" cx="165.9" cy="1087.0"/>
<circle r="2.6" cx="165.9" cy="1088.0"/>
<circle r="2.6" cx="165.8" cy="1089.6"/>
<circle r="2.6" cx="165.7" cy="1090.2"/>
<circle r="2.6" cx="165.7" cy="1091.7"/>
<circle r="2.6" cx="165.8" cy="1092.4"/>
<circle r="2.6" cx="165.8" cy="1093.8"/>
<circle r="2.6" cx="165.5" cy="1094.6"/>
<circle r="2.6" cx="165.8" cy="1095.7"/>
<circle r="2.6" cx="165.9" cy="1096.9"/>
<circle r="2.6" cx="165.9" cy="1097.9"/>
<circle r="2.6" cx="165.6" cy="1098.8"/>
<circle r="2.6" cx="165.5" cy="1100.2"/>
<circle r="2.6" cx="165.7" cy="1040.7"/>
<circle r="2.6" cx="165.7" cy="1045.7"/>
<circle r="2.6" cx="165.7" cy="1100.7"/>
</g>
<line x1="43.6" y1="1067.25" x2="179.7" y2="1067.25" stroke="#111" stroke-width="1.6"/>
<rect x="43.6" y="998.5" width="136.1" height="136.7" fill="none" stroke="#1a1a1a" stroke-width="1.05"/>
<line x1="40.1" y1="1129.94" x2="43.6" y2="1129.94" stroke="#333" stroke-width="1.0"/>
<text x="37.0" y="1134.74" font-size="14" text-anchor="end" textLength="7.6" lengthAdjust="spacingAndGlyphs">6</text>
<rect x="19.2" y="1130.39" width="8.3" height="1.05" fill="#000"/>
<line x1="40.1" y1="1108.91" x2="43.6" y2="1108.91" stroke="#333" stroke-width="1.0"/>
<text x="37.0" y="1113.71" font-size="14" text-anchor="end" textLength="7.6" lengthAdjust="spacingAndGlyphs">4</text>
<rect x="19.2" y="1109.36" width="8.3" height="1.05" fill="#000"/>
<line x1="40.1" y1="1087.88" x2="43.6" y2="1087.88" stroke="#333" stroke-width="1.0"/>
<text x="37.0" y="1092.68" font-size="14" text-anchor="end" textLength="7.6" lengthAdjust="spacingAndGlyphs">2</text>
<rect x="19.2" y="1088.33" width="8.3" height="1.05" fill="#000"/>
<line x1="40.1" y1="1066.85" x2="43.6" y2="1066.85" stroke="#333" stroke-width="1.0"/>
<text x="37.0" y="1071.65" font-size="14" text-anchor="end" textLength="7.6" lengthAdjust="spacingAndGlyphs">0</text>
<line x1="40.1" y1="1045.82" x2="43.6" y2="1045.82" stroke="#333" stroke-width="1.0"/>
<text x="37.0" y="1050.62" font-size="14" text-anchor="end" textLength="7.6" lengthAdjust="spacingAndGlyphs">2</text>
<line x1="40.1" y1="1024.79" x2="43.6" y2="1024.79" stroke="#333" stroke-width="1.0"/>
<text x="37.0" y="1029.59" font-size="14" text-anchor="end" textLength="7.6" lengthAdjust="spacingAndGlyphs">4</text>
<line x1="40.1" y1="1003.76" x2="43.6" y2="1003.76" stroke="#333" stroke-width="1.0"/>
<text x="37.0" y="1008.56" font-size="14" text-anchor="end" textLength="7.6" lengthAdjust="spacingAndGlyphs">6</text>
<line x1="52.67" y1="1135.2" x2="52.67" y2="1138.7" stroke="#333" stroke-width="1.0"/>
<text x="52.67" y="1152.0" font-size="14" text-anchor="middle" textLength="7.8" lengthAdjust="spacingAndGlyphs">0</text>
<line x1="98.04" y1="1135.2" x2="98.04" y2="1138.7" stroke="#333" stroke-width="1.0"/>
<text x="98.04" y="1152.0" font-size="14" text-anchor="middle" textLength="15.6" lengthAdjust="spacingAndGlyphs">10</text>
<line x1="143.41" y1="1135.2" x2="143.41" y2="1138.7" stroke="#333" stroke-width="1.0"/>
<text x="143.41" y="1152.0" font-size="14" text-anchor="middle" textLength="15.6" lengthAdjust="spacingAndGlyphs">20</text>
<text transform="translate(10.9,1066.8) rotate(-90)" font-size="15.2" text-anchor="middle" textLength="144.5" lengthAdjust="spacingAndGlyphs">Residuals [log CFU]</text>
<text x="113.0" y="1169.8" font-size="15.2" text-anchor="middle" textLength="131" lengthAdjust="spacingAndGlyphs">Temperature [°C]</text>
<g fill="none" stroke="#696969" stroke-width="1.1">
<circle r="2.6" cx="341.2" cy="1050.1"/>
<circle r="2.6" cx="341.0" cy="1051.5"/>
<circle r="2.6" cx="340.9" cy="1052.2"/>
<circle r="2.6" cx="341.0" cy="1053.3"/>
<circle r="2.6" cx="341.1" cy="1054.3"/>
<circle r="2.6" cx="340.9" cy="1055.6"/>
<circle r="2.6" cx="341.1" cy="1056.9"/>
<circle r="2.6" cx="341.3" cy="1057.8"/>
<circle r="2.6" cx="341.3" cy="1058.9"/>
<circle r="2.6" cx="341.3" cy="1059.9"/>
<circle r="2.6" cx="341.3" cy="1060.9"/>
<circle r="2.6" cx="341.0" cy="1062.6"/>
<circle r="2.6" cx="341.2" cy="1063.4"/>
<circle r="2.6" cx="341.0" cy="1064.7"/>
<circle r="2.6" cx="341.1" cy="1065.7"/>
<circle r="2.6" cx="341.2" cy="1066.4"/>
<circle r="2.6" cx="341.1" cy="1068.1"/>
<circle r="2.6" cx="341.1" cy="1068.9"/>
<circle r="2.6" cx="341.2" cy="1070.3"/>
<circle r="2.6" cx="341.2" cy="1071.4"/>
<circle r="2.6" cx="341.2" cy="1072.0"/>
<circle r="2.6" cx="341.2" cy="1073.7"/>
<circle r="2.6" cx="341.1" cy="1074.3"/>
<circle r="2.6" cx="341.3" cy="1075.6"/>
<circle r="2.6" cx="349.7" cy="1053.0"/>
<circle r="2.6" cx="349.9" cy="1054.0"/>
<circle r="2.6" cx="349.6" cy="1055.3"/>
<circle r="2.6" cx="349.5" cy="1056.2"/>
<circle r="2.6" cx="349.9" cy="1057.1"/>
<circle r="2.6" cx="349.8" cy="1058.6"/>
<circle r="2.6" cx="349.6" cy="1059.8"/>
<circle r="2.6" cx="349.8" cy="1060.9"/>
<circle r="2.6" cx="349.7" cy="1061.4"/>
<circle r="2.6" cx="349.7" cy="1063.0"/>
<circle r="2.6" cx="349.9" cy="1063.8"/>
<circle r="2.6" cx="349.6" cy="1065.0"/>
<circle r="2.6" cx="349.6" cy="1066.1"/>
<circle r="2.6" cx="349.8" cy="1067.1"/>
<circle r="2.6" cx="349.5" cy="1068.0"/>
<circle r="2.6" cx="349.6" cy="1069.2"/>
<circle r="2.6" cx="349.5" cy="1070.4"/>
<circle r="2.6" cx="349.5" cy="1071.8"/>
<circle r="2.6" cx="349.8" cy="1072.4"/>
<circle r="2.6" cx="349.6" cy="1073.7"/>
<circle r="2.6" cx="349.5" cy="1074.9"/>
<circle r="2.6" cx="349.7" cy="1075.8"/>
<circle r="2.6" cx="349.7" cy="1077.3"/>
<circle r="2.6" cx="349.8" cy="1078.3"/>
<circle r="2.6" cx="349.8" cy="1078.9"/>
<circle r="2.6" cx="349.9" cy="1080.5"/>
<circle r="2.6" cx="349.7" cy="1081.4"/>
<circle r="2.6" cx="349.9" cy="1082.6"/>
<circle r="2.6" cx="349.9" cy="1083.8"/>
<circle r="2.6" cx="349.6" cy="1085.0"/>
<circle r="2.6" cx="349.8" cy="1086.0"/>
<circle r="2.6" cx="349.8" cy="1087.1"/>
<circle r="2.6" cx="349.8" cy="1088.0"/>
<circle r="2.6" cx="349.8" cy="1089.0"/>
<circle r="2.6" cx="349.5" cy="1090.4"/>
<circle r="2.6" cx="349.8" cy="1091.3"/>
<circle r="2.6" cx="349.9" cy="1092.4"/>
<circle r="2.6" cx="349.6" cy="1093.4"/>
<circle r="2.6" cx="352.5" cy="1058.3"/>
<circle r="2.6" cx="352.9" cy="1059.3"/>
<circle r="2.6" cx="352.9" cy="1060.6"/>
<circle r="2.6" cx="352.9" cy="1061.6"/>
<circle r="2.6" cx="352.7" cy="1062.6"/>
<circle r="2.6" cx="352.6" cy="1063.9"/>
<circle r="2.6" cx="352.5" cy="1064.6"/>
<circle r="2.6" cx="352.6" cy="1066.0"/>
<circle r="2.6" cx="352.9" cy="1066.9"/>
<circle r="2.6" cx="352.5" cy="1068.3"/>
<circle r="2.6" cx="352.7" cy="1069.2"/>
<circle r="2.6" cx="352.6" cy="1070.1"/>
<circle r="2.6" cx="352.8" cy="1071.2"/>
<circle r="2.6" cx="352.7" cy="1072.7"/>
<circle r="2.6" cx="352.6" cy="1073.8"/>
<circle r="2.6" cx="352.9" cy="1074.4"/>
<circle r="2.6" cx="352.6" cy="1075.7"/>
<circle r="2.6" cx="352.9" cy="1076.8"/>
<circle r="2.6" cx="352.5" cy="1077.7"/>
<circle r="2.6" cx="352.8" cy="1079.0"/>
<circle r="2.6" cx="352.7" cy="1079.8"/>
<circle r="2.6" cx="352.7" cy="1081.4"/>
<circle r="2.6" cx="352.6" cy="1082.1"/>
<circle r="2.6" cx="352.7" cy="1083.5"/>
<circle r="2.6" cx="352.6" cy="1084.4"/>
<circle r="2.6" cx="352.7" cy="1085.8"/>
<circle r="2.6" cx="352.6" cy="1086.8"/>
<circle r="2.6" cx="352.5" cy="1087.7"/>
<circle r="2.6" cx="352.7" cy="1088.8"/>
<circle r="2.6" cx="352.5" cy="1089.7"/>
<circle r="2.6" cx="352.8" cy="1091.1"/>
<circle r="2.6" cx="352.8" cy="1092.3"/>
<circle r="2.6" cx="352.6" cy="1093.4"/>
<circle r="2.6" cx="352.7" cy="1093.9"/>
<circle r="2.6" cx="352.8" cy="1095.2"/>
<circle r="2.6" cx="352.9" cy="1096.4"/>
<circle r="2.6" cx="352.9" cy="1097.5"/>
<circle r="2.6" cx="349.7" cy="1040.9"/>
<circle r="2.6" cx="349.7" cy="1045.7"/>
<circle r="2.6" cx="352.7" cy="1100.6"/>
</g>
<line x1="232.5" y1="1067.25" x2="368.6" y2="1067.25" stroke="#111" stroke-width="1.6"/>
<rect x="232.5" y="998.5" width="136.1" height="136.7" fill="none" stroke="#1a1a1a" stroke-width="1.05"/>
<line x1="229.0" y1="1129.94" x2="232.5" y2="1129.94" stroke="#333" stroke-width="1.0"/>
<text x="225.9" y="1134.74" font-size="14" text-anchor="end" textLength="7.6" lengthAdjust="spacingAndGlyphs">6</text>
<rect x="208.1" y="1130.39" width="8.3" height="1.05" fill="#000"/>
<line x1="229.0" y1="1108.91" x2="232.5" y2="1108.91" stroke="#333" stroke-width="1.0"/>
<text x="225.9" y="1113.71" font-size="14" text-anchor="end" textLength="7.6" lengthAdjust="spacingAndGlyphs">4</text>
<rect x="208.1" y="1109.36" width="8.3" height="1.05" fill="#000"/>
<line x1="229.0" y1="1087.88" x2="232.5" y2="1087.88" stroke="#333" stroke-width="1.0"/>
<text x="225.9" y="1092.68" font-size="14" text-anchor="end" textLength="7.6" lengthAdjust="spacingAndGlyphs">2</text>
<rect x="208.1" y="1088.33" width="8.3" height="1.05" fill="#000"/>
<line x1="229.0" y1="1066.85" x2="232.5" y2="1066.85" stroke="#333" stroke-width="1.0"/>
<text x="225.9" y="1071.65" font-size="14" text-anchor="end" textLength="7.6" lengthAdjust="spacingAndGlyphs">0</text>
<line x1="229.0" y1="1045.82" x2="232.5" y2="1045.82" stroke="#333" stroke-width="1.0"/>
<text x="225.9" y="1050.62" font-size="14" text-anchor="end" textLength="7.6" lengthAdjust="spacingAndGlyphs">2</text>
<line x1="229.0" y1="1024.79" x2="232.5" y2="1024.79" stroke="#333" stroke-width="1.0"/>
<text x="225.9" y="1029.59" font-size="14" text-anchor="end" textLength="7.6" lengthAdjust="spacingAndGlyphs">4</text>
<line x1="229.0" y1="1003.76" x2="232.5" y2="1003.76" stroke="#333" stroke-width="1.0"/>
<text x="225.9" y="1008.56" font-size="14" text-anchor="end" textLength="7.6" lengthAdjust="spacingAndGlyphs">6</text>
<line x1="267.62" y1="1135.2" x2="267.62" y2="1138.7" stroke="#333" stroke-width="1.0"/>
<text x="267.62" y="1152.0" font-size="14" text-anchor="middle" textLength="21.0" lengthAdjust="spacingAndGlyphs">0.8</text>
<line x1="311.53" y1="1135.2" x2="311.53" y2="1138.7" stroke="#333" stroke-width="1.0"/>
<text x="311.53" y="1152.0" font-size="14" text-anchor="middle" textLength="21.0" lengthAdjust="spacingAndGlyphs">0.9</text>
<line x1="355.43" y1="1135.2" x2="355.43" y2="1138.7" stroke="#333" stroke-width="1.0"/>
<text x="355.43" y="1152.0" font-size="14" text-anchor="middle" textLength="21.0" lengthAdjust="spacingAndGlyphs">1.0</text>
<text transform="translate(199.8,1066.8) rotate(-90)" font-size="15.2" text-anchor="middle" textLength="144.5" lengthAdjust="spacingAndGlyphs">Residuals [log CFU]</text>
<text x="300.1" y="1169.8" font-size="15.2" text-anchor="middle" textLength="39.5" lengthAdjust="spacingAndGlyphs"><tspan font-style="italic">a</tspan><tspan font-style="italic" font-size="10.6" dy="2.6">w</tspan><tspan dy="-2.6"> [-]</tspan></text>
<g fill="none" stroke="#4682b4" stroke-width="1.1">
<circle r="2.6" cx="511.6" cy="1057.7"/>
<circle r="2.6" cx="511.4" cy="1058.7"/>
<circle r="2.6" cx="511.3" cy="1059.8"/>
<circle r="2.6" cx="511.6" cy="1061.0"/>
<circle r="2.6" cx="511.5" cy="1062.1"/>
<circle r="2.6" cx="511.4" cy="1063.2"/>
<circle r="2.6" cx="511.4" cy="1064.6"/>
<circle r="2.6" cx="511.6" cy="1065.2"/>
<circle r="2.6" cx="511.3" cy="1066.6"/>
<circle r="2.6" cx="511.6" cy="1067.7"/>
<circle r="2.6" cx="511.4" cy="1068.7"/>
<circle r="2.6" cx="511.6" cy="1070.0"/>
<circle r="2.6" cx="511.4" cy="1071.3"/>
<circle r="2.6" cx="511.3" cy="1072.1"/>
<circle r="2.6" cx="511.4" cy="1073.6"/>
<circle r="2.6" cx="511.5" cy="1074.6"/>
<circle r="2.6" cx="511.7" cy="1075.3"/>
<circle r="2.6" cx="511.3" cy="1076.5"/>
<circle r="2.6" cx="511.4" cy="1078.0"/>
<circle r="2.6" cx="511.3" cy="1078.6"/>
<circle r="2.6" cx="511.6" cy="1080.1"/>
<circle r="2.6" cx="511.5" cy="1081.0"/>
<circle r="2.6" cx="511.7" cy="1082.0"/>
<circle r="2.6" cx="511.3" cy="1083.0"/>
<circle r="2.6" cx="511.7" cy="1084.4"/>
<circle r="2.6" cx="524.1" cy="1062.0"/>
<circle r="2.6" cx="524.1" cy="1063.3"/>
<circle r="2.6" cx="523.8" cy="1064.5"/>
<circle r="2.6" cx="524.0" cy="1065.2"/>
<circle r="2.6" cx="523.9" cy="1066.3"/>
<circle r="2.6" cx="524.1" cy="1067.5"/>
<circle r="2.6" cx="524.1" cy="1068.6"/>
<circle r="2.6" cx="524.1" cy="1070.0"/>
<circle r="2.6" cx="511.5" cy="1037.8"/>
<circle r="2.6" cx="511.5" cy="1039.4"/>
<circle r="2.6" cx="511.5" cy="1042.2"/>
<circle r="2.6" cx="523.9" cy="1032.6"/>
<circle r="2.6" cx="523.9" cy="1033.8"/>
<circle r="2.6" cx="523.9" cy="1049.4"/>
<circle r="2.6" cx="523.9" cy="1054.6"/>
<circle r="2.6" cx="525.5" cy="1066.7"/>
</g>
<g fill="none" stroke="#696969" stroke-width="1.1">
<circle r="2.6" cx="485.6" cy="1050.5"/>
<circle r="2.6" cx="485.6" cy="1051.6"/>
<circle r="2.6" cx="485.6" cy="1052.5"/>
<circle r="2.6" cx="485.6" cy="1053.7"/>
<circle r="2.6" cx="485.9" cy="1054.9"/>
<circle r="2.6" cx="486.0" cy="1056.0"/>
<circle r="2.6" cx="486.0" cy="1057.2"/>
<circle r="2.6" cx="485.9" cy="1058.0"/>
<circle r="2.6" cx="486.0" cy="1059.4"/>
<circle r="2.6" cx="485.7" cy="1060.5"/>
<circle r="2.6" cx="485.8" cy="1061.7"/>
<circle r="2.6" cx="485.6" cy="1062.7"/>
<circle r="2.6" cx="485.9" cy="1063.7"/>
<circle r="2.6" cx="485.9" cy="1064.9"/>
<circle r="2.6" cx="485.8" cy="1065.7"/>
<circle r="2.6" cx="485.6" cy="1066.9"/>
<circle r="2.6" cx="486.0" cy="1067.9"/>
<circle r="2.6" cx="485.9" cy="1068.9"/>
<circle r="2.6" cx="485.7" cy="1069.9"/>
<circle r="2.6" cx="485.8" cy="1071.0"/>
<circle r="2.6" cx="485.6" cy="1072.1"/>
<circle r="2.6" cx="485.7" cy="1073.7"/>
<circle r="2.6" cx="485.6" cy="1074.3"/>
<circle r="2.6" cx="485.6" cy="1075.6"/>
<circle r="2.6" cx="506.9" cy="1058.5"/>
<circle r="2.6" cx="506.8" cy="1059.6"/>
<circle r="2.6" cx="506.8" cy="1060.8"/>
<circle r="2.6" cx="506.9" cy="1061.9"/>
<circle r="2.6" cx="507.1" cy="1063.0"/>
<circle r="2.6" cx="507.2" cy="1063.8"/>
<circle r="2.6" cx="506.9" cy="1065.2"/>
<circle r="2.6" cx="507.0" cy="1066.2"/>
<circle r="2.6" cx="507.1" cy="1067.6"/>
<circle r="2.6" cx="507.2" cy="1068.1"/>
<circle r="2.6" cx="507.2" cy="1069.5"/>
<circle r="2.6" cx="506.9" cy="1070.4"/>
<circle r="2.6" cx="507.2" cy="1072.0"/>
<circle r="2.6" cx="507.0" cy="1072.9"/>
<circle r="2.6" cx="506.9" cy="1073.8"/>
<circle r="2.6" cx="507.0" cy="1075.0"/>
<circle r="2.6" cx="507.1" cy="1076.1"/>
<circle r="2.6" cx="507.1" cy="1077.5"/>
<circle r="2.6" cx="506.8" cy="1078.5"/>
<circle r="2.6" cx="506.9" cy="1079.5"/>
<circle r="2.6" cx="506.9" cy="1080.3"/>
<circle r="2.6" cx="507.2" cy="1081.9"/>
<circle r="2.6" cx="506.8" cy="1082.7"/>
<circle r="2.6" cx="506.8" cy="1083.9"/>
<circle r="2.6" cx="506.8" cy="1084.9"/>
<circle r="2.6" cx="506.9" cy="1086.1"/>
<circle r="2.6" cx="506.9" cy="1087.0"/>
<circle r="2.6" cx="507.1" cy="1088.1"/>
<circle r="2.6" cx="506.9" cy="1089.6"/>
<circle r="2.6" cx="507.0" cy="1090.2"/>
<circle r="2.6" cx="506.8" cy="1091.5"/>
<circle r="2.6" cx="507.1" cy="1092.8"/>
<circle r="2.6" cx="507.2" cy="1093.7"/>
<circle r="2.6" cx="507.1" cy="1094.9"/>
<circle r="2.6" cx="507.1" cy="1096.0"/>
<circle r="2.6" cx="506.8" cy="1097.4"/>
<circle r="2.6" cx="507.1" cy="1098.2"/>
<circle r="2.6" cx="507.2" cy="1099.5"/>
<circle r="2.6" cx="506.8" cy="1100.4"/>
<circle r="2.6" cx="516.1" cy="1052.9"/>
<circle r="2.6" cx="516.2" cy="1054.2"/>
<circle r="2.6" cx="516.3" cy="1055.3"/>
<circle r="2.6" cx="516.2" cy="1056.2"/>
<circle r="2.6" cx="516.3" cy="1057.0"/>
<circle r="2.6" cx="516.1" cy="1058.4"/>
<circle r="2.6" cx="516.3" cy="1059.3"/>
<circle r="2.6" cx="516.4" cy="1060.6"/>
<circle r="2.6" cx="516.4" cy="1061.4"/>
<circle r="2.6" cx="516.5" cy="1062.7"/>
<circle r="2.6" cx="516.1" cy="1063.6"/>
<circle r="2.6" cx="516.5" cy="1065.1"/>
<circle r="2.6" cx="516.3" cy="1065.8"/>
<circle r="2.6" cx="516.4" cy="1067.1"/>
<circle r="2.6" cx="516.5" cy="1068.2"/>
<circle r="2.6" cx="516.1" cy="1069.5"/>
<circle r="2.6" cx="516.3" cy="1070.1"/>
<circle r="2.6" cx="516.1" cy="1071.3"/>
<circle r="2.6" cx="516.2" cy="1072.5"/>
<circle r="2.6" cx="516.5" cy="1073.9"/>
<circle r="2.6" cx="516.2" cy="1074.9"/>
<circle r="2.6" cx="516.3" cy="1076.0"/>
<circle r="2.6" cx="516.4" cy="1076.6"/>
<circle r="2.6" cx="516.1" cy="1078.1"/>
<circle r="2.6" cx="516.4" cy="1079.1"/>
<circle r="2.6" cx="516.2" cy="1080.0"/>
<circle r="2.6" cx="516.5" cy="1081.4"/>
<circle r="2.6" cx="516.3" cy="1082.1"/>
<circle r="2.6" cx="516.5" cy="1083.3"/>
<circle r="2.6" cx="516.2" cy="1084.7"/>
<circle r="2.6" cx="516.2" cy="1085.6"/>
<circle r="2.6" cx="516.4" cy="1086.6"/>
<circle r="2.6" cx="516.2" cy="1087.5"/>
<circle r="2.6" cx="516.3" cy="1089.0"/>
<circle r="2.6" cx="516.2" cy="1089.9"/>
<circle r="2.6" cx="516.3" cy="1090.9"/>
<circle r="2.6" cx="516.5" cy="1092.3"/>
<circle r="2.6" cx="516.4" cy="1093.2"/>
<circle r="2.6" cx="516.3" cy="1040.6"/>
<circle r="2.6" cx="516.3" cy="1045.8"/>
</g>
<line x1="421.6" y1="1067.25" x2="557.7" y2="1067.25" stroke="#111" stroke-width="1.6"/>
<rect x="421.6" y="998.5" width="136.1" height="136.7" fill="none" stroke="#1a1a1a" stroke-width="1.05"/>
<line x1="418.1" y1="1129.94" x2="421.6" y2="1129.94" stroke="#333" stroke-width="1.0"/>
<text x="415.0" y="1134.74" font-size="14" text-anchor="end" textLength="7.6" lengthAdjust="spacingAndGlyphs">6</text>
<rect x="397.2" y="1130.39" width="8.3" height="1.05" fill="#000"/>
<line x1="418.1" y1="1108.91" x2="421.6" y2="1108.91" stroke="#333" stroke-width="1.0"/>
<text x="415.0" y="1113.71" font-size="14" text-anchor="end" textLength="7.6" lengthAdjust="spacingAndGlyphs">4</text>
<rect x="397.2" y="1109.36" width="8.3" height="1.05" fill="#000"/>
<line x1="418.1" y1="1087.88" x2="421.6" y2="1087.88" stroke="#333" stroke-width="1.0"/>
<text x="415.0" y="1092.68" font-size="14" text-anchor="end" textLength="7.6" lengthAdjust="spacingAndGlyphs">2</text>
<rect x="397.2" y="1088.33" width="8.3" height="1.05" fill="#000"/>
<line x1="418.1" y1="1066.85" x2="421.6" y2="1066.85" stroke="#333" stroke-width="1.0"/>
<text x="415.0" y="1071.65" font-size="14" text-anchor="end" textLength="7.6" lengthAdjust="spacingAndGlyphs">0</text>
<line x1="418.1" y1="1045.82" x2="421.6" y2="1045.82" stroke="#333" stroke-width="1.0"/>
<text x="415.0" y="1050.62" font-size="14" text-anchor="end" textLength="7.6" lengthAdjust="spacingAndGlyphs">2</text>
<line x1="418.1" y1="1024.79" x2="421.6" y2="1024.79" stroke="#333" stroke-width="1.0"/>
<text x="415.0" y="1029.59" font-size="14" text-anchor="end" textLength="7.6" lengthAdjust="spacingAndGlyphs">4</text>
<line x1="418.1" y1="1003.76" x2="421.6" y2="1003.76" stroke="#333" stroke-width="1.0"/>
<text x="415.0" y="1008.56" font-size="14" text-anchor="end" textLength="7.6" lengthAdjust="spacingAndGlyphs">6</text>
<line x1="434.44" y1="1135.2" x2="434.44" y2="1138.7" stroke="#333" stroke-width="1.0"/>
<text x="434.44" y="1152.0" font-size="14" text-anchor="middle" textLength="7.8" lengthAdjust="spacingAndGlyphs">3</text>
<line x1="485.80" y1="1135.2" x2="485.80" y2="1138.7" stroke="#333" stroke-width="1.0"/>
<text x="485.80" y="1152.0" font-size="14" text-anchor="middle" textLength="7.8" lengthAdjust="spacingAndGlyphs">5</text>
<line x1="537.16" y1="1135.2" x2="537.16" y2="1138.7" stroke="#333" stroke-width="1.0"/>
<text x="537.16" y="1152.0" font-size="14" text-anchor="middle" textLength="7.8" lengthAdjust="spacingAndGlyphs">7</text>
<text transform="translate(388.9,1066.8) rotate(-90)" font-size="15.2" text-anchor="middle" textLength="144.5" lengthAdjust="spacingAndGlyphs">Residuals [log CFU]</text>
<text x="489.7" y="1169.8" font-size="15.2" text-anchor="middle" textLength="41.2" lengthAdjust="spacingAndGlyphs">pH [-]</text>
<g fill="none" stroke="#4682b4" stroke-width="1.1">
<circle r="2.6" cx="650.4" cy="1032.3"/>
<circle r="2.6" cx="650.4" cy="1035.0"/>
<circle r="2.6" cx="647.0" cy="1039.6"/>
<circle r="2.6" cx="647.0" cy="1041.5"/>
<circle r="2.6" cx="647.0" cy="1043.8"/>
<circle r="2.6" cx="652.0" cy="1048.0"/>
<circle r="2.6" cx="671.2" cy="1068.0"/>
<circle r="2.6" cx="671.2" cy="1071.1"/>
<circle r="2.6" cx="669.6" cy="1077.2"/>
<circle r="2.6" cx="669.6" cy="1084.1"/>
<circle r="2.6" cx="668.1" cy="1087.2"/>
<circle r="2.6" cx="667.3" cy="1092.6"/>
<circle r="2.6" cx="667.3" cy="1099.5"/>
<circle r="2.6" cx="659.6" cy="1089.5"/>
<circle r="2.6" cx="658.9" cy="1098.0"/>
<circle r="2.6" cx="658.5" cy="1106.4"/>
</g>
<g fill="none" stroke="#696969" stroke-width="1.1">
<circle r="2.6" cx="646.7" cy="1056.3"/>
<circle r="2.6" cx="648.8" cy="1056.6"/>
<circle r="2.6" cx="650.9" cy="1056.5"/>
<circle r="2.6" cx="652.9" cy="1056.3"/>
<circle r="2.6" cx="654.6" cy="1056.2"/>
<circle r="2.6" cx="657.0" cy="1056.5"/>
<circle r="2.6" cx="647.4" cy="1057.7"/>
<circle r="2.6" cx="649.4" cy="1057.3"/>
<circle r="2.6" cx="651.3" cy="1057.0"/>
<circle r="2.6" cx="653.7" cy="1057.7"/>
<circle r="2.6" cx="655.5" cy="1057.1"/>
<circle r="2.6" cx="657.9" cy="1057.6"/>
<circle r="2.6" cx="660.1" cy="1057.7"/>
<circle r="2.6" cx="646.5" cy="1058.4"/>
<circle r="2.6" cx="648.5" cy="1058.8"/>
<circle r="2.6" cx="651.0" cy="1058.5"/>
<circle r="2.6" cx="653.1" cy="1058.8"/>
<circle r="2.6" cx="654.6" cy="1058.8"/>
<circle r="2.6" cx="656.6" cy="1058.9"/>
<circle r="2.6" cx="658.8" cy="1058.7"/>
<circle r="2.6" cx="660.8" cy="1058.5"/>
<circle r="2.6" cx="662.8" cy="1058.9"/>
<circle r="2.6" cx="645.5" cy="1060.0"/>
<circle r="2.6" cx="647.9" cy="1059.8"/>
<circle r="2.6" cx="649.6" cy="1059.7"/>
<circle r="2.6" cx="651.5" cy="1060.1"/>
<circle r="2.6" cx="653.4" cy="1059.5"/>
<circle r="2.6" cx="655.8" cy="1060.1"/>
<circle r="2.6" cx="657.3" cy="1059.6"/>
<circle r="2.6" cx="660.0" cy="1060.2"/>
<circle r="2.6" cx="661.8" cy="1059.8"/>
<circle r="2.6" cx="663.7" cy="1060.1"/>
<circle r="2.6" cx="645.1" cy="1061.0"/>
<circle r="2.6" cx="646.8" cy="1061.3"/>
<circle r="2.6" cx="649.0" cy="1061.0"/>
<circle r="2.6" cx="650.3" cy="1061.4"/>
<circle r="2.6" cx="652.6" cy="1061.1"/>
<circle r="2.6" cx="654.8" cy="1060.7"/>
<circle r="2.6" cx="656.3" cy="1061.0"/>
<circle r="2.6" cx="659.0" cy="1061.1"/>
<circle r="2.6" cx="661.0" cy="1060.9"/>
<circle r="2.6" cx="662.7" cy="1061.2"/>
<circle r="2.6" cx="664.5" cy="1060.9"/>
<circle r="2.6" cx="644.0" cy="1062.0"/>
<circle r="2.6" cx="645.4" cy="1062.1"/>
<circle r="2.6" cx="647.6" cy="1062.4"/>
<circle r="2.6" cx="649.6" cy="1062.3"/>
<circle r="2.6" cx="651.5" cy="1062.4"/>
<circle r="2.6" cx="654.0" cy="1062.0"/>
<circle r="2.6" cx="655.7" cy="1062.6"/>
<circle r="2.6" cx="657.3" cy="1061.9"/>
<circle r="2.6" cx="659.5" cy="1062.1"/>
<circle r="2.6" cx="661.6" cy="1061.8"/>
<circle r="2.6" cx="663.5" cy="1061.8"/>
<circle r="2.6" cx="642.6" cy="1063.3"/>
<circle r="2.6" cx="644.6" cy="1063.5"/>
<circle r="2.6" cx="646.3" cy="1063.6"/>
<circle r="2.6" cx="648.8" cy="1063.1"/>
<circle r="2.6" cx="650.7" cy="1063.8"/>
<circle r="2.6" cx="653.1" cy="1063.7"/>
<circle r="2.6" cx="654.5" cy="1063.7"/>
<circle r="2.6" cx="656.7" cy="1063.6"/>
<circle r="2.6" cx="658.8" cy="1063.6"/>
<circle r="2.6" cx="660.7" cy="1063.1"/>
<circle r="2.6" cx="663.0" cy="1063.1"/>
<circle r="2.6" cx="664.5" cy="1063.7"/>
<circle r="2.6" cx="643.6" cy="1064.6"/>
<circle r="2.6" cx="646.1" cy="1064.9"/>
<circle r="2.6" cx="647.8" cy="1064.8"/>
<circle r="2.6" cx="649.6" cy="1064.7"/>
<circle r="2.6" cx="652.0" cy="1064.3"/>
<circle r="2.6" cx="653.6" cy="1064.6"/>
<circle r="2.6" cx="655.5" cy="1064.9"/>
<circle r="2.6" cx="658.0" cy="1064.2"/>
<circle r="2.6" cx="659.7" cy="1064.6"/>
<circle r="2.6" cx="661.3" cy="1064.9"/>
<circle r="2.6" cx="663.6" cy="1064.4"/>
<circle r="2.6" cx="642.5" cy="1065.5"/>
<circle r="2.6" cx="644.8" cy="1066.2"/>
<circle r="2.6" cx="646.7" cy="1065.4"/>
<circle r="2.6" cx="649.0" cy="1066.0"/>
<circle r="2.6" cx="650.7" cy="1065.9"/>
<circle r="2.6" cx="652.5" cy="1066.0"/>
<circle r="2.6" cx="655.1" cy="1065.5"/>
<circle r="2.6" cx="656.6" cy="1065.7"/>
<circle r="2.6" cx="658.4" cy="1065.5"/>
<circle r="2.6" cx="660.6" cy="1065.4"/>
<circle r="2.6" cx="662.8" cy="1065.6"/>
<circle r="2.6" cx="664.7" cy="1066.1"/>
<circle r="2.6" cx="641.9" cy="1066.8"/>
<circle r="2.6" cx="643.4" cy="1067.1"/>
<circle r="2.6" cx="645.3" cy="1067.0"/>
<circle r="2.6" cx="647.4" cy="1067.1"/>
<circle r="2.6" cx="649.7" cy="1067.0"/>
<circle r="2.6" cx="651.9" cy="1066.9"/>
<circle r="2.6" cx="653.6" cy="1066.9"/>
<circle r="2.6" cx="655.4" cy="1066.7"/>
<circle r="2.6" cx="657.5" cy="1066.9"/>
<circle r="2.6" cx="659.3" cy="1067.3"/>
<circle r="2.6" cx="661.9" cy="1067.4"/>
<circle r="2.6" cx="664.0" cy="1066.6"/>
<circle r="2.6" cx="640.9" cy="1068.5"/>
<circle r="2.6" cx="643.0" cy="1068.4"/>
<circle r="2.6" cx="645.0" cy="1068.3"/>
<circle r="2.6" cx="646.6" cy="1068.1"/>
<circle r="2.6" cx="648.8" cy="1068.3"/>
<circle r="2.6" cx="650.9" cy="1067.9"/>
<circle r="2.6" cx="652.6" cy="1068.4"/>
<circle r="2.6" cx="654.8" cy="1068.1"/>
<circle r="2.6" cx="656.7" cy="1068.0"/>
<circle r="2.6" cx="658.9" cy="1068.4"/>
<circle r="2.6" cx="660.5" cy="1068.0"/>
<circle r="2.6" cx="662.6" cy="1068.4"/>
<circle r="2.6" cx="664.3" cy="1068.6"/>
<circle r="2.6" cx="640.1" cy="1069.6"/>
<circle r="2.6" cx="641.8" cy="1069.3"/>
<circle r="2.6" cx="644.0" cy="1069.0"/>
<circle r="2.6" cx="645.4" cy="1069.5"/>
<circle r="2.6" cx="647.5" cy="1069.2"/>
<circle r="2.6" cx="649.4" cy="1069.6"/>
<circle r="2.6" cx="652.0" cy="1069.4"/>
<circle r="2.6" cx="653.3" cy="1069.6"/>
<circle r="2.6" cx="655.9" cy="1069.3"/>
<circle r="2.6" cx="657.4" cy="1069.3"/>
<circle r="2.6" cx="659.5" cy="1069.1"/>
<circle r="2.6" cx="662.1" cy="1069.6"/>
<circle r="2.6" cx="663.7" cy="1069.3"/>
<circle r="2.6" cx="640.4" cy="1070.7"/>
<circle r="2.6" cx="642.6" cy="1070.8"/>
<circle r="2.6" cx="644.4" cy="1070.6"/>
<circle r="2.6" cx="646.7" cy="1070.7"/>
<circle r="2.6" cx="648.5" cy="1070.4"/>
<circle r="2.6" cx="650.9" cy="1070.7"/>
<circle r="2.6" cx="652.7" cy="1070.6"/>
<circle r="2.6" cx="654.5" cy="1071.0"/>
<circle r="2.6" cx="656.4" cy="1070.6"/>
<circle r="2.6" cx="658.3" cy="1070.2"/>
<circle r="2.6" cx="660.9" cy="1070.7"/>
<circle r="2.6" cx="662.6" cy="1070.9"/>
<circle r="2.6" cx="664.3" cy="1070.5"/>
<circle r="2.6" cx="640.1" cy="1072.0"/>
<circle r="2.6" cx="641.7" cy="1072.0"/>
<circle r="2.6" cx="644.0" cy="1071.7"/>
<circle r="2.6" cx="645.4" cy="1072.1"/>
<circle r="2.6" cx="647.7" cy="1072.1"/>
<circle r="2.6" cx="649.8" cy="1071.6"/>
<circle r="2.6" cx="651.3" cy="1071.9"/>
<circle r="2.6" cx="653.7" cy="1071.7"/>
<circle r="2.6" cx="655.9" cy="1071.7"/>
<circle r="2.6" cx="658.0" cy="1071.5"/>
<circle r="2.6" cx="659.3" cy="1071.7"/>
<circle r="2.6" cx="661.4" cy="1072.1"/>
<circle r="2.6" cx="663.8" cy="1072.2"/>
<circle r="2.6" cx="640.5" cy="1073.3"/>
<circle r="2.6" cx="643.1" cy="1073.3"/>
<circle r="2.6" cx="644.9" cy="1072.7"/>
<circle r="2.6" cx="647.0" cy="1072.7"/>
<circle r="2.6" cx="648.6" cy="1072.7"/>
<circle r="2.6" cx="650.4" cy="1073.4"/>
<circle r="2.6" cx="652.8" cy="1073.3"/>
<circle r="2.6" cx="654.6" cy="1072.9"/>
<circle r="2.6" cx="657.0" cy="1073.4"/>
<circle r="2.6" cx="658.9" cy="1073.3"/>
<circle r="2.6" cx="661.0" cy="1073.2"/>
<circle r="2.6" cx="663.0" cy="1073.2"/>
<circle r="2.6" cx="639.3" cy="1073.9"/>
<circle r="2.6" cx="641.6" cy="1074.0"/>
<circle r="2.6" cx="644.1" cy="1074.5"/>
<circle r="2.6" cx="645.7" cy="1074.0"/>
<circle r="2.6" cx="647.4" cy="1073.8"/>
<circle r="2.6" cx="649.5" cy="1074.0"/>
<circle r="2.6" cx="652.0" cy="1074.0"/>
<circle r="2.6" cx="653.7" cy="1074.3"/>
<circle r="2.6" cx="656.1" cy="1074.4"/>
<circle r="2.6" cx="657.5" cy="1074.2"/>
<circle r="2.6" cx="659.6" cy="1074.0"/>
<circle r="2.6" cx="661.9" cy="1074.3"/>
<circle r="2.6" cx="663.6" cy="1074.3"/>
<circle r="2.6" cx="640.4" cy="1075.5"/>
<circle r="2.6" cx="643.0" cy="1075.7"/>
<circle r="2.6" cx="644.7" cy="1075.2"/>
<circle r="2.6" cx="646.9" cy="1075.8"/>
<circle r="2.6" cx="648.6" cy="1075.3"/>
<circle r="2.6" cx="650.4" cy="1075.3"/>
<circle r="2.6" cx="652.9" cy="1075.4"/>
<circle r="2.6" cx="654.5" cy="1075.2"/>
<circle r="2.6" cx="656.4" cy="1075.5"/>
<circle r="2.6" cx="658.4" cy="1075.2"/>
<circle r="2.6" cx="660.6" cy="1075.6"/>
<circle r="2.6" cx="663.0" cy="1075.3"/>
<circle r="2.6" cx="639.9" cy="1076.4"/>
<circle r="2.6" cx="641.5" cy="1076.5"/>
<circle r="2.6" cx="643.8" cy="1076.8"/>
<circle r="2.6" cx="645.9" cy="1076.4"/>
<circle r="2.6" cx="647.4" cy="1076.3"/>
<circle r="2.6" cx="649.4" cy="1076.7"/>
<circle r="2.6" cx="652.0" cy="1076.9"/>
<circle r="2.6" cx="653.9" cy="1076.6"/>
<circle r="2.6" cx="655.5" cy="1076.9"/>
<circle r="2.6" cx="657.8" cy="1077.0"/>
<circle r="2.6" cx="659.8" cy="1076.3"/>
<circle r="2.6" cx="661.4" cy="1076.9"/>
<circle r="2.6" cx="640.4" cy="1077.8"/>
<circle r="2.6" cx="642.7" cy="1077.7"/>
<circle r="2.6" cx="645.1" cy="1078.1"/>
<circle r="2.6" cx="646.4" cy="1078.2"/>
<circle r="2.6" cx="648.7" cy="1077.5"/>
<circle r="2.6" cx="651.0" cy="1077.7"/>
<circle r="2.6" cx="652.7" cy="1077.6"/>
<circle r="2.6" cx="654.7" cy="1077.6"/>
<circle r="2.6" cx="657.1" cy="1077.5"/>
<circle r="2.6" cx="658.6" cy="1077.7"/>
<circle r="2.6" cx="661.0" cy="1077.8"/>
<circle r="2.6" cx="662.9" cy="1077.6"/>
<circle r="2.6" cx="639.9" cy="1079.1"/>
<circle r="2.6" cx="642.0" cy="1079.3"/>
<circle r="2.6" cx="643.6" cy="1079.1"/>
<circle r="2.6" cx="645.9" cy="1079.3"/>
<circle r="2.6" cx="647.4" cy="1079.0"/>
<circle r="2.6" cx="650.0" cy="1078.7"/>
<circle r="2.6" cx="652.1" cy="1079.1"/>
<circle r="2.6" cx="653.8" cy="1078.6"/>
<circle r="2.6" cx="655.7" cy="1079.0"/>
<circle r="2.6" cx="657.5" cy="1079.4"/>
<circle r="2.6" cx="659.8" cy="1078.9"/>
<circle r="2.6" cx="662.0" cy="1079.3"/>
<circle r="2.6" cx="640.5" cy="1079.8"/>
<circle r="2.6" cx="642.5" cy="1080.0"/>
<circle r="2.6" cx="644.6" cy="1080.6"/>
<circle r="2.6" cx="646.4" cy="1080.1"/>
<circle r="2.6" cx="648.4" cy="1080.1"/>
<circle r="2.6" cx="651.0" cy="1080.2"/>
<circle r="2.6" cx="653.0" cy="1080.0"/>
<circle r="2.6" cx="654.8" cy="1079.9"/>
<circle r="2.6" cx="656.7" cy="1079.9"/>
<circle r="2.6" cx="658.9" cy="1080.2"/>
<circle r="2.6" cx="660.8" cy="1080.3"/>
<circle r="2.6" cx="639.7" cy="1081.1"/>
<circle r="2.6" cx="641.6" cy="1081.7"/>
<circle r="2.6" cx="643.8" cy="1081.5"/>
<circle r="2.6" cx="646.0" cy="1081.5"/>
<circle r="2.6" cx="647.5" cy="1081.5"/>
<circle r="2.6" cx="650.0" cy="1081.2"/>
<circle r="2.6" cx="651.5" cy="1081.2"/>
<circle r="2.6" cx="654.1" cy="1081.2"/>
<circle r="2.6" cx="655.9" cy="1081.1"/>
<circle r="2.6" cx="657.3" cy="1081.6"/>
<circle r="2.6" cx="659.5" cy="1081.4"/>
<circle r="2.6" cx="661.8" cy="1081.2"/>
<circle r="2.6" cx="640.8" cy="1082.3"/>
<circle r="2.6" cx="642.4" cy="1082.2"/>
<circle r="2.6" cx="644.8" cy="1082.8"/>
<circle r="2.6" cx="646.7" cy="1082.5"/>
<circle r="2.6" cx="649.1" cy="1082.4"/>
<circle r="2.6" cx="651.0" cy="1083.0"/>
<circle r="2.6" cx="652.9" cy="1082.9"/>
<circle r="2.6" cx="654.6" cy="1082.7"/>
<circle r="2.6" cx="657.0" cy="1082.3"/>
<circle r="2.6" cx="658.7" cy="1082.8"/>
<circle r="2.6" cx="660.9" cy="1082.7"/>
<circle r="2.6" cx="640.1" cy="1084.1"/>
<circle r="2.6" cx="642.1" cy="1084.1"/>
<circle r="2.6" cx="643.7" cy="1084.2"/>
<circle r="2.6" cx="645.8" cy="1083.5"/>
<circle r="2.6" cx="647.8" cy="1083.9"/>
<circle r="2.6" cx="649.5" cy="1084.0"/>
<circle r="2.6" cx="651.9" cy="1084.2"/>
<circle r="2.6" cx="653.7" cy="1083.8"/>
<circle r="2.6" cx="655.8" cy="1084.0"/>
<circle r="2.6" cx="657.9" cy="1083.5"/>
<circle r="2.6" cx="659.9" cy="1083.5"/>
<circle r="2.6" cx="640.5" cy="1084.7"/>
<circle r="2.6" cx="642.9" cy="1084.6"/>
<circle r="2.6" cx="645.1" cy="1084.9"/>
<circle r="2.6" cx="646.5" cy="1085.1"/>
<circle r="2.6" cx="649.1" cy="1085.2"/>
<circle r="2.6" cx="650.6" cy="1084.9"/>
<circle r="2.6" cx="652.8" cy="1084.8"/>
<circle r="2.6" cx="654.5" cy="1085.1"/>
<circle r="2.6" cx="656.4" cy="1085.1"/>
<circle r="2.6" cx="658.9" cy="1085.3"/>
<circle r="2.6" cx="660.6" cy="1085.1"/>
<circle r="2.6" cx="641.6" cy="1086.3"/>
<circle r="2.6" cx="643.6" cy="1086.1"/>
<circle r="2.6" cx="645.9" cy="1086.0"/>
<circle r="2.6" cx="648.1" cy="1086.2"/>
<circle r="2.6" cx="649.5" cy="1086.1"/>
<circle r="2.6" cx="651.4" cy="1086.4"/>
<circle r="2.6" cx="653.6" cy="1085.9"/>
<circle r="2.6" cx="655.6" cy="1086.4"/>
<circle r="2.6" cx="657.6" cy="1085.8"/>
<circle r="2.6" cx="659.6" cy="1086.2"/>
<circle r="2.6" cx="642.9" cy="1087.2"/>
<circle r="2.6" cx="644.5" cy="1087.4"/>
<circle r="2.6" cx="646.8" cy="1087.8"/>
<circle r="2.6" cx="648.7" cy="1087.1"/>
<circle r="2.6" cx="650.7" cy="1087.1"/>
<circle r="2.6" cx="652.7" cy="1087.5"/>
<circle r="2.6" cx="654.4" cy="1087.3"/>
<circle r="2.6" cx="656.8" cy="1087.1"/>
<circle r="2.6" cx="658.6" cy="1087.3"/>
<circle r="2.6" cx="645.9" cy="1088.7"/>
<circle r="2.6" cx="647.3" cy="1088.5"/>
<circle r="2.6" cx="649.7" cy="1088.6"/>
<circle r="2.6" cx="651.6" cy="1088.5"/>
<circle r="2.6" cx="654.1" cy="1088.6"/>
<circle r="2.6" cx="656.0" cy="1088.5"/>
<circle r="2.6" cx="657.7" cy="1088.8"/>
<circle r="2.6" cx="659.6" cy="1089.0"/>
<circle r="2.6" cx="646.6" cy="1090.1"/>
<circle r="2.6" cx="649.0" cy="1089.5"/>
<circle r="2.6" cx="650.6" cy="1089.6"/>
<circle r="2.6" cx="652.7" cy="1090.2"/>
<circle r="2.6" cx="654.8" cy="1089.8"/>
<circle r="2.6" cx="656.5" cy="1089.7"/>
<circle r="2.6" cx="658.3" cy="1090.1"/>
<circle r="2.6" cx="649.3" cy="1091.2"/>
<circle r="2.6" cx="651.4" cy="1091.0"/>
<circle r="2.6" cx="654.0" cy="1091.0"/>
<circle r="2.6" cx="656.0" cy="1090.7"/>
<circle r="2.6" cx="658.1" cy="1091.4"/>
<circle r="2.6" cx="651.1" cy="1092.1"/>
<circle r="2.6" cx="652.7" cy="1092.6"/>
<circle r="2.6" cx="654.8" cy="1092.3"/>
<circle r="2.6" cx="656.3" cy="1092.0"/>
<circle r="2.6" cx="658.5" cy="1092.0"/>
<circle r="2.6" cx="651.8" cy="1093.2"/>
<circle r="2.6" cx="653.9" cy="1093.8"/>
<circle r="2.6" cx="655.7" cy="1093.1"/>
<circle r="2.6" cx="657.9" cy="1093.8"/>
<circle r="2.6" cx="652.5" cy="1095.0"/>
<circle r="2.6" cx="655.0" cy="1094.6"/>
<circle r="2.6" cx="656.6" cy="1094.6"/>
<circle r="2.6" cx="655.8" cy="1095.6"/>
<circle r="2.6" cx="658.0" cy="1095.9"/>
<circle r="2.6" cx="656.8" cy="1097.4"/>
<circle r="2.6" cx="639.7" cy="1069.0"/>
<circle r="2.6" cx="640.9" cy="1066.7"/>
<circle r="2.6" cx="642.1" cy="1064.3"/>
<circle r="2.6" cx="643.4" cy="1062.0"/>
<circle r="2.6" cx="644.6" cy="1059.7"/>
<circle r="2.6" cx="645.8" cy="1057.3"/>
<circle r="2.6" cx="647.0" cy="1055.0"/>
<circle r="2.6" cx="649.7" cy="1055.2"/>
<circle r="2.6" cx="652.3" cy="1055.3"/>
<circle r="2.6" cx="655.0" cy="1055.5"/>
<circle r="2.6" cx="657.5" cy="1056.3"/>
<circle r="2.6" cx="660.0" cy="1057.1"/>
<circle r="2.6" cx="662.5" cy="1057.9"/>
<circle r="2.6" cx="665.0" cy="1058.7"/>
<circle r="2.6" cx="665.0" cy="1061.2"/>
<circle r="2.6" cx="665.0" cy="1063.6"/>
<circle r="2.6" cx="665.0" cy="1066.1"/>
<circle r="2.6" cx="665.0" cy="1068.5"/>
<circle r="2.6" cx="665.0" cy="1071.0"/>
<circle r="2.6" cx="664.3" cy="1073.5"/>
<circle r="2.6" cx="663.5" cy="1076.0"/>
<circle r="2.6" cx="662.8" cy="1078.4"/>
<circle r="2.6" cx="662.0" cy="1080.9"/>
<circle r="2.6" cx="661.3" cy="1083.4"/>
<circle r="2.6" cx="660.6" cy="1086.0"/>
<circle r="2.6" cx="660.0" cy="1088.5"/>
<circle r="2.6" cx="659.3" cy="1091.1"/>
<circle r="2.6" cx="658.6" cy="1093.7"/>
<circle r="2.6" cx="658.0" cy="1096.2"/>
<circle r="2.6" cx="657.3" cy="1098.8"/>
<circle r="2.6" cx="655.6" cy="1097.3"/>
<circle r="2.6" cx="653.8" cy="1095.8"/>
<circle r="2.6" cx="652.1" cy="1094.2"/>
<circle r="2.6" cx="650.4" cy="1092.7"/>
<circle r="2.6" cx="648.3" cy="1091.3"/>
<circle r="2.6" cx="646.1" cy="1089.9"/>
<circle r="2.6" cx="644.0" cy="1088.5"/>
<circle r="2.6" cx="641.8" cy="1087.1"/>
<circle r="2.6" cx="639.7" cy="1085.7"/>
<circle r="2.6" cx="639.7" cy="1083.3"/>
<circle r="2.6" cx="639.7" cy="1080.9"/>
<circle r="2.6" cx="639.7" cy="1078.5"/>
<circle r="2.6" cx="639.7" cy="1076.2"/>
<circle r="2.6" cx="639.7" cy="1073.8"/>
<circle r="2.6" cx="639.7" cy="1071.4"/>
<circle r="2.6" cx="638.9" cy="1059.6"/>
<circle r="2.6" cx="639.7" cy="1086.4"/>
<circle r="2.6" cx="646.6" cy="1093.4"/>
<circle r="2.6" cx="646.6" cy="1045.7"/>
<circle r="2.6" cx="647.0" cy="1085.7"/>
<circle r="2.6" cx="657.3" cy="1049.6"/>
<circle r="2.6" cx="652.4" cy="1046.5"/>
<circle r="2.6" cx="655.0" cy="1100.3"/>
</g>
<line x1="610.6" y1="1067.25" x2="746.7" y2="1067.25" stroke="#111" stroke-width="1.6"/>
<rect x="610.6" y="998.5" width="136.1" height="136.7" fill="none" stroke="#1a1a1a" stroke-width="1.05"/>
<line x1="607.1" y1="1129.94" x2="610.6" y2="1129.94" stroke="#333" stroke-width="1.0"/>
<text x="604.0" y="1134.74" font-size="14" text-anchor="end" textLength="7.6" lengthAdjust="spacingAndGlyphs">6</text>
<rect x="586.2" y="1130.39" width="8.3" height="1.05" fill="#000"/>
<line x1="607.1" y1="1108.91" x2="610.6" y2="1108.91" stroke="#333" stroke-width="1.0"/>
<text x="604.0" y="1113.71" font-size="14" text-anchor="end" textLength="7.6" lengthAdjust="spacingAndGlyphs">4</text>
<rect x="586.2" y="1109.36" width="8.3" height="1.05" fill="#000"/>
<line x1="607.1" y1="1087.88" x2="610.6" y2="1087.88" stroke="#333" stroke-width="1.0"/>
<text x="604.0" y="1092.68" font-size="14" text-anchor="end" textLength="7.6" lengthAdjust="spacingAndGlyphs">2</text>
<rect x="586.2" y="1088.33" width="8.3" height="1.05" fill="#000"/>
<line x1="607.1" y1="1066.85" x2="610.6" y2="1066.85" stroke="#333" stroke-width="1.0"/>
<text x="604.0" y="1071.65" font-size="14" text-anchor="end" textLength="7.6" lengthAdjust="spacingAndGlyphs">0</text>
<line x1="607.1" y1="1045.82" x2="610.6" y2="1045.82" stroke="#333" stroke-width="1.0"/>
<text x="604.0" y="1050.62" font-size="14" text-anchor="end" textLength="7.6" lengthAdjust="spacingAndGlyphs">2</text>
<line x1="607.1" y1="1024.79" x2="610.6" y2="1024.79" stroke="#333" stroke-width="1.0"/>
<text x="604.0" y="1029.59" font-size="14" text-anchor="end" textLength="7.6" lengthAdjust="spacingAndGlyphs">4</text>
<line x1="607.1" y1="1003.76" x2="610.6" y2="1003.76" stroke="#333" stroke-width="1.0"/>
<text x="604.0" y="1008.56" font-size="14" text-anchor="end" textLength="7.6" lengthAdjust="spacingAndGlyphs">6</text>
<line x1="616.79" y1="1135.2" x2="616.79" y2="1138.7" stroke="#333" stroke-width="1.0"/>
<text x="616.79" y="1152.0" font-size="14" text-anchor="middle" textLength="7.8" lengthAdjust="spacingAndGlyphs">0</text>
<line x1="678.65" y1="1135.2" x2="678.65" y2="1138.7" stroke="#333" stroke-width="1.0"/>
<text x="678.65" y="1152.0" font-size="14" text-anchor="middle" textLength="7.8" lengthAdjust="spacingAndGlyphs">5</text>
<line x1="740.51" y1="1135.2" x2="740.51" y2="1138.7" stroke="#333" stroke-width="1.0"/>
<text x="740.51" y="1152.0" font-size="14" text-anchor="middle" textLength="15.6" lengthAdjust="spacingAndGlyphs">10</text>
<text transform="translate(577.9,1066.8) rotate(-90)" font-size="15.2" text-anchor="middle" textLength="144.5" lengthAdjust="spacingAndGlyphs">Residuals [log CFU]</text>
<text x="678.7" y="1169.8" font-size="15.2" text-anchor="middle" textLength="118.5" lengthAdjust="spacingAndGlyphs">log <tspan font-style="italic">N</tspan><tspan font-size="10.6" dy="2.6">0</tspan><tspan dy="-2.6"> [log CFU]</tspan></text>
</svg></body></html>
